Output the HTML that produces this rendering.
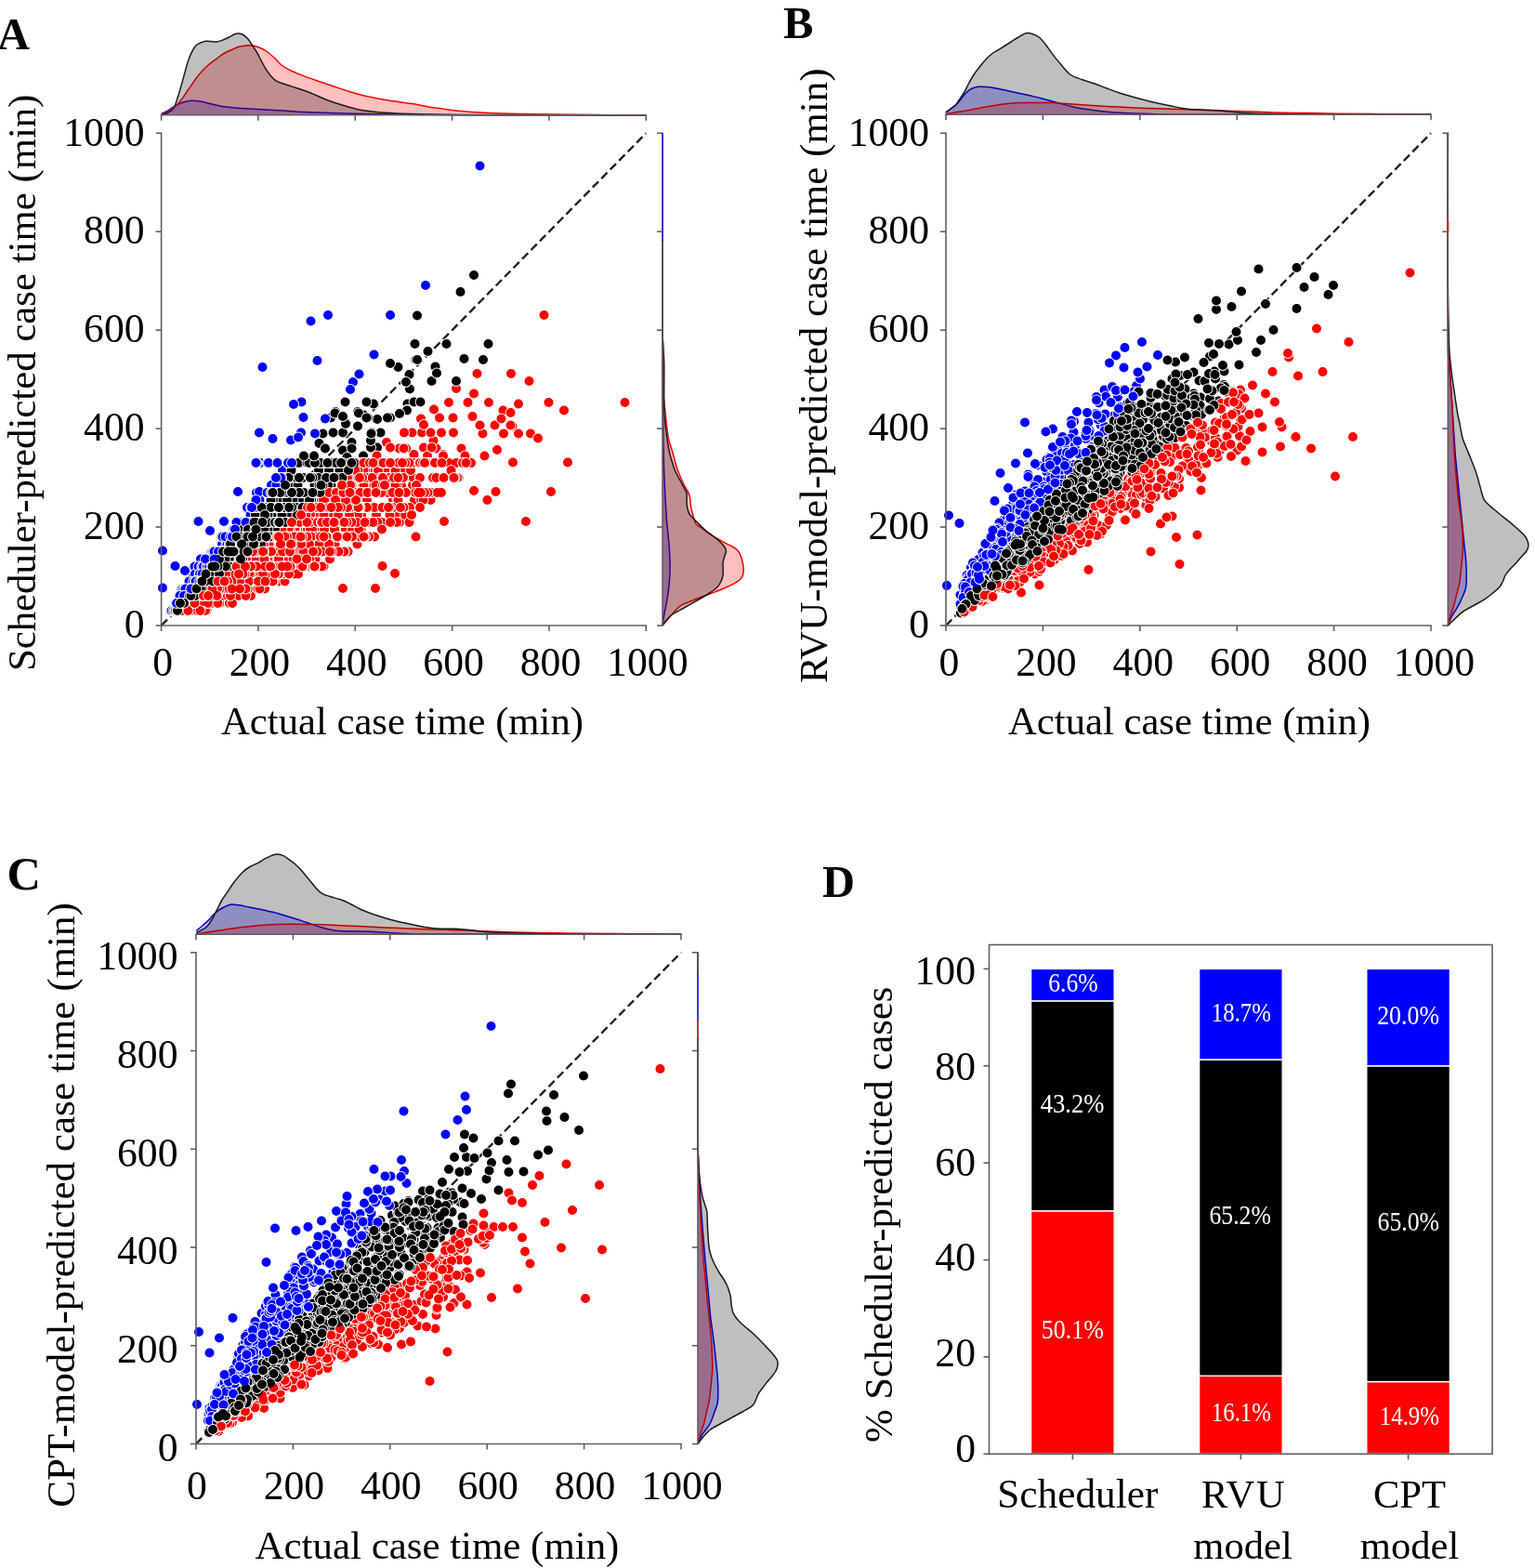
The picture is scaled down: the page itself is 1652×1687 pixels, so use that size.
<!DOCTYPE html>
<html><head><meta charset="utf-8"><title>Figure</title><style>
html,body{margin:0;padding:0;background:#fff;}
body{width:1652px;height:1687px;overflow:hidden;}
svg{display:block;}
text{font-family:'Liberation Serif','Times New Roman',serif;fill:#000;}
.tk{font-size:43.7px;}
.lb{font-size:42.6px;}
.pl{font-size:48.5px;font-weight:bold;}
.bl{font-size:28.8px;fill:#fff;}
.r{stroke:#f00;}.k{stroke:#000;}.b{stroke:#00f;}
</style></head><body>
<svg width="1652" height="1687" viewBox="0 0 1652 1687">
<rect width="100%" height="100%" fill="#fff"/>
<text x="-3" y="52.8" class="pl">A</text>
<text x="843" y="40.9" class="pl">B</text>
<text x="7.5" y="956.5" class="pl" style="font-size:50.5px">C</text>
<text x="885" y="965" class="pl">D</text>
<path d="M173.60,122.50 C174.67,122.00 177.93,120.67 180.00,119.50 C182.07,118.33 183.83,116.82 186.00,115.50 C188.17,114.18 190.67,112.65 193.00,111.60 C195.33,110.55 197.73,109.75 200.00,109.20 C202.27,108.65 203.83,108.28 206.60,108.30 C209.37,108.32 213.03,108.68 216.60,109.30 C220.17,109.92 223.60,111.05 228.00,112.00 C232.40,112.95 237.67,114.25 243.00,115.00 C248.33,115.75 254.40,116.07 260.00,116.50 C265.60,116.93 269.93,117.22 276.60,117.60 C283.27,117.98 291.67,118.30 300.00,118.80 C308.33,119.30 316.60,120.10 326.60,120.60 C336.60,121.10 348.93,121.47 360.00,121.80 C371.07,122.13 378.00,122.33 393.00,122.60 C408.00,122.87 428.83,123.20 450.00,123.40 C471.17,123.60 479.12,123.73 520.00,123.80 C560.88,123.87 666.08,123.80 695.30,123.80 L695.30,123.80 L173.60,123.80 Z" fill="#0000ff" fill-opacity="0.25" stroke="none"/>
<path d="M173.60,122.50 C174.67,122.00 177.93,120.67 180.00,119.50 C182.07,118.33 183.83,116.82 186.00,115.50 C188.17,114.18 190.67,112.65 193.00,111.60 C195.33,110.55 197.73,109.75 200.00,109.20 C202.27,108.65 203.83,108.28 206.60,108.30 C209.37,108.32 213.03,108.68 216.60,109.30 C220.17,109.92 223.60,111.05 228.00,112.00 C232.40,112.95 237.67,114.25 243.00,115.00 C248.33,115.75 254.40,116.07 260.00,116.50 C265.60,116.93 269.93,117.22 276.60,117.60 C283.27,117.98 291.67,118.30 300.00,118.80 C308.33,119.30 316.60,120.10 326.60,120.60 C336.60,121.10 348.93,121.47 360.00,121.80 C371.07,122.13 378.00,122.33 393.00,122.60 C408.00,122.87 428.83,123.20 450.00,123.40 C471.17,123.60 479.12,123.73 520.00,123.80 C560.88,123.87 666.08,123.80 695.30,123.80" fill="none" stroke="#0000ff" stroke-width="1.5" stroke-linejoin="round"/>
<path d="M173.60,123.80 C175.17,122.92 179.77,120.80 183.00,118.50 C186.23,116.20 189.67,113.75 193.00,110.00 C196.33,106.25 199.67,100.73 203.00,96.00 C206.33,91.27 209.67,85.77 213.00,81.60 C216.33,77.43 219.67,74.05 223.00,71.00 C226.33,67.95 230.00,65.55 233.00,63.30 C236.00,61.05 238.17,59.17 241.00,57.50 C243.83,55.83 247.33,54.50 250.00,53.30 C252.67,52.10 254.83,50.97 257.00,50.30 C259.17,49.63 261.17,49.55 263.00,49.30 C264.83,49.05 266.33,48.80 268.00,48.80 C269.67,48.80 271.00,48.85 273.00,49.30 C275.00,49.75 277.73,50.55 280.00,51.50 C282.27,52.45 284.10,53.25 286.60,55.00 C289.10,56.75 292.27,59.50 295.00,62.00 C297.73,64.50 299.83,67.58 303.00,70.00 C306.17,72.42 310.07,74.57 314.00,76.50 C317.93,78.43 321.77,79.77 326.60,81.60 C331.43,83.43 337.43,85.55 343.00,87.50 C348.57,89.45 354.50,91.47 360.00,93.30 C365.50,95.13 370.50,96.83 376.00,98.50 C381.50,100.17 386.00,101.72 393.00,103.30 C400.00,104.88 409.67,106.62 418.00,108.00 C426.33,109.38 434.67,110.27 443.00,111.60 C451.33,112.93 459.67,114.72 468.00,116.00 C476.33,117.28 483.33,118.37 493.00,119.30 C502.67,120.23 514.83,121.05 526.00,121.60 C537.17,122.15 548.83,122.37 560.00,122.60 C571.17,122.83 579.67,122.85 593.00,123.00 C606.33,123.15 622.95,123.37 640.00,123.50 C657.05,123.63 686.08,123.75 695.30,123.80 L695.30,123.80 L173.60,123.80 Z" fill="#ff0000" fill-opacity="0.25" stroke="none"/>
<path d="M173.60,123.80 C175.17,122.92 179.77,120.80 183.00,118.50 C186.23,116.20 189.67,113.75 193.00,110.00 C196.33,106.25 199.67,100.73 203.00,96.00 C206.33,91.27 209.67,85.77 213.00,81.60 C216.33,77.43 219.67,74.05 223.00,71.00 C226.33,67.95 230.00,65.55 233.00,63.30 C236.00,61.05 238.17,59.17 241.00,57.50 C243.83,55.83 247.33,54.50 250.00,53.30 C252.67,52.10 254.83,50.97 257.00,50.30 C259.17,49.63 261.17,49.55 263.00,49.30 C264.83,49.05 266.33,48.80 268.00,48.80 C269.67,48.80 271.00,48.85 273.00,49.30 C275.00,49.75 277.73,50.55 280.00,51.50 C282.27,52.45 284.10,53.25 286.60,55.00 C289.10,56.75 292.27,59.50 295.00,62.00 C297.73,64.50 299.83,67.58 303.00,70.00 C306.17,72.42 310.07,74.57 314.00,76.50 C317.93,78.43 321.77,79.77 326.60,81.60 C331.43,83.43 337.43,85.55 343.00,87.50 C348.57,89.45 354.50,91.47 360.00,93.30 C365.50,95.13 370.50,96.83 376.00,98.50 C381.50,100.17 386.00,101.72 393.00,103.30 C400.00,104.88 409.67,106.62 418.00,108.00 C426.33,109.38 434.67,110.27 443.00,111.60 C451.33,112.93 459.67,114.72 468.00,116.00 C476.33,117.28 483.33,118.37 493.00,119.30 C502.67,120.23 514.83,121.05 526.00,121.60 C537.17,122.15 548.83,122.37 560.00,122.60 C571.17,122.83 579.67,122.85 593.00,123.00 C606.33,123.15 622.95,123.37 640.00,123.50 C657.05,123.63 686.08,123.75 695.30,123.80" fill="none" stroke="#ff0000" stroke-width="1.5" stroke-linejoin="round"/>
<path d="M173.60,123.80 C174.67,123.42 177.82,122.68 180.00,121.50 C182.18,120.32 184.78,119.62 186.70,116.70 C188.62,113.78 189.85,109.02 191.50,104.00 C193.15,98.98 194.68,93.27 196.60,86.60 C198.52,79.93 200.77,70.10 203.00,64.00 C205.23,57.90 207.83,53.00 210.00,50.00 C212.17,47.00 214.07,46.95 216.00,46.00 C217.93,45.05 219.77,44.53 221.60,44.30 C223.43,44.07 225.05,44.48 227.00,44.60 C228.95,44.72 231.13,45.27 233.30,45.00 C235.47,44.73 237.78,43.83 240.00,43.00 C242.22,42.17 244.60,41.00 246.60,40.00 C248.60,39.00 250.33,37.67 252.00,37.00 C253.67,36.33 255.10,36.00 256.60,36.00 C258.10,36.00 259.33,36.07 261.00,37.00 C262.67,37.93 264.93,39.77 266.60,41.60 C268.27,43.43 269.33,45.50 271.00,48.00 C272.67,50.50 274.00,52.10 276.60,56.60 C279.20,61.10 283.27,70.00 286.60,75.00 C289.93,80.00 292.20,83.67 296.60,86.60 C301.00,89.53 307.43,90.65 313.00,92.60 C318.57,94.55 323.33,95.73 330.00,98.30 C336.67,100.87 346.33,105.47 353.00,108.00 C359.67,110.53 364.40,111.83 370.00,113.50 C375.60,115.17 380.77,116.82 386.60,118.00 C392.43,119.18 398.43,119.93 405.00,120.60 C411.57,121.27 416.83,121.60 426.00,122.00 C435.17,122.40 448.83,122.77 460.00,123.00 C471.17,123.23 469.67,123.27 493.00,123.40 C516.33,123.53 566.28,123.73 600.00,123.80 C633.72,123.87 679.42,123.80 695.30,123.80 L695.30,123.80 L173.60,123.80 Z" fill="#000000" fill-opacity="0.25" stroke="none"/>
<path d="M173.60,123.80 C174.67,123.42 177.82,122.68 180.00,121.50 C182.18,120.32 184.78,119.62 186.70,116.70 C188.62,113.78 189.85,109.02 191.50,104.00 C193.15,98.98 194.68,93.27 196.60,86.60 C198.52,79.93 200.77,70.10 203.00,64.00 C205.23,57.90 207.83,53.00 210.00,50.00 C212.17,47.00 214.07,46.95 216.00,46.00 C217.93,45.05 219.77,44.53 221.60,44.30 C223.43,44.07 225.05,44.48 227.00,44.60 C228.95,44.72 231.13,45.27 233.30,45.00 C235.47,44.73 237.78,43.83 240.00,43.00 C242.22,42.17 244.60,41.00 246.60,40.00 C248.60,39.00 250.33,37.67 252.00,37.00 C253.67,36.33 255.10,36.00 256.60,36.00 C258.10,36.00 259.33,36.07 261.00,37.00 C262.67,37.93 264.93,39.77 266.60,41.60 C268.27,43.43 269.33,45.50 271.00,48.00 C272.67,50.50 274.00,52.10 276.60,56.60 C279.20,61.10 283.27,70.00 286.60,75.00 C289.93,80.00 292.20,83.67 296.60,86.60 C301.00,89.53 307.43,90.65 313.00,92.60 C318.57,94.55 323.33,95.73 330.00,98.30 C336.67,100.87 346.33,105.47 353.00,108.00 C359.67,110.53 364.40,111.83 370.00,113.50 C375.60,115.17 380.77,116.82 386.60,118.00 C392.43,119.18 398.43,119.93 405.00,120.60 C411.57,121.27 416.83,121.60 426.00,122.00 C435.17,122.40 448.83,122.77 460.00,123.00 C471.17,123.23 469.67,123.27 493.00,123.40 C516.33,123.53 566.28,123.73 600.00,123.80 C633.72,123.87 679.42,123.80 695.30,123.80" fill="none" stroke="#1a1a1a" stroke-width="1.5" stroke-linejoin="round"/>
<line x1="172.80" y1="123.80" x2="696.10" y2="123.80" stroke="#5f5f5f" stroke-width="1.6"/>
<line x1="173.60" y1="123.80" x2="173.60" y2="129.80" stroke="#5f5f5f" stroke-width="1.6"/>
<line x1="277.94" y1="123.80" x2="277.94" y2="129.80" stroke="#5f5f5f" stroke-width="1.6"/>
<line x1="382.28" y1="123.80" x2="382.28" y2="129.80" stroke="#5f5f5f" stroke-width="1.6"/>
<line x1="486.62" y1="123.80" x2="486.62" y2="129.80" stroke="#5f5f5f" stroke-width="1.6"/>
<line x1="590.96" y1="123.80" x2="590.96" y2="129.80" stroke="#5f5f5f" stroke-width="1.6"/>
<line x1="695.30" y1="123.80" x2="695.30" y2="129.80" stroke="#5f5f5f" stroke-width="1.6"/>
<path d="M713.00,673.00 C713.33,670.83 714.17,664.67 715.00,660.00 C715.83,655.33 717.17,650.00 718.00,645.00 C718.83,640.00 719.50,635.00 720.00,630.00 C720.50,625.00 720.83,619.50 721.00,615.00 C721.17,610.50 721.12,607.17 721.00,603.00 C720.88,598.83 720.63,594.67 720.30,590.00 C719.97,585.33 719.47,580.00 719.00,575.00 C718.53,570.00 717.92,565.00 717.50,560.00 C717.08,555.00 716.83,550.83 716.50,545.00 C716.17,539.17 715.82,531.67 715.50,525.00 C715.18,518.33 714.85,512.50 714.60,505.00 C714.35,497.50 714.18,490.83 714.00,480.00 C713.82,469.17 713.67,453.33 713.50,440.00 C713.33,426.67 713.08,449.45 713.00,400.00 C712.92,350.55 713.00,186.08 713.00,143.30 L713.00,143.30 L713.00,673.00 Z" fill="#0000ff" fill-opacity="0.25" stroke="none"/>
<path d="M713.00,673.00 C713.33,670.83 714.17,664.67 715.00,660.00 C715.83,655.33 717.17,650.00 718.00,645.00 C718.83,640.00 719.50,635.00 720.00,630.00 C720.50,625.00 720.83,619.50 721.00,615.00 C721.17,610.50 721.12,607.17 721.00,603.00 C720.88,598.83 720.63,594.67 720.30,590.00 C719.97,585.33 719.47,580.00 719.00,575.00 C718.53,570.00 717.92,565.00 717.50,560.00 C717.08,555.00 716.83,550.83 716.50,545.00 C716.17,539.17 715.82,531.67 715.50,525.00 C715.18,518.33 714.85,512.50 714.60,505.00 C714.35,497.50 714.18,490.83 714.00,480.00 C713.82,469.17 713.67,453.33 713.50,440.00 C713.33,426.67 713.08,449.45 713.00,400.00 C712.92,350.55 713.00,186.08 713.00,143.30" fill="none" stroke="#0000ff" stroke-width="1.5" stroke-linejoin="round"/>
<path d="M713.00,673.00 C714.50,671.25 718.73,666.05 722.00,662.50 C725.27,658.95 728.27,654.62 732.60,651.70 C736.93,648.78 742.60,647.18 748.00,645.00 C753.40,642.82 760.00,640.52 765.00,638.60 C770.00,636.68 774.17,635.12 778.00,633.50 C781.83,631.88 785.00,630.48 788.00,628.90 C791.00,627.32 794.10,625.65 796.00,624.00 C797.90,622.35 798.70,620.92 799.40,619.00 C800.10,617.08 800.20,614.67 800.20,612.50 C800.20,610.33 799.85,608.25 799.40,606.00 C798.95,603.75 798.30,601.17 797.50,599.00 C796.70,596.83 796.02,594.75 794.60,593.00 C793.18,591.25 791.18,589.87 789.00,588.50 C786.82,587.13 784.50,586.38 781.50,584.80 C778.50,583.22 774.25,580.90 771.00,579.00 C767.75,577.10 764.67,575.23 762.00,573.40 C759.33,571.57 757.17,569.63 755.00,568.00 C752.83,566.37 750.50,565.77 749.00,563.60 C747.50,561.43 746.83,557.72 746.00,555.00 C745.17,552.28 744.50,549.72 744.00,547.30 C743.50,544.88 743.27,542.67 743.00,540.50 C742.73,538.33 742.98,536.47 742.40,534.30 C741.82,532.13 740.58,529.67 739.50,527.50 C738.42,525.33 737.10,523.72 735.90,521.30 C734.70,518.88 733.45,515.72 732.30,513.00 C731.15,510.28 729.97,507.75 729.00,505.00 C728.03,502.25 727.25,499.23 726.50,496.50 C725.75,493.77 725.25,491.27 724.50,488.60 C723.75,485.93 722.82,483.22 722.00,480.50 C721.18,477.78 720.38,476.38 719.60,472.30 C718.82,468.22 717.97,461.43 717.30,456.00 C716.63,450.57 716.08,444.37 715.60,439.70 C715.12,435.03 714.72,431.78 714.40,428.00 C714.08,424.22 713.93,421.67 713.70,417.00 C713.47,412.33 713.12,445.62 713.00,400.00 C712.88,354.38 713.00,186.08 713.00,143.30 L713.00,143.30 L713.00,673.00 Z" fill="#ff0000" fill-opacity="0.25" stroke="none"/>
<path d="M713.00,673.00 C714.50,671.25 718.73,666.05 722.00,662.50 C725.27,658.95 728.27,654.62 732.60,651.70 C736.93,648.78 742.60,647.18 748.00,645.00 C753.40,642.82 760.00,640.52 765.00,638.60 C770.00,636.68 774.17,635.12 778.00,633.50 C781.83,631.88 785.00,630.48 788.00,628.90 C791.00,627.32 794.10,625.65 796.00,624.00 C797.90,622.35 798.70,620.92 799.40,619.00 C800.10,617.08 800.20,614.67 800.20,612.50 C800.20,610.33 799.85,608.25 799.40,606.00 C798.95,603.75 798.30,601.17 797.50,599.00 C796.70,596.83 796.02,594.75 794.60,593.00 C793.18,591.25 791.18,589.87 789.00,588.50 C786.82,587.13 784.50,586.38 781.50,584.80 C778.50,583.22 774.25,580.90 771.00,579.00 C767.75,577.10 764.67,575.23 762.00,573.40 C759.33,571.57 757.17,569.63 755.00,568.00 C752.83,566.37 750.50,565.77 749.00,563.60 C747.50,561.43 746.83,557.72 746.00,555.00 C745.17,552.28 744.50,549.72 744.00,547.30 C743.50,544.88 743.27,542.67 743.00,540.50 C742.73,538.33 742.98,536.47 742.40,534.30 C741.82,532.13 740.58,529.67 739.50,527.50 C738.42,525.33 737.10,523.72 735.90,521.30 C734.70,518.88 733.45,515.72 732.30,513.00 C731.15,510.28 729.97,507.75 729.00,505.00 C728.03,502.25 727.25,499.23 726.50,496.50 C725.75,493.77 725.25,491.27 724.50,488.60 C723.75,485.93 722.82,483.22 722.00,480.50 C721.18,477.78 720.38,476.38 719.60,472.30 C718.82,468.22 717.97,461.43 717.30,456.00 C716.63,450.57 716.08,444.37 715.60,439.70 C715.12,435.03 714.72,431.78 714.40,428.00 C714.08,424.22 713.93,421.67 713.70,417.00 C713.47,412.33 713.12,445.62 713.00,400.00 C712.88,354.38 713.00,186.08 713.00,143.30" fill="none" stroke="#ff0000" stroke-width="1.5" stroke-linejoin="round"/>
<path d="M713.00,673.00 C713.58,672.17 714.87,669.92 716.50,668.00 C718.13,666.08 719.38,663.92 722.80,661.50 C726.22,659.08 732.13,656.25 737.00,653.50 C741.87,650.75 747.67,647.50 752.00,645.00 C756.33,642.50 759.72,640.67 763.00,638.50 C766.28,636.33 769.53,634.17 771.70,632.00 C773.87,629.83 774.95,627.67 776.00,625.50 C777.05,623.33 777.63,621.17 778.00,619.00 C778.37,616.83 778.20,614.67 778.20,612.50 C778.20,610.33 777.78,608.17 778.00,606.00 C778.22,603.83 778.92,601.67 779.50,599.50 C780.08,597.33 781.50,594.92 781.50,593.00 C781.50,591.08 780.58,589.67 779.50,588.00 C778.42,586.33 777.08,584.92 775.00,583.00 C772.92,581.08 769.72,578.67 767.00,576.50 C764.28,574.33 761.53,572.50 758.70,570.00 C755.87,567.50 752.72,564.18 750.00,561.50 C747.28,558.82 744.07,556.23 742.40,553.90 C740.73,551.57 740.57,549.68 740.00,547.50 C739.43,545.32 739.17,543.55 739.00,540.80 C738.83,538.05 739.50,533.72 739.00,531.00 C738.50,528.28 737.07,526.67 736.00,524.50 C734.93,522.33 733.77,520.17 732.60,518.00 C731.43,515.83 730.10,513.67 729.00,511.50 C727.90,509.33 726.95,507.45 726.00,505.00 C725.05,502.55 724.13,499.53 723.30,496.80 C722.47,494.07 721.67,491.32 721.00,488.60 C720.33,485.88 719.80,483.27 719.30,480.50 C718.80,477.73 718.55,476.08 718.00,472.00 C717.45,467.92 716.55,461.38 716.00,456.00 C715.45,450.62 714.92,446.53 714.70,439.70 C714.48,432.87 714.70,423.12 714.70,415.00 C714.70,406.88 714.85,398.50 714.70,391.00 C714.55,383.50 714.08,378.50 713.80,370.00 C713.52,361.50 713.13,377.78 713.00,340.00 C712.87,302.22 713.00,176.08 713.00,143.30 L713.00,143.30 L713.00,673.00 Z" fill="#000000" fill-opacity="0.25" stroke="none"/>
<path d="M713.00,673.00 C713.58,672.17 714.87,669.92 716.50,668.00 C718.13,666.08 719.38,663.92 722.80,661.50 C726.22,659.08 732.13,656.25 737.00,653.50 C741.87,650.75 747.67,647.50 752.00,645.00 C756.33,642.50 759.72,640.67 763.00,638.50 C766.28,636.33 769.53,634.17 771.70,632.00 C773.87,629.83 774.95,627.67 776.00,625.50 C777.05,623.33 777.63,621.17 778.00,619.00 C778.37,616.83 778.20,614.67 778.20,612.50 C778.20,610.33 777.78,608.17 778.00,606.00 C778.22,603.83 778.92,601.67 779.50,599.50 C780.08,597.33 781.50,594.92 781.50,593.00 C781.50,591.08 780.58,589.67 779.50,588.00 C778.42,586.33 777.08,584.92 775.00,583.00 C772.92,581.08 769.72,578.67 767.00,576.50 C764.28,574.33 761.53,572.50 758.70,570.00 C755.87,567.50 752.72,564.18 750.00,561.50 C747.28,558.82 744.07,556.23 742.40,553.90 C740.73,551.57 740.57,549.68 740.00,547.50 C739.43,545.32 739.17,543.55 739.00,540.80 C738.83,538.05 739.50,533.72 739.00,531.00 C738.50,528.28 737.07,526.67 736.00,524.50 C734.93,522.33 733.77,520.17 732.60,518.00 C731.43,515.83 730.10,513.67 729.00,511.50 C727.90,509.33 726.95,507.45 726.00,505.00 C725.05,502.55 724.13,499.53 723.30,496.80 C722.47,494.07 721.67,491.32 721.00,488.60 C720.33,485.88 719.80,483.27 719.30,480.50 C718.80,477.73 718.55,476.08 718.00,472.00 C717.45,467.92 716.55,461.38 716.00,456.00 C715.45,450.62 714.92,446.53 714.70,439.70 C714.48,432.87 714.70,423.12 714.70,415.00 C714.70,406.88 714.85,398.50 714.70,391.00 C714.55,383.50 714.08,378.50 713.80,370.00 C713.52,361.50 713.13,377.78 713.00,340.00 C712.87,302.22 713.00,176.08 713.00,143.30" fill="none" stroke="#1a1a1a" stroke-width="1.5" stroke-linejoin="round"/>
<line x1="713.00" y1="142.50" x2="713.00" y2="673.80" stroke="#5f5f5f" stroke-width="1.6"/>
<line x1="707.00" y1="673.00" x2="713.00" y2="673.00" stroke="#5f5f5f" stroke-width="1.6"/>
<line x1="707.00" y1="567.06" x2="713.00" y2="567.06" stroke="#5f5f5f" stroke-width="1.6"/>
<line x1="707.00" y1="461.12" x2="713.00" y2="461.12" stroke="#5f5f5f" stroke-width="1.6"/>
<line x1="707.00" y1="355.18" x2="713.00" y2="355.18" stroke="#5f5f5f" stroke-width="1.6"/>
<line x1="707.00" y1="249.24" x2="713.00" y2="249.24" stroke="#5f5f5f" stroke-width="1.6"/>
<line x1="707.00" y1="143.30" x2="713.00" y2="143.30" stroke="#5f5f5f" stroke-width="1.6"/>
<line x1="713.30" y1="143.50" x2="713.30" y2="260.00" stroke="#3030ff" stroke-width="1.5"/>
<line x1="173.60" y1="673.00" x2="695.30" y2="143.30" stroke="#222" stroke-width="2.4" stroke-dasharray="9,4.5"/>
<g transform="scale(.5)" fill="none" stroke-linecap="round" stroke-width="20.0"><path d="M645 996h0m56 0h0m-105 64h0m-50 32h0m253 0h0m-170 32h0m64 0h0m115 0h0m-132 15h0m-181 32h0m38-16h0m-44 32h0m20 0h0m63 0h0m-32 32h0m41 0h0m42 0h0m-149 16h0m-18 16h0m6 0h0m-56 31h0m14 0h0m47 0h0m-82 16h0m18 0h0" stroke="#fff" stroke-width="23.8"/>
<path d="M799 1092h0m-170 32h0m64 0h0m115 0h0m-132 15h0m-104 48h0m-32 32h0m41 0h0m42 0h0m-156 63h0" class="r"/>
<path d="M645 996h0m56 0h0m-105 64h0m-101 111h0m38-16h0m-44 32h0m20 0h0m-35 48h0m-18 16h0m6 0h0m-56 31h0m14 0h0m-17 16h0" class="k"/>
<path d="M546 1092h0m-161 206h0" class="b"/>
<path d="M916 614h0m-278 414h0m-69 32h0m87 16h0m61 16h0m-177 16h0m64 16h0m8 0h0m145 0h0m-254 31h0m6 0h0m32 0h0m-85 32h0m27 0h0m13 0h0m4 0h0m1 0h0m-38 32h0m128 0h0m-194 48h0m59-16h0m39 0h0m11 16h0m-125 31h0m35 0h0" stroke="#fff" stroke-width="23.8"/>
<path d="M717 1092h0m40 32h0m-166 95h0m-96 32h0m11 16h0m-90 31h0" class="r"/>
<path d="M638 1028h0m18 48h0m-52 48h0m8 0h0m-103 31h0m32 0h0m-58 32h0m13 0h0m4 0h0m1 0h0m-38 32h0m-7 32h0" class="k"/>
<path d="M916 614h0m-347 446h0m-29 48h0m-37 47h0m-47 32h0m-59 80h0m-16 31h0" class="b"/>
<path d="M695 933h0m103 32h0m-94 31h0m149 16h0m-261 48h0m21 0h0m34 32h0m-128 32h0m15 31h0m3 0h0m172 0h0m-197 32h0m14 0h0m-79 32h0m49 0h0m80 0h0m-89 16h0m-48 16h0m26 0h0m35 16h0m46-16h0m-142 31h0m101 0h0m-116 16h0m10 16h0" stroke="#fff" stroke-width="23.8"/>
<path d="M853 1012h0m-144 143h0m-133 64h0m-89 16h0m-22 16h0m35 16h0m46-16h0m-41 31h0m-106 32h0" class="r"/>
<path d="M695 933h0m103 32h0m-94 31h0m-112 64h0m21 0h0m34 32h0m-113 63h0m3 0h0m-25 32h0m14 0h0m-30 32h0m-57 32h0m-35 31h0m-15 16h0" class="k"/>
<path d="M519 1124h0m-72 95h0" class="b"/>
<path d="M891 978h0m-41 18h0m-142 16h0m-82 64h0m-4 79h0m93 16h0m-208 16h0m53 0h0m15 0h0m-103 32h0m6 0h0m30-16h0m18 16h0m13 0h0m-123 16h0m7 32h0m11-16h0m8 16h0m27-16h0m56 0h0m-125 31h0m1 0h0m68 0h0m-96 32h0m35-16h0" stroke="#fff" stroke-width="23.8"/>
<path d="M891 978h0m-41 18h0m-228 159h0m93 16h0m-155 16h0m15 0h0m-49 32h0m13 0h0m-70 32h0m56 0h0m-56 31h0m-61 16h0" class="r"/>
<path d="M708 1012h0m-82 64h0m-119 111h0m-35 32h0m6 0h0m30-16h0m-85 64h0m11-16h0m8 16h0m-42 15h0m1 0h0m-28 32h0" class="k"/>
<path d="M416 1235h0" class="b"/>
<path d="M946 899h0m-179 97h0m13 32h0m-212 64h0m10 0h0m-68 79h0m21 0h0m6 0h0m53-16h0m-70 32h0m37 0h0m-93 32h0m28 0h0m12 0h0m2 0h0m40 0h0m25-16h0m78 16h0m174-1h0m-413 49h0m22-16h0m20 16h0m0 0h0m73-16h0m22 0h0" stroke="#fff" stroke-width="23.8"/>
<path d="M946 899h0m-166 129h0m-190 127h0m-33 32h0m-53 32h0m2 0h0m40 0h0m25-16h0m78 16h0m174-1h0m-371 49h0m0 0h0m73-16h0m22 0h0" class="r"/>
<path d="M767 996h0m-199 96h0m10 0h0m-68 79h0m21 0h0m6 0h0m-17 16h0m-56 32h0m28 0h0m-60 32h0" class="k"/>
<path d="M410 1267h0" class="b"/>
<path d="M881 806h0m-62 125h0m-66 65h0m-155 32h0m135 0h0m-140 64h0m-18 16h0m14 31h0m55 0h0m-143 48h0m54 0h0m7 0h0m27 32h0m55-16h0m38 0h0m-239 32h0m-27 32h0m39-16h0m9 0h0m5 0h0m6 16h0m16-16h0m57 0h0m36 0h0m-176 31h0" stroke="#fff" stroke-width="23.8"/>
<path d="M644 1139h0m-89 48h0m7 0h0m27 32h0m55-16h0m38 0h0m-213 48h0m6 16h0m16-16h0m57 0h0m36 0h0" class="r"/>
<path d="M881 806h0m-62 125h0m-66 65h0m-20 32h0m-140 64h0m-18 16h0m14 31h0m-88 48h0m-58 48h0m-27 32h0m39-16h0m9 0h0m-56 31h0" class="k"/>
<path d="M598 1028h0" class="b"/>
<path d="M760 822h0m62 206h0m227 48h0m-415 48h0m77 0h0m-202 31h0m216 0h0m-167 32h0m-94 32h0m1-16h0m54 16h0m6 0h0m3 0h0m44 0h0m18 0h0m24 0h0m73 0h0m-210 16h0m108 0h0m-151 16h0m28 0h0m19 16h0m73-16h0m-100 31h0m-55 16h0" stroke="#fff" stroke-width="23.8"/>
<path d="M822 1028h0m227 48h0m-415 48h0m77 0h0m14 31h0m-167 32h0m-39 32h0m6 0h0m3 0h0m44 0h0m18 0h0m24 0h0m73 0h0m-102 16h0m-104 32h0m73-16h0m-100 31h0" class="r"/>
<path d="M509 1155h0m-45 64h0m1-16h0m12 32h0m-43 16h0m28 0h0m-63 47h0" class="k"/>
<path d="M760 822h0" class="b"/>
<path d="M882 837h0m-233 28h0m60 131h0m179 32h0m-234 32h0m58 0h0m-155 64h0m10-16h0m59 16h0m230-16h0m-313 63h0m-4 16h0m11 0h0m17 0h0m-97 32h0m59-16h0m65 0h0m26 16h0m-165 16h0m-33 32h0m62 0h0m-57 15h0m4 0h0m38 0h0m-86 16h0" stroke="#fff" stroke-width="23.8"/>
<path d="M888 1028h0m-176 32h0m-86 64h0m230-16h0m-306 79h0m17 0h0m-38 16h0m65 0h0m26 16h0m-136 48h0m-57 15h0m4 0h0m38 0h0" class="r"/>
<path d="M882 837h0m-173 159h0m-55 64h0m-97 64h0m10-16h0m-24 63h0m-4 16h0m-69 32h0m-15 16h0m-33 32h0" class="k"/>
<path d="M649 865h0m-266 433h0" class="b"/>
<path d="M812 1028h0m-128 32h0m-131 64h0m53 0h0m1 0h0m31 15h0m-136 16h0m37 0h0m39 16h0m38-16h0m-161 32h0m10 0h0m41 0h0m52 0h0m90 0h0m55 0h0m-235 16h0m2 16h0m3 0h0m1 0h0m23 0h0m44-16h0m-109 48h0m6 0h0m-37 31h0" stroke="#fff" stroke-width="23.8"/>
<path d="M812 1028h0m-174 111h0m-60 32h0m38-16h0m-58 32h0m90 0h0m55 0h0m-162 16h0" class="r"/>
<path d="M684 1060h0m-131 64h0m53 0h0m1 0h0m-68 31h0m-33 32h0m-38 16h0m2 16h0m3 0h0m1 0h0m23 0h0m-65 32h0m6 0h0m-37 31h0" class="k"/>
<path d="M502 1155h0m-47 32h0m10 0h0" class="b"/>
<path d="M790 996h0m-51 80h0m7 0h0m-6 16h0m-148 32h0m119 0h0m-137 47h0m-105 16h0m107 0h0m37 0h0m28 0h0m-180 32h0m13 0h0m3 0h0m60 0h0m-86 16h0m-39 32h0m7 0h0m49 0h0m10 0h0m27-16h0m21 0h0m-106 31h0m58 0h0m-99 32h0" stroke="#fff" stroke-width="23.8"/>
<path d="M790 996h0m-51 80h0m7 0h0m-6 16h0m-29 32h0m-137 47h0m2 16h0m37 0h0m28 0h0m-104 32h0m-69 48h0m10 0h0m27-16h0m21 0h0m-48 31h0" class="r"/>
<path d="M592 1124h0m-131 95h0m13 0h0m3 0h0m-26 16h0m-32 32h0m1 15h0m-41 32h0" class="k"/>
<path d="M469 1187h0m-57 80h0" class="b"/>
<path d="M898 996h0m-72 32h0m-241 32h0m-40 32h0m252 0h0m12 0h0m-199 32h0m-100 31h0m0 0h0m131 0h0m41 0h0m-82 32h0m68 0h0m-180 16h0m42 16h0m36 0h0m12 0h0m-122 16h0m58 0h0m31 0h0m21 0h0m-148 32h0m32-16h0m1 0h0m14 0h0" stroke="#fff" stroke-width="23.8"/>
<path d="M898 996h0m-72 32h0m-29 64h0m12 0h0m-168 63h0m41 0h0m-82 32h0m68 0h0m-138 32h0m36 0h0m12 0h0m-64 16h0m31 0h0m21 0h0m-101 16h0" class="r"/>
<path d="M585 1060h0m25 64h0m-100 31h0m0 0h0m-22 48h0m-32 32h0m-38 32h0m32-16h0m1 0h0" class="k"/>
<path d="M545 1092h0" class="b"/>
<path d="M794 996h0m39 16h0m-226 64h0m54 0h0m83-16h0m-81 32h0m20 0h0m25 0h0m-172 32h0m16-16h0m278 16h0m-295 31h0m61 0h0m5 0h0m102 0h0m-150 32h0m48 0h0m-158 32h0m26 0h0m55 0h0m37 16h0m-106 32h0m126-16h0m-154 31h0m-32 32h0" stroke="#fff" stroke-width="23.8"/>
<path d="M794 996h0m39 16h0m-89 48h0m-81 32h0m20 0h0m25 0h0m122 32h0m-234 31h0m5 0h0m102 0h0m-150 32h0m48 0h0m-77 32h0m37 16h0m-106 32h0m126-16h0m-154 31h0m-32 32h0" class="r"/>
<path d="M607 1076h0m54 0h0m-125 48h0m16-16h0m-17 47h0m-66 64h0" class="k"/>
<path d="M443 1219h0" class="b"/>
<path d="M993 965h0m-15 31h0m-322 32h0m32 16h0m-175 80h0m30 0h0m13 0h0m20 0h0m-58 31h0m65 16h0m19 0h0m109 0h0m11-16h0m-222 32h0m42 0h0m8 0h0m142 0h0m-186 32h0m12 0h0m62 0h0m50 0h0m-209 32h0m19 0h0m-47 63h0m20-16h0" stroke="#fff" stroke-width="23.8"/>
<path d="M993 965h0m-15 31h0m-395 175h0m19 0h0m109 0h0m11-16h0m-172 32h0m142 0h0m-186 32h0m12 0h0m62 0h0m50 0h0m-237 95h0m20-16h0" class="r"/>
<path d="M656 1028h0m32 16h0m-145 80h0m13 0h0m20 0h0m-58 31h0m-18 32h0m42 0h0m-102 64h0" class="k"/>
<path d="M513 1124h0m-92 127h0" class="b"/>
<path d="M754 838h0m123 31h0m-82 127h0m-161 32h0m22 0h0m-32 48h0m136-16h0m9 0h0m-183 48h0m241 16h0m-265 15h0m-62 48h0m56 0h0m93 0h0m6 0h0m-211 32h0m34 0h0m77-16h0m110 16h0m-198 16h0m70 0h0m-116 32h0m59-16h0m25 31h0m-74 32h0" stroke="#fff" stroke-width="23.8"/>
<path d="M795 996h0m-35 64h0m9 0h0m58 64h0m-271 63h0m93 0h0m6 0h0m-100 16h0m110 16h0m-128 16h0m-57 16h0m25 31h0m-74 32h0" class="r"/>
<path d="M877 869h0m-243 159h0m22 0h0m-32 48h0m-38 32h0m-24 31h0m-62 48h0m-22 32h0m-11 16h0m-46 32h0" class="k"/>
<path d="M754 838h0m-310 381h0" class="b"/>
<path d="M1008 996h0m-121 32h0m-386 127h0m12 16h0m23 0h0m28-16h0m75 0h0m-167 32h0m9 0h0m60 0h0m44 0h0m20 0h0m76 0h0m-223 32h0m44 0h0m28 0h0m-46 16h0m61 0h0m-126 32h0m7 0h0m20-16h0m15 16h0m23-16h0m42 0h0m-125 47h0" stroke="#fff" stroke-width="23.8"/>
<path d="M1008 996h0m-121 32h0m-248 127h0m-54 32h0m20 0h0m76 0h0m-151 32h0m15 16h0m-84 32h0m23-16h0m42 0h0" class="r"/>
<path d="M513 1171h0m23 0h0m28-16h0m-83 32h0m60 0h0m-83 32h0m44 0h0m-18 16h0m-65 32h0m7 0h0m20-16h0m-45 47h0" class="k"/>
<path d="M501 1155h0m-29 32h0" class="b"/>
<path d="M757 952h0m-197 44h0m100 0h0m207 0h0m97 0h0m-165 16h0m-55 64h0m-125 16h0m8 0h0m-147 79h0m126-16h0m1 0h0m94 0h0m-215 32h0m111 0h0m38 0h0m-169 32h0m218 0h0m-261 48h0m22 0h0m5 0h0m18-16h0m97 0h0m-122 31h0m-40 32h0" stroke="#fff" stroke-width="23.8"/>
<path d="M867 996h0m97 0h0m-165 16h0m-55 64h0m-138 79h0m1 0h0m94 0h0m-104 32h0m38 0h0m49 32h0m-234 48h0m18-16h0m97 0h0m-122 31h0m-40 32h0" class="r"/>
<path d="M757 952h0m-97 44h0m-41 96h0m8 0h0m-141 95h0m-20 32h0m-43 48h0m22 0h0" class="k"/>
<path d="M560 996h0m-80 175h0" class="b"/>
<path d="M912 963h0m-200 33h0m176 48h0m-277 16h0m195 0h0m-267 32h0m14 32h0m113 0h0m112-16h0m-253 47h0m79 0h0m-128 32h0m35 0h0m5 0h0m57 0h0m54 0h0m-42 16h0m-153 64h0m21 0h0m3-16h0m22 0h0m2 0h0m-39 31h0m42 0h0m-90 32h0" stroke="#fff" stroke-width="23.8"/>
<path d="M912 963h0m-24 81h0m-82 16h0m-140 64h0m112-16h0m-174 47h0m-31 32h0m54 0h0m-42 16h0m-132 64h0m25-16h0m2 0h0m-39 31h0m42 0h0m-90 32h0" class="r"/>
<path d="M712 996h0m-101 64h0m-58 64h0m-28 31h0m-14 32h0m5 0h0m-84 80h0m24-16h0" class="k"/>
<path d="M539 1092h0m-63 95h0" class="b"/>
<path d="M939 996h0m-293 32h0m244 0h0m-299 32h0m9 0h0m13 0h0m7 0h0m31 0h0m191 0h0m-191 64h0m113 0h0m-252 15h0m-22 32h0m46-16h0m130 16h0m-173 16h0m14 0h0m-75 16h0m28 16h0m-33 32h0m2 16h0m20 0h0m14-16h0m125 0h0m-145 47h0" stroke="#fff" stroke-width="23.8"/>
<path d="M939 996h0m-49 32h0m-48 32h0m-191 64h0m113 0h0m-98 47h0m-217 96h0m139-16h0m-145 47h0" class="r"/>
<path d="M646 1028h0m-55 32h0m9 0h0m13 0h0m7 0h0m31 0h0m-115 95h0m-43 32h0m14 0h0m-47 32h0m-33 32h0m2 16h0m34-16h0" class="k"/>
<path d="M512 1139h0m-22 32h0m-58 32h0" class="b"/>
<path d="M565 790h0m268 238h0m37-16h0m-185 48h0m-94 32h0m117 0h0m129 0h0m-304 32h0m1 0h0m34 0h0m1 0h0m28 0h0m43 0h0m-37 31h0m6 0h0m45 16h0m-139 16h0m13 0h0m-47 32h0m7 0h0m61 0h0m28 0h0m18-16h0m-126 32h0m-24 16h0" stroke="#fff" stroke-width="23.8"/>
<path d="M833 1028h0m37-16h0m-162 80h0m129 0h0m-197 32h0m-37 31h0m6 0h0m45 16h0m-105 48h0m28 0h0m18-16h0" class="r"/>
<path d="M685 1060h0m-94 32h0m-58 32h0m1 0h0m34 0h0m1 0h0m28 0h0m-82 63h0m13 0h0m-47 32h0m7 0h0m-19 16h0m-24 16h0" class="k"/>
<path d="M565 790h0" class="b"/>
<path d="M939 965h0m-241 31h0m211 0h0m-78 64h0m-250 64h0m202 0h0m-196 15h0m158 0h0m-148 16h0m38 0h0m1 0h0m-162 32h0m88 0h0m18 0h0m-116 16h0m3 16h0m19 0h0m94 0h0m-90 16h0m77 0h0m-53 32h0m44-16h0m-175 63h0m16-16h0m14 0h0" stroke="#fff" stroke-width="23.8"/>
<path d="M939 965h0m-30 31h0m-78 64h0m-48 64h0m-38 15h0m-148 16h0m38 0h0m1 0h0m-74 32h0m18 0h0m0 32h0m-90 16h0m77 0h0m-53 32h0m44-16h0m-145 47h0" class="r"/>
<path d="M698 996h0m-117 128h0m6 15h0m-120 80h0m19 0h0m-103 95h0m16-16h0" class="k"/>
<path d="M474 1187h0m-10 16h0" class="b"/>
<path d="M861 889h0m156 7h0m-63 82h0m-159 50h0m54 0h0m-108 16h0m-165 16h0m274 0h0m-423 62h0m182 2h0m31 0h0m-142 47h0m205-16h0m-256 64h0m61 0h0m27-16h0m93 0h0m-123 32h0m-85 32h0m23-16h0m11 0h0m6 16h0m84 0h0m-112 15h0m-4 16h0" stroke="#fff" stroke-width="23.8"/>
<path d="M1017 896h0m-63 82h0m-159 50h0m54 0h0m-108 16h0m109 16h0m-210 64h0m63 31h0m-195 64h0m27-16h0m93 0h0m-123 32h0m-45 32h0m84 0h0m-112 15h0m-4 16h0" class="r"/>
<path d="M861 889h0m-252 235h0m-111 47h0m-78 96h0m23-16h0m11 0h0" class="k"/>
<path d="M576 1060h0m-149 62h0m20 97h0" class="b"/>
<path d="M745 910h0m56 118h0m35 32h0m-221 32h0m14 0h0m20 32h0m-146 15h0m-3 32h0m45-16h0m87 0h0m18 0h0m53 0h0m-145 64h0m43-16h0m-59 32h0m-120 16h0m1 16h0m24-16h0m20 16h0m39 0h0m43-16h0m-149 31h0m-23 32h0m16-16h0m100 0h0" stroke="#fff" stroke-width="23.8"/>
<path d="M801 1028h0m35 32h0m-187 64h0m-17 31h0m18 0h0m53 0h0m-145 64h0m43-16h0m-59 32h0m-75 32h0m39 0h0m43-16h0m-56 47h0" class="r"/>
<path d="M745 910h0m-130 182h0m14 0h0m-129 79h0m45-16h0m-122 112h0m24-16h0m-47 31h0m-23 32h0m16-16h0" class="k"/>
<path d="M503 1139h0m-81 112h0" class="b"/>
<path d="M700 996h0m113 16h0m-248 48h0m16 32h0m-47 32h0m53 0h0m25 0h0m-109 63h0m79 0h0m14 0h0m35 0h0m-135 32h0m0 0h0m37-16h0m3 16h0m8 0h0m21 0h0m-155 48h0m22-16h0m49 16h0m16 0h0m12 0h0m-108 15h0m62 0h0m-33 16h0" stroke="#fff" stroke-width="23.8"/>
<path d="M813 1012h0m-231 175h0m14 0h0m35 0h0m-98 16h0m3 16h0m8 0h0m21 0h0m-84 48h0m16 0h0m12 0h0m-46 15h0m-33 16h0" class="r"/>
<path d="M700 996h0m-119 96h0m-47 32h0m53 0h0m25 0h0m-109 63h0m-7 32h0m0 0h0m-64 32h0m-31 31h0" class="k"/>
<path d="M565 1060h0m-155 207h0" class="b"/>
<path d="M561 1060h0m40 0h0m136 32h0m5 0h0m66 0h0m-211 32h0m52 0h0m192 0h0m-337 31h0m108 0h0m13 16h0m63-16h0m-213 32h0m11 0h0m18 0h0m11 0h0m65 0h0m-34 32h0m107-16h0m-239 64h0m34-16h0m24 0h0m126 0h0m-115 31h0m25 0h0" stroke="#fff" stroke-width="23.8"/>
<path d="M737 1092h0m5 0h0m66 0h0m-159 32h0m192 0h0m-229 31h0m13 16h0m63-16h0m-108 32h0m-34 32h0m107-16h0m-181 48h0m126 0h0m-115 31h0m25 0h0" class="r"/>
<path d="M601 1060h0m-4 64h0m-93 31h0m-18 32h0m18 0h0m11 0h0m-101 80h0m34-16h0" class="k"/>
<path d="M561 1060h0m-86 127h0" class="b"/>
<path d="M1033 357h0m-236 639h0m13 48h0m-181 16h0m48 0h0m53 0h0m92 0h0m-244 32h0m109 0h0m44 0h0m-238 63h0m143 16h0m71-16h0m-188 32h0m48 0h0m-69 32h0m12 0h0m1-16h0m-45 32h0m-44 16h0m18 16h0m1 0h0m56 0h0m57-16h0m-150 47h0" stroke="#fff" stroke-width="23.8"/>
<path d="M797 996h0m13 48h0m-80 16h0m92 0h0m-135 32h0m44 0h0m-95 79h0m71-16h0m-140 32h0m-57 32h0m-13 48h0m57-16h0" class="r"/>
<path d="M629 1060h0m48 0h0m-99 32h0m-59 95h0m-21 32h0m13-16h0m-45 32h0m-26 32h0m1 0h0m-37 31h0" class="k"/>
<path d="M1033 357h0m-540 798h0m-71 96h0" class="b"/>
<path d="M934 881h0m-187 100h0m94 47h0m-38 16h0m-199 16h0m11 16h0m-57 16h0m-2 32h0m167 0h0m-133 31h0m-112 32h0m96 0h0m-131 32h0m11 0h0m9-16h0m12 16h0m30 0h0m52 0h0m6 0h0m96-16h0m-120 32h0m-113 16h0m100 0h0m38 0h0m-125 47h0" stroke="#fff" stroke-width="23.8"/>
<path d="M934 881h0m-93 147h0m-38 16h0m-80 80h0m-133 31h0m-16 32h0m-69 32h0m52 0h0m6 0h0m96-16h0m-120 32h0m-13 16h0m38 0h0m-125 47h0" class="r"/>
<path d="M747 981h0m-143 79h0m11 16h0m-57 16h0m-2 32h0m-78 63h0m-24 32h0m21 0h0m-49 32h0" class="k"/>
<path d="M443 1219h0m20-16h0" class="b"/>
<path d="M681 1060h0m13 0h0m42 0h0m33 0h0m106 0h0m17 16h0m-297 16h0m200 32h0m-236 31h0m-91 32h0m17 0h0m9 0h0m7 0h0m16 0h0m153 0h0m-218 32h0m19 0h0m11 0h0m26-16h0m22 16h0m13 16h0m-121 32h0m0 0h0m28 0h0m-57 31h0" stroke="#fff" stroke-width="23.8"/>
<path d="M736 1060h0m33 0h0m106 0h0m17 16h0m-97 48h0m-125 63h0m-140 32h0m13 16h0m-93 32h0" class="r"/>
<path d="M681 1060h0m13 0h0m-99 32h0m-36 63h0m-74 32h0m9 0h0m7 0h0m16 0h0m-65 32h0m19 0h0m11 0h0m26-16h0m-86 64h0m0 0h0m-29 31h0" class="k"/>
<path d="M468 1187h0" class="b"/>
<path d="M937 789h0m-154 104h0m7 183h0m34-16h0m-299 64h0m84 0h0m30-16h0m-143 47h0m96 0h0m99 0h0m-161 32h0m-52 32h0m20-16h0m8 16h0m79-16h0m-38 32h0m16 0h0m-141 32h0m49 0h0m46-16h0m23 0h0m8 0h0m17 0h0m-137 31h0m-53 32h0" stroke="#fff" stroke-width="23.8"/>
<path d="M790 1076h0m34-16h0m-232 95h0m99 0h0m-185 64h0m79-16h0m-38 32h0m16 0h0m-92 32h0m46-16h0m23 0h0m8 0h0m17 0h0m-137 31h0" class="r"/>
<path d="M937 789h0m-154 104h0m-174 231h0m30-16h0m-109 79h0m-52 32h0m20-16h0m-76 64h0m-47 47h0" class="k"/>
<path d="M525 1124h0m-29 31h0" class="b"/>
<path d="M1040 774h0m-73 222h0m-215 32h0m-187 32h0m54 0h0m17 16h0m-58 16h0m30 32h0m39 0h0m-154 31h0m8 0h0m95 16h0m-106 16h0m-63 32h0m94 0h0m23 0h0m129 0h0m-187 32h0m30 0h0m45 0h0m-112 31h0m31 0h0m26 0h0m-111 16h0m21 16h0" stroke="#fff" stroke-width="23.8"/>
<path d="M967 996h0m-215 32h0m-105 96h0m-51 47h0m-75 48h0m23 0h0m129 0h0m-187 32h0m30 0h0m45 0h0m-112 31h0m31 0h0m26 0h0m-90 32h0" class="r"/>
<path d="M1040 774h0m-421 286h0m17 16h0m-58 16h0m30 32h0m-118 63h0m-95 111h0" class="k"/>
<path d="M565 1060h0m-72 95h0m8 0h0m-74 64h0" class="b"/>
<path d="M762 996h0m-132 48h0m-31 16h0m30 0h0m171 0h0m-215 32h0m210 0h0m-254 32h0m184 0h0m-151 31h0m157 0h0m-247 32h0m11 0h0m75 0h0m151 0h0m-236 32h0m113 0h0m-186 48h0m20 0h0m57-16h0m45 16h0m-131 15h0m-10 16h0m7 16h0m1-16h0" stroke="#fff" stroke-width="23.8"/>
<path d="M800 1060h0m-5 32h0m-70 32h0m6 31h0m-161 32h0m151 0h0m-123 32h0m-109 32h0m45 16h0m-134 47h0" class="r"/>
<path d="M762 996h0m-132 48h0m-31 16h0m30 0h0m-44 32h0m-44 32h0m33 31h0m-90 32h0m11 0h0m-10 32h0m-53 48h0m-29 15h0m-10 16h0m8 0h0" class="k"/>
<path d="M412 1267h0" class="b"/>
<path d="M653 898h0m450 19h0m-253 95h0m-226 32h0m41 32h0m-6 48h0m-159 31h0m21 16h0m0-16h0m79 0h0m6 0h0m-135 32h0m5 0h0m76 0h0m12 0h0m-96 32h0m55 0h0m28 0h0m69 0h0m-182 32h0m1 16h0m48 0h0m-70 15h0m-32 16h0m13 0h0" stroke="#fff" stroke-width="23.8"/>
<path d="M1103 917h0m-253 95h0m-191 112h0m-59 31h0m6 0h0m-54 32h0m12 0h0m-41 32h0m28 0h0m69 0h0m-133 48h0" class="r"/>
<path d="M624 1044h0m41 32h0m-144 95h0m0-16h0m-53 64h0m-30 32h0m1 16h0m-22 15h0m-19 16h0" class="k"/>
<path d="M653 898h0m-153 257h0m-29 32h0m5 0h0m-91 111h0" class="b"/>
<path d="M898 679h0m-200 365h0m74 16h0m49 0h0m-250 32h0m106 0h0m-34 32h0m-131 15h0m18 32h0m14 0h0m65-16h0m14 16h0m46 0h0m-96 16h0m85 0h0m-206 32h0m78 0h0m-112 48h0m23-16h0m1 0h0m4 16h0m30-16h0m-55 31h0m24 0h0m-4 32h0" stroke="#fff" stroke-width="23.8"/>
<path d="M772 1060h0m49 0h0m-144 32h0m-34 32h0m-34 31h0m14 16h0m46 0h0m-96 16h0m85 0h0m-128 32h0m-84 48h0m30-16h0m-31 31h0m-4 32h0" class="r"/>
<path d="M898 679h0m-200 365h0m-127 48h0m-41 79h0m14 0h0m-92 48h0m-34 48h0m23-16h0m1 0h0m-21 31h0" class="k"/>
<path d="M512 1139h0" class="b"/>
<path d="M810 996h0m-67 16h0m-56 48h0m41 0h0m9 64h0m-198 15h0m-16 16h0m-56 32h0m8 0h0m48 0h0m91 0h0m0 0h0m44 0h0m46 0h0m-232 32h0m12 0h0m5 0h0m76-16h0m-113 32h0m141 0h0m-148 16h0m39 16h0m-69 15h0m5 0h0m31 0h0" stroke="#fff" stroke-width="23.8"/>
<path d="M810 996h0m-82 64h0m9 64h0m-123 63h0m0 0h0m44 0h0m46 0h0m-139 16h0m28 32h0m-109 32h0m-33 15h0" class="r"/>
<path d="M743 1012h0m-56 48h0m-148 79h0m-16 16h0m0 32h0m-51 32h0m12 0h0m5 0h0m-37 16h0m-7 16h0m-30 31h0m5 0h0" class="k"/>
<path d="M467 1187h0m8 0h0" class="b"/>
<path d="M1051 740h0m-384 256h0m140 0h0m26 0h0m-121 96h0m-176 32h0m52 0h0m76 0h0m72 0h0m-203 15h0m-30 16h0m83 0h0m36 0h0m-139 32h0m71 0h0m-93 32h0m104-16h0m52 16h0m-117 16h0m-70 32h0m37 0h0m-46 15h0m-16 16h0m0 0h0m21 16h0" stroke="#fff" stroke-width="23.8"/>
<path d="M807 996h0m26 0h0m-121 96h0m-48 32h0m72 0h0m-150 31h0m36 0h0m-68 32h0m11 16h0m52 16h0m-117 16h0m-33 32h0m-41 47h0" class="r"/>
<path d="M1051 740h0m-384 256h0m-131 128h0m52 0h0m-55 15h0m-50 48h0m-22 32h0m-31 48h0m-9 15h0m-16 16h0m0 0h0" class="k"/>
<path d="M503 1155h0" class="b"/>
<path d="M805 763h0m90 11h0m-63 178h0m6 44h0m-193 32h0m174 32h0m-294 64h0m12 0h0m23 0h0m45 0h0m28 0h0m-30 31h0m8 0h0m35 0h0m70 0h0m-272 48h0m30 16h0m91-16h0m-107 32h0m-38 32h0m25 0h0m2-16h0m-46 47h0m8 0h0m66 0h0" stroke="#fff" stroke-width="23.8"/>
<path d="M832 952h0m6 44h0m-19 64h0m-186 64h0m-30 31h0m8 0h0m35 0h0m70 0h0m-151 48h0m-120 64h0m-36 31h0m66 0h0" class="r"/>
<path d="M895 774h0m-250 254h0m-108 96h0m23 0h0m45 0h0m-131 95h0m-16 16h0m-38 32h0m27-16h0m-46 47h0" class="k"/>
<path d="M805 763h0m-280 361h0m-81 79h0" class="b"/>
<path d="M921 756h0m149 212h0m-486 76h0m14 16h0m163 0h0m-97 32h0m8 32h0m54 15h0m-227 16h0m15 32h0m68 0h0m78 0h0m-165 32h0m14 0h0m47 0h0m-74 16h0m368-1h0m-456 33h0m28 0h0m36-16h0m28 0h0m16 0h0m0 16h0m-63 15h0m-15 16h0" stroke="#fff" stroke-width="23.8"/>
<path d="M1070 968h0m-309 92h0m-97 32h0m8 32h0m54 15h0m-144 48h0m78 0h0m-151 32h0m47 0h0m294 15h0m-364 17h0m16 0h0m0 16h0m-63 15h0m-15 16h0" class="r"/>
<path d="M921 756h0m-323 304h0m-84 127h0m-19 32h0m-13 16h0m-60 32h0m36-16h0" class="k"/>
<path d="M584 1044h0m-85 111h0m-105 112h0" class="b"/>
<path d="M712 899h0m404 34h0m-325 63h0m-137 64h0m252 16h0m-231 16h0m77 32h0m-222 31h0m19 0h0m106 0h0m-156 32h0m74 0h0m41 0h0m-135 32h0m10-16h0m21 16h0m70 0h0m-165 48h0m22-16h0m4 0h0m11 0h0m9 0h0m9 16h0m35 0h0m-50 15h0" stroke="#fff" stroke-width="23.8"/>
<path d="M1116 933h0m-325 63h0m115 80h0m-231 16h0m77 32h0m-97 31h0m-82 32h0m41 0h0m-104 32h0m70 0h0m-110 48h0m35 0h0m-50 15h0" class="r"/>
<path d="M712 899h0m-58 161h0m-124 95h0m19 0h0m-50 32h0m-20 32h0m10-16h0m-74 64h0m22-16h0m4 0h0m11 0h0m9 0h0" class="k"/>
<path d="M1005 996h0m-389 32h0m173 0h0m-149 16h0m-88 16h0m15 64h0m69 0h0m124-16h0m-185 31h0m105 0h0m-146 16h0m64 0h0m2 16h0m148-16h0m-279 32h0m79 0h0m-22 32h0m26 0h0m96 0h0m-247 48h0m16 0h0m19-16h0m29 0h0m51 16h0m97-16h0" stroke="#fff" stroke-width="23.8"/>
<path d="M1005 996h0m-216 32h0m-153 96h0m124-16h0m-80 31h0m-82 16h0m2 16h0m148-16h0m-200 32h0m-22 32h0m26 0h0m96 0h0m-183 32h0m51 16h0m97-16h0" class="r"/>
<path d="M616 1028h0m24 16h0m-73 80h0m8 15h0m-41 16h0m-117 112h0m19-16h0" class="k"/>
<path d="M552 1060h0m-83 127h0m-68 80h0" class="b"/>
<path d="M812 963h0m-204 49h0m16 16h0m-26 32h0m24 0h0m89 0h0m-134 32h0m165 0h0m-107 47h0m-90 16h0m-61 32h0m21 0h0m107 0h0m-111 32h0m27 0h0m-110 32h0m11 0h0m5 0h0m7 0h0m63 0h0m9 0h0m19 0h0m-45 31h0m7 0h0m-109 16h0" stroke="#fff" stroke-width="23.8"/>
<path d="M711 1060h0m31 32h0m-107 47h0m-23 48h0m-84 32h0m-24 32h0m9 0h0m19 0h0m-45 31h0m7 0h0" class="r"/>
<path d="M812 963h0m-188 65h0m-26 32h0m24 0h0m-45 32h0m-32 63h0m-61 32h0m21 0h0m-4 32h0m-72 32h0m5 0h0m7 0h0" class="k"/>
<path d="M608 1012h0m-190 239h0m-33 47h0" class="b"/>
<path d="M904 1028h0m-200 32h0m-128 64h0m92 0h0m11 0h0m-168 63h0m119 0h0m-184 32h0m3 0h0m22 0h0m7-16h0m10 16h0m85 0h0m28 0h0m-77 16h0m-100 16h0m9 16h0m9-16h0m55 16h0m40-16h0m4 0h0m14 16h0m27-16h0m-111 31h0m-42 16h0" stroke="#fff" stroke-width="23.8"/>
<path d="M904 1028h0m-200 32h0m-36 64h0m11 0h0m-49 63h0m-57 32h0m28 0h0m-77 16h0m-27 32h0m40-16h0m4 0h0m14 16h0m27-16h0m-111 31h0m-42 16h0" class="r"/>
<path d="M576 1124h0m-65 63h0m-40 32h0m7-16h0m10 16h0m-55 48h0m9-16h0" class="k"/>
<path d="M446 1219h0m3 0h0m-25 32h0" class="b"/>
<path d="M874 965h0m-222 31h0m67 0h0m69 32h0m96-16h0m-271 48h0m41 32h0m-118 32h0m-11 15h0m-15 16h0m39 0h0m-72 32h0m93 0h0m54 0h0m44 0h0m-146 16h0m45 16h0m-66 16h0m104 0h0m-185 32h0m13 0h0m8-16h0m3 0h0m19 0h0m54 0h0" stroke="#fff" stroke-width="23.8"/>
<path d="M874 965h0m-86 63h0m96-16h0m-314 175h0m54 0h0m44 0h0m-101 32h0m-66 16h0m104 0h0m-88 16h0" class="r"/>
<path d="M652 996h0m67 0h0m-106 64h0m41 32h0m-118 32h0m-11 15h0m-15 16h0m39 0h0m-27 48h0m-102 64h0m13 0h0m8-16h0m3 0h0m19 0h0" class="k"/>
<path d="M477 1187h0" class="b"/>
<path d="M1100 804h0m-253 224h0m-181 32h0m-71 32h0m35 0h0m107 0h0m40 0h0m-178 79h0m-45 16h0m-109 32h0m6 0h0m37 0h0m66 0h0m100-16h0m-210 32h0m28 0h0m85 0h0m-130 32h0m15-16h0m42 0h0m21 0h0m61 0h0m-153 31h0m5 0h0m-7 32h0" stroke="#fff" stroke-width="23.8"/>
<path d="M1100 804h0m-253 224h0m-110 64h0m40 0h0m-178 79h0m-45 16h0m0 32h0m100-16h0m-97 32h0m-73 16h0m21 0h0m61 0h0m-155 63h0" class="r"/>
<path d="M666 1060h0m-71 32h0m35 0h0m-142 127h0m-44 16h0m28 0h0m-45 32h0m15-16h0m-29 31h0m5 0h0" class="k"/>
<path d="M445 1219h0m6 0h0" class="b"/>
<path d="M888 996h0m216-1h0m-246 49h0m-118 16h0m-156 32h0m68 0h0m4 32h0m-129 15h0m7 32h0m11-16h0m92 0h0m8 0h0m-187 32h0m157 0h0m-125 32h0m11 0h0m10 0h0m21 0h0m2-16h0m78 32h0m-190 32h0m4-16h0m15 16h0m40 0h0m-65 31h0" stroke="#fff" stroke-width="23.8"/>
<path d="M888 996h0m216-1h0m-246 49h0m-118 16h0m-84 64h0m-19 31h0m8 0h0m-30 32h0m-104 32h0m21 0h0m2-16h0m78 32h0m-131 32h0m-65 31h0" class="r"/>
<path d="M584 1092h0m68 0h0m-125 47h0m7 32h0m11-16h0m-55 64h0m11 0h0m-79 48h0m4-16h0m15 16h0" class="k"/>
<path d="M458 1187h0" class="b"/>
<path d="M840 678h0m0 287h0m-178 95h0m33 16h0m-76 16h0m-8 32h0m-87 15h0m37 32h0m12 0h0m-74 16h0m1 0h0m94 0h0m-140 32h0m22 0h0m5 0h0m49-16h0m22 16h0m-52 16h0m-79 32h0m8 0h0m29-16h0m16 0h0m25 16h0m-104 15h0m53 0h0" stroke="#fff" stroke-width="23.8"/>
<path d="M840 965h0m-145 111h0m-122 95h0m21 16h0m-64 16h0m22 16h0m-52 16h0m-26 16h0m25 16h0m-51 15h0" class="r"/>
<path d="M662 1060h0m-43 32h0m-8 32h0m-87 15h0m37 32h0m-62 16h0m1 0h0m-46 32h0m22 0h0m5 0h0m-60 48h0m8 0h0m29-16h0" class="k"/>
<path d="M840 678h0m-445 604h0" class="b"/>
<path d="M809 1028h0m-177 16h0m295 32h0m-368 16h0m-7 32h0m20 0h0m30 0h0m46 0h0m68 0h0m9 0h0m80 0h0m-277 31h0m96 0h0m111 0h0m-231 32h0m43 0h0m-93 32h0m43 0h0m26 0h0m33 0h0m-115 32h0m46 16h0m-87 15h0m25 0h0m-7 16h0" stroke="#fff" stroke-width="23.8"/>
<path d="M809 1028h0m118 48h0m-279 48h0m68 0h0m9 0h0m80 0h0m-181 31h0m111 0h0m-188 32h0m-24 32h0m33 0h0m-69 48h0m-69 31h0" class="r"/>
<path d="M632 1044h0m-73 48h0m-7 32h0m20 0h0m30 0h0m-74 31h0m-24 32h0m-50 32h0m43 0h0m-56 32h0m-41 31h0m25 0h0" class="k"/>
<path d="M594 1060h0m36 0h0m287 0h0m-277 32h0m-113 32h0m15 0h0m18 0h0m12 0h0m89-16h0m24 16h0m17 0h0m93 0h0m-267 47h0m-40 16h0m3 0h0m-54 32h0m41 0h0m148 0h0m-98 16h0m-93 32h0m39 0h0m42-16h0m14 0h0m-151 47h0m8 0h0" stroke="#fff" stroke-width="23.8"/>
<path d="M917 1060h0m-256 48h0m24 16h0m17 0h0m93 0h0m-169 95h0m-98 16h0m-54 32h0m42-16h0m14 0h0" class="r"/>
<path d="M594 1060h0m36 0h0m10 32h0m-98 32h0m18 0h0m12 0h0m-44 47h0m-40 16h0m3 0h0m-13 32h0m-43 48h0m-48 31h0" class="k"/>
<path d="M527 1124h0m-90 95h0m-58 79h0" class="b"/>
<path d="M738 969h0m158 75h0m-333 16h0m55 0h0m59 0h0m20 0h0m-148 32h0m36 0h0m-10 32h0m194 0h0m-263 47h0m23-16h0m72 0h0m168 16h0m-294 16h0m15 0h0m32 0h0m225 0h0m-223 32h0m66-16h0m-187 79h0m42 0h0m15 0h0m6 0h0m-74 16h0" stroke="#fff" stroke-width="23.8"/>
<path d="M896 1044h0m-127 80h0m-168 31h0m168 16h0m-22 16h0m-223 32h0m66-16h0m-145 79h0m15 0h0m6 0h0" class="r"/>
<path d="M738 969h0m-120 91h0m59 0h0m20 0h0m-112 32h0m-10 32h0m-69 47h0m23-16h0m-39 32h0m32 0h0m-119 95h0m-11 16h0" class="k"/>
<path d="M563 1060h0m-14 32h0m-74 95h0" class="b"/>
<path d="M1065 915h0m-308 50h0m-98 31h0m269 0h0m-254 32h0m228 32h0m1 0h0m-344 48h0m44 16h0m23 31h0m-165 32h0m130 0h0m-214 31h0m101 1h0m3 0h0m36-16h0m8 16h0m1 0h0m73 0h0m4 0h0m-94 16h0m-74 32h0m12 0h0m59-16h0m-91 47h0" stroke="#fff" stroke-width="23.8"/>
<path d="M1065 915h0m-137 81h0m-26 64h0m1 0h0m-277 95h0m-35 32h0m-66 32h0m1 0h0m73 0h0m4 0h0m-94 16h0m-62 32h0m59-16h0m-91 47h0" class="r"/>
<path d="M757 965h0m-98 31h0m15 32h0m-115 80h0m44 16h0m-125 95h0m3 0h0m36-16h0m-82 64h0" class="k"/>
<path d="M461 1187h0m-84 31h0" class="b"/>
<path d="M798 963h0m-222 33h0m140 32h0m-164 64h0m129 32h0m1-16h0m-75 31h0m3 0h0m-87 16h0m62 0h0m4 0h0m31 0h0m-37 32h0m59 0h0m-165 32h0m3-16h0m21 16h0m-36 16h0m-40 32h0m45 0h0m34-16h0m-39 31h0m-80 16h0m23 0h0m11 0h0" stroke="#fff" stroke-width="23.8"/>
<path d="M681 1124h0m1-16h0m-75 31h0m3 0h0m-25 16h0m4 0h0m31 0h0m-37 32h0m59 0h0m-172 80h0m34-16h0m-39 31h0m-57 16h0m11 0h0" class="r"/>
<path d="M798 963h0m-82 65h0m-193 127h0m-46 64h0m3-16h0m21 16h0m-36 16h0m-40 32h0" class="k"/>
<path d="M576 996h0m-24 96h0m-167 206h0" class="b"/>
<path d="M859 965h0m-43 31h0m95 0h0m76 32h0m-283 16h0m77 0h0m-200 16h0m-21 32h0m23 0h0m74 16h0m153 0h0m-249 31h0m-18 16h0m1 0h0m35 16h0m109-16h0m-114 32h0m16 0h0m-137 32h0m20 0h0m85 0h0m3 16h0m-125 16h0m34 0h0m23 31h0" stroke="#fff" stroke-width="23.8"/>
<path d="M859 965h0m-43 31h0m95 0h0m76 32h0m-206 16h0m-124 64h0m153 0h0m-231 63h0m109-16h0m-114 32h0m16 0h0m-32 32h0m3 16h0m-91 16h0m23 31h0" class="r"/>
<path d="M704 1044h0m-144 48h0m23 0h0m-22 47h0m-18 16h0m1 0h0m-91 64h0m20 0h0m-37 32h0" class="k"/>
<path d="M581 1060h0" class="b"/>
<path d="M929 820h0m-309 208h0m42 0h0m242 0h0m-121 16h0m-128 16h0m20 0h0m157 0h0m-21 32h0m-240 32h0m80 0h0m-106 47h0m18-16h0m31 0h0m83 0h0m-130 32h0m-67 16h0m42 16h0m0 16h0m9 0h0m-71 32h0m127-16h0m151 15h0m70 0h0m-362 16h0" stroke="#fff" stroke-width="23.8"/>
<path d="M904 1028h0m-121 16h0m49 16h0m-21 32h0m-160 32h0m-57 31h0m83 0h0m-130 32h0m-25 32h0m0 16h0m9 0h0m-71 32h0m127-16h0m151 15h0m70 0h0m-362 16h0" class="r"/>
<path d="M929 820h0m-309 208h0m42 0h0m-7 32h0m20 0h0m-104 64h0m-26 47h0m18-16h0m-83 48h0" class="k"/>
<path d="M776 996h0m-118 80h0m-126 19h0m154-3h0m102 0h0m-238 32h0m9 0h0m107 0h0m5 0h0m-158 63h0m1 0h0m39 0h0m7 0h0m48 0h0m56 0h0m-213 32h0m30-16h0m94 16h0m-65 16h0m-81 16h0m30 16h0m6 0h0m-75 47h0m6-16h0m77 0h0" stroke="#fff" stroke-width="23.8"/>
<path d="M686 1092h0m102 0h0m-122 32h0m5 0h0m-118 63h0m7 0h0m48 0h0m56 0h0m-89 32h0m-65 16h0m-51 32h0m6 0h0m-75 47h0m83-16h0" class="r"/>
<path d="M776 996h0m-118 80h0m-108 48h0m9 0h0m-46 63h0m1 0h0m-33 16h0m-52 48h0m-33 47h0" class="k"/>
<path d="M532 1095h0m-81 124h0" class="b"/>
<path d="M933 948h0m-134 80h0m96 32h0m33 0h0m-319 48h0m-46 31h0m-8 16h0m112 16h0m228-16h0m-391 32h0m20 0h0m156 0h0m-242 32h0m40 0h0m6 0h0m29 0h0m30 0h0m93-16h0m-62 32h0m-134 32h0m2 0h0m13 0h0m7-16h0m80 0h0m-83 47h0" stroke="#fff" stroke-width="23.8"/>
<path d="M933 948h0m-134 80h0m96 32h0m33 0h0m-261 111h0m228-16h0m-215 32h0m-167 32h0m30 0h0m93-16h0m-62 32h0m-119 32h0m87-16h0m-83 47h0" class="r"/>
<path d="M609 1108h0m-46 31h0m-8 16h0m-51 32h0m20 0h0m-46 32h0m6 0h0m-44 48h0m2 0h0m20-16h0" class="k"/>
<path d="M438 1219h0" class="b"/>
<path d="M752 996h0m-147 64h0m157 0h0m143 0h0m-355 32h0m20 16h0m36 16h0m44-16h0m210 16h0m-116 15h0m-227 16h0m116 0h0m87 0h0m-263 32h0m34 0h0m1 0h0m53 0h0m137 0h0m-201 16h0m28 16h0m8 0h0m23 0h0m54 0h0m-146 16h0m-45 47h0" stroke="#fff" stroke-width="23.8"/>
<path d="M762 1060h0m143 0h0m-255 48h0m210 16h0m-116 15h0m-111 16h0m87 0h0m-175 32h0m137 0h0m-173 32h0m8 0h0m23 0h0m54 0h0" class="r"/>
<path d="M752 996h0m-147 64h0m-35 48h0m36 16h0m-89 31h0m-26 32h0m1 0h0m-11 16h0m-33 32h0m-45 47h0" class="k"/>
<path d="M550 1092h0m-93 95h0" class="b"/>
<path d="M824 996h0m4 32h0m-177 32h0m-76 32h0m7 0h0m151 32h0m-252 31h0m90 0h0m-45 32h0m4 0h0m62 0h0m3 0h0m-135 16h0m40 16h0m51 0h0m68-16h0m11 16h0m-134 16h0m18 0h0m-123 32h0m39 0h0m7 0h0m78 0h0m-110 15h0m0 0h0" stroke="#fff" stroke-width="23.8"/>
<path d="M824 996h0m4 32h0m-95 96h0m-141 63h0m3 0h0m-44 32h0m68-16h0m11 16h0m-134 16h0m18 0h0m1 32h0" class="r"/>
<path d="M651 1060h0m-76 32h0m7 0h0m-11 63h0m-45 32h0m4 0h0m-30 32h0m-70 48h0m7 0h0m-32 15h0m0 0h0" class="k"/>
<path d="M481 1155h0m-21 48h0m-69 64h0" class="b"/>
<path d="M687 954h0m-17 42h0m195 32h0m-313 64h0m84 0h0m-101 63h0m25 16h0m9 0h0m59-16h0m87 16h0m62-16h0m-212 32h0m7 0h0m25 0h0m143 0h0m-208 32h0m14 0h0m-101 48h0m24 0h0m11-16h0m-55 31h0m1 0h0m-56 32h0m17-16h0m31 16h0" stroke="#fff" stroke-width="23.8"/>
<path d="M865 1028h0m-296 143h0m59-16h0m87 16h0m62-16h0m-212 32h0m7 0h0m25 0h0m143 0h0m-208 32h0m14 0h0m-77 48h0m11-16h0m-54 31h0m-8 32h0" class="r"/>
<path d="M687 954h0m-17 42h0m-34 96h0m-101 63h0m25 16h0m-115 96h0m-20 15h0m-38 16h0" class="k"/>
<path d="M552 1092h0m-182 222h0" class="b"/>
<path d="M627 996h0m58 0h0m15 32h0m-142 64h0m42 32h0m26 0h0m16 0h0m230-16h0m-332 47h0m188 0h0m-163 32h0m1 0h0m15 0h0m103 0h0m-200 32h0m21 0h0m52 0h0m2 0h0m13-16h0m39 16h0m-173 32h0m64 0h0m-63 31h0m-43 16h0m34 0h0" stroke="#fff" stroke-width="23.8"/>
<path d="M626 1124h0m16 0h0m230-16h0m-144 47h0m-163 32h0m1 0h0m15 0h0m103 0h0m-179 32h0m52 0h0m2 0h0m13-16h0m39 16h0m-109 32h0m-63 31h0m-9 16h0" class="r"/>
<path d="M685 996h0m15 32h0m-142 64h0m42 32h0m-60 31h0m-56 64h0m-46 32h0m-42 47h0" class="k"/>
<path d="M627 996h0" class="b"/>
<path d="M629 996h0m178 0h0m-255 96h0m13 0h0m113 0h0m-83 47h0m-66 16h0m8 16h0m37-16h0m155 0h0m-198 32h0m12 0h0m26 0h0m64 0h0m-152 32h0m4 0h0m8 0h0m25 0h0m10 0h0m0 0h0m2 0h0m9 0h0m-77 16h0m-47 32h0m-15 15h0" stroke="#fff" stroke-width="23.8"/>
<path d="M807 996h0m-129 96h0m51 63h0m-160 32h0m64 0h0m-115 32h0m10 0h0m0 0h0m2 0h0m9 0h0" class="r"/>
<path d="M565 1092h0m30 47h0m-66 16h0m8 16h0m37-16h0m-43 32h0m12 0h0m-62 32h0m4 0h0m8 0h0m-31 16h0m-47 32h0m-15 15h0" class="k"/>
<path d="M629 996h0m-77 96h0" class="b"/>
<path d="M723 996h0m110 32h0m-219 32h0m26 64h0m36 0h0m124 0h0m-296 31h0m205 32h0m-251 32h0m18-16h0m37 16h0m17 0h0m48 0h0m69 0h0m-189 16h0m34 0h0m9 0h0m39 0h0m-102 16h0m1 16h0m28-16h0m22 16h0m52-16h0m-141 31h0m-3 32h0" stroke="#fff" stroke-width="23.8"/>
<path d="M833 1028h0m-193 96h0m36 0h0m124 0h0m-91 63h0m-196 32h0m17 0h0m48 0h0m69 0h0m-155 16h0m9 0h0m39 0h0m-73 16h0m22 16h0m52-16h0m-144 63h0" class="r"/>
<path d="M723 996h0m-109 64h0m-156 159h0m18-16h0m-18 32h0m-20 16h0m1 16h0m-39 15h0" class="k"/>
<path d="M504 1155h0" class="b"/>
<path d="M761 1028h0m-140 32h0m92 64h0m-205 47h0m34-16h0m2 0h0m2 16h0m13 16h0m8 0h0m64 0h0m-165 16h0m0 16h0m31-16h0m14 0h0m13 16h0m16-16h0m6 16h0m12 0h0m-140 48h0m25-16h0m17 16h0m16-16h0m-61 31h0m16 32h0m18-16h0" stroke="#fff" stroke-width="23.8"/>
<path d="M761 1028h0m-48 96h0m-154 63h0m8 0h0m64 0h0m-107 32h0m16-16h0m6 16h0m12 0h0m-98 48h0m16-16h0m-45 63h0m18-16h0" class="r"/>
<path d="M621 1060h0m-113 111h0m34-16h0m2 0h0m2 16h0m-80 32h0m0 16h0m31-16h0m14 0h0m-93 64h0m25-16h0m-28 31h0" class="k"/>
<path d="M663 996h0m-36 64h0m29 64h0m-140 15h0m1 16h0m5 0h0m32 16h0m72-16h0m12 0h0m-136 32h0m79 0h0m17 0h0m-136 16h0m1 16h0m36-16h0m11 16h0m68 0h0m-19 16h0m-133 16h0m2 16h0m2 0h0m3 0h0m39-16h0m-40 31h0m-14 16h0" stroke="#fff" stroke-width="23.8"/>
<path d="M656 1124h0m-30 31h0m12 0h0m-57 32h0m17 0h0m-88 32h0m68 0h0m-19 16h0m-87 16h0m-40 31h0m-14 16h0" class="r"/>
<path d="M663 996h0m-36 64h0m-110 95h0m5 0h0m32 16h0m-52 16h0m-39 32h0m36-16h0m-73 48h0m2 16h0m2 0h0m3 0h0" class="k"/>
<path d="M516 1139h0m-54 64h0" class="b"/>
<path d="M852 996h0m-232 32h0m13 32h0m84 16h0m7 16h0m-30 32h0m-84 31h0m-12 32h0m40 0h0m-219 32h0m49 0h0m10 0h0m30 0h0m33 0h0m16 0h0m71 0h0m-196 32h0m38 16h0m9 0h0m3-16h0m-81 31h0m3 0h0m42 0h0m-76 32h0m14 0h0" stroke="#fff" stroke-width="23.8"/>
<path d="M852 996h0m-135 80h0m7 16h0m-30 32h0m-84 31h0m-12 32h0m40 0h0m-130 32h0m33 0h0m16 0h0m71 0h0m-158 48h0m9 0h0m3-16h0m-36 31h0" class="r"/>
<path d="M620 1028h0m13 32h0m-165 159h0m10 0h0m-46 32h0m-31 31h0m3 0h0m-20 32h0" class="k"/>
<path d="M419 1219h0m-49 95h0" class="b"/>
<path d="M713 1044h0m-102 48h0m26 0h0m143 0h0m66 0h0m-330 32h0m29 0h0m189 0h0m-207 31h0m199 0h0m-62 32h0m-206 32h0m5 0h0m34 0h0m93 0h0m5 0h0m-179 48h0m42-16h0m5 16h0m22-16h0m18 0h0m61 0h0m-164 31h0m-11 32h0m45-16h0" stroke="#fff" stroke-width="23.8"/>
<path d="M780 1092h0m66 0h0m-112 32h0m-8 31h0m-62 32h0m-74 32h0m5 0h0m-132 48h0m22-16h0m18 0h0m61 0h0m-175 63h0m45-16h0" class="r"/>
<path d="M713 1044h0m-102 48h0m26 0h0m-92 32h0m-18 31h0m-69 64h0m5 0h0m34 0h0m-81 48h0m42-16h0m-58 31h0" class="k"/>
<path d="M516 1124h0" class="b"/>
<path d="M773 805h0m-97 223h0m10-16h0m36 16h0m-127 32h0m14 0h0m13 64h0m64 0h0m77 0h0m-206 47h0m23-16h0m24 0h0m46 0h0m-144 32h0m3 16h0m17 16h0m-109 48h0m9 0h0m13 0h0m21-16h0m19 0h0m25 16h0m-114 31h0m3 0h0m10 0h0" stroke="#fff" stroke-width="23.8"/>
<path d="M622 1124h0m64 0h0m77 0h0m-159 31h0m46 0h0m-124 64h0m-47 32h0m25 16h0" class="r"/>
<path d="M676 1028h0m10-16h0m36 16h0m-127 32h0m14 0h0m-52 111h0m23-16h0m-74 32h0m3 16h0m-92 64h0m9 0h0m13 0h0m21-16h0m-70 47h0m3 0h0m10 0h0" class="k"/>
<path d="M773 805h0" class="b"/>
<path d="M1020 592h0m-180 307h0m259 16h0m-431 145h0m-85 32h0m38 0h0m1 32h0m13 0h0m-87 31h0m86 0h0m18 16h0m-67 16h0m7 0h0m-140 32h0m11-16h0m8 16h0m27 0h0m11 0h0m21 0h0m37 0h0m5 0h0m-128 16h0m146 0h0m-88 32h0m15 0h0" stroke="#fff" stroke-width="23.8"/>
<path d="M1099 915h0m-477 209h0m13 0h0m-1 31h0m18 16h0m-67 16h0m7 0h0m-83 32h0m21 0h0m37 0h0m5 0h0m18 16h0m-88 32h0m15 0h0" class="r"/>
<path d="M1020 592h0m-180 307h0m-172 161h0m-85 32h0m38 0h0m-73 63h0m-96 64h0m19 0h0m27 0h0m-54 16h0" class="k"/>
<path d="M463 1203h0" class="b"/>
<path d="M1052 866h0m293 0h0m-720 130h0m77 0h0m85 16h0m-95 80h0m-145 16h0m-1 47h0m30 0h0m39 16h0m-111 16h0m22 0h0m32 0h0m29 0h0m33 0h0m119 0h0m-275 32h0m45 0h0m3 0h0m18-16h0m25 16h0m-157 9h0m199 7h0m-176 32h0m-16 15h0" stroke="#fff" stroke-width="23.8"/>
<path d="M1052 866h0m293 0h0m-558 146h0m-95 80h0m-77 79h0m-57 16h0m29 0h0m33 0h0m119 0h0m-230 32h0m3 0h0m18-16h0m25 16h0m42 16h0" class="r"/>
<path d="M702 996h0m-155 112h0m-1 47h0m30 0h0m-72 32h0m22 0h0m-62 32h0m-43 48h0m-16 15h0" class="k"/>
<path d="M625 996h0m-227 232h0" class="b"/>
<path d="M879 996h0m-15 48h0m-315 95h0m-81 48h0m1 0h0m16 0h0m17 0h0m12 0h0m69 0h0m-140 32h0m5 0h0m66 0h0m3 0h0m4 0h0m14-16h0m59 0h0m22 16h0m-154 48h0m1-16h0m1 16h0m11 0h0m62-16h0m-116 31h0m17 0h0m-48 16h0" stroke="#fff" stroke-width="23.8"/>
<path d="M879 996h0m-15 48h0m-281 143h0m-69 32h0m3 0h0m4 0h0m14-16h0m59 0h0m22 16h0m-154 48h0m2 0h0m11 0h0m62-16h0m-99 31h0" class="r"/>
<path d="M549 1139h0m-64 48h0m17 0h0m12 0h0m-51 64h0m-42 31h0m-31 16h0" class="k"/>
<path d="M468 1187h0m1 0h0m-26 32h0m5 0h0" class="b"/>
<path d="M932 1028h0m-184 32h0m319-2h0m-512 34h0m226 0h0m-178 32h0m-82 47h0m20 0h0m63 0h0m32-16h0m2 16h0m3-16h0m87 0h0m-236 32h0m32 0h0m1 0h0m29 0h0m-71 32h0m21 0h0m16 0h0m-50 32h0m11 0h0m60 0h0m-60 31h0m-101 32h0" stroke="#fff" stroke-width="23.8"/>
<path d="M932 1028h0m-184 32h0m319-2h0m-286 34h0m-177 79h0m32-16h0m2 16h0m3-16h0m87 0h0m-174 32h0m-50 32h0m16 0h0m-50 32h0m11 0h0m60 0h0m-60 31h0" class="r"/>
<path d="M603 1124h0m-82 47h0m20 0h0m-49 16h0m32 0h0m1 0h0m-42 32h0m-103 95h0" class="k"/>
<path d="M555 1092h0" class="b"/>
<path d="M940 803h0m-158 178h0m-43 47h0m-74 32h0m66 0h0m64 0h0m34 0h0m-211 32h0m-43 32h0m-79 47h0m35-16h0m38 16h0m65-16h0m-149 32h0m24 0h0m24 0h0m45 0h0m18 0h0m-152 32h0m-22 48h0m37 0h0m19 0h0m32 0h0m55-16h0m-81 31h0" stroke="#fff" stroke-width="23.8"/>
<path d="M739 1028h0m-8 32h0m64 0h0m34 0h0m-260 111h0m65-16h0m-56 32h0m18 0h0m-137 80h0m19 0h0m32 0h0m55-16h0m-81 31h0" class="r"/>
<path d="M940 803h0m-158 178h0m-117 79h0m-47 32h0m-43 32h0m-79 47h0m35-16h0m-46 32h0m24 0h0m24 0h0m-111 80h0" class="k"/>
<path d="M444 1219h0" class="b"/>
<path d="M908 931h0m-139 65h0m107 0h0m-293 96h0m58 0h0m169 16h0m-276 31h0m86 0h0m-118 32h0m31-16h0m94 0h0m16 16h0m67-16h0m-109 32h0m-103 16h0m20 0h0m9 16h0m33-16h0m-69 32h0m-76 32h0m10-16h0m3 16h0m28 0h0m30 0h0m-97 31h0" stroke="#fff" stroke-width="23.8"/>
<path d="M908 931h0m-32 65h0m-66 112h0m-190 31h0m7 16h0m16 16h0m67-16h0m-109 32h0m-74 32h0m33-16h0m-69 32h0m-35 32h0m30 0h0" class="r"/>
<path d="M769 996h0m-186 96h0m58 0h0m-107 47h0m-32 32h0m31-16h0m-35 48h0m20 0h0m-103 64h0m13 0h0m-39 31h0" class="k"/>
<path d="M425 1251h0" class="b"/>
<path d="M804 869h0m-71 127h0m-147 64h0m-19 32h0m19 0h0m97 0h0m-4 32h0m7 0h0m-127 31h0m63 0h0m-108 32h0m25 0h0m-64 32h0m99 0h0m68 0h0m55 0h0m-242 16h0m81 0h0m-115 32h0m6-16h0m5 0h0m8 0h0m32 16h0m31 0h0m-115 31h0" stroke="#fff" stroke-width="23.8"/>
<path d="M683 1092h0m-4 32h0m7 0h0m-64 31h0m-48 64h0m68 0h0m55 0h0m-161 16h0m-64 32h0m31 0h0" class="r"/>
<path d="M804 869h0m-71 127h0m-147 64h0m-19 32h0m19 0h0m-27 63h0m-45 32h0m25 0h0m-64 32h0m-20 16h0m-34 32h0m6-16h0m5 0h0m8 0h0m-52 47h0" class="k"/>
<path d="M898 774h0m-35 222h0m-133 32h0m37 0h0m-58 64h0m151 0h0m-137 32h0m11 0h0m49 0h0m-250 31h0m80 0h0m-124 32h0m87 0h0m5 0h0m-106 16h0m39 16h0m2 0h0m46 0h0m73 0h0m-100 16h0m-34 32h0m3 0h0m83-16h0m-149 47h0m21 0h0" stroke="#fff" stroke-width="23.8"/>
<path d="M863 996h0m-96 32h0m-58 64h0m151 0h0m-137 32h0m11 0h0m49 0h0m-170 31h0m-37 32h0m5 0h0m-67 32h0m2 0h0m46 0h0m73 0h0m-100 16h0m-34 32h0m3 0h0m83-16h0m-149 47h0m21 0h0" class="r"/>
<path d="M898 774h0m-168 254h0m-197 127h0m-44 32h0m-14 16h0" class="k"/>
<path d="M876 882h0m-292 178h0m227 0h0m-279 32h0m36 0h0m-42 32h0m36 0h0m29 0h0m119 0h0m48 15h0m-245 16h0m239 0h0m-257 32h0m128 0h0m-154 32h0m16 0h0m8-16h0m-71 64h0m15-16h0m11 16h0m5 0h0m38-16h0m9 0h0m-89 47h0m28 0h0" stroke="#fff" stroke-width="23.8"/>
<path d="M811 1060h0m-101 64h0m48 15h0m-6 16h0m-129 32h0m-175 80h0m5 0h0m38-16h0m9 0h0m-89 47h0m28 0h0" class="r"/>
<path d="M876 882h0m-292 178h0m-16 32h0m-6 32h0m29 0h0m-78 31h0m-18 32h0m-26 32h0m16 0h0m8-16h0m-71 64h0m15-16h0" class="k"/>
<path d="M532 1092h0m-6 32h0" class="b"/>
<path d="M712 1028h0m-125 48h0m113-16h0m79 32h0m-178 47h0m-123 32h0m59-16h0m187 0h0m-235 32h0m42 0h0m23 0h0m-111 32h0m9 0h0m10 0h0m2 0h0m3-16h0m25 16h0m58 0h0m160-16h0m-316 64h0m56 0h0m30-16h0m124 0h0m-192 31h0m-31 32h0" stroke="#fff" stroke-width="23.8"/>
<path d="M700 1060h0m79 32h0m-55 63h0m-170 32h0m-4 32h0m160-16h0m-260 64h0m30-16h0m124 0h0" class="r"/>
<path d="M712 1028h0m-125 48h0m14 63h0m-64 16h0m-48 32h0m42 0h0m-79 32h0m10 0h0m2 0h0m3-16h0m25 16h0m-80 63h0m-31 32h0" class="k"/>
<path d="M478 1171h0m-35 48h0m-49 48h0" class="b"/>
<path d="M670 996h0m77-12h0m-25 76h0m-192 64h0m-17 31h0m143 0h0m-174 32h0m23 0h0m14 0h0m112 0h0m-166 16h0m28 0h0m36 16h0m29 0h0m-98 16h0m-49 32h0m38-16h0m45 0h0m5 16h0m10-16h0m-103 31h0m3 0h0m38 0h0m-55 16h0m44 0h0" stroke="#fff" stroke-width="23.8"/>
<path d="M722 1060h0m-66 95h0m-25 32h0m-102 32h0m29 0h0m-64 32h0m5 16h0m10-16h0m-62 31h0m-11 16h0" class="r"/>
<path d="M670 996h0m77-12h0m-217 140h0m-17 31h0m-31 32h0m23 0h0m14 0h0m-54 16h0m28 0h0m-33 32h0m-11 16h0m-43 31h0m3 0h0m-17 16h0" class="k"/>
<path d="M411 1267h0" class="b"/>
<path d="M642 1028h0m83 32h0m117 0h0m-97 32h0m70 0h0m-278 32h0m-50 47h0m28-16h0m27 0h0m60 0h0m-119 32h0m118 0h0m-116 32h0m75 0h0m27-16h0m47 16h0m-103 16h0m-123 32h0m11 0h0m2 0h0m71-16h0m41 0h0m-118 31h0m57 0h0m40 0h0" stroke="#fff" stroke-width="23.8"/>
<path d="M725 1060h0m117 0h0m-97 32h0m70 0h0m-213 63h0m-1 32h0m-41 32h0m27-16h0m47 16h0m-103 16h0m-39 16h0m41 0h0m-61 31h0m40 0h0" class="r"/>
<path d="M642 1028h0m-105 96h0m-22 31h0m27 0h0m-59 32h0m2 32h0m-66 48h0m2 0h0m-6 15h0" class="k"/>
<path d="M487 1171h0m-79 96h0" class="b"/>
<path d="M927 931h0m49 0h0m-352 97h0m315 0h0m-298 64h0m-86 32h0m9 0h0m134 0h0m-221 31h0m37 0h0m45 0h0m77 0h0m101 0h0m-176 32h0m-86 32h0m8 0h0m41 0h0m16-16h0m-106 32h0m-14 32h0m46 0h0m16-16h0m16 0h0m13 16h0m-86 15h0" stroke="#fff" stroke-width="23.8"/>
<path d="M927 931h0m49 0h0m-37 97h0m-241 96h0m-62 31h0m101 0h0m-176 32h0m-37 32h0m16-16h0m-74 64h0m16-16h0m16 0h0m13 16h0" class="r"/>
<path d="M624 1028h0m17 64h0m-86 32h0m9 0h0m-50 31h0m45 0h0m-84 64h0m8 0h0m-63 48h0m5 15h0" class="k"/>
<path d="M477 1155h0m-43 80h0" class="b"/>
<path d="M840 899h0m80 82h0m-231 15h0m15 0h0m140 0h0m-22 48h0m-152 32h0m123-16h0m-213 32h0m37 0h0m265 0h0m-283 32h0m-46 31h0m59 0h0m41 0h0m23 32h0m48 0h0m-200 32h0m148-16h0m-176 32h0m-73 32h0m12 0h0m128-16h0m-150 31h0m74 0h0" stroke="#fff" stroke-width="23.8"/>
<path d="M920 981h0m-76 15h0m-22 48h0m-29 16h0m89 32h0m-270 63h0m41 0h0m23 32h0m48 0h0m-200 32h0m148-16h0m-176 32h0m67 16h0m-76 31h0" class="r"/>
<path d="M840 899h0m-151 97h0m15 0h0m-34 80h0m-90 16h0m37 0h0m-18 32h0m-46 31h0m-130 112h0m12 0h0m-22 15h0" class="k"/>
<path d="M810 902h0m-232 94h0m271 48h0m-28 48h0m-166 32h0m41-16h0m-141 47h0m32 0h0m-120 32h0m62 0h0m14 0h0m20 0h0m137 0h0m-233 32h0m4 0h0m28 0h0m-25 16h0m45 0h0m63 0h0m-156 16h0m30 0h0m114 16h0m-168 15h0m76 0h0m55 0h0" stroke="#fff" stroke-width="23.8"/>
<path d="M849 1044h0m-28 48h0m-166 32h0m41-16h0m-109 47h0m-44 32h0m20 0h0m137 0h0m-181 48h0m63 0h0m-12 32h0m-92 15h0m55 0h0" class="r"/>
<path d="M810 902h0m-255 253h0m-26 32h0m-62 32h0m4 0h0m28 0h0m-25 16h0m-48 16h0m30 0h0m-54 31h0" class="k"/>
<path d="M578 996h0m-111 191h0" class="b"/>
<path d="M811 981h0m-188 79h0m101 0h0m182 0h0m-234 32h0m45 0h0m4 0h0m-190 63h0m19 0h0m2 0h0m16 0h0m105 0h0m-145 32h0m3 0h0m59 0h0m31 0h0m51 0h0m-219 32h0m54 0h0m45 0h0m107 0h0m-248 63h0m30 0h0m-68 32h0m14 0h0" stroke="#fff" stroke-width="23.8"/>
<path d="M811 981h0m-87 79h0m182 0h0m-234 32h0m45 0h0m4 0h0m-48 63h0m-83 32h0m31 0h0m51 0h0m-165 32h0m45 0h0m107 0h0m-218 63h0m-54 32h0" class="r"/>
<path d="M623 1060h0m-92 95h0m19 0h0m2 0h0m16 0h0m-40 32h0m3 0h0m-78 32h0m-42 63h0" class="k"/>
<path d="M373 1314h0" class="b"/>
<path d="M961 740h0m-141 288h0m-50 32h0m8 0h0m150 0h0m92-4h0m-404 36h0m0 0h0m42 32h0m119 15h0m-245 32h0m14-16h0m0 0h0m-36 32h0m-57 32h0m46 0h0m25 0h0m23 0h0m-93 16h0m45 0h0m4 0h0m17 16h0m-26 31h0m-113 16h0m40 0h0" stroke="#fff" stroke-width="23.8"/>
<path d="M820 1028h0m-50 32h0m8 0h0m150 0h0m92-4h0m-362 68h0m119 15h0m-253 80h0m23 0h0m-48 16h0m4 0h0m17 16h0m-26 31h0m-73 16h0" class="r"/>
<path d="M961 740h0m-345 352h0m0 0h0m-84 79h0m14-16h0m0 0h0m-36 32h0m-57 32h0m46 0h0m-45 16h0" class="k"/>
<path d="M381 1298h0" class="b"/>
<path d="M926 996h0m30 0h0m-1 32h0m-304 96h0m19-16h0m-79 47h0m-92 32h0m23 0h0m13 0h0m178 0h0m-258 32h0m2 0h0m41-16h0m18 16h0m41 0h0m-112 16h0m17 0h0m-43 32h0m12-16h0m168 0h0m-200 31h0m24 0h0m14 0h0m-45 32h0m2-16h0" stroke="#fff" stroke-width="23.8"/>
<path d="M926 996h0m30 0h0m-1 32h0m-304 96h0m19-16h0m-79 47h0m122 32h0m-197 32h0m41 0h0m42 32h0m-162 31h0m-45 32h0" class="r"/>
<path d="M499 1187h0m23 0h0m13 0h0m-80 32h0m2 0h0m41-16h0m-53 32h0m17 0h0m-43 32h0m12-16h0m-8 31h0m-29 16h0" class="k"/>
<path d="M399 1282h0" class="b"/>
<path d="M633 996h0m-13 64h0m60 0h0m91 0h0m-183 32h0m2 32h0m90-16h0m81 16h0m-227 31h0m83 0h0m26 0h0m70 0h0m-172 32h0m14 0h0m15 0h0m-122 32h0m100-16h0m17 0h0m18 16h0m-146 48h0m2 0h0m34-16h0m19 31h0m-117 32h0m80-16h0" stroke="#fff" stroke-width="23.8"/>
<path d="M771 1060h0m-91 48h0m81 16h0m-144 31h0m26 0h0m70 0h0m-158 32h0m15 0h0m-22 16h0m17 0h0m18 16h0m-110 32h0m19 31h0m-37 16h0" class="r"/>
<path d="M620 1060h0m60 0h0m-92 32h0m2 32h0m-56 31h0m7 32h0m-104 80h0m2 0h0m-64 47h0" class="k"/>
<path d="M633 996h0m-185 223h0" class="b"/>
<path d="M738 931h0m101 65h0m90 0h0m-92 32h0m-77 32h0m-184 32h0m-35 32h0m103 0h0m-85 31h0m-82 32h0m43 0h0m0 0h0m2 0h0m197 0h0m-263 32h0m52 0h0m12 0h0m12 0h0m-116 48h0m30 0h0m17-16h0m20 0h0m-110 63h0m15-16h0m26 0h0" stroke="#fff" stroke-width="23.8"/>
<path d="M839 996h0m90 0h0m-92 32h0m-77 32h0m-116 64h0m75 63h0m-211 32h0m12 0h0m12 0h0m-86 48h0m37-16h0m-69 47h0" class="r"/>
<path d="M738 931h0m-162 161h0m-35 32h0m18 31h0m-39 32h0m0 0h0m2 0h0m-66 32h0m-40 48h0m47-16h0m-75 47h0" class="k"/>
<path d="M477 1187h0m-104 127h0" class="b"/>
<path d="M812 902h0m-142 126h0m50 0h0m17 0h0m34 0h0m-25 32h0m440-2h0m-571 34h0m25 32h0m-147 47h0m23-16h0m69 16h0m-1 16h0m-148 32h0m64 0h0m50 0h0m89 0h0m-216 48h0m21-16h0m30 16h0m35 0h0m30-16h0m-121 31h0m-33 32h0m24-16h0" stroke="#fff" stroke-width="23.8"/>
<path d="M771 1028h0m-25 32h0m440-2h0m-546 66h0m-55 47h0m-1 16h0m-34 32h0m89 0h0m-165 48h0m35 0h0m30-16h0m-130 47h0" class="r"/>
<path d="M812 902h0m-142 126h0m50 0h0m17 0h0m-122 64h0m-122 79h0m23-16h0m-16 64h0m-77 48h0m21-16h0m-26 31h0m-33 32h0" class="k"/>
<path d="M436 1219h0" class="b"/>
<path d="M912 996h0m-258 32h0m49 0h0m91 0h0m18 0h0m-188 64h0m14 0h0m34 0h0m-131 16h0m113 0h0m82 16h0m-155 31h0m-116 32h0m30 0h0m22 0h0m36 0h0m71 0h0m13 0h0m50 0h0m-213 32h0m33 16h0m-80 32h0m-13 15h0m22 0h0m61 0h0" stroke="#fff" stroke-width="23.8"/>
<path d="M912 996h0m-118 32h0m18 0h0m-140 64h0m-18 16h0m82 16h0m-183 63h0m71 0h0m13 0h0m50 0h0m-180 48h0m-71 47h0m61 0h0" class="r"/>
<path d="M654 1028h0m49 0h0m-79 64h0m14 0h0m-57 63h0m-86 32h0m22 0h0m-43 32h0m-47 48h0m-13 15h0" class="k"/>
<path d="M541 1108h0m-76 79h0" class="b"/>
<path d="M553 996h0m85 0h0m584-1h0m-629 65h0m7 16h0m-48 16h0m90 32h0m53 0h0m23-16h0m-211 47h0m139 16h0m57-16h0m-227 32h0m69 0h0m-62 32h0m31 0h0m43 0h0m-147 48h0m9 0h0m26 0h0m17 0h0m-36 15h0m3 0h0m4 0h0m-11 32h0" stroke="#fff" stroke-width="23.8"/>
<path d="M1222 995h0m-580 129h0m53 0h0m23-16h0m-72 63h0m57-16h0m-158 32h0m-31 32h0m43 0h0m-95 48h0m-36 15h0m3 0h0m4 0h0m-11 32h0" class="r"/>
<path d="M638 996h0m-45 64h0m7 16h0m-93 79h0m-24 64h0m-64 48h0m26 0h0" class="k"/>
<path d="M553 996h0m-1 96h0m-76 95h0m-66 80h0" class="b"/>
<path d="M906 901h0m-228 32h0m253 63h0m17 0h0m-360 96h0m141 0h0m20 0h0m-52 16h0m142 0h0m-304 47h0m-31 32h0m-62 32h0m18 0h0m70-16h0m5 16h0m14 0h0m2 0h0m0-16h0m14 16h0m19 0h0m53-16h0m-218 64h0m42-16h0m-3 31h0m-87 32h0" stroke="#fff" stroke-width="23.8"/>
<path d="M906 901h0m25 95h0m17 0h0m-219 96h0m20 0h0m-52 16h0m142 0h0m-309 95h0m5 16h0m14 0h0m2 0h0m0-16h0m14 16h0m19 0h0m53-16h0m-179 79h0" class="r"/>
<path d="M588 1092h0m-53 63h0m-31 32h0m-44 32h0m-41 48h0m42-16h0" class="k"/>
<path d="M678 933h0m-236 286h0m-71 95h0" class="b"/>
<path d="M869 965h0m-142 63h0m-35 48h0m-153 32h0m-21 31h0m32 16h0m48 0h0m6 0h0m2 0h0m4 16h0m45-16h0m44 0h0m-228 32h0m1 0h0m91 0h0m-51 32h0m124 0h0m-184 16h0m101 0h0m-146 16h0m8 16h0m3 0h0m14 0h0m104-16h0m-160 63h0" stroke="#fff" stroke-width="23.8"/>
<path d="M869 965h0m-177 111h0m-94 79h0m6 0h0m2 0h0m4 16h0m45-16h0m44 0h0m-136 32h0m-51 32h0m124 0h0m-83 16h0m-17 16h0" class="r"/>
<path d="M727 1028h0m-209 111h0m32 16h0m-98 80h0m-37 32h0m3 0h0m14 0h0m-56 47h0" class="k"/>
<path d="M539 1108h0m-68 79h0m1 0h0m-65 64h0" class="b"/>
<path d="M777 1028h0m-84 32h0m-148 64h0m90 0h0m32 0h0m-77 31h0m3 0h0m103 0h0m24 0h0m-185 32h0m97 0h0m-170 16h0m41 16h0m41 0h0m29 0h0m83 0h0m-216 16h0m30 0h0m-17 16h0m6 0h0m42 0h0m46 0h0m-129 31h0m30 0h0m-57 32h0" stroke="#fff" stroke-width="23.8"/>
<path d="M777 1028h0m-142 96h0m32 0h0m-77 31h0m3 0h0m103 0h0m24 0h0m-88 32h0m-88 32h0m29 0h0m83 0h0m-155 32h0m46 0h0m-99 31h0m-57 32h0" class="r"/>
<path d="M693 1060h0m-148 64h0m-10 63h0m-32 32h0m-63 16h0m30 0h0m-17 16h0m6 0h0m-41 31h0" class="k"/>
<path d="M462 1203h0" class="b"/>
<path d="M648 931h0m129 65h0m-295 126h0m113 2h0m50 0h0m29 0h0m71 0h0m-192 15h0m-68 16h0m39 0h0m67 0h0m-102 32h0m37 0h0m24 0h0m7 0h0m-89 32h0m29-16h0m74 16h0m109-16h0m-261 64h0m46-16h0m7 16h0m20-16h0m-79 31h0m84 0h0" stroke="#fff" stroke-width="23.8"/>
<path d="M645 1124h0m29 0h0m71 0h0m-154 31h0m-41 32h0m7 0h0m14 32h0m109-16h0m-215 48h0m7 16h0m20-16h0m5 31h0" class="r"/>
<path d="M777 996h0m-182 128h0m-42 15h0m-29 16h0m-35 32h0m37 0h0m-58 32h0m29-16h0m-78 64h0m-6 15h0" class="k"/>
<path d="M648 931h0m-166 191h0m3 33h0" class="b"/>
<path d="M738 895h0m-226 163h0m334 18h0m-167 16h0m11 0h0m-108 32h0m39 0h0m-121 31h0m101 0h0m14 0h0m23 0h0m-32 32h0m-102 16h0m107 16h0m48 0h0m-189 16h0m71 0h0m91 0h0m-201 32h0m1-16h0m17 0h0m27 0h0m15 16h0m46-16h0m-94 47h0" stroke="#fff" stroke-width="23.8"/>
<path d="M846 1076h0m-167 16h0m11 0h0m-89 63h0m14 0h0m23 0h0m-32 32h0m5 32h0m48 0h0m-118 16h0m91 0h0m-156 16h0m15 16h0m46-16h0m-94 47h0" class="r"/>
<path d="M738 895h0m-156 229h0m39 0h0m-117 79h0m-34 32h0m-39 32h0m1-16h0m17 0h0" class="k"/>
<path d="M512 1058h0m-12 97h0" class="b"/>
<path d="M1043 981h0m-105 15h0m-42 48h0m-293 16h0m71 32h0m37 0h0m-60 32h0m-33 47h0m-73 48h0m7 0h0m22 0h0m3 0h0m-30 16h0m43 0h0m-170 32h0m10 0h0m6-16h0m4 0h0m1 0h0m47 0h0m21 0h0m50 0h0m-125 31h0m2 0h0m52 0h0" stroke="#fff" stroke-width="23.8"/>
<path d="M1043 981h0m-105 15h0m-42 48h0m-222 48h0m37 0h0m-60 32h0m-33 47h0m-73 48h0m7 0h0m22 0h0m3 0h0m-30 16h0m43 0h0m-102 16h0m21 0h0m50 0h0m-125 31h0m2 0h0m52 0h0" class="r"/>
<path d="M603 1060h0m-183 207h0m10 0h0m6-16h0m4 0h0m1 0h0" class="k"/>
<path d="M763 1060h0m148 16h0m30-16h0m9 0h0m-466 95h0m10 16h0m21-16h0m25 0h0m21 0h0m44 0h0m-56 32h0m-85 32h0m8-16h0m41 16h0m30 0h0m2-16h0m58 16h0m-195 48h0m19 0h0m56-16h0m20 0h0m12 0h0m21 0h0m64 0h0m-118 31h0" stroke="#fff" stroke-width="23.8"/>
<path d="M763 1060h0m148 16h0m30-16h0m9 0h0m-345 95h0m-56 32h0m-36 32h0m30 0h0m2-16h0m58 16h0m-120 32h0m20 0h0m12 0h0m21 0h0m64 0h0m-118 31h0" class="r"/>
<path d="M494 1171h0m21-16h0m25 0h0m21 0h0m-97 64h0m8-16h0m-45 64h0" class="k"/>
<path d="M484 1155h0m-76 112h0" class="b"/>
<path d="M872 996h0m-124 32h0m6 32h0m-68 32h0m-158 32h0m22-16h0m171 16h0m49-16h0m-268 47h0m51 0h0m-8 32h0m87 0h0m-158 32h0m36-16h0m18 0h0m10 0h0m42 16h0m-45 16h0m-103 32h0m17-16h0m24 0h0m14 16h0m-110 47h0m6 0h0m49-16h0" stroke="#fff" stroke-width="23.8"/>
<path d="M872 996h0m-124 32h0m6 32h0m-68 32h0m35 32h0m49-16h0m-225 79h0m87 0h0m-104 16h0m10 0h0m42 16h0m-45 16h0m-62 16h0m14 16h0m-55 31h0" class="r"/>
<path d="M550 1108h0m3 47h0m-79 64h0m36-16h0m-78 64h0m17-16h0m-72 63h0m6 0h0" class="k"/>
<path d="M528 1124h0m-26 31h0" class="b"/>
<path d="M757 1044h0m-154 16h0m218 0h0m-213 79h0m12 0h0m-121 16h0m143 0h0m1 0h0m-178 32h0m119 0h0m-140 32h0m88 0h0m98 0h0m6 0h0m-153 16h0m0 0h0m-43 32h0m2 0h0m65-16h0m13 0h0m6 0h0m31 16h0m24-16h0m32 0h0m-204 47h0" stroke="#fff" stroke-width="23.8"/>
<path d="M757 1044h0m64 16h0m-213 79h0m12 0h0m22 16h0m1 0h0m-59 32h0m-52 32h0m98 0h0m6 0h0m-129 32h0m13 0h0m6 0h0m31 16h0m24-16h0m32 0h0m-204 47h0" class="r"/>
<path d="M603 1060h0m-120 175h0m0 0h0m-43 32h0m2 0h0" class="k"/>
<path d="M499 1155h0m-34 32h0m-21 32h0" class="b"/>
<path d="M583 1060h0m89 0h0m183 16h0m-280 16h0m124 0h0m17 0h0m-157 32h0m125 0h0m-166 31h0m14 16h0m-53 16h0m5 0h0m24 0h0m1 0h0m124 0h0m-159 32h0m111 0h0m19 0h0m66 0h0m-233 16h0m48 0h0m-61 16h0m-12 31h0m87 0h0m-103 16h0" stroke="#fff" stroke-width="23.8"/>
<path d="M855 1076h0m-156 16h0m17 0h0m-32 32h0m-51 63h0m-48 32h0m19 0h0m66 0h0m-185 16h0m14 47h0" class="r"/>
<path d="M583 1060h0m89 0h0m-97 32h0m-16 32h0m-41 31h0m14 16h0m-53 16h0m5 0h0m24 0h0m1 0h0m-35 32h0m-62 63h0m-16 16h0" class="k"/>
<path d="M437 1235h0m-13 16h0" class="b"/>
<path d="M706 678h0m-65 366h0m3 32h0m63 0h0m109-16h0m-152 32h0m9 0h0m53 0h0m-175 32h0m146 0h0m-201 31h0m43 32h0m24 0h0m30 0h0m-136 32h0m21 0h0m5 0h0m43 0h0m42 0h0m-83 16h0m-69 32h0m14 0h0m110-16h0m1 0h0m-126 31h0" stroke="#fff" stroke-width="23.8"/>
<path d="M707 1076h0m109-16h0m-152 32h0m9 0h0m53 0h0m-29 32h0m-134 63h0m30 0h0m-67 32h0m42 0h0m-83 16h0m55 16h0m1 0h0" class="r"/>
<path d="M641 1044h0m3 32h0m-93 48h0m-12 63h0m-82 32h0m21 0h0m5 0h0m-67 48h0m14 0h0m-15 15h0" class="k"/>
<path d="M706 678h0m-210 477h0" class="b"/>
<path d="M620 996h0m5 96h0m61 0h0m-101 16h0m42 16h0m7 0h0m-113 31h0m3 0h0m25 0h0m150 16h0m-220 16h0m55 0h0m18 0h0m51 0h0m23 0h0m-137 32h0m23-16h0m44 0h0m49 16h0m-89 48h0m5-16h0m-117 31h0m6 0h0m-19 32h0m31-16h0" stroke="#fff" stroke-width="23.8"/>
<path d="M686 1092h0m-59 32h0m7 0h0m65 47h0m-147 16h0m51 0h0m23 0h0m-70 16h0m49 16h0m-89 48h0m5-16h0m-130 63h0m31-16h0" class="r"/>
<path d="M625 1092h0m-40 16h0m-64 47h0m3 0h0m25 0h0m-70 32h0m55 0h0m-45 32h0m23-16h0m-108 79h0m6 0h0" class="k"/>
<path d="M620 996h0" class="b"/>
<path d="M711 996h0m152 0h0m-8 48h0m-208 16h0m9 0h0m79 0h0m3 0h0m14 48h0m-227 47h0m115 0h0m46 0h0m-133 32h0m4 0h0m93 0h0m-204 32h0m35 0h0m33-16h0m13 0h0m46 0h0m-30 32h0m-105 16h0m18 0h0m12 16h0m52 0h0m-96 15h0" stroke="#fff" stroke-width="23.8"/>
<path d="M863 996h0m-8 48h0m-120 16h0m3 0h0m14 48h0m-112 47h0m46 0h0m-133 32h0m4 0h0m93 0h0m-123 16h0m46 0h0m-30 32h0m-75 32h0m52 0h0" class="r"/>
<path d="M711 996h0m-64 64h0m9 0h0m-131 95h0m-44 64h0m33-16h0m-76 48h0m18 0h0m-32 31h0" class="k"/>
<path d="M446 1219h0" class="b"/>
<path d="M766 996h0m-140 80h0m33 16h0m95 0h0m-165 32h0m213 0h0m-291 31h0m15 0h0m34 0h0m41 16h0m56 0h0m4-16h0m-74 32h0m-131 32h0m114 0h0m38 0h0m-195 48h0m20 0h0m7 0h0m17-16h0m1 16h0m0 0h0m-36 15h0m-35 32h0m48-16h0" stroke="#fff" stroke-width="23.8"/>
<path d="M754 1092h0m48 32h0m-201 47h0m56 0h0m4-16h0m-74 32h0m-17 32h0m38 0h0m-150 48h0m0 0h0m-71 47h0m48-16h0" class="r"/>
<path d="M766 996h0m-140 80h0m33 16h0m-70 32h0m-78 31h0m15 0h0m34 0h0m-104 64h0m-43 48h0m20 0h0m7 0h0m17-16h0m-35 31h0" class="k"/>
<path d="M798 948h0m67 48h0m-263 48h0m255 32h0m-330 48h0m78 0h0m63-16h0m66 16h0m30 0h0m-212 31h0m32 16h0m31-16h0m5 16h0m45-16h0m-196 32h0m118 0h0m28 0h0m32 0h0m37 0h0m-233 32h0m1 0h0m30 0h0m-70 48h0m-5 15h0m100 0h0" stroke="#fff" stroke-width="23.8"/>
<path d="M865 996h0m-8 80h0m-189 32h0m66 16h0m30 0h0m-180 47h0m31-16h0m5 16h0m45-16h0m-78 32h0m28 0h0m32 0h0m37 0h0m-177 95h0" class="r"/>
<path d="M798 948h0m-196 96h0m3 80h0m-53 31h0m-100 64h0m30 0h0m-75 63h0" class="k"/>
<path d="M527 1124h0m-58 63h0m-18 32h0m-39 48h0" class="b"/>
<path d="M915 996h0m-292 32h0m191-16h0m-204 64h0m-78 48h0m92 15h0m-34 16h0m49 0h0m106 0h0m-240 32h0m53 0h0m-96 32h0m11 0h0m57-16h0m38 16h0m6 0h0m-70 16h0m-89 32h0m20 0h0m32-16h0m34 0h0m-69 31h0m25 0h0m12 0h0m-87 32h0" stroke="#fff" stroke-width="23.8"/>
<path d="M915 996h0m-101 16h0m-190 127h0m-34 16h0m49 0h0m106 0h0m-187 32h0m-28 16h0m38 16h0m6 0h0m-70 16h0m-37 16h0m34 0h0m-69 31h0m25 0h0m12 0h0" class="r"/>
<path d="M623 1028h0m-13 48h0m-78 48h0m-27 63h0m-43 32h0m11 0h0m-58 48h0m20 0h0m-53 47h0" class="k"/>
<path d="M941 996h0m-260 64h0m217 0h0m-335 32h0m125 0h0m66 0h0m71 0h0m-311 63h0m23 16h0m41-16h0m122 0h0m-197 32h0m0 0h0m4 0h0m101 0h0m-37 32h0m101 0h0m-126 16h0m-136 32h0m40-16h0m33 16h0m56-16h0m-118 31h0m-5 16h0m35 0h0" stroke="#fff" stroke-width="23.8"/>
<path d="M941 996h0m-43 64h0m-210 32h0m66 0h0m71 0h0m-125 63h0m-92 32h0m-37 32h0m101 0h0m-126 16h0m-63 32h0m56-16h0m-123 47h0m35 0h0" class="r"/>
<path d="M681 1060h0m-118 32h0m-49 63h0m23 16h0m41-16h0m-75 32h0m0 0h0m4 0h0m-57 64h0m-29 31h0" class="k"/>
<path d="M410 1267h0" class="b"/>
<path d="M629 996h0m84 0h0m-107 32h0m199 16h0m46 0h0m-98 16h0m146 0h0m-275 32h0m-111 47h0m83 0h0m-76 16h0m11 16h0m34-16h0m27 32h0m3 0h0m-100 32h0m16 0h0m11 0h0m64 0h0m5-16h0m6 16h0m-146 16h0m-21 16h0m28 0h0m25 0h0" stroke="#fff" stroke-width="23.8"/>
<path d="M805 1044h0m46 0h0m-98 16h0m146 0h0m-307 127h0m3 0h0m-84 32h0m11 0h0m64 0h0m5-16h0m6 16h0m-114 32h0" class="r"/>
<path d="M713 996h0m-89 96h0m-28 47h0m-76 16h0m11 16h0m34-16h0m-70 64h0m-44 16h0m-21 16h0m28 0h0" class="k"/>
<path d="M629 996h0m-23 32h0m-93 111h0" class="b"/>
<path d="M587 944h0m206 52h0m-115 32h0m173-16h0m-198 48h0m93 0h0m2 0h0m19 0h0m-135 32h0m67 0h0m-173 32h0m19 0h0m-17 31h0m24 0h0m80 0h0m-110 32h0m85 0h0m-134 32h0m41-16h0m131 16h0m-176 32h0m7 16h0m21-16h0m11 0h0m-70 47h0" stroke="#fff" stroke-width="23.8"/>
<path d="M793 996h0m58 16h0m-105 48h0m2 0h0m19 0h0m-68 32h0m-67 63h0m-25 32h0m38 32h0m-176 32h0m7 16h0m21-16h0m11 0h0m-70 47h0" class="r"/>
<path d="M678 1028h0m-25 32h0m-21 32h0m-87 32h0m-17 31h0m24 0h0m-30 32h0m-49 32h0m41-16h0" class="k"/>
<path d="M587 944h0m-61 180h0" class="b"/>
<path d="M893 740h0m-165 288h0m3-16h0m253 16h0m-257 32h0m-78 64h0m-138 31h0m49 0h0m-90 32h0m25 0h0m3 0h0m81 0h0m-51 32h0m-65 16h0m159 0h0m-204 32h0m31-16h0m13 16h0m49-16h0m37 0h0m8 0h0m0 0h0m9 0h0m-168 31h0m48 32h0" stroke="#fff" stroke-width="23.8"/>
<path d="M984 1028h0m-257 32h0m-78 64h0m-70 63h0m-51 32h0m94 16h0m-160 32h0m49-16h0m37 0h0m8 0h0m0 0h0m9 0h0m-120 63h0" class="r"/>
<path d="M893 740h0m-165 288h0m3-16h0m-220 143h0m49 0h0m-65 32h0m3 0h0m-35 48h0m-45 32h0m31-16h0" class="k"/>
<path d="M470 1187h0m-73 95h0" class="b"/>
<path d="M722 886h0m-73 110h0m135 0h0m16 0h0m33 0h0m29 64h0m33 0h0m-319 32h0m67 0h0m155 0h0m-143 32h0m59 0h0m-83 47h0m137-16h0m-291 32h0m16 0h0m37 0h0m57 0h0m-43 16h0m-128 64h0m21-16h0m111 16h0m-133 15h0m-34 32h0m10 0h0" stroke="#fff" stroke-width="23.8"/>
<path d="M784 996h0m16 0h0m33 0h0m29 64h0m33 0h0m-97 32h0m-143 32h0m59 0h0m-83 47h0m137-16h0m-181 32h0m-43 16h0m4 64h0m-157 47h0" class="r"/>
<path d="M722 886h0m-73 110h0m-73 96h0m67 0h0m-150 95h0m37 0h0m-114 80h0m21-16h0m-22 31h0m-34 32h0" class="k"/>
<path d="M477 1187h0" class="b"/>
<path d="M721 889h0m78 107h0m-202 48h0m-15 48h0m12 32h0m94 0h0m-167 15h0m12 0h0m125 0h0m-82 16h0m230 0h0m-334 32h0m49 0h0m29 0h0m55 0h0m-90 32h0m7-16h0m5 16h0m136 0h0m-243 16h0m7 0h0m60 0h0m-14 16h0m-60 31h0m19 0h0" stroke="#fff" stroke-width="23.8"/>
<path d="M799 996h0m-111 128h0m-30 15h0m148 16h0m-256 32h0m55 0h0m-90 32h0m12 0h0m136 0h0m-176 16h0m-14 16h0m-41 31h0" class="r"/>
<path d="M721 889h0m-124 155h0m-15 48h0m12 32h0m-73 15h0m12 0h0m43 16h0m-55 32h0m1 16h0m-109 79h0" class="k"/>
<path d="M472 1187h0m-52 48h0m7 0h0" class="b"/>
<path d="M666 1028h0m-71 32h0m-27 32h0m9 0h0m-44 32h0m75 0h0m28 0h0m-121 31h0m3 0h0m8 0h0m62 0h0m25 0h0m19 0h0m34 0h0m-164 32h0m34 0h0m2 0h0m24 0h0m24 0h0m-104 16h0m42 0h0m26 16h0m-49 16h0m-95 32h0m0 47h0" stroke="#fff" stroke-width="23.8"/>
<path d="M636 1124h0m-48 31h0m25 0h0m19 0h0m34 0h0m-104 32h0m24 0h0m-62 16h0m26 16h0m-49 16h0m-95 79h0" class="r"/>
<path d="M666 1028h0m-71 32h0m-27 32h0m9 0h0m-44 32h0m75 0h0m-93 31h0m3 0h0m8 0h0m-24 32h0m34 0h0m2 0h0m-56 16h0" class="k"/>
<path d="M406 1267h0" class="b"/>
<path d="M629 996h0m58 0h0m174 0h0m-261 48h0m-2 16h0m142 32h0m-218 32h0m-33 47h0m48-16h0m16 0h0m70 0h0m5 0h0m-137 32h0m70 0h0m2 0h0m3 0h0m-102 32h0m41 0h0m3 0h0m25 0h0m-105 48h0m26-16h0m2 0h0m37 16h0m-108 47h0" stroke="#fff" stroke-width="23.8"/>
<path d="M861 996h0m-121 96h0m-117 63h0m5 0h0m-67 32h0m2 0h0m3 0h0m-61 32h0m3 0h0m25 0h0m-40 48h0" class="r"/>
<path d="M687 996h0m-87 48h0m-2 16h0m-61 95h0m16 0h0m-62 32h0m-27 32h0m-36 48h0m26-16h0m2 0h0m-71 63h0" class="k"/>
<path d="M629 996h0m-107 128h0m-33 47h0" class="b"/>
<path d="M921 1060h0m-370 64h0m31 0h0m179 0h0m-222 31h0m58 0h0m46 0h0m-167 32h0m18 0h0m130 0h0m91 0h0m10 0h0m-262 32h0m8 0h0m16 0h0m83 0h0m7 0h0m12 0h0m70-16h0m4 0h0m16 0h0m-216 32h0m-10 16h0m23 16h0m-92 47h0" stroke="#fff" stroke-width="23.8"/>
<path d="M921 1060h0m-160 64h0m-164 31h0m46 0h0m-19 32h0m91 0h0m10 0h0m-155 32h0m7 0h0m12 0h0m70-16h0m4 0h0m16 0h0m-203 64h0" class="r"/>
<path d="M551 1124h0m31 0h0m-43 31h0m-45 32h0m-31 32h0m8 0h0m16 0h0m-24 16h0m-10 16h0m-69 63h0" class="k"/>
<path d="M476 1187h0" class="b"/>
<path d="M683 776h0m43 316h0m80 0h0m-204 32h0m79 0h0m-19 15h0m4 0h0m-104 16h0m168 0h0m-261 32h0m37 0h0m20 0h0m-41 32h0m15 0h0m35 0h0m20 0h0m71 0h0m4 0h0m-102 16h0m-86 32h0m37-16h0m27 0h0m-108 31h0m83 0h0m-37 16h0" stroke="#fff" stroke-width="23.8"/>
<path d="M726 1092h0m80 0h0m-125 32h0m-19 15h0m4 0h0m64 16h0m-195 64h0m20 0h0m71 0h0m4 0h0m-102 16h0m-49 16h0m27 0h0m-25 31h0m-37 16h0" class="r"/>
<path d="M602 1124h0m-40 31h0m-56 32h0m20 0h0m-41 32h0m15 0h0m-58 48h0" class="k"/>
<path d="M683 776h0m-214 411h0m-71 95h0" class="b"/>
<path d="M792 899h0m-48 13h0m13 84h0m165 0h0m-214 64h0m206 0h0m-319 32h0m-27 32h0m97 0h0m-129 31h0m100 0h0m-104 32h0m62 0h0m-146 32h0m6 0h0m27 0h0m49 0h0m25-16h0m43 16h0m46 0h0m-187 32h0m51 0h0m-70 31h0m-69 32h0m24-16h0" stroke="#fff" stroke-width="23.8"/>
<path d="M922 996h0m-214 64h0m206 0h0m-249 64h0m-29 31h0m-42 32h0m-64 32h0m25-16h0m43 16h0m46 0h0m-136 32h0m-70 31h0" class="r"/>
<path d="M792 899h0m-48 13h0m13 84h0m-162 96h0m-27 32h0m-32 31h0m-4 32h0m-78 32h0m27 0h0m-24 32h0m-64 47h0" class="k"/>
<path d="M448 1219h0m-79 95h0" class="b"/>
<path d="M982 836h0m-368 192h0m24 0h0m-44 32h0m37 16h0m-83 16h0m298 0h0m-330 79h0m0-16h0m-89 64h0m21 0h0m2 0h0m11 0h0m4 0h0m32 0h0m-36 16h0m65 0h0m-115 32h0m35-16h0m3 0h0m5 0h0m3 0h0m16 16h0m34 0h0m47-16h0" stroke="#fff" stroke-width="23.8"/>
<path d="M982 836h0m-136 256h0m-320 143h0m-53 32h0m34 0h0m47-16h0" class="r"/>
<path d="M614 1028h0m24 0h0m-44 32h0m37 16h0m-115 95h0m0-16h0m-55 64h0m4 0h0m32 0h0m-36 16h0m-15 16h0m3 0h0m5 0h0m3 0h0" class="k"/>
<path d="M548 1092h0m-121 127h0m21 0h0m2 0h0m-39 48h0" class="b"/>
<path d="M950 931h0m-271 97h0m-13 48h0m-126 16h0m98 0h0m-117 47h0m-27 32h0m258-16h0m35 0h0m-295 32h0m2 0h0m41 0h0m-84 32h0m14-16h0m48 16h0m33 0h0m-32 16h0m-78 16h0m8 16h0m12 0h0m58-16h0m44 0h0m-148 31h0m-11 32h0m61-16h0" stroke="#fff" stroke-width="23.8"/>
<path d="M950 931h0m-198 224h0m35 0h0m-274 64h0m33 0h0m-32 16h0m-58 32h0m58-16h0m44 0h0m-159 63h0m61-16h0" class="r"/>
<path d="M679 1028h0m-13 48h0m-28 16h0m-117 47h0m-27 32h0m-2 16h0m2 0h0m41 0h0m-70 16h0m-29 48h0m8 16h0m-34 15h0" class="k"/>
<path d="M540 1092h0m-89 127h0" class="b"/>
<path d="M920 996h0m-251 96h0m65 32h0m14 0h0m-215 31h0m7 0h0m74 0h0m3 16h0m5-16h0m156 0h0m-428 30h0m98 34h0m38 0h0m36-16h0m14 16h0m18 0h0m115 0h0m-240 16h0m39 0h0m2 16h0m19 16h0m15-16h0m-70 31h0m3 0h0m-29 16h0" stroke="#fff" stroke-width="23.8"/>
<path d="M920 996h0m-251 96h0m65 32h0m14 0h0m-134 31h0m3 16h0m5-16h0m156 0h0m-242 64h0m18 0h0m115 0h0m-199 32h0m19 16h0m15-16h0m-70 31h0m3 0h0m-29 16h0" class="r"/>
<path d="M533 1155h0m7 0h0m-54 64h0m36-16h0m-54 32h0" class="k"/>
<path d="M350 1185h0m98 34h0m-19 16h0" class="b"/>
<path d="M1007 866h0m-120 65h0m197 2h0m-330 63h0m78 0h0m-193 96h0m-121 32h0m116 0h0m-155 31h0m31 16h0m126 0h0m37 0h0m28-16h0m-143 32h0m10 0h0m5 0h0m176 0h0m-242 32h0m24 0h0m62 0h0m-177 32h0m11 16h0m58-16h0m50 0h0m-149 47h0" stroke="#fff" stroke-width="23.8"/>
<path d="M1007 866h0m-120 65h0m197 2h0m-252 63h0m-198 128h0m2 47h0m37 0h0m28-16h0m-143 32h0m10 0h0m5 0h0m176 0h0m-242 32h0m24 0h0m62 0h0m-108 32h0m50 0h0" class="r"/>
<path d="M754 996h0m-115 96h0m-129 79h0m-83 96h0" class="k"/>
<path d="M518 1124h0m-39 31h0m-63 96h0m-30 47h0" class="b"/>
<path d="M903 996h0m33 0h0m-349 64h0m98 0h0m155 0h0m-249 32h0m313 0h0m-374 32h0m27 0h0m399-2h0m176 0h0m-579 33h0m-48 32h0m-14 32h0m46 0h0m38 0h0m64 0h0m-218 48h0m2 0h0m32-16h0m30 0h0m27 16h0m-118 15h0m-3 32h0m8-16h0" stroke="#fff" stroke-width="23.8"/>
<path d="M903 996h0m33 0h0m-96 64h0m64 32h0m52 30h0m176 0h0m-595 97h0m38 0h0m64 0h0m-154 32h0m27 16h0m-121 47h0" class="r"/>
<path d="M587 1060h0m98 0h0m-94 32h0m-61 32h0m27 0h0m-4 31h0m-48 32h0m-14 32h0m-70 48h0m2 0h0m32-16h0m-56 47h0" class="k"/>
<path d="M394 1282h0" class="b"/>
<path d="M929 963h0m85 33h0m-405 80h0m25-16h0m32 32h0m-10 32h0m23 0h0m23 31h0m-238 32h0m1 0h0m83 0h0m14 0h0m18 0h0m36 0h0m-150 16h0m10 0h0m50 16h0m56 0h0m35 0h0m5 0h0m-202 48h0m9 0h0m146-16h0m-192 47h0m36 0h0" stroke="#fff" stroke-width="23.8"/>
<path d="M929 963h0m85 33h0m-348 96h0m-10 32h0m23 0h0m23 31h0m-154 32h0m14 0h0m18 0h0m36 0h0m-90 32h0m56 0h0m35 0h0m5 0h0m-47 32h0m-156 47h0" class="r"/>
<path d="M609 1076h0m25-16h0m-168 143h0m10 0h0m-56 64h0m9 0h0" class="k"/>
<path d="M464 1187h0m1 0h0m-82 111h0" class="b"/>
<path d="M677 1044h0m-78 16h0m190 0h0m-18 32h0m-244 32h0m-8 31h0m0 16h0m78-16h0m30 0h0m19 16h0m-169 16h0m6 0h0m26 0h0m19 0h0m18 0h0m73 0h0m40 0h0m-190 32h0m5 0h0m20 0h0m131 16h0m-141 32h0m-32 15h0m-76 32h0m8-16h0" stroke="#fff" stroke-width="23.8"/>
<path d="M789 1060h0m-18 32h0m-174 63h0m30 0h0m19 16h0m-100 16h0m73 0h0m40 0h0m-34 48h0m-141 32h0m-32 15h0" class="r"/>
<path d="M677 1044h0m-78 16h0m-80 95h0m0 16h0m-36 16h0m26 0h0m19 0h0m-59 32h0m5 0h0m20 0h0m-118 95h0" class="k"/>
<path d="M527 1124h0m-50 63h0m-93 111h0" class="b"/>
<path d="M1139 820h0m-492 176h0m313 0h0m-177 16h0m-67 48h0m-120 32h0m-30 32h0m150 0h0m-142 15h0m-65 16h0m66 0h0m219 0h0m-277 32h0m47 0h0m17 0h0m34 0h0m101 0h0m-281 32h0m163-16h0m-151 64h0m9 0h0m10-16h0m37 0h0m9 16h0m-126 31h0" stroke="#fff" stroke-width="23.8"/>
<path d="M1139 820h0m-179 176h0m-177 16h0m-67 48h0m0 64h0m78 31h0m-230 32h0m17 0h0m34 0h0m101 0h0m-118 16h0m-151 64h0m9 0h0m10-16h0m37 0h0m9 16h0" class="r"/>
<path d="M647 996h0m-51 96h0m-30 32h0m8 15h0m-65 16h0m66 0h0m-58 32h0" class="k"/>
<path d="M435 1219h0m-49 79h0" class="b"/>
<path d="M770 886h0m142 28h0m-181 82h0m-25 48h0m43 32h0m-180 16h0m-44 32h0m296 0h0m-102 15h0m-208 16h0m59 0h0m2 16h0m11-16h0m8 0h0m-4 32h0m-35 32h0m15 16h0m-135 16h0m41 0h0m3 0h0m2 0h0m6 0h0m-54 31h0m5 0h0m-20 16h0" stroke="#fff" stroke-width="23.8"/>
<path d="M912 914h0m-163 162h0m72 48h0m-102 15h0m-147 32h0m11-16h0m8 0h0m-4 32h0m-35 32h0m15 16h0m-94 16h0m3 0h0m2 0h0m6 0h0m-54 31h0m5 0h0m-20 16h0" class="r"/>
<path d="M770 886h0m-39 110h0m-25 48h0m-137 48h0m-58 63h0m59 0h0m-138 96h0" class="k"/>
<path d="M525 1124h0" class="b"/>
<path d="M854 996h0m103 0h0m-182 64h0m-211 32h0m184 0h0m-178 47h0m51 0h0m-104 16h0m71 0h0m62 0h0m-157 32h0m108 0h0m-166 32h0m46 0h0m12 16h0m84 0h0m-227 30h0m96 2h0m1 0h0m0 0h0m4-16h0m28 16h0m5-16h0m0 16h0m-60 15h0" stroke="#fff" stroke-width="23.8"/>
<path d="M854 996h0m103 0h0m-182 64h0m-27 32h0m-127 47h0m-33 16h0m62 0h0m-49 32h0m-108 48h0m84 0h0m-131 32h0m1 0h0m0 0h0m32 0h0m5-16h0m0 16h0" class="r"/>
<path d="M564 1092h0m6 47h0m-53 16h0m-24 32h0m-12 32h0m-30 32h0m-27 31h0" class="k"/>
<path d="M435 1219h0m-85 46h0" class="b"/>
<path d="M834 996h0m75 0h0m-314 48h0m14 16h0m39 0h0m-88 32h0m17 16h0m-51 47h0m40 0h0m6 16h0m214-16h0m-303 32h0m258 0h0m-291 32h0m20 0h0m5 0h0m26 0h0m11 0h0m14 0h0m33 0h0m-7 16h0m-112 32h0m46-16h0m15 0h0m-112 47h0" stroke="#fff" stroke-width="23.8"/>
<path d="M834 996h0m75 0h0m-337 175h0m214-16h0m-45 32h0m-229 32h0m14 0h0m33 0h0m-7 16h0m-66 16h0m15 0h0" class="r"/>
<path d="M609 1060h0m39 0h0m-88 32h0m17 16h0m-51 47h0m40 0h0m-83 32h0m-13 32h0m5 0h0m26 0h0m-61 48h0m-51 31h0" class="k"/>
<path d="M595 1044h0m-145 175h0" class="b"/>
<path d="M817 1028h0m-145 32h0m-102 32h0m234 32h0m-244 31h0m41 0h0m64 16h0m36 0h0m-212 16h0m53 0h0m40 0h0m28 0h0m32 0h0m-186 32h0m31 0h0m10-16h0m127 32h0m-222 32h0m30 0h0m51-16h0m1 16h0m13 0h0m15-16h0m22 0h0m-109 31h0" stroke="#fff" stroke-width="23.8"/>
<path d="M817 1028h0m-13 96h0m-203 31h0m64 16h0m36 0h0m-119 16h0m28 0h0m32 0h0m-18 48h0m-141 16h0m1 16h0m13 0h0m15-16h0m22 0h0" class="r"/>
<path d="M672 1060h0m-102 32h0m-10 63h0m-71 32h0m53 0h0m-86 32h0m31 0h0m10-16h0m-65 64h0m-7 15h0" class="k"/>
<path d="M402 1267h0" class="b"/>
<path d="M857 790h0m-134 206h0m185 0h0m-181 64h0m178 0h0m-213 32h0m-129 32h0m113 0h0m14 0h0m-165 31h0m9 0h0m78 0h0m78 0h0m-175 32h0m157 0h0m1 0h0m-125 16h0m-118 32h0m29 0h0m-62 32h0m66 0h0m35-16h0m46 0h0m-146 31h0m-3 32h0" stroke="#fff" stroke-width="23.8"/>
<path d="M908 996h0m-181 64h0m178 0h0m-213 32h0m-16 32h0m14 0h0m-78 31h0m78 0h0m-18 32h0m1 0h0m-125 16h0m-85 64h0m35-16h0m46 0h0m-149 63h0" class="r"/>
<path d="M857 790h0m-134 206h0m-160 128h0m-38 31h0m9 0h0m-19 32h0m-56 48h0" class="k"/>
<path d="M430 1235h0m-33 32h0m1 15h0" class="b"/>
<path d="M789 865h0m177 1h0m248 17h0m-239 16h0m-205 18h0m-127 79h0m-16 16h0m267 48h0m-326 64h0m46 0h0m123 0h0m-200 31h0m46 0h0m115 16h0m-220 16h0m38 0h0m62 0h0m43 16h0m-166 32h0m61 0h0m77 0h0m44 0h0m-195 32h0m3-16h0m-41 31h0" stroke="#fff" stroke-width="23.8"/>
<path d="M966 866h0m248 17h0m-239 16h0m-81 161h0m-157 64h0m-154 31h0m115 16h0m-120 16h0m43 16h0m-105 32h0m77 0h0m44 0h0" class="r"/>
<path d="M789 865h0m-19 52h0m-127 79h0m-16 16h0m-59 112h0m46 0h0m-77 31h0m-59 32h0m38 0h0m-61 48h0m-13 32h0m3-16h0m-41 31h0" class="k"/>
<path d="M1171 678h0m-280 187h0m148 68h0m-305 63h0m-137 96h0m63 0h0m26 0h0m42 16h0m-221 47h0m76 0h0m56 16h0m82 0h0m-221 16h0m64 0h0m41 0h0m-153 32h0m56 0h0m13 0h0m-88 48h0m97 0h0m59-16h0m-174 31h0m34 0h0m-54 32h0m13-16h0" stroke="#fff" stroke-width="23.8"/>
<path d="M1171 678h0m-132 255h0m-379 159h0m26 0h0m42 16h0m-145 47h0m56 16h0m82 0h0m-157 16h0m41 0h0m-97 32h0m13 0h0m9 48h0m59-16h0m-140 31h0m-54 32h0m13-16h0" class="r"/>
<path d="M891 865h0m-157 131h0m-137 96h0m-90 63h0m-7 32h0m-48 32h0m-19 48h0m-18 15h0" class="k"/>
<path d="M707 996h0m197 0h0m-191 96h0m21 0h0m105 0h0m-289 32h0m5 47h0m2-16h0m8 0h0m29 0h0m-93 32h0m36 0h0m39 0h0m2 0h0m24 0h0m20 0h0m8 0h0m54 0h0m-184 32h0m13 0h0m10 0h0m7 0h0m-80 48h0m8-16h0m35 0h0" stroke="#fff" stroke-width="23.8"/>
<path d="M904 996h0m-191 96h0m21 0h0m105 0h0m-245 63h0m-18 32h0m2 0h0m24 0h0m20 0h0m8 0h0m54 0h0m-171 32h0m10 0h0m7 0h0m-80 48h0m43-16h0" class="r"/>
<path d="M707 996h0m-157 128h0m5 47h0m2-16h0m8 0h0m-64 32h0m36 0h0m-37 32h0m-42 32h0" class="k"/>
<path d="M840 963h0m-272 129h0m49 0h0m9 0h0m-75 32h0m93 0h0m-159 31h0m18 16h0m14 0h0m163-16h0m95 0h0m-252 32h0m34 0h0m-28 32h0m54 0h0m25 0h0m-170 16h0m8 0h0m102 0h0m30 0h0m-133 16h0m39 16h0m55 0h0m10-16h0m-137 47h0" stroke="#fff" stroke-width="23.8"/>
<path d="M840 963h0m-196 161h0m36 31h0m95 0h0m-218 32h0m-28 32h0m54 0h0m25 0h0m-60 16h0m30 0h0m-94 32h0m55 0h0m10-16h0m-137 47h0" class="r"/>
<path d="M568 1092h0m49 0h0m9 0h0m-75 32h0m-48 47h0m14 0h0m6 16h0m-77 48h0m-1 16h0" class="k"/>
<path d="M485 1155h0m-47 80h0" class="b"/>
<path d="M870 931h0m-105 65h0m33 0h0m-199 32h0m19 48h0m117 0h0m-109 16h0m-75 32h0m67 0h0m-86 15h0m125 16h0m39 16h0m-237 16h0m84 0h0m130 0h0m-159 32h0m112 16h0m-203 32h0m21-16h0m34 16h0m76 0h0m-149 15h0m45 0h0m-59 16h0m17 0h0" stroke="#fff" stroke-width="23.8"/>
<path d="M870 931h0m-72 65h0m-63 80h0m-78 79h0m39 16h0m-23 16h0m-159 32h0m112 16h0m-148 32h0m76 0h0m-104 15h0m-42 16h0" class="r"/>
<path d="M765 996h0m-147 80h0m8 16h0m-75 32h0m67 0h0m-86 15h0m11 48h0m-120 80h0m21-16h0m-39 31h0m-14 16h0" class="k"/>
<path d="M599 1028h0m-140 159h0" class="b"/>
<path d="M738 996h0m-132 32h0m185 0h0m-6 32h0m-217 32h0m226 32h0m-284 31h0m3 0h0m112 0h0m78 0h0m-212 32h0m49 0h0m39 0h0m-122 32h0m18 0h0m30 0h0m32 0h0m42 0h0m-44 16h0m22 0h0m-146 32h0m36 0h0m3 0h0m7-16h0m31 0h0" stroke="#fff" stroke-width="23.8"/>
<path d="M791 1028h0m-6 32h0m9 64h0m-169 31h0m78 0h0m-124 32h0m-74 32h0m32 0h0m42 0h0m-44 16h0m22 0h0m-110 32h0m3 0h0m38-16h0" class="r"/>
<path d="M738 996h0m-170 96h0m-58 63h0m3 0h0m-22 32h0m49 0h0m-83 32h0m18 0h0m-18 32h0" class="k"/>
<path d="M606 1028h0m-195 239h0" class="b"/>
<path d="M905 865h0m-238 227h0m32 0h0m-166 32h0m92 0h0m22 0h0m-141 47h0m105-16h0m16 32h0m89 0h0m-261 32h0m4 0h0m45 0h0m42 0h0m30 0h0m10 0h0m-97 16h0m50 0h0m47 0h0m-81 16h0m54 0h0m-151 31h0m2 0h0m-25 32h0m5-16h0" stroke="#fff" stroke-width="23.8"/>
<path d="M667 1092h0m32 0h0m-74 32h0m22 0h0m-36 31h0m16 32h0m89 0h0m-212 32h0m42 0h0m30 0h0m10 0h0m-97 16h0m50 0h0m47 0h0m-81 16h0m54 0h0" class="r"/>
<path d="M905 865h0m-372 259h0m-27 47h0m-51 48h0m4 0h0m-51 63h0m2 0h0m-25 32h0m5-16h0" class="k"/>
<path d="M772 889h0m-78 107h0m-41 32h0m-62 111h0m182 0h0m-230 16h0m12 0h0m153 16h0m-142 16h0m20 0h0m-102 16h0m9 16h0m2 0h0m55 0h0m19 0h0m54 0h0m-177 16h0m134 0h0m-172 32h0m4 0h0m15-16h0m7 0h0m35 0h0m2 0h0m-52 31h0" stroke="#fff" stroke-width="23.8"/>
<path d="M773 1139h0m-65 32h0m-142 16h0m20 0h0m-36 32h0m19 0h0m54 0h0m-43 16h0m-111 16h0m2 0h0" class="r"/>
<path d="M772 889h0m-78 107h0m-41 32h0m-62 111h0m-48 16h0m12 0h0m-71 48h0m9 16h0m2 0h0m-49 16h0m-19 16h0m7 0h0m-15 31h0" class="k"/>
<path d="M408 1267h0m4 0h0" class="b"/>
<path d="M874 822h0m-60 238h0m21 0h0m-327 95h0m13 0h0m23 0h0m-54 32h0m14 0h0m13 0h0m50 0h0m20 0h0m4 0h0m-145 32h0m99 0h0m15 0h0m17 0h0m26 0h0m-87 16h0m-73 32h0m11 0h0m12 0h0m5-16h0m1 16h0m68 15h0m-84 16h0" stroke="#fff" stroke-width="23.8"/>
<path d="M814 1060h0m21 0h0m-268 127h0m20 0h0m4 0h0m-46 32h0m15 0h0m17 0h0m26 0h0m-87 16h0m-62 32h0m12 0h0m5-16h0m1 16h0m68 15h0m-84 16h0" class="r"/>
<path d="M874 822h0m-366 333h0m13 0h0m23 0h0m-54 32h0m14 0h0m13 0h0m-74 80h0" class="k"/>
<path d="M446 1219h0" class="b"/>
<path d="M551 996h0m232 0h0m127 0h0m-326 64h0m32 0h0m80 16h0m2 0h0m-126 16h0m-52 32h0m148 15h0m4 0h0m-9 16h0m12 0h0m-175 32h0m1 0h0m9 0h0m-41 32h0m74 0h0m24 0h0m-50 16h0m-91 32h0m76 0h0m-106 15h0m7 0h0m26 32h0" stroke="#fff" stroke-width="23.8"/>
<path d="M783 996h0m127 0h0m-214 80h0m2 0h0m-30 63h0m4 0h0m-9 16h0m12 0h0m-132 64h0m24 0h0m-50 16h0m-15 32h0m-73 47h0" class="r"/>
<path d="M584 1060h0m32 0h0m-44 32h0m-72 95h0m1 0h0m9 0h0m-41 32h0m-43 48h0m-23 15h0" class="k"/>
<path d="M551 996h0m-31 128h0m-124 158h0" class="b"/>
<path d="M822 1028h0m26 0h0m-329 127h0m12 0h0m65 0h0m65 0h0m95 0h0m-232 32h0m9 0h0m12 0h0m-43 32h0m3 0h0m18 0h0m10-16h0m13 0h0m11 0h0m6 0h0m-84 32h0m17 0h0m-62 32h0m60-16h0m1 16h0m10-16h0m4 31h0m-97 32h0" stroke="#fff" stroke-width="23.8"/>
<path d="M822 1028h0m26 0h0m-252 127h0m65 0h0m95 0h0m-211 32h0m-40 32h0m18 0h0m10-16h0m13 0h0m11 0h0m6 0h0m-67 32h0m-2 16h0m1 16h0m10-16h0m4 31h0m-97 32h0" class="r"/>
<path d="M519 1155h0m12 0h0m-7 32h0m9 0h0m-31 32h0m-23 16h0m-45 32h0" class="k"/>
<path d="M743 865h0m-53 131h0m81 16h0m83 112h0m-341 31h0m3 0h0m8 0h0m4 0h0m11 0h0m12 16h0m50 0h0m-23 16h0m66 0h0m-192 32h0m13 0h0m0 0h0m67 0h0m50 0h0m-162 32h0m37 0h0m1 0h0m10 16h0m-70 15h0m6 0h0m5 0h0" stroke="#fff" stroke-width="23.8"/>
<path d="M771 1012h0m83 112h0m-253 47h0m-23 16h0m66 0h0m-112 32h0m50 0h0m-114 48h0" class="r"/>
<path d="M743 865h0m-53 131h0m-177 159h0m3 0h0m8 0h0m4 0h0m11 0h0m12 16h0m-99 48h0m13 0h0m0 0h0m-8 32h0m1 0h0m-54 31h0m5 0h0" class="k"/>
<path d="M420 1251h0m-22 31h0" class="b"/>
<path d="M876 883h0m-18 113h0m-150 64h0m-107 64h0m67 0h0m145 0h0m-236 15h0m-37 16h0m71 0h0m47 0h0m18 0h0m-160 32h0m91 0h0m-72 32h0m2 0h0m1 0h0m24 0h0m4 0h0m27 0h0m41 0h0m-118 16h0m-87 16h0m18 0h0m29 0h0m-42 47h0" stroke="#fff" stroke-width="23.8"/>
<path d="M858 996h0m-150 64h0m-40 64h0m145 0h0m-202 31h0m47 0h0m18 0h0m-69 32h0m-72 32h0m2 0h0m1 0h0m24 0h0m4 0h0m27 0h0m41 0h0m-118 16h0m-40 16h0m-42 47h0" class="r"/>
<path d="M876 883h0m-275 241h0m-24 15h0m-37 16h0m-24 32h0m-87 64h0m18 0h0" class="k"/>
<path d="M800 931h0m201 50h0m-357 127h0m-122 47h0m1 0h0m11 0h0m16 0h0m3 0h0m28 0h0m0 0h0m-64 32h0m89 0h0m-141 32h0m37-16h0m5 16h0m1 0h0m9 0h0m13 0h0m11 0h0m70 16h0m-190 32h0m5 0h0m99-16h0m38 0h0m-164 63h0" stroke="#fff" stroke-width="23.8"/>
<path d="M1001 981h0m-357 127h0m-38 79h0m-99 32h0m1 0h0m9 0h0m13 0h0m11 0h0m70 16h0m-86 16h0m38 0h0m-164 63h0" class="r"/>
<path d="M800 931h0m-278 224h0m1 0h0m11 0h0m16 0h0m3 0h0m28 0h0m0 0h0m-64 32h0m-52 32h0m37-16h0m-81 64h0m5 0h0" class="k"/>
<path d="M763 996h0m2 16h0m-70 32h0m-112 32h0m173-16h0m62 0h0m-272 32h0m97 32h0m10 0h0m-161 63h0m78 0h0m-63 32h0m23-16h0m19 16h0m118-16h0m-268 64h0m23 0h0m1-16h0m8 0h0m12 16h0m59-16h0m54 0h0m-97 31h0m31 0h0m-42 16h0" stroke="#fff" stroke-width="23.8"/>
<path d="M765 1012h0m-9 48h0m62 0h0m-175 64h0m10 0h0m-83 63h0m-63 32h0m23-16h0m19 16h0m118-16h0m-165 48h0m54 0h0m-97 31h0m31 0h0m-42 16h0" class="r"/>
<path d="M763 996h0m-68 48h0m-112 32h0m-91 111h0m-70 80h0m9-16h0m12 16h0" class="k"/>
<path d="M546 1092h0m-147 175h0m24-16h0" class="b"/>
<path d="M991 628h0m42 287h0m-152 81h0m-192 64h0m51 32h0m50 0h0m-218 32h0m43 0h0m72 31h0m-134 32h0m7 0h0m15 0h0m-128 32h0m16 0h0m12 0h0m138 0h0m-164 16h0m-36 32h0m25 0h0m10-16h0m72 16h0m-102 15h0m44 0h0m-83 16h0m18 0h0" stroke="#fff" stroke-width="23.8"/>
<path d="M1033 915h0m-152 81h0m-141 96h0m50 0h0m-103 63h0m-134 32h0m7 0h0m15 0h0m38 32h0m-93 48h0m-58 15h0" class="r"/>
<path d="M991 628h0m-302 432h0m-117 64h0m43 0h0m-152 95h0m12 0h0m-26 16h0m-36 32h0m25 0h0m10-16h0m-30 31h0m-21 16h0" class="k"/>
<path d="M447 1219h0m-68 79h0" class="b"/>
<path d="M661 996h0m305 0h0m16 0h0m-361 32h0m224 32h0m-70 32h0m-168 47h0m-87 16h0m39 0h0m122 0h0m-204 32h0m-4 32h0m2 0h0m1 0h0m6 0h0m44 0h0m102 0h0m-209 48h0m9-16h0m1 0h0m8 0h0m51 0h0m9 0h0m13 0h0m-137 63h0" stroke="#fff" stroke-width="23.8"/>
<path d="M966 996h0m16 0h0m-137 64h0m-70 32h0m-168 47h0m74 16h0m-155 64h0m102 0h0m-140 32h0m9 0h0m13 0h0" class="r"/>
<path d="M661 996h0m-40 32h0m-101 127h0m39 0h0m-86 64h0m2 0h0m1 0h0m6 0h0m-63 48h0m9-16h0m1 0h0m8 0h0" class="k"/>
<path d="M477 1187h0m-104 127h0" class="b"/>
<path d="M1027 804h0m-48 224h0m-364 32h0m77 32h0m-4 32h0m4 0h0m13 0h0m-126 47h0m147-16h0m-217 32h0m126 0h0m-167 32h0m4 0h0m0 0h0m14 0h0m9 0h0m66 0h0m-45 16h0m-91 32h0m3-16h0m64 0h0m-53 31h0m-52 32h0m7-16h0m15 0h0" stroke="#fff" stroke-width="23.8"/>
<path d="M1027 804h0m-48 224h0m-287 64h0m-4 32h0m4 0h0m13 0h0m-126 47h0m147-16h0m-91 32h0m-74 32h0m-45 16h0m-24 16h0m-53 31h0m-52 32h0m22-16h0" class="r"/>
<path d="M615 1060h0m-106 127h0m-41 32h0m4 0h0m0 0h0m14 0h0m9 0h0m-70 48h0m3-16h0m-34 47h0" class="k"/>
<path d="M700 965h0m-141 111h0m37-16h0m211 0h0m-239 32h0m-6 32h0m58-16h0m64 16h0m-137 47h0m40-16h0m48 0h0m-85 32h0m67 0h0m8 0h0m18 0h0m17 0h0m9 0h0m-118 32h0m97 0h0m-199 16h0m66 0h0m-82 16h0m20 0h0m6 0h0m-57 31h0" stroke="#fff" stroke-width="23.8"/>
<path d="M807 1060h0m-123 64h0m-97 31h0m48 0h0m-85 32h0m67 0h0m8 0h0m18 0h0m17 0h0m9 0h0m-118 32h0m97 0h0m-133 16h0" class="r"/>
<path d="M700 965h0m-104 95h0m-28 32h0m-6 32h0m58-16h0m-73 63h0m-98 64h0m-16 16h0m20 0h0m6 0h0m-57 31h0" class="k"/>
<path d="M559 1076h0" class="b"/>
<path d="M558 931h0m147 65h0m-18 48h0m187 16h0m-311 79h0m29 0h0m-96 16h0m20 16h0m40 0h0m39-16h0m-116 32h0m15 0h0m33 0h0m30 0h0m75 0h0m-141 32h0m38 0h0m-35 16h0m-107 47h0m8 0h0m29 0h0m41 0h0m36 0h0m-96 32h0m0-16h0" stroke="#fff" stroke-width="23.8"/>
<path d="M874 1060h0m-279 95h0m-38 32h0m75 0h0m-103 32h0m-35 16h0m-29 47h0m36 0h0m-96 32h0" class="r"/>
<path d="M705 996h0m-18 48h0m-124 95h0m29 0h0m-76 32h0m40 0h0m-77 16h0m15 0h0m33 0h0m-36 32h0m-67 63h0m-19 16h0" class="k"/>
<path d="M558 931h0m-62 224h0m-109 127h0m8 0h0" class="b"/>
<path d="M996 996h0m-218 32h0m-220 30h0m190 34h0m25 0h0m-229 32h0m63 0h0m41 0h0m54 0h0m-218 63h0m6 0h0m15 0h0m-52 32h0m10 0h0m7 0h0m65 0h0m-41 16h0m-68 16h0m25 0h0m6 16h0m31-16h0m5 0h0m73 0h0m-164 47h0m2 0h0" stroke="#fff" stroke-width="23.8"/>
<path d="M996 996h0m-218 32h0m-30 64h0m25 0h0m-125 32h0m54 0h0m-167 95h0m-41 16h0m-37 32h0m31-16h0m5 0h0m73 0h0" class="r"/>
<path d="M544 1124h0m63 0h0m-123 63h0m6 0h0m15 0h0m-52 32h0m10 0h0m7 0h0m-44 32h0m25 0h0m-49 47h0m2 0h0" class="k"/>
<path d="M558 1058h0" class="b"/>
<path d="M797 996h0m64 32h0m-266 64h0m228 0h0m46 0h0m-262 16h0m37 16h0m124 0h0m-220 31h0m20 16h0m27-16h0m-79 32h0m22 0h0m203 0h0m-271 32h0m5 0h0m7-16h0m18 16h0m6 0h0m19 0h0m79 0h0m-161 48h0m91 0h0m-93 15h0m-45 32h0" stroke="#fff" stroke-width="23.8"/>
<path d="M797 996h0m64 32h0m-38 64h0m46 0h0m-225 32h0m124 0h0m-200 47h0m27-16h0m146 32h0m-235 32h0m19 0h0m79 0h0m-70 48h0m-93 15h0m-45 32h0" class="r"/>
<path d="M595 1092h0m12 16h0m-59 47h0m-32 32h0m22 0h0m-68 32h0m5 0h0m7-16h0m18 16h0m-57 48h0" class="k"/>
<path d="M860 890h0m-39 106h0m-214 64h0m117 0h0m-139 32h0m-46 32h0m120-16h0m33 16h0m6 15h0m-172 32h0m77 0h0m84 0h0m-212 48h0m35 0h0m54 0h0m-135 48h0m2-16h0m15 0h0m27 0h0m1 0h0m39 16h0m24-16h0m-155 63h0m1-16h0m30 0h0" stroke="#fff" stroke-width="23.8"/>
<path d="M821 996h0m-97 64h0m-65 48h0m33 16h0m6 15h0m-95 32h0m84 0h0m-177 48h0m54 0h0m-91 32h0m1 0h0m39 16h0m24-16h0m-124 47h0" class="r"/>
<path d="M860 890h0m-253 170h0m-22 32h0m-46 32h0m-13 47h0m-51 48h0m-46 48h0m2-16h0m15 0h0m-64 63h0" class="k"/>
<path d="M383 1298h0" class="b"/>
<path d="M799 933h0m-202 63h0m186 0h0m-8 64h0m-237 64h0m69 0h0m13 0h0m-52 15h0m-51 16h0m16 0h0m6 0h0m34 0h0m-60 32h0m25 0h0m13 0h0m62 0h0m-64 32h0m3 0h0m22 0h0m-149 32h0m2 0h0m52 0h0m59 0h0m-98 31h0m54 16h0" stroke="#fff" stroke-width="23.8"/>
<path d="M783 996h0m-8 64h0m-224 127h0m62 0h0m-64 32h0m3 0h0m22 0h0m-95 32h0m59 0h0m-98 31h0m54 16h0" class="r"/>
<path d="M799 933h0m-261 191h0m69 0h0m13 0h0m-52 15h0m-51 16h0m16 0h0m6 0h0m34 0h0m-60 32h0m25 0h0m-111 64h0" class="k"/>
<path d="M597 996h0m-172 255h0" class="b"/>
<path d="M738 896h0m265 100h0m-295 96h0m-172 32h0m104-16h0m-65 31h0m2 0h0m-60 16h0m179 0h0m-127 32h0m52 0h0m62 0h0m-245 32h0m56-16h0m42 16h0m67 0h0m-114 16h0m-51 16h0m12 0h0m1 16h0m5-16h0m-24 31h0m6 0h0m-26 16h0m17 0h0" stroke="#fff" stroke-width="23.8"/>
<path d="M1003 996h0m-295 96h0m-12 63h0m-127 32h0m52 0h0m62 0h0m-147 32h0m67 0h0m-114 16h0m-38 32h0m-19 15h0m6 0h0m-26 16h0m17 0h0" class="r"/>
<path d="M738 896h0m-202 228h0m104-16h0m-65 31h0m2 0h0m-60 16h0m-23 48h0m-56 48h0m12 0h0m6 0h0" class="k"/>
<path d="M438 1219h0" class="b"/>
<path d="M665 996h0m0 96h0m-96 47h0m-65 16h0m25 0h0m49 0h0m58 16h0m4-16h0m-157 32h0m79 0h0m71 0h0m61 0h0m-237 32h0m14 0h0m-22 16h0m127 0h0m57 0h0m9 0h0m-219 32h0m6 0h0m40-16h0m43 0h0m9 0h0m33 0h0m-174 63h0" stroke="#fff" stroke-width="23.8"/>
<path d="M665 1092h0m-29 79h0m4-16h0m-78 32h0m71 0h0m61 0h0m-118 48h0m57 0h0m9 0h0m-173 16h0m43 0h0m9 0h0m33 0h0" class="r"/>
<path d="M665 996h0m-96 143h0m-40 16h0m49 0h0m-95 32h0m-26 32h0m14 0h0m-22 16h0m-26 32h0m6 0h0m-49 47h0" class="k"/>
<path d="M504 1155h0" class="b"/>
<path d="M626 947h0m-6 49h0m58 0h0m33 0h0m0 0h0m88 0h0m7 64h0m-241 64h0m156 0h0m-199 47h0m68-16h0m-34 32h0m98 0h0m-183 32h0m8 0h0m19 0h0m195 0h0m-239 16h0m86 0h0m-58 16h0m37 16h0m51-16h0m-201 63h0m10 0h0m63 0h0" stroke="#fff" stroke-width="23.8"/>
<path d="M799 996h0m7 64h0m-85 64h0m-131 31h0m-34 32h0m98 0h0m39 32h0m-153 16h0m-58 16h0m37 16h0m51-16h0m-128 63h0" class="r"/>
<path d="M678 996h0m33 0h0m0 0h0m-146 128h0m-43 47h0m-51 48h0m8 0h0m19 0h0m-44 16h0m-75 79h0" class="k"/>
<path d="M626 947h0m-6 49h0m-251 318h0" class="b"/>
<path d="M654 1060h0m-128 64h0m55 0h0m300 0h0m-367 31h0m64 0h0m23 0h0m5 16h0m-116 16h0m6 0h0m82 0h0m25 0h0m47 0h0m-190 32h0m47 0h0m3 0h0m12-16h0m29 16h0m70-16h0m-173 32h0m19 32h0m28-16h0m92 0h0m-187 47h0m5 0h0" stroke="#fff" stroke-width="23.8"/>
<path d="M881 1124h0m-280 31h0m5 16h0m-28 16h0m25 0h0m47 0h0m-143 32h0m3 0h0m41 0h0m70-16h0m-154 64h0m28-16h0m92 0h0" class="r"/>
<path d="M654 1060h0m-73 64h0m-67 31h0m64 0h0m-88 32h0m6 0h0m-36 32h0m62-16h0m-74 32h0m-48 63h0m5 0h0" class="k"/>
<path d="M526 1124h0" class="b"/>
<path d="M632 870h0m484-1h0m-327 30h0m-67 129h0m-122 32h0m144 16h0m1-16h0m-139 32h0m256 0h0m-353 32h0m377-16h0m-345 47h0m21 16h0m7-16h0m20 0h0m-73 32h0m129 0h0m21 0h0m-128 32h0m38 0h0m-133 32h0m36 16h0m-56 15h0m-41 16h0m4 0h0" stroke="#fff" stroke-width="23.8"/>
<path d="M1116 869h0m-372 207h0m1-16h0m117 32h0m24 16h0m-297 47h0m56 32h0m21 0h0m-128 32h0m38 0h0m-97 48h0" class="r"/>
<path d="M789 899h0m-67 129h0m-122 32h0m6 32h0m-65 63h0m21 16h0m7-16h0m-53 32h0m-73 64h0m-20 31h0" class="k"/>
<path d="M632 870h0m-123 254h0m-127 174h0m4 0h0" class="b"/>
<path d="M999 772h0m-254 272h0m-192 48h0m204 32h0m-246 31h0m7 0h0m30 16h0m71-16h0m50 0h0m-122 32h0m10 0h0m32 0h0m19 0h0m-151 16h0m72 16h0m29 0h0m38 0h0m-92 16h0m33 0h0m-119 32h0m7 0h0m98-16h0m-108 31h0m-42 32h0m73-16h0" stroke="#fff" stroke-width="23.8"/>
<path d="M745 1044h0m12 80h0m-138 31h0m50 0h0m-122 32h0m10 0h0m32 0h0m19 0h0m-79 32h0m29 0h0m38 0h0m-92 16h0m33 0h0m-14 16h0m-77 47h0" class="r"/>
<path d="M999 772h0m-488 383h0m7 0h0m30 16h0m-130 96h0m7 0h0m-10 15h0" class="k"/>
<path d="M553 1092h0m-96 111h0m-84 111h0" class="b"/>
<path d="M654 981h0m263 15h0m-187 32h0m-155 32h0m-3 32h0m66 0h0m-106 32h0m188 15h0m-172 16h0m-67 32h0m40 0h0m10 0h0m4 0h0m129 0h0m-132 32h0m8 0h0m40 0h0m-120 16h0m-40 16h0m0 16h0m6-16h0m18 0h0m92 0h0m-130 31h0m9 16h0" stroke="#fff" stroke-width="23.8"/>
<path d="M917 996h0m-197 143h0m-56 48h0m-132 32h0m8 0h0m40 0h0m-44 32h0m-121 47h0" class="r"/>
<path d="M654 981h0m76 47h0m-158 64h0m66 0h0m-106 32h0m16 31h0m-67 32h0m40 0h0m10 0h0m4 0h0m-75 48h0m-40 32h0m6-16h0m18 0h0m-38 31h0" class="k"/>
<path d="M575 1060h0m-155 191h0" class="b"/>
<path d="M606 1028h0m133 32h0m54 0h0m-244 32h0m102 0h0m120 0h0m-231 32h0m106 0h0m-69 31h0m64 16h0m-107 16h0m57 0h0m11 0h0m-157 32h0m119 0h0m-119 32h0m3 16h0m23 0h0m34 0h0m6 0h0m-114 15h0m9 0h0m57 0h0m-82 32h0m44 0h0" stroke="#fff" stroke-width="23.8"/>
<path d="M739 1060h0m54 0h0m-22 32h0m-125 32h0m-5 47h0m-50 16h0m11 0h0m-38 32h0m-116 48h0m23 0h0m34 0h0m6 0h0m-48 15h0m-38 32h0" class="r"/>
<path d="M651 1092h0m-111 32h0m37 31h0m-43 32h0m-89 64h0m-39 31h0m-25 32h0" class="k"/>
<path d="M606 1028h0m-57 64h0m-104 127h0m-48 63h0" class="b"/>
<path d="M628 996h0m286 0h0m-229 32h0m52 0h0m73 32h0m-228 32h0m44 0h0m57 0h0m-160 47h0m-10 16h0m70 0h0m48 0h0m30 32h0m-197 16h0m8 16h0m28 0h0m109 0h0m1 0h0m58 0h0m-102 16h0m-121 16h0m14 0h0m22 0h0m74 16h0m-100 31h0" stroke="#fff" stroke-width="23.8"/>
<path d="M914 996h0m-104 64h0m-127 32h0m-100 63h0m48 0h0m30 32h0m-52 32h0m1 0h0m58 0h0m-102 16h0m-85 16h0m74 16h0m-100 31h0" class="r"/>
<path d="M685 1028h0m52 0h0m-155 64h0m44 0h0m-103 47h0m-10 16h0m-41 64h0m28 0h0m-55 32h0m14 0h0" class="k"/>
<path d="M628 996h0m-164 207h0" class="b"/>
<path d="M669 691h0m47 305h0m220 0h0m-268 32h0m133 0h0m23 0h0m-162 64h0m160 32h0m-259 31h0m1 0h0m-69 32h0m105 0h0m-154 32h0m6-16h0m21 16h0m52 0h0m75-16h0m52 16h0m-194 16h0m-35 32h0m4 0h0m23-16h0m-44 31h0m34 0h0m56 0h0" stroke="#fff" stroke-width="23.8"/>
<path d="M936 996h0m-135 32h0m23 0h0m-162 64h0m160 32h0m-222 63h0m-75 32h0m75-16h0m52 16h0m-212 63h0m56 0h0" class="r"/>
<path d="M716 996h0m-48 32h0m-105 127h0m1 0h0m-69 32h0m-22 32h0m-15 16h0m-35 32h0m4 0h0m23-16h0m-44 31h0" class="k"/>
<path d="M669 691h0m-223 528h0m6-16h0" class="b"/>
<path d="M954 981h0m-252 47h0m166 0h0m-285 32h0m238 0h0m79 0h0m6 0h0m-290 32h0m-53 32h0m18 31h0m57 0h0m29 0h0m91 0h0m-214 32h0m64 0h0m4 0h0m-97 16h0m38 16h0m-91 16h0m37 0h0m102 0h0m-183 32h0m37-16h0m104 16h0m-183 47h0" stroke="#fff" stroke-width="23.8"/>
<path d="M954 981h0m-86 47h0m-47 32h0m79 0h0m6 0h0m-268 95h0m29 0h0m91 0h0m-214 32h0m64 0h0m4 0h0m-59 32h0m-54 16h0m102 0h0m-42 32h0" class="r"/>
<path d="M702 1028h0m-119 32h0m33 32h0m-53 32h0m18 31h0m-66 48h0m-53 32h0m-44 32h0m37-16h0m-79 63h0" class="k"/>
<path d="M1181 866h0m-347 33h0m-9 97h0m-45 32h0m-136 32h0m-19 32h0m109 0h0m-158 32h0m129 0h0m-182 31h0m140 16h0m7-16h0m113 0h0m-183 32h0m-143 32h0m8 0h0m72 0h0m9 0h0m-101 16h0m-24 32h0m34-16h0m23 0h0m16 0h0m10 0h0m-111 47h0" stroke="#fff" stroke-width="23.8"/>
<path d="M1181 866h0m-356 130h0m-45 32h0m-46 64h0m-29 32h0m-42 47h0m7-16h0m113 0h0m-183 32h0m-63 32h0m9 0h0m-68 32h0m16 0h0m10 0h0" class="r"/>
<path d="M834 899h0m-190 161h0m-19 32h0m-49 32h0m-53 31h0m-66 64h0m8 0h0m-20 16h0m-24 32h0m34-16h0m-62 47h0" class="k"/>
<path d="M586 1060h0m42 0h0m111 0h0m-94 64h0m47 0h0m-191 31h0m133 0h0m-141 32h0m5 0h0m43 0h0m72 0h0m5 0h0m65 0h0m-118 32h0m11 0h0m46 16h0m-200 32h0m15-16h0m26 16h0m29-16h0m-85 31h0m50 0h0m-79 32h0m10-16h0m27 0h0" stroke="#fff" stroke-width="23.8"/>
<path d="M739 1060h0m-94 64h0m47 0h0m-58 31h0m-21 32h0m5 0h0m65 0h0m-118 32h0m11 0h0m46 16h0m-159 32h0m29-16h0m-35 31h0m-42 16h0" class="r"/>
<path d="M586 1060h0m42 0h0m-135 127h0m5 0h0m43 0h0m-119 80h0m15-16h0m-30 31h0m-29 32h0m10-16h0" class="k"/>
<path d="M501 1155h0" class="b"/>
<path d="M644 1028h0m-41 32h0m-40 32h0m20 0h0m16 32h0m214 0h0m-298 31h0m7 16h0m144 0h0m-169 16h0m-47 32h0m1 0h0m15 0h0m42 0h0m69 0h0m101 0h0m-243 16h0m28 0h0m4 0h0m-53 32h0m13-16h0m11 16h0m35 0h0m6-16h0m-79 31h0" stroke="#fff" stroke-width="23.8"/>
<path d="M813 1124h0m-147 47h0m-158 48h0m69 0h0m101 0h0m-205 48h0m6-16h0" class="r"/>
<path d="M644 1028h0m-41 32h0m-40 32h0m20 0h0m16 32h0m-84 31h0m7 16h0m-25 16h0m-31 32h0m-3 16h0m4 0h0m-53 32h0m13-16h0m11 16h0m-38 15h0" class="k"/>
<path d="M450 1219h0m1 0h0m-16 16h0" class="b"/>
<path d="M605 1028h0m9 16h0m-70 80h0m95-16h0m79 16h0m40 31h0m-267 32h0m31 0h0m54 0h0m1 0h0m41 0h0m21 0h0m-168 32h0m92 0h0m15 0h0m6 0h0m29 0h0m-132 16h0m15 0h0m7 0h0m13 16h0m-109 31h0m17 0h0m16 0h0m-56 32h0" stroke="#fff" stroke-width="23.8"/>
<path d="M718 1124h0m40 31h0m-182 32h0m1 0h0m41 0h0m21 0h0m-76 32h0m15 0h0m6 0h0m29 0h0m-117 16h0m7 0h0m13 16h0m-76 31h0" class="r"/>
<path d="M614 1044h0m-70 80h0m95-16h0m-148 79h0m31 0h0m-51 32h0m10 16h0m-74 47h0m17 0h0m-40 32h0" class="k"/>
<path d="M605 1028h0" class="b"/>
<path d="M872 996h0m-153 32h0m31-16h0m59 32h0m-43 32h0m-203 16h0m0 32h0m184 0h0m-250 47h0m105-16h0m-135 32h0m-17 32h0m10 0h0m2 0h0m135 0h0m-146 16h0m-30 16h0m6 0h0m29 16h0m32-16h0m13 16h0m-42 15h0m-59 16h0m30 0h0m18 0h0" stroke="#fff" stroke-width="23.8"/>
<path d="M872 996h0m-63 48h0m-43 32h0m-19 48h0m-145 31h0m-5 64h0m-141 48h0m32-16h0m13 16h0m-42 15h0m-29 16h0m18 0h0" class="r"/>
<path d="M719 1028h0m31-16h0m-187 80h0m0 32h0m-66 47h0m-37 48h0m2 0h0m-11 16h0m-24 16h0m-27 47h0" class="k"/>
<path d="M467 1187h0m-17 32h0m-29 32h0" class="b"/>
<path d="M594 1028h0m-65 96h0m27 31h0m54 0h0m51 0h0m29 0h0m-164 32h0m103 0h0m24 0h0m76 0h0m-287 16h0m17 16h0m30 0h0m17 0h0m63-16h0m11 16h0m32 0h0m-125 16h0m-70 32h0m11 0h0m8 0h0m9 15h0m-50 32h0m3-16h0m71 0h0" stroke="#fff" stroke-width="23.8"/>
<path d="M610 1155h0m51 0h0m29 0h0m-61 32h0m24 0h0m76 0h0m-223 32h0m63-16h0m11 16h0m32 0h0m-125 16h0m-42 47h0m-50 32h0m74-16h0" class="r"/>
<path d="M556 1155h0m-30 32h0m-67 32h0m30 0h0m-72 48h0m11 0h0m8 0h0m-38 31h0" class="k"/>
<path d="M594 1028h0m-65 96h0m-87 79h0" class="b"/>
<path d="M1142 933h0m-419 63h0m117 0h0m-229 96h0m17 0h0m-36 32h0m22 0h0m189 0h0m19 15h0m-280 16h0m-87 64h0m38 0h0m13 0h0m46 0h0m19 0h0m60-16h0m15 0h0m-199 32h0m153 0h0m-184 32h0m10 0h0m22 0h0m49-16h0m-82 31h0m16 32h0" stroke="#fff" stroke-width="23.8"/>
<path d="M1142 933h0m-302 63h0m-37 128h0m19 15h0m-316 80h0m46 0h0m19 0h0m60-16h0m15 0h0m-46 32h0m-152 32h0m49-16h0m-66 63h0" class="r"/>
<path d="M723 996h0m-112 96h0m17 0h0m-36 32h0m22 0h0m-72 31h0m-87 64h0m38 0h0m-46 16h0m-31 32h0m10 0h0m-11 15h0" class="k"/>
<path d="M642 941h0m516 2h0m-384 85h0m-20 16h0m-203 32h0m167 16h0m-119 32h0m29 0h0m98 31h0m-244 32h0m29 0h0m72 0h0m-124 32h0m16 0h0m41-16h0m22 16h0m64 0h0m-75 16h0m-94 32h0m10-16h0m11 16h0m-56 15h0m5 0h0m110 0h0m-105 16h0" stroke="#fff" stroke-width="23.8"/>
<path d="M1158 943h0m-384 85h0m-20 16h0m-36 48h0m-90 32h0m98 31h0m-143 32h0m-45 32h0m64 0h0m-75 16h0m-73 32h0m59 15h0m-105 16h0" class="r"/>
<path d="M599 1124h0m-117 63h0m29 0h0m-52 32h0m16 0h0m41-16h0m-83 64h0m10-16h0m-40 31h0" class="k"/>
<path d="M642 941h0m-91 135h0m-153 206h0" class="b"/>
<path d="M717 931h0m-26 113h0m168 16h0m-169 32h0m-89 32h0m-105 47h0m7-16h0m19 0h0m16 16h0m0-16h0m-62 32h0m22 0h0m127 0h0m49 0h0m-49 32h0m-33 16h0m-181 32h0m18-16h0m14 0h0m53 16h0m33 0h0m-133 15h0m133 0h0m-138 32h0m109-16h0" stroke="#fff" stroke-width="23.8"/>
<path d="M859 1060h0m-169 32h0m-65 95h0m49 0h0m-49 32h0m-33 16h0m-96 32h0m33 0h0m0 15h0m-138 32h0m109-16h0" class="r"/>
<path d="M717 931h0m-26 113h0m-90 80h0m-105 47h0m26-16h0m16 16h0m0-16h0m-40 32h0m-69 64h0m14 0h0" class="k"/>
<path d="M503 1155h0m-27 32h0m-65 80h0m-15 15h0" class="b"/>
<path d="M824 1044h0m-151 16h0m49 16h0m69-16h0m-169 32h0m39 32h0m-161 31h0m2 0h0m12 0h0m82 0h0m101 0h0m28 0h0m-229 32h0m53 0h0m-79 32h0m41 0h0m96 0h0m-173 32h0m18 0h0m21 0h0m-61 31h0m36 0h0m11 0h0m-78 16h0m24 16h0" stroke="#fff" stroke-width="23.8"/>
<path d="M824 1044h0m-102 32h0m69-16h0m-130 64h0m-65 31h0m101 0h0m28 0h0m-176 32h0m-38 32h0m96 0h0m-134 32h0m-25 31h0m11 0h0m-54 32h0" class="r"/>
<path d="M673 1060h0m-51 32h0m-108 63h0m-18 32h0m-26 32h0m-36 32h0m18 0h0m-40 31h0" class="k"/>
<path d="M500 1155h0m2 0h0m-121 143h0" class="b"/>
<path d="M857 1028h0m-270 32h0m-81 79h0m28 0h0m-7 16h0m-53 32h0m12 0h0m13 0h0m12 0h0m-32 16h0m6 0h0m44 16h0m-22 16h0m-81 32h0m3 0h0m4-16h0m9 0h0m4 0h0m0 16h0m1-16h0m21 16h0m31-16h0m-66 31h0m10 0h0m-24 16h0" stroke="#fff" stroke-width="23.8"/>
<path d="M857 1028h0m-328 191h0m-22 16h0m-61 32h0m22 0h0m31-16h0m-66 31h0m10 0h0m-24 16h0" class="r"/>
<path d="M587 1060h0m-53 79h0m-7 16h0m-41 32h0m13 0h0m12 0h0m-32 16h0m6 0h0m-59 64h0m3 0h0m4-16h0m9 0h0m4 0h0m1 0h0" class="k"/>
<path d="M506 1139h0m-32 48h0" class="b"/>
<path d="M1020 847h0m63 36h0m-287 113h0m-123 32h0m298-16h0m-370 80h0m92 32h0m-144 15h0m-32 16h0m101 0h0m30 16h0m-187 16h0m123 0h0m-124 32h0m8 16h0m-38 32h0m3-16h0m31 0h0m65 16h0m-121 15h0m12 0h0m18 0h0m58 0h0m-115 32h0m15-16h0" stroke="#fff" stroke-width="23.8"/>
<path d="M1020 847h0m63 36h0m-287 113h0m175 16h0m-278 112h0m-75 31h0m30 16h0m-64 16h0m-55 80h0m-91 15h0m58 0h0" class="r"/>
<path d="M673 1028h0m-72 64h0m-52 47h0m-32 16h0m-57 64h0m8 16h0m-38 32h0m3-16h0m31 0h0m-56 31h0m12 0h0m-39 32h0m15-16h0" class="k"/>
<path d="M461 1187h0" class="b"/>
<path d="M1079 901h0m-374 95h0m29 0h0m23 0h0m-21 48h0m73 16h0m-267 32h0m186 0h0m-158 16h0m215 16h0m-276 31h0m217 0h0m-182 32h0m-82 32h0m51 0h0m-60 16h0m19 0h0m50 0h0m-89 32h0m19-16h0m5 16h0m99-16h0m-145 31h0m56 0h0m-85 32h0" stroke="#fff" stroke-width="23.8"/>
<path d="M1079 901h0m-343 143h0m73 16h0m-81 32h0m57 32h0m-59 31h0m-182 32h0m-31 32h0m9 16h0m-65 32h0m99-16h0m-89 31h0" class="r"/>
<path d="M705 996h0m29 0h0m23 0h0m-187 112h0m-61 47h0m-47 64h0m-9 16h0m19 0h0m-39 32h0m19-16h0m-41 31h0m-29 32h0" class="k"/>
<path d="M542 1092h0" class="b"/>
<path d="M982 820h0m-282 81h0m399-13h0m-431 140h0m1 64h0m-122 32h0m3 0h0m98-16h0m93 16h0m-221 47h0m15-16h0m78 0h0m-143 32h0m47 0h0m51 0h0m40 0h0m1 0h0m-123 32h0m29 0h0m25 0h0m111 0h0m-200 16h0m6 16h0m-19 31h0m-58 16h0" stroke="#fff" stroke-width="23.8"/>
<path d="M1099 888h0m-430 204h0m-21 16h0m93 16h0m-128 31h0m-45 32h0m40 0h0m1 0h0m-94 32h0m25 0h0m111 0h0m-213 63h0" class="r"/>
<path d="M982 820h0m-314 208h0m-121 96h0m3 0h0m-30 47h0m15-16h0m-18 32h0m-31 32h0m-35 16h0m6 16h0" class="k"/>
<path d="M700 901h0m-230 286h0m-90 111h0" class="b"/>
<path d="M840 782h0m-87 278h0m-153 32h0m113 0h0m123 0h0m-306 63h0m16 16h0m27-16h0m24 0h0m32 16h0m-132 16h0m15 0h0m202 0h0m-253 16h0m8 16h0m3-16h0m37 16h0m105 0h0m-203 48h0m29-16h0m2 0h0m16 0h0m32 0h0m3 16h0m-45 15h0" stroke="#fff" stroke-width="23.8"/>
<path d="M753 1060h0m-40 32h0m123 0h0m-239 63h0m32 16h0m85 16h0m-205 32h0m105 0h0m-124 32h0m3 16h0m-45 15h0" class="r"/>
<path d="M840 782h0m-240 310h0m-70 63h0m16 16h0m27-16h0m-76 32h0m15 0h0m-43 32h0m3-16h0m-32 48h0m2 0h0m16 0h0" class="k"/>
<path d="M461 1203h0m-50 64h0" class="b"/>
<path d="M803 996h0m148 0h0m-386 128h0m139 0h0m136 0h0m-320 47h0m1 0h0m12-16h0m67 0h0m4 16h0m47-16h0m-171 32h0m45 0h0m99 0h0m-165 32h0m59-16h0m10 16h0m54 0h0m57-16h0m35 16h0m-151 16h0m-100 32h0m46-16h0m30 16h0m17 0h0" stroke="#fff" stroke-width="23.8"/>
<path d="M803 996h0m148 0h0m-247 128h0m136 0h0m-240 31h0m4 16h0m47-16h0m-27 32h0m-96 32h0m54 0h0m57-16h0m35 16h0m-151 16h0m-54 16h0m30 16h0m17 0h0" class="r"/>
<path d="M565 1124h0m-45 47h0m1 0h0m12-16h0m-53 32h0m45 0h0m-66 32h0m59-16h0m-95 64h0" class="k"/>
<path d="M676 981h0m190 15h0m111 32h0m-149 16h0m-109 80h0m-267 18h0m99-3h0m-7 16h0m82 16h0m21-16h0m-156 32h0m5 0h0m7 0h0m30 0h0m-76 32h0m6 0h0m144 0h0m12 0h0m41-16h0m17 16h0m-234 16h0m71 0h0m-79 16h0m48 0h0m-95 47h0" stroke="#fff" stroke-width="23.8"/>
<path d="M866 996h0m111 32h0m-149 16h0m-109 80h0m-93 47h0m21-16h0m-40 64h0m12 0h0m41-16h0m17 16h0m-163 16h0m-31 16h0" class="r"/>
<path d="M676 981h0m-125 158h0m-7 16h0m-53 32h0m5 0h0m7 0h0m30 0h0m-76 32h0m6 0h0m-20 16h0m-8 16h0m-47 47h0" class="k"/>
<path d="M452 1142h0" class="b"/>
<path d="M747 1155h0m-181 32h0m144 0h0m-139 64h0" stroke="#fff" stroke-width="23.8"/>
<path d="M747 1155h0m-181 32h0m144 0h0m-139 64h0" class="r"/></g>
<line x1="173.60" y1="142.50" x2="173.60" y2="673.80" stroke="#5f5f5f" stroke-width="1.6"/>
<line x1="172.80" y1="673.00" x2="696.10" y2="673.00" stroke="#5f5f5f" stroke-width="1.6"/>
<line x1="173.60" y1="673.00" x2="173.60" y2="679.00" stroke="#5f5f5f" stroke-width="1.6"/>
<line x1="167.60" y1="673.00" x2="173.60" y2="673.00" stroke="#5f5f5f" stroke-width="1.6"/>
<text x="175.10" y="727.00" text-anchor="middle" class="tk">0</text>
<text x="155.60" y="686.20" text-anchor="end" class="tk">0</text>
<line x1="277.94" y1="673.00" x2="277.94" y2="679.00" stroke="#5f5f5f" stroke-width="1.6"/>
<line x1="167.60" y1="567.06" x2="173.60" y2="567.06" stroke="#5f5f5f" stroke-width="1.6"/>
<text x="279.44" y="727.00" text-anchor="middle" class="tk">200</text>
<text x="155.60" y="580.26" text-anchor="end" class="tk">200</text>
<line x1="382.28" y1="673.00" x2="382.28" y2="679.00" stroke="#5f5f5f" stroke-width="1.6"/>
<line x1="167.60" y1="461.12" x2="173.60" y2="461.12" stroke="#5f5f5f" stroke-width="1.6"/>
<text x="383.78" y="727.00" text-anchor="middle" class="tk">400</text>
<text x="155.60" y="474.32" text-anchor="end" class="tk">400</text>
<line x1="486.62" y1="673.00" x2="486.62" y2="679.00" stroke="#5f5f5f" stroke-width="1.6"/>
<line x1="167.60" y1="355.18" x2="173.60" y2="355.18" stroke="#5f5f5f" stroke-width="1.6"/>
<text x="488.12" y="727.00" text-anchor="middle" class="tk">600</text>
<text x="155.60" y="368.38" text-anchor="end" class="tk">600</text>
<line x1="590.96" y1="673.00" x2="590.96" y2="679.00" stroke="#5f5f5f" stroke-width="1.6"/>
<line x1="167.60" y1="249.24" x2="173.60" y2="249.24" stroke="#5f5f5f" stroke-width="1.6"/>
<text x="592.46" y="727.00" text-anchor="middle" class="tk">800</text>
<text x="155.60" y="262.44" text-anchor="end" class="tk">800</text>
<line x1="695.30" y1="673.00" x2="695.30" y2="679.00" stroke="#5f5f5f" stroke-width="1.6"/>
<line x1="167.60" y1="143.30" x2="173.60" y2="143.30" stroke="#5f5f5f" stroke-width="1.6"/>
<text x="696.80" y="727.00" text-anchor="middle" class="tk">1000</text>
<text x="155.60" y="156.50" text-anchor="end" class="tk">1000</text>
<text x="433.00" y="789.90" text-anchor="middle" class="lb" style="font-size:42.70px">Actual case time (min)</text>
<text transform="translate(38.20,411.80) rotate(-90)" x="0" y="0" text-anchor="middle" class="lb" style="font-size:42.80px">Scheduler-predicted case time (min)</text>
<path d="M1018.00,121.00 C1019.00,120.25 1021.73,118.35 1024.00,116.50 C1026.27,114.65 1029.52,112.07 1031.60,109.90 C1033.68,107.73 1034.83,105.45 1036.50,103.50 C1038.17,101.55 1039.85,99.65 1041.60,98.20 C1043.35,96.75 1045.05,95.63 1047.00,94.80 C1048.95,93.97 1050.80,93.40 1053.30,93.20 C1055.80,93.00 1058.95,93.32 1062.00,93.60 C1065.05,93.88 1068.10,94.30 1071.60,94.90 C1075.10,95.50 1079.12,96.37 1083.00,97.20 C1086.88,98.03 1090.73,98.97 1094.90,99.90 C1099.07,100.83 1103.57,101.80 1108.00,102.80 C1112.43,103.80 1116.50,104.62 1121.50,105.90 C1126.50,107.18 1132.45,109.00 1138.00,110.50 C1143.55,112.00 1149.30,113.68 1154.80,114.90 C1160.30,116.12 1165.47,116.97 1171.00,117.80 C1176.53,118.63 1181.50,119.27 1188.00,119.90 C1194.50,120.53 1201.67,121.17 1210.00,121.60 C1218.33,122.03 1226.33,122.23 1238.00,122.50 C1249.67,122.77 1229.67,123.07 1280.00,123.20 C1330.33,123.33 1496.67,123.28 1540.00,123.30 L1540.00,123.30 L1018.00,123.30 Z" fill="#0000ff" fill-opacity="0.25" stroke="none"/>
<path d="M1018.00,121.00 C1019.00,120.25 1021.73,118.35 1024.00,116.50 C1026.27,114.65 1029.52,112.07 1031.60,109.90 C1033.68,107.73 1034.83,105.45 1036.50,103.50 C1038.17,101.55 1039.85,99.65 1041.60,98.20 C1043.35,96.75 1045.05,95.63 1047.00,94.80 C1048.95,93.97 1050.80,93.40 1053.30,93.20 C1055.80,93.00 1058.95,93.32 1062.00,93.60 C1065.05,93.88 1068.10,94.30 1071.60,94.90 C1075.10,95.50 1079.12,96.37 1083.00,97.20 C1086.88,98.03 1090.73,98.97 1094.90,99.90 C1099.07,100.83 1103.57,101.80 1108.00,102.80 C1112.43,103.80 1116.50,104.62 1121.50,105.90 C1126.50,107.18 1132.45,109.00 1138.00,110.50 C1143.55,112.00 1149.30,113.68 1154.80,114.90 C1160.30,116.12 1165.47,116.97 1171.00,117.80 C1176.53,118.63 1181.50,119.27 1188.00,119.90 C1194.50,120.53 1201.67,121.17 1210.00,121.60 C1218.33,122.03 1226.33,122.23 1238.00,122.50 C1249.67,122.77 1229.67,123.07 1280.00,123.20 C1330.33,123.33 1496.67,123.28 1540.00,123.30" fill="none" stroke="#0000ff" stroke-width="1.5" stroke-linejoin="round"/>
<path d="M1018.00,122.70 C1020.00,122.35 1025.52,121.35 1030.00,120.60 C1034.48,119.85 1040.23,119.05 1044.90,118.20 C1049.57,117.35 1053.55,116.33 1058.00,115.50 C1062.45,114.67 1067.10,113.85 1071.60,113.20 C1076.10,112.55 1080.57,112.03 1085.00,111.60 C1089.43,111.17 1093.20,110.80 1098.20,110.60 C1103.20,110.40 1109.45,110.40 1115.00,110.40 C1120.55,110.40 1125.67,110.37 1131.50,110.60 C1137.33,110.83 1143.33,111.37 1150.00,111.80 C1156.67,112.23 1163.83,112.72 1171.50,113.20 C1179.17,113.68 1187.68,114.25 1196.00,114.70 C1204.32,115.15 1213.07,115.55 1221.40,115.90 C1229.73,116.25 1237.68,116.53 1246.00,116.80 C1254.32,117.07 1262.97,117.23 1271.30,117.50 C1279.63,117.77 1287.67,118.12 1296.00,118.40 C1304.33,118.68 1312.97,118.92 1321.30,119.20 C1329.63,119.48 1337.72,119.82 1346.00,120.10 C1354.28,120.38 1361.33,120.65 1371.00,120.90 C1380.67,121.15 1392.87,121.38 1404.00,121.60 C1415.13,121.82 1423.97,122.02 1437.80,122.20 C1451.63,122.38 1469.97,122.55 1487.00,122.70 C1504.03,122.85 1531.17,123.03 1540.00,123.10 L1540.00,123.30 L1018.00,123.30 Z" fill="#ff0000" fill-opacity="0.25" stroke="none"/>
<path d="M1018.00,122.70 C1020.00,122.35 1025.52,121.35 1030.00,120.60 C1034.48,119.85 1040.23,119.05 1044.90,118.20 C1049.57,117.35 1053.55,116.33 1058.00,115.50 C1062.45,114.67 1067.10,113.85 1071.60,113.20 C1076.10,112.55 1080.57,112.03 1085.00,111.60 C1089.43,111.17 1093.20,110.80 1098.20,110.60 C1103.20,110.40 1109.45,110.40 1115.00,110.40 C1120.55,110.40 1125.67,110.37 1131.50,110.60 C1137.33,110.83 1143.33,111.37 1150.00,111.80 C1156.67,112.23 1163.83,112.72 1171.50,113.20 C1179.17,113.68 1187.68,114.25 1196.00,114.70 C1204.32,115.15 1213.07,115.55 1221.40,115.90 C1229.73,116.25 1237.68,116.53 1246.00,116.80 C1254.32,117.07 1262.97,117.23 1271.30,117.50 C1279.63,117.77 1287.67,118.12 1296.00,118.40 C1304.33,118.68 1312.97,118.92 1321.30,119.20 C1329.63,119.48 1337.72,119.82 1346.00,120.10 C1354.28,120.38 1361.33,120.65 1371.00,120.90 C1380.67,121.15 1392.87,121.38 1404.00,121.60 C1415.13,121.82 1423.97,122.02 1437.80,122.20 C1451.63,122.38 1469.97,122.55 1487.00,122.70 C1504.03,122.85 1531.17,123.03 1540.00,123.10" fill="none" stroke="#ff0000" stroke-width="1.5" stroke-linejoin="round"/>
<path d="M1018.00,121.00 C1018.83,120.37 1021.28,118.50 1023.00,117.20 C1024.72,115.90 1026.63,114.98 1028.30,113.20 C1029.97,111.42 1031.33,109.00 1033.00,106.50 C1034.67,104.00 1036.63,101.12 1038.30,98.20 C1039.97,95.28 1041.33,92.03 1043.00,89.00 C1044.67,85.97 1046.30,83.00 1048.30,80.00 C1050.30,77.00 1052.78,73.78 1055.00,71.00 C1057.22,68.22 1059.43,65.55 1061.60,63.30 C1063.77,61.05 1065.78,59.17 1068.00,57.50 C1070.22,55.83 1072.73,54.63 1074.90,53.30 C1077.07,51.97 1078.78,50.88 1081.00,49.50 C1083.22,48.12 1085.70,46.58 1088.20,45.00 C1090.70,43.42 1093.22,41.57 1096.00,40.00 C1098.78,38.43 1102.40,36.18 1104.90,35.60 C1107.40,35.02 1108.78,35.77 1111.00,36.50 C1113.22,37.23 1115.87,38.17 1118.20,40.00 C1120.53,41.83 1122.78,44.73 1125.00,47.50 C1127.22,50.27 1128.83,53.10 1131.50,56.60 C1134.17,60.10 1137.67,64.60 1141.00,68.50 C1144.33,72.40 1147.67,77.17 1151.50,80.00 C1155.33,82.83 1159.57,83.83 1164.00,85.50 C1168.43,87.17 1173.60,88.42 1178.10,90.00 C1182.60,91.58 1186.55,93.33 1191.00,95.00 C1195.45,96.67 1199.80,98.37 1204.80,100.00 C1209.80,101.63 1215.47,103.27 1221.00,104.80 C1226.53,106.33 1231.83,107.75 1238.00,109.20 C1244.17,110.65 1251.33,112.17 1258.00,113.50 C1264.67,114.83 1270.23,116.37 1278.00,117.20 C1285.77,118.03 1294.60,117.78 1304.60,118.50 C1314.60,119.22 1326.93,120.83 1338.00,121.50 C1349.07,122.17 1357.33,122.22 1371.00,122.50 C1384.67,122.78 1391.83,123.07 1420.00,123.20 C1448.17,123.33 1520.00,123.28 1540.00,123.30 L1540.00,123.30 L1018.00,123.30 Z" fill="#000000" fill-opacity="0.25" stroke="none"/>
<path d="M1018.00,121.00 C1018.83,120.37 1021.28,118.50 1023.00,117.20 C1024.72,115.90 1026.63,114.98 1028.30,113.20 C1029.97,111.42 1031.33,109.00 1033.00,106.50 C1034.67,104.00 1036.63,101.12 1038.30,98.20 C1039.97,95.28 1041.33,92.03 1043.00,89.00 C1044.67,85.97 1046.30,83.00 1048.30,80.00 C1050.30,77.00 1052.78,73.78 1055.00,71.00 C1057.22,68.22 1059.43,65.55 1061.60,63.30 C1063.77,61.05 1065.78,59.17 1068.00,57.50 C1070.22,55.83 1072.73,54.63 1074.90,53.30 C1077.07,51.97 1078.78,50.88 1081.00,49.50 C1083.22,48.12 1085.70,46.58 1088.20,45.00 C1090.70,43.42 1093.22,41.57 1096.00,40.00 C1098.78,38.43 1102.40,36.18 1104.90,35.60 C1107.40,35.02 1108.78,35.77 1111.00,36.50 C1113.22,37.23 1115.87,38.17 1118.20,40.00 C1120.53,41.83 1122.78,44.73 1125.00,47.50 C1127.22,50.27 1128.83,53.10 1131.50,56.60 C1134.17,60.10 1137.67,64.60 1141.00,68.50 C1144.33,72.40 1147.67,77.17 1151.50,80.00 C1155.33,82.83 1159.57,83.83 1164.00,85.50 C1168.43,87.17 1173.60,88.42 1178.10,90.00 C1182.60,91.58 1186.55,93.33 1191.00,95.00 C1195.45,96.67 1199.80,98.37 1204.80,100.00 C1209.80,101.63 1215.47,103.27 1221.00,104.80 C1226.53,106.33 1231.83,107.75 1238.00,109.20 C1244.17,110.65 1251.33,112.17 1258.00,113.50 C1264.67,114.83 1270.23,116.37 1278.00,117.20 C1285.77,118.03 1294.60,117.78 1304.60,118.50 C1314.60,119.22 1326.93,120.83 1338.00,121.50 C1349.07,122.17 1357.33,122.22 1371.00,122.50 C1384.67,122.78 1391.83,123.07 1420.00,123.20 C1448.17,123.33 1520.00,123.28 1540.00,123.30" fill="none" stroke="#1a1a1a" stroke-width="1.5" stroke-linejoin="round"/>
<line x1="1017.20" y1="123.30" x2="1540.80" y2="123.30" stroke="#5f5f5f" stroke-width="1.6"/>
<line x1="1018.00" y1="123.30" x2="1018.00" y2="129.30" stroke="#5f5f5f" stroke-width="1.6"/>
<line x1="1122.40" y1="123.30" x2="1122.40" y2="129.30" stroke="#5f5f5f" stroke-width="1.6"/>
<line x1="1226.80" y1="123.30" x2="1226.80" y2="129.30" stroke="#5f5f5f" stroke-width="1.6"/>
<line x1="1331.20" y1="123.30" x2="1331.20" y2="129.30" stroke="#5f5f5f" stroke-width="1.6"/>
<line x1="1435.60" y1="123.30" x2="1435.60" y2="129.30" stroke="#5f5f5f" stroke-width="1.6"/>
<line x1="1540.00" y1="123.30" x2="1540.00" y2="129.30" stroke="#5f5f5f" stroke-width="1.6"/>
<path d="M1558.30,673.00 C1559.00,671.33 1560.63,666.55 1562.50,663.00 C1564.37,659.45 1567.58,655.20 1569.50,651.70 C1571.42,648.20 1572.65,645.28 1574.00,642.00 C1575.35,638.72 1576.90,636.17 1577.60,632.00 C1578.30,627.83 1578.20,621.87 1578.20,617.00 C1578.20,612.13 1577.97,607.80 1577.60,602.80 C1577.23,597.80 1576.55,592.43 1576.00,587.00 C1575.45,581.57 1574.85,575.70 1574.30,570.20 C1573.75,564.70 1573.25,559.43 1572.70,554.00 C1572.15,548.57 1571.68,544.43 1571.00,537.60 C1570.32,530.77 1569.40,521.17 1568.60,513.00 C1567.80,504.83 1566.87,496.77 1566.20,488.60 C1565.53,480.43 1565.13,472.15 1564.60,464.00 C1564.07,455.85 1563.53,447.87 1563.00,439.70 C1562.47,431.53 1561.95,423.15 1561.40,415.00 C1560.85,406.85 1560.22,399.97 1559.70,390.80 C1559.18,381.63 1558.53,401.25 1558.30,360.00 C1558.07,318.75 1558.30,179.42 1558.30,143.30 L1558.30,143.30 L1558.30,673.00 Z" fill="#0000ff" fill-opacity="0.25" stroke="none"/>
<path d="M1558.30,673.00 C1559.00,671.33 1560.63,666.55 1562.50,663.00 C1564.37,659.45 1567.58,655.20 1569.50,651.70 C1571.42,648.20 1572.65,645.28 1574.00,642.00 C1575.35,638.72 1576.90,636.17 1577.60,632.00 C1578.30,627.83 1578.20,621.87 1578.20,617.00 C1578.20,612.13 1577.97,607.80 1577.60,602.80 C1577.23,597.80 1576.55,592.43 1576.00,587.00 C1575.45,581.57 1574.85,575.70 1574.30,570.20 C1573.75,564.70 1573.25,559.43 1572.70,554.00 C1572.15,548.57 1571.68,544.43 1571.00,537.60 C1570.32,530.77 1569.40,521.17 1568.60,513.00 C1567.80,504.83 1566.87,496.77 1566.20,488.60 C1565.53,480.43 1565.13,472.15 1564.60,464.00 C1564.07,455.85 1563.53,447.87 1563.00,439.70 C1562.47,431.53 1561.95,423.15 1561.40,415.00 C1560.85,406.85 1560.22,399.97 1559.70,390.80 C1559.18,381.63 1558.53,401.25 1558.30,360.00 C1558.07,318.75 1558.30,179.42 1558.30,143.30" fill="none" stroke="#0000ff" stroke-width="1.5" stroke-linejoin="round"/>
<path d="M1558.30,673.00 C1558.67,671.50 1559.45,667.55 1560.50,664.00 C1561.55,660.45 1563.35,656.03 1564.60,651.70 C1565.85,647.37 1566.93,642.35 1568.00,638.00 C1569.07,633.65 1570.20,630.43 1571.00,625.60 C1571.80,620.77 1572.25,614.43 1572.80,609.00 C1573.35,603.57 1574.07,597.67 1574.30,593.00 C1574.53,588.33 1574.30,584.80 1574.20,581.00 C1574.10,577.20 1574.10,574.70 1573.70,570.20 C1573.30,565.70 1572.50,559.43 1571.80,554.00 C1571.10,548.57 1570.27,544.43 1569.50,537.60 C1568.73,530.77 1567.92,521.17 1567.20,513.00 C1566.48,504.83 1565.73,496.77 1565.20,488.60 C1564.67,480.43 1564.37,472.15 1564.00,464.00 C1563.63,455.85 1563.43,447.87 1563.00,439.70 C1562.57,431.53 1561.95,423.15 1561.40,415.00 C1560.85,406.85 1560.22,401.63 1559.70,390.80 C1559.18,379.97 1558.53,391.25 1558.30,350.00 C1558.07,308.75 1558.30,177.75 1558.30,143.30 L1558.30,143.30 L1558.30,673.00 Z" fill="#ff0000" fill-opacity="0.25" stroke="none"/>
<path d="M1558.30,673.00 C1558.67,671.50 1559.45,667.55 1560.50,664.00 C1561.55,660.45 1563.35,656.03 1564.60,651.70 C1565.85,647.37 1566.93,642.35 1568.00,638.00 C1569.07,633.65 1570.20,630.43 1571.00,625.60 C1571.80,620.77 1572.25,614.43 1572.80,609.00 C1573.35,603.57 1574.07,597.67 1574.30,593.00 C1574.53,588.33 1574.30,584.80 1574.20,581.00 C1574.10,577.20 1574.10,574.70 1573.70,570.20 C1573.30,565.70 1572.50,559.43 1571.80,554.00 C1571.10,548.57 1570.27,544.43 1569.50,537.60 C1568.73,530.77 1567.92,521.17 1567.20,513.00 C1566.48,504.83 1565.73,496.77 1565.20,488.60 C1564.67,480.43 1564.37,472.15 1564.00,464.00 C1563.63,455.85 1563.43,447.87 1563.00,439.70 C1562.57,431.53 1561.95,423.15 1561.40,415.00 C1560.85,406.85 1560.22,401.63 1559.70,390.80 C1559.18,379.97 1558.53,391.25 1558.30,350.00 C1558.07,308.75 1558.30,177.75 1558.30,143.30" fill="none" stroke="#ff0000" stroke-width="1.5" stroke-linejoin="round"/>
<path d="M1558.30,673.00 C1559.25,672.08 1561.33,669.97 1564.00,667.50 C1566.67,665.03 1570.63,660.87 1574.30,658.20 C1577.97,655.53 1582.18,653.67 1586.00,651.50 C1589.82,649.33 1593.87,647.37 1597.20,645.20 C1600.53,643.03 1603.28,640.68 1606.00,638.50 C1608.72,636.32 1611.58,634.27 1613.50,632.10 C1615.42,629.93 1616.42,627.68 1617.50,625.50 C1618.58,623.32 1618.75,621.17 1620.00,619.00 C1621.25,616.83 1623.10,614.67 1625.00,612.50 C1626.90,610.33 1629.40,608.17 1631.40,606.00 C1633.40,603.83 1635.10,601.67 1637.00,599.50 C1638.90,597.33 1641.50,594.92 1642.80,593.00 C1644.10,591.08 1644.53,589.63 1644.80,588.00 C1645.07,586.37 1644.87,584.87 1644.40,583.20 C1643.93,581.53 1643.08,579.63 1642.00,578.00 C1640.92,576.37 1639.73,575.23 1637.90,573.40 C1636.07,571.57 1633.45,569.17 1631.00,567.00 C1628.55,564.83 1625.87,562.57 1623.20,560.40 C1620.53,558.23 1617.70,556.18 1615.00,554.00 C1612.30,551.82 1609.33,549.30 1607.00,547.30 C1604.67,545.30 1602.63,543.62 1601.00,542.00 C1599.37,540.38 1598.28,539.68 1597.20,537.60 C1596.12,535.52 1595.32,532.22 1594.50,529.50 C1593.68,526.78 1593.05,524.05 1592.30,521.30 C1591.55,518.55 1590.82,515.72 1590.00,513.00 C1589.18,510.28 1588.37,507.70 1587.40,505.00 C1586.43,502.30 1585.28,499.53 1584.20,496.80 C1583.12,494.07 1582.00,491.32 1580.90,488.60 C1579.80,485.88 1578.70,483.22 1577.60,480.50 C1576.50,477.78 1575.15,475.05 1574.30,472.30 C1573.45,469.55 1573.05,466.72 1572.50,464.00 C1571.95,461.28 1571.53,458.67 1571.00,456.00 C1570.47,453.33 1569.83,450.72 1569.30,448.00 C1568.77,445.28 1568.45,443.87 1567.80,439.70 C1567.15,435.53 1566.20,428.45 1565.40,423.00 C1564.60,417.55 1563.73,412.50 1563.00,407.00 C1562.27,401.50 1561.55,395.42 1561.00,390.00 C1560.45,384.58 1560.05,382.50 1559.70,374.50 C1559.35,366.50 1559.13,354.42 1558.90,342.00 C1558.67,329.58 1558.40,333.12 1558.30,300.00 C1558.20,266.88 1558.30,169.42 1558.30,143.30 L1558.30,143.30 L1558.30,673.00 Z" fill="#000000" fill-opacity="0.25" stroke="none"/>
<path d="M1558.30,673.00 C1559.25,672.08 1561.33,669.97 1564.00,667.50 C1566.67,665.03 1570.63,660.87 1574.30,658.20 C1577.97,655.53 1582.18,653.67 1586.00,651.50 C1589.82,649.33 1593.87,647.37 1597.20,645.20 C1600.53,643.03 1603.28,640.68 1606.00,638.50 C1608.72,636.32 1611.58,634.27 1613.50,632.10 C1615.42,629.93 1616.42,627.68 1617.50,625.50 C1618.58,623.32 1618.75,621.17 1620.00,619.00 C1621.25,616.83 1623.10,614.67 1625.00,612.50 C1626.90,610.33 1629.40,608.17 1631.40,606.00 C1633.40,603.83 1635.10,601.67 1637.00,599.50 C1638.90,597.33 1641.50,594.92 1642.80,593.00 C1644.10,591.08 1644.53,589.63 1644.80,588.00 C1645.07,586.37 1644.87,584.87 1644.40,583.20 C1643.93,581.53 1643.08,579.63 1642.00,578.00 C1640.92,576.37 1639.73,575.23 1637.90,573.40 C1636.07,571.57 1633.45,569.17 1631.00,567.00 C1628.55,564.83 1625.87,562.57 1623.20,560.40 C1620.53,558.23 1617.70,556.18 1615.00,554.00 C1612.30,551.82 1609.33,549.30 1607.00,547.30 C1604.67,545.30 1602.63,543.62 1601.00,542.00 C1599.37,540.38 1598.28,539.68 1597.20,537.60 C1596.12,535.52 1595.32,532.22 1594.50,529.50 C1593.68,526.78 1593.05,524.05 1592.30,521.30 C1591.55,518.55 1590.82,515.72 1590.00,513.00 C1589.18,510.28 1588.37,507.70 1587.40,505.00 C1586.43,502.30 1585.28,499.53 1584.20,496.80 C1583.12,494.07 1582.00,491.32 1580.90,488.60 C1579.80,485.88 1578.70,483.22 1577.60,480.50 C1576.50,477.78 1575.15,475.05 1574.30,472.30 C1573.45,469.55 1573.05,466.72 1572.50,464.00 C1571.95,461.28 1571.53,458.67 1571.00,456.00 C1570.47,453.33 1569.83,450.72 1569.30,448.00 C1568.77,445.28 1568.45,443.87 1567.80,439.70 C1567.15,435.53 1566.20,428.45 1565.40,423.00 C1564.60,417.55 1563.73,412.50 1563.00,407.00 C1562.27,401.50 1561.55,395.42 1561.00,390.00 C1560.45,384.58 1560.05,382.50 1559.70,374.50 C1559.35,366.50 1559.13,354.42 1558.90,342.00 C1558.67,329.58 1558.40,333.12 1558.30,300.00 C1558.20,266.88 1558.30,169.42 1558.30,143.30" fill="none" stroke="#1a1a1a" stroke-width="1.5" stroke-linejoin="round"/>
<line x1="1558.30" y1="142.50" x2="1558.30" y2="673.80" stroke="#5f5f5f" stroke-width="1.6"/>
<line x1="1552.30" y1="673.00" x2="1558.30" y2="673.00" stroke="#5f5f5f" stroke-width="1.6"/>
<line x1="1552.30" y1="567.06" x2="1558.30" y2="567.06" stroke="#5f5f5f" stroke-width="1.6"/>
<line x1="1552.30" y1="461.12" x2="1558.30" y2="461.12" stroke="#5f5f5f" stroke-width="1.6"/>
<line x1="1552.30" y1="355.18" x2="1558.30" y2="355.18" stroke="#5f5f5f" stroke-width="1.6"/>
<line x1="1552.30" y1="249.24" x2="1558.30" y2="249.24" stroke="#5f5f5f" stroke-width="1.6"/>
<line x1="1552.30" y1="143.30" x2="1558.30" y2="143.30" stroke="#5f5f5f" stroke-width="1.6"/>
<line x1="1558.60" y1="237.60" x2="1558.60" y2="249.00" stroke="#e03030" stroke-width="1.5"/>
<line x1="1018.00" y1="673.00" x2="1540.00" y2="143.30" stroke="#222" stroke-width="2.4" stroke-dasharray="9,4.5"/>
<g transform="scale(.5)" fill="none" stroke-linecap="round" stroke-width="20.0"><path d="M2550 769h0m-132 231h0m-165 15h0m81-1h0m118 25h0m-246 18h0m81 9h0m85 2h0m69 3h0m-245 26h0m83 0h0m19-10h0m-61 61h0m26-14h0m9 7h0m-36 28h0m66-11h0m-106 37h0m69-5h0m43-5h0m-149 33h0m42-16h0m-74 32h0m16-9h0m-6 33h0" stroke="#fff" stroke-width="23.8"/>
<path d="M2452 1039h0m-11 32h0m-139 87h0m-37 32h0m43-5h0" class="r"/>
<path d="M2550 769h0m-132 231h0m-84 14h0m-47 52h0m85 2h0m-93 29h0m19-10h0m-61 61h0m26-14h0m9 7h0m-36 28h0m-40 26h0m-37 23h0m42-16h0m-58 23h0m-6 33h0" class="k"/>
<path d="M2253 1015h0m-47 42h0m-10 40h0m-69 137h0" class="b"/>
<path d="M2581 860h0m-213 97h0m150 9h0m304-1h0m-500 38h0m-20 13h0m108 17h0m117 8h0m-267 85h0m76-4h0m-83 29h0m1-2h0m34-12h0m-106 37h0m-14 9h0m30-7h0m-46 37h0m26-3h0m-63 35h0m8-20h0m23-1h0m46 7h0m-103 21h0m6-4h0m61 12h0" stroke="#fff" stroke-width="23.8"/>
<path d="M2518 966h0m304-1h0m-295 76h0m-191 81h0m-144 109h0m-36 29h0" class="r"/>
<path d="M2581 860h0m-213 97h0m-46 46h0m88 30h0m-150 93h0m-7 25h0m1-2h0m34-12h0m-106 37h0m16 2h0m-46 37h0m26-3h0m-32 14h0" class="k"/>
<path d="M2302 1016h0m-134 167h0m-53 62h0m8-20h0m-34 27h0m6-4h0" class="b"/>
<path d="M2402 765h0m232 63h0m36 11h0m-159 59h0m66 8h0m-229 56h0m49 17h0m-25 21h0m-97 40h0m111 21h0m44-4h0m-202 70h0m-23 32h0m8 0h0m-43 25h0m-29 37h0m115-11h0m-164 27h0m10 9h0m45-6h0m4-14h0m31 9h0m22-1h0m-74 22h0m-37 20h0" stroke="#fff" stroke-width="23.8"/>
<path d="M2670 839h0m-240 218h0m-174 153h0m-74 25h0m22-1h0" class="r"/>
<path d="M2634 828h0m-123 70h0m66 8h0m-180 73h0m-25 21h0m14 61h0m-158 66h0m-23 32h0m8 0h0m-43 25h0m-29 37h0m6 19h0m4-14h0m-21 30h0" class="k"/>
<path d="M2402 765h0m-54 197h0m-73 78h0m-183 197h0m10 9h0m-9 30h0" class="b"/>
<path d="M2834 707h0m-428 147h0m0 22h0m167 47h0m-237 60h0m61-21h0m14 31h0m-119 58h0m125 3h0m114-15h0m-194 22h0m-54 61h0m10 4h0m-88 26h0m144-22h0m-135 34h0m129-10h0m-189 59h0m4 1h0m-30 26h0m49-1h0m0-12h0m-76 40h0m27-6h0m14-3h0" stroke="#fff" stroke-width="23.8"/>
<path d="M2834 707h0m-261 216h0m-156 131h0m114-15h0m-182 91h0m-6 24h0m-166 85h0" class="r"/>
<path d="M2336 983h0m61-21h0m14 31h0m-119 58h0m45 10h0m-54 61h0m10 4h0m-88 26h0m9 12h0m-60 49h0m4 1h0m-30 26h0m49-13h0m-76 40h0m27-6h0m14-3h0" class="k"/>
<path d="M2406 854h0m0 22h0" class="b"/>
<path d="M2616 815h0m-260 177h0m51 9h0m-84 26h0m36 6h0m-98 30h0m56-6h0m89 3h0m-180 27h0m63 39h0m-77 12h0m0 0h0m2 18h0m14 16h0m-2 24h0m-73 16h0m5 3h0m46-8h0m-84 40h0m32-18h0m15 1h0m-30 25h0m-67 54h0m11-4h0m12-9h0" stroke="#fff" stroke-width="23.8"/>
<path d="M2406 1060h0m-180 136h0" class="r"/>
<path d="M2616 815h0m-260 177h0m51 9h0m-84 26h0m36 6h0m-42 24h0m-28 69h0m-77 12h0m0 0h0m2 18h0m14 16h0m-75 40h0m5 3h0m46-8h0m-84 40h0m32-18h0m15 1h0m-30 25h0m-67 54h0m11-4h0m12-9h0" class="k"/>
<path d="M2261 1063h0m-35 24h0" class="b"/>
<path d="M2602 738h0m-225 101h0m37 90h0m139-13h0m-164 30h0m88 4h0m154 3h0m-143 15h0m-141 19h0m336 6h0m-217 17h0m10 20h0m-238 36h0m7 34h0m57 15h0m-91 36h0m18-22h0m0 35h0m22 0h0m-97 49h0m-6 13h0m36-1h0m-86 46h0m18-6h0m-33 25h0" stroke="#fff" stroke-width="23.8"/>
<path d="M2631 953h0m52 40h0m-217 17h0m10 20h0" class="r"/>
<path d="M2602 738h0m-188 191h0m139-13h0m-164 30h0m88 4h0m11 18h0m-141 19h0m-102 113h0m57 15h0m-91 36h0m18-22h0m0 35h0m22 0h0m-97 49h0m-6 13h0m36-1h0m-86 46h0m18-6h0m-33 25h0" class="k"/>
<path d="M2377 839h0m-139 227h0" class="b"/>
<path d="M2430 922h0m205 31h0m-257 34h0m57 2h0m-121 37h0m11-15h0m9 21h0m-153 49h0m17 8h0m197 0h0m-133 15h0m-38 38h0m-35 34h0m6-18h0m-61 58h0m12 6h0m13-15h0m2 0h0m4 2h0m-34 27h0m9-1h0m20-11h0m16 13h0m-59 21h0m-14 24h0" stroke="#fff" stroke-width="23.8"/>
<path d="M2635 953h0m-240 136h0m-219 148h0" class="r"/>
<path d="M2430 922h0m-52 65h0m57 2h0m-121 37h0m11-15h0m9 21h0m-72 72h0m-38 38h0m-35 34h0m6-18h0m-49 64h0m13-15h0m2 0h0m4 2h0m-34 27h0m9-1h0m20-11h0m-43 34h0m-14 24h0" class="k"/>
<path d="M2181 1081h0m17 8h0m-64 127h0" class="b"/>
<path d="M2421 748h0m-109 159h0m201 70h0m112-7h0m-308 76h0m25-12h0m71 0h0m-147 37h0m-14 23h0m25 19h0m2 9h0m27 20h0m-147 23h0m3 34h0m1 8h0m18-3h0m31 12h0m9-8h0m-73 30h0m4-4h0m34 7h0m-105 27h0m42-17h0m-45 33h0m19-5h0" stroke="#fff" stroke-width="23.8"/>
<path d="M2513 977h0m112-7h0m-319 172h0m-94 74h0m9-8h0m-35 33h0" class="r"/>
<path d="M2317 1046h0m25-12h0m71 0h0m-147 37h0m-14 23h0m25 19h0m2 9h0m-117 77h0m1 8h0m18-3h0m-33 34h0m4-4h0m-29 17h0m-26 28h0" class="k"/>
<path d="M2421 748h0m-109 159h0m-153 258h0m-78 103h0m-3 16h0" class="b"/>
<path d="M2604 767h0m-167 165h0m72-10h0m-60 28h0m159 0h0m-246 81h0m-124 19h0m232 5h0m-224 40h0m187-12h0m-165 38h0m-8 23h0m109 5h0m-155 5h0m0 10h0m35 10h0m-116 11h0m39 1h0m5 5h0m42-13h0m14 12h0m41 2h0m-115 9h0m-57 23h0m69 8h0" stroke="#fff" stroke-width="23.8"/>
<path d="M2608 950h0m-138 105h0m-37 28h0m-64 66h0m-120 25h0m-16 16h0m41 2h0" class="r"/>
<path d="M2604 767h0m-167 165h0m72-10h0m-60 28h0m-87 81h0m-116 64h0m22 26h0m-8 23h0m-46 10h0m0 10h0m-42 22h0m5 5h0m42-13h0m-60 23h0m12 31h0" class="k"/>
<path d="M2238 1050h0m-105 135h0m-31 39h0" class="b"/>
<path d="M2645 741h0m129 28h0m-246 113h0m-80 8h0m3 9h0m184 2h0m152 40h0m124-1h0m-563 37h0m232-9h0m-222 59h0m-99 9h0m76 47h0m-129 23h0m93 17h0m-107 46h0m15-2h0m41-4h0m-75 31h0m10-10h0m-71 52h0m7 32h0m-18 12h0m15 12h0m-45 12h0" stroke="#fff" stroke-width="23.8"/>
<path d="M2774 769h0m-139 132h0m152 40h0m124-1h0m-331 28h0m-464 324h0" class="r"/>
<path d="M2645 741h0m-117 141h0m-80 8h0m3 9h0m-103 78h0m10 50h0m-23 56h0m-36 40h0m-107 46h0m15-2h0m41-4h0m-75 31h0m10-10h0m-64 84h0m-18 12h0m-30 24h0" class="k"/>
<path d="M2259 1036h0m-53 70h0m-94 130h0" class="b"/>
<path d="M2419 791h0m27 39h0m190 2h0m-220 8h0m66 7h0m-87 57h0m100 30h0m264-15h0m-138 65h0m-327 22h0m161 32h0m12 11h0m-250 16h0m221 0h0m-81 20h0m-202 61h0m1 15h0m77-4h0m107 10h0m-98 11h0m-35 35h0m-94 12h0m-33 27h0m32 15h0m-24 21h0" stroke="#fff" stroke-width="23.8"/>
<path d="M2759 919h0m-138 65h0m-166 54h0m12 11h0m-29 16h0m-81 20h0m-17 82h0m-133 46h0" class="r"/>
<path d="M2636 832h0m-154 15h0m13 87h0m-262 223h0m9 21h0m-130 89h0m-24 21h0" class="k"/>
<path d="M2419 791h0m27 39h0m-30 10h0m-21 64h0m-101 102h0m-77 59h0m-62 81h0m1 15h0m-43 64h0m-33 27h0" class="b"/>
<path d="M2525 863h0m-101 98h0m125 14h0m-112 28h0m-61 12h0m-32 54h0m123 18h0m-260 24h0m17 10h0m121-1h0m-50 17h0m21-5h0m-110 31h0m-42 30h0m21 1h0m20-17h0m8 23h0m13-19h0m-145 57h0m69 5h0m-32 25h0m20-16h0m20 13h0m-77 28h0m30-12h0" stroke="#fff" stroke-width="23.8"/>
<path d="M2549 975h0m-82 112h0m-122 33h0m-50 17h0m21-5h0m-158 133h0" class="r"/>
<path d="M2525 863h0m-101 98h0m13 42h0m-61 12h0m-32 54h0m-120 52h0m-18 42h0m-42 30h0m21 1h0m20-17h0m8 23h0m13-19h0m-76 62h0m-32 25h0m20-16h0m-57 41h0m30-12h0" class="k"/>
<path d="M2207 1111h0m-126 127h0" class="b"/>
<path d="M2469 789h0m-26 88h0m50 26h0m-124 11h0m47 24h0m40 24h0m-166 30h0m126 14h0m85 15h0m-154 14h0m-56 58h0m148-11h0m-397 27h0m163 38h0m26-9h0m51 0h0m17 2h0m-83 14h0m3 23h0m-40 29h0m33-2h0m-136 59h0m71 2h0m-73 10h0m9 13h0" stroke="#fff" stroke-width="23.8"/>
<path d="M2501 1021h0m-62 61h0m-140 58h0m-87 64h0m-65 61h0" class="r"/>
<path d="M2443 877h0m50 26h0m-77 35h0m40 24h0m-40 44h0m-69 29h0m-56 58h0m-86 54h0m26-9h0m51 0h0m-66 16h0m3 23h0m-40 29h0" class="k"/>
<path d="M2469 789h0m-100 125h0m-79 78h0m-248 117h0m34 154h0m-2 12h0m9 13h0" class="b"/>
<path d="M2847 800h0m-469 125h0m7 46h0m-15 24h0m-29 27h0m-37 16h0m-163 40h0m103 0h0m136 2h0m-128 19h0m67 3h0m23-11h0m-52 56h0m-153 18h0m36-7h0m30 5h0m85 0h0m-149 46h0m11 1h0m1 0h0m42 4h0m-45 20h0m-72 31h0m8 25h0m40-5h0" stroke="#fff" stroke-width="23.8"/>
<path d="M2847 800h0m-467 280h0m-90 67h0m-2 16h0m-164 122h0" class="r"/>
<path d="M2385 971h0m-15 24h0m-29 27h0m-37 16h0m-52 61h0m67 3h0m23-11h0m-139 72h0m-53 47h0m1 0h0m42 4h0m-45 20h0m-64 56h0" class="k"/>
<path d="M2378 925h0m-237 153h0m103 0h0m-107 87h0m36-7h0m-34 51h0m-63 56h0" class="b"/>
<path d="M2664 732h0m-148 172h0m53-8h0m-335 105h0m339 0h0m-144 30h0m-115 16h0m78 9h0m-163 3h0m156 13h0m-109 27h0m54-2h0m-94 21h0m31 7h0m14-9h0m7-8h0m-50 43h0m127-20h0m-33 22h0m-128 51h0m-60 41h0m8 2h0m-84 62h0m1 3h0m0-4h0" stroke="#fff" stroke-width="23.8"/>
<path d="M2573 1001h0m-144 30h0m-44 41h0m-20 59h0m-33 22h0" class="r"/>
<path d="M2664 732h0m-148 172h0m53-8h0m-255 151h0m78 9h0m-116 43h0m54-2h0m-94 21h0m31 7h0m14-9h0m7-8h0m-50 43h0m-34 53h0m-60 41h0m8 2h0m-84 62h0m1 3h0m0-4h0" class="k"/>
<path d="M2234 1001h0m-5 58h0" class="b"/>
<path d="M2651 660h0m-208 190h0m197 48h0m-101 36h0m-214 48h0m90 25h0m-106 14h0m16 26h0m180-2h0m-211 18h0m-1 43h0m17 1h0m25 4h0m-125 35h0m31-1h0m18-13h0m43 10h0m-152 52h0m20 1h0m29-14h0m-19 41h0m32-21h0m-129 53h0m31 5h0m30-2h0" stroke="#fff" stroke-width="23.8"/>
<path d="M2640 898h0m-135 147h0m-170 66h0m-33 31h0" class="r"/>
<path d="M2651 660h0m-112 274h0m-124 73h0m-106 14h0m16 26h0m-31 16h0m-1 43h0m17 1h0m-100 39h0m31-1h0m18-13h0m-89 63h0m29-14h0m-19 41h0m32-21h0m-98 58h0m30-2h0" class="k"/>
<path d="M2443 850h0m-118 132h0m-175 212h0m-67 60h0" class="b"/>
<path d="M2523 815h0m58 4h0m3 36h0m-219 12h0m28 91h0m27 2h0m8-19h0m240-3h0m-388 27h0m-12 90h0m131-3h0m-171 22h0m81 9h0m-25 21h0m-58 31h0m71-5h0m-95 40h0m36-2h0m-90 31h0m15 20h0m-25 26h0m-21 24h0m5 0h0m-13 7h0m12 15h0" stroke="#fff" stroke-width="23.8"/>
<path d="M2668 938h0m-269 114h0m-278 239h0" class="r"/>
<path d="M2523 815h0m58 4h0m3 36h0m-191 103h0m27 2h0m8-19h0m-119 142h0m-25 21h0m-58 31h0m71-5h0m-95 40h0m36-2h0m-75 51h0m-25 26h0m-21 24h0m5 0h0m-13 7h0" class="k"/>
<path d="M2365 867h0m-85 98h0m-12 90h0m-40 19h0m-80 125h0" class="b"/>
<path d="M2635 799h0m37 80h0m-154 43h0m199-3h0m-188 43h0m52 26h0m-248 43h0m-51 32h0m89-1h0m-141 23h0m41 19h0m9-16h0m-55 32h0m51-3h0m-62 24h0m44-13h0m14 20h0m-85 10h0m4 33h0m-101 30h0m53 15h0m6-3h0m-59 16h0m7 7h0m29 14h0" stroke="#fff" stroke-width="23.8"/>
<path d="M2672 879h0m45 40h0m-188 43h0m52 26h0" class="r"/>
<path d="M2635 799h0m-117 123h0m-185 109h0m-51 32h0m89-1h0m-100 42h0m9-16h0m-55 32h0m51-3h0m-62 24h0m44-13h0m14 20h0m-81 43h0m-48 45h0m6-3h0m-23 37h0" class="k"/>
<path d="M2230 1085h0m-43 73h0m-97 63h0m0 28h0m7 7h0" class="b"/>
<path d="M2476 858h0m-30 63h0m-138 107h0m-82 22h0m288-9h0m-154 17h0m-100 30h0m-50 28h0m42-1h0m35-2h0m-26 27h0m-115 34h0m92-15h0m-92 32h0m7-8h0m28 0h0m72-4h0m-111 52h0m9 7h0m-12 22h0m2-2h0m-37 22h0m4 10h0m18-5h0m10-7h0" stroke="#fff" stroke-width="23.8"/>
<path d="M2514 1041h0m-261 138h0m-145 111h0m18-5h0m10-7h0" class="r"/>
<path d="M2476 858h0m-30 63h0m-138 107h0m52 30h0m-100 30h0m-8 27h0m35-2h0m-26 27h0m-23 19h0m-57 24h0m-39 48h0m9 7h0m-12 22h0m2-2h0m-37 22h0" class="k"/>
<path d="M2226 1050h0m-16 66h0m-64 58h0m0 17h0m7-8h0" class="b"/>
<path d="M2859 634h0m-351 218h0m-33 18h0m-107 23h0m28 16h0m5 12h0m10 96h0m25 14h0m-175 19h0m0 20h0m-17 26h0m49-11h0m69 9h0m-82 13h0m-62 27h0m14 32h0m-106 12h0m146 0h0m-174 44h0m56 13h0m49-6h0m28-2h0m-87 23h0m-44 34h0m-23 31h0" stroke="#fff" stroke-width="23.8"/>
<path d="M2436 1031h0m-74 63h0m-90 84h0m-69 51h0m28-2h0m-154 88h0" class="r"/>
<path d="M2859 634h0m-351 218h0m-33 18h0m-79 39h0m5 12h0m10 96h0m-167 79h0m49-11h0m-13 22h0m-62 27h0m14 32h0m-78 69h0m-10 15h0m-44 34h0" class="k"/>
<path d="M2368 893h0m-107 157h0m0 20h0m-135 108h0m-28 44h0" class="b"/>
<path d="M2553 964h0m-215 33h0m95 40h0m71 14h0m-292 33h0m131 11h0m21-4h0m-138 28h0m35-3h0m16-9h0m9 4h0m102 1h0m-146 31h0m1-7h0m-45 34h0m-1 6h0m-72 45h0m35 0h0m6-9h0m-32 20h0m93 3h0m-76 24h0m19-4h0m-81 25h0m14-1h0" stroke="#fff" stroke-width="23.8"/>
<path d="M2553 964h0m-120 73h0m71 14h0m-140 40h0m24 21h0m-161 123h0m-76 24h0m19-4h0" class="r"/>
<path d="M2338 997h0m5 98h0m-117 24h0m35-3h0m16-9h0m9 4h0m-44 32h0m1-7h0m-45 34h0m-1 6h0m-37 45h0m6-9h0m-32 20h0m-31 47h0" class="k"/>
<path d="M2212 1084h0m-87 137h0m-36 59h0" class="b"/>
<path d="M2513 903h0m-217 103h0m186-14h0m-145 58h0m27-8h0m58 5h0m-200 55h0m59 1h0m-78 41h0m-70 9h0m45 10h0m4 11h0m81-12h0m-61 34h0m-59 10h0m41 12h0m-66 29h0m17-16h0m8 8h0m1 7h0m-61 4h0m56 3h0m9 5h0m-58 31h0m14-10h0" stroke="#fff" stroke-width="23.8"/>
<path d="M2482 992h0m-60 55h0m-159 115h0m-115 96h0" class="r"/>
<path d="M2513 903h0m-176 147h0m27-8h0m-83 61h0m-78 41h0m-21 30h0m20 22h0m-18 22h0m-66 29h0m17-16h0m8 8h0m1 7h0m-5 7h0m-49 36h0m14-10h0" class="k"/>
<path d="M2296 1006h0m-74 96h0m-89 51h0m45 10h0m-35 43h0m-60 44h0" class="b"/>
<path d="M2541 808h0m-62 66h0m-109 68h0m-23 24h0m114 7h0m-204 13h0m201 13h0m-62 22h0m-39 56h0m130-8h0m-422 57h0m138 19h0m25-9h0m87 9h0m-103 9h0m38 16h0m-104 27h0m21-8h0m65-10h0m-115 39h0m54 0h0m10-10h0m19-5h0m-89 52h0m-12 20h0" stroke="#fff" stroke-width="23.8"/>
<path d="M2487 1069h0m-172 76h0" class="r"/>
<path d="M2541 808h0m-62 66h0m-109 68h0m91 31h0m-3 26h0m-62 22h0m-39 56h0m-154 68h0m25-9h0m-16 18h0m38 16h0m-83 19h0m65-10h0m-61 39h0m10-10h0m19-5h0m-89 52h0m-12 20h0" class="k"/>
<path d="M2347 966h0m-90 20h0m-192 140h0m81 71h0m-29 21h0" class="b"/>
<path d="M2463 886h0m-26 19h0m92 37h0m-178 26h0m-7 31h0m-131 22h0m72 26h0m-28 31h0m-95 24h0m145-22h0m30 4h0m-56 39h0m-68 10h0m-28 31h0m3 11h0m-14 13h0m7 0h0m11 4h0m26 2h0m21-4h0m24-6h0m-107 21h0m29 7h0m-45 20h0m-25 24h0" stroke="#fff" stroke-width="23.8"/>
<path d="M2239 1190h0m24-6h0" class="r"/>
<path d="M2463 886h0m-26 19h0m92 37h0m-178 26h0m-7 31h0m-59 48h0m-28 31h0m50 2h0m30 4h0m-56 39h0m-68 10h0m-28 31h0m3 11h0m-14 13h0m7 0h0m11 4h0m26 2h0m-62 11h0m29 7h0m-45 20h0m-25 24h0" class="k"/>
<path d="M2213 1021h0m-51 81h0" class="b"/>
<path d="M2569 801h0m-53 91h0m29 49h0m-181 64h0m66-4h0m-185 36h0m97 19h0m104 9h0m-143 37h0m19-18h0m-46 39h0m1-8h0m-28 34h0m-37 9h0m14 33h0m-78 28h0m6 4h0m18-22h0m-88 41h0m60-10h0m-25 17h0m5 5h0m8 14h0m-46 26h0m-16 20h0" stroke="#fff" stroke-width="23.8"/>
<path d="M2545 941h0m-99 124h0" class="r"/>
<path d="M2569 801h0m-53 91h0m-152 113h0m66-4h0m-88 55h0m-39 46h0m19-18h0m-46 39h0m1-8h0m-28 34h0m-37 9h0m14 33h0m-78 28h0m6 4h0m18-22h0m-28 31h0m-25 17h0m5 5h0m8 14h0m-46 26h0m-16 20h0" class="k"/>
<path d="M2245 1037h0m-161 205h0" class="b"/>
<path d="M2709 579h0m-228 312h0m-145 44h0m110 10h0m68 5h0m-190 62h0m214 37h0m-232 40h0m-54 39h0m-79 34h0m50 0h0m12-6h0m45 2h0m-116 35h0m-8 10h0m64 6h0m-120 19h0m65 3h0m-52 24h0m4 14h0m-47 18h0m19-2h0m15-10h0m2-2h0m9 1h0" stroke="#fff" stroke-width="23.8"/>
<path d="M2538 1049h0m-258 109h0m-60 51h0" class="r"/>
<path d="M2709 579h0m-228 312h0m-35 54h0m68 5h0m-190 62h0m-18 77h0m-54 39h0m-29 34h0m12-6h0m-71 37h0m-8 10h0m9 28h0m-52 24h0m4 14h0m-28 16h0m15-10h0m2-2h0m9 1h0" class="k"/>
<path d="M2336 935h0m-163 227h0m-73 66h0m-30 59h0" class="b"/>
<path d="M2632 786h0m-18 13h0m-267 139h0m21 24h0m153 22h0m-70 17h0m-50 18h0m-57 61h0m-85 10h0m-52 22h0m26 9h0m58-11h0m-136 22h0m51 8h0m45 11h0m51-13h0m-70 24h0m-59 27h0m53-6h0m-11 26h0m-112 47h0m3 15h0m8-9h0m20-5h0m11-8h0" stroke="#fff" stroke-width="23.8"/>
<path d="M2521 984h0m-219 154h0m-87 71h0" class="r"/>
<path d="M2632 786h0m-18 13h0m-246 163h0m83 39h0m-50 18h0m-57 61h0m-85 10h0m-26 31h0m58-11h0m-85 30h0m45 11h0m-19 11h0m-59 27h0m53-6h0m-120 88h0m8-9h0m20-5h0m11-8h0" class="k"/>
<path d="M2347 938h0m-140 174h0m-52 20h0m-52 124h0" class="b"/>
<path d="M2622 863h0m-102 46h0m-86 29h0m-157 44h0m148-11h0m36 13h0m-149 16h0m-24 49h0m179 22h0m-240 47h0m10-11h0m52 15h0m93 8h0m-170 31h0m-39 30h0m6-13h0m7 8h0m-78 24h0m4 3h0m71 6h0m-91 14h0m20 27h0m-15 13h0m21 14h0m-36 16h0" stroke="#fff" stroke-width="23.8"/>
<path d="M2467 1071h0m-85 59h0m-264 157h0" class="r"/>
<path d="M2622 863h0m-102 46h0m-86 29h0m-9 33h0m36 13h0m-173 65h0m-61 69h0m10-11h0m52 15h0m-77 39h0m-39 30h0m6-13h0m7 8h0m-3 33h0m-71 41h0m-15 13h0m-15 30h0" class="k"/>
<path d="M2277 982h0m35 18h0m-204 210h0m4 3h0m-20 20h0" class="b"/>
<path d="M2367 937h0m228 4h0m-233 26h0m-4 24h0m-168 95h0m128 15h0m94-7h0m-113 35h0m-155 30h0m19-6h0m9 16h0m35-6h0m8-10h0m6 2h0m3-2h0m61 13h0m-124 28h0m34-6h0m4 8h0m-57 22h0m22 3h0m-56 4h0m44 22h0m-79 24h0m20 6h0" stroke="#fff" stroke-width="23.8"/>
<path d="M2595 941h0m-183 153h0m-127 72h0" class="r"/>
<path d="M2362 967h0m-4 24h0m-40 110h0m-19 28h0m-92 34h0m8-10h0m6 2h0m3-2h0m-63 41h0m34-6h0m4 8h0m-57 22h0m22 3h0m-12 26h0m-59 30h0" class="k"/>
<path d="M2367 937h0m-177 149h0m-46 73h0m19-6h0m9 16h0m-64 56h0m-35 46h0" class="b"/>
<path d="M2516 841h0m-43 42h0m2-8h0m193-2h0m-174 82h0m-114 26h0m15-11h0m-1 34h0m-33 15h0m-59 15h0m-36 41h0m66 4h0m124-15h0m-199 53h0m30-11h0m-38 32h0m101-6h0m-154 46h0m49 18h0m-81 14h0m14 12h0m3 2h0m-92 48h0m16-17h0m-29 49h0" stroke="#fff" stroke-width="23.8"/>
<path d="M2668 873h0m-212 191h0m-106 68h0m-105 64h0" class="r"/>
<path d="M2516 841h0m-43 42h0m2-8h0m19 80h0m-114 26h0m15-11h0m-1 34h0m-33 15h0m-59 15h0m-36 41h0m66 4h0m-75 38h0m30-11h0m-38 32h0m-53 40h0m-32 32h0m14 12h0m3 2h0m-105 80h0" class="k"/>
<path d="M2089 1272h0m16-17h0" class="b"/>
<path d="M2380 853h0m280 35h0m-85 4h0m9 107h0m-180 22h0m73-6h0m-291 50h0m95 12h0m-28 22h0m-101 26h0m84 2h0m-27 22h0m-47 45h0m55-6h0m-70 34h0m23-1h0m-60 24h0m27-8h0m1 1h0m32 3h0m67-11h0m-129 50h0m9-1h0m-35 28h0m12-9h0" stroke="#fff" stroke-width="23.8"/>
<path d="M2660 888h0m-76 111h0m-107 16h0m-307 226h0m67-11h0" class="r"/>
<path d="M2575 892h0m-171 129h0m-123 56h0m-28 22h0m-17 28h0m-27 22h0m-47 45h0m55-6h0m-70 34h0m23-1h0m-33 16h0m1 1h0m-30 42h0m9-1h0m-35 28h0m12-9h0" class="k"/>
<path d="M2380 853h0m-194 212h0m-34 60h0m-42 120h0" class="b"/>
<path d="M2552 862h0m-133 26h0m27 10h0m308 10h0m-326 38h0m40 19h0m61-1h0m-258 39h0m162-13h0m-177 81h0m33 0h0m55 11h0m-171 29h0m17 12h0m114-10h0m-62 30h0m20-2h0m-32 23h0m-86 16h0m45 5h0m-11 36h0m-46 8h0m43 7h0m-91 29h0m62-13h0" stroke="#fff" stroke-width="23.8"/>
<path d="M2754 908h0m-225 56h0m-354 272h0" class="r"/>
<path d="M2552 862h0m-133 26h0m27 10h0m-18 48h0m40 19h0m-35 25h0m-144 81h0m55 11h0m-40 31h0m-62 30h0m20-2h0m-32 23h0m-41 21h0m-11 36h0m-46 8h0m14 23h0" class="k"/>
<path d="M2271 1003h0m-15 68h0m-83 40h0m17 12h0m-46 57h0m-60 85h0" class="b"/>
<path d="M2724 847h0m-343 172h0m493 7h0m-561 24h0m9 13h0m13 6h0m101 12h0m-268 42h0m98-6h0m-49 32h0m0 20h0m2-1h0m26-7h0m-108 44h0m27 3h0m-7 19h0m10 12h0m7-13h0m9 15h0m-94 49h0m6-9h0m9 1h0m7 2h0m1-4h0m-27 18h0" stroke="#fff" stroke-width="23.8"/>
<path d="M2724 847h0m150 179h0m-438 55h0m-253 160h0" class="r"/>
<path d="M2381 1019h0m-68 31h0m9 13h0m13 6h0m-69 48h0m-49 32h0m0 20h0m2-1h0m26-7h0m-81 47h0m-7 19h0m10 12h0m7-13h0m-85 64h0m6-9h0m9 1h0m7 2h0m1-4h0m-27 18h0" class="k"/>
<path d="M2168 1123h0m-31 82h0" class="b"/>
<path d="M2569 847h0m-161 64h0m25-14h0m133-2h0m-111 124h0m-165 20h0m54 4h0m184 3h0m-139 11h0m9 15h0m-118 26h0m13-7h0m-26 19h0m-54 33h0m28-3h0m21-10h0m-99 31h0m6 32h0m30 5h0m-64 50h0m9-15h0m-70 27h0m26 12h0m31-16h0m-56 63h0" stroke="#fff" stroke-width="23.8"/>
<path d="M2455 1019h0m73 27h0m-130 26h0m-323 247h0" class="r"/>
<path d="M2569 847h0m-161 64h0m25-14h0m133-2h0m-276 144h0m54 4h0m45 14h0m-109 41h0m13-7h0m-26 19h0m-54 33h0m28-3h0m21-10h0m-93 63h0m30 5h0m-64 50h0m9-15h0m-44 39h0m31-16h0" class="k"/>
<path d="M2163 1161h0m-89 99h0" class="b"/>
<path d="M2870 614h0m-482 167h0m124 69h0m-166 77h0m273 49h0m-142 32h0m-180 23h0m77-3h0m212 0h0m-301 4h0m67 41h0m54 11h0m-174 35h0m120-14h0m-25 33h0m-163 57h0m2-2h0m3-5h0m9 8h0m8-17h0m-25 30h0m-15 31h0m14-7h0m-33 25h0m-49 23h0" stroke="#fff" stroke-width="23.8"/>
<path d="M2619 976h0m-142 32h0m109 20h0m-180 56h0m-54 21h0m-25 33h0" class="r"/>
<path d="M2870 614h0m-358 236h0m-215 181h0m77-3h0m-22 45h0m-120 46h0m-68 76h0m2-2h0m3-5h0m9 8h0m8-17h0m-25 30h0m-15 31h0m14-7h0m-33 25h0" class="k"/>
<path d="M2388 781h0m-42 146h0m-61 105h0m-207 249h0" class="b"/>
<path d="M2724 654h0m-173 183h0m-97 122h0m-39 12h0m15 0h0m-25 64h0m-124 29h0m112 13h0m-200 44h0m-39 28h0m95-4h0m11-13h0m-40 36h0m-96 32h0m71-14h0m-85 30h0m2 7h0m64-16h0m50-2h0m-57 25h0m34 13h0m-118 21h0m22 0h0m28-11h0m-49 45h0" stroke="#fff" stroke-width="23.8"/>
<path d="M2393 1077h0m-167 128h0m-23 38h0" class="r"/>
<path d="M2724 654h0m-173 183h0m-97 122h0m-39 12h0m15 0h0m-25 64h0m-124 29h0m-32 81h0m11-13h0m-40 36h0m-25 18h0m-19 21h0m-7 23h0m-62 34h0m28-11h0m-49 45h0" class="k"/>
<path d="M2193 1121h0m-39 28h0m-30 51h0m-14 16h0m2 7h0m-27 41h0" class="b"/>
<path d="M2696 829h0m-26 77h0m-383 34h0m74 52h0m28-7h0m196 70h0m-323 37h0m50-1h0m-113 58h0m9-6h0m42-8h0m74 35h0m-128 18h0m16 3h0m-65 24h0m11-8h0m20 1h0m-55 33h0m4 4h0m-9 6h0m1-2h0m12 10h0m-41 26h0m13-6h0m6 1h0" stroke="#fff" stroke-width="23.8"/>
<path d="M2696 829h0m-26 77h0m-85 149h0m-261 115h0" class="r"/>
<path d="M2361 992h0m28-7h0m-127 107h0m50-1h0m-113 58h0m9-6h0m42-8h0m-54 53h0m16 3h0m-65 24h0m11-8h0m20 1h0m-55 33h0m4 4h0m-9 6h0m1-2h0m12 10h0m-41 26h0m13-6h0m6 1h0" class="k"/>
<path d="M2287 940h0" class="b"/>
<path d="M2638 843h0m-211 25h0m95 35h0m-211 27h0m352 39h0m-402 59h0m-19 21h0m77-12h0m72 20h0m-131 49h0m26 9h0m-14 32h0m55-1h0m-84 21h0m55 4h0m-170 11h0m39 15h0m13-21h0m26 7h0m-64 36h0m24 5h0m-41 31h0m9 5h0m-54 32h0m9 3h0" stroke="#fff" stroke-width="23.8"/>
<path d="M2663 969h0m-336 177h0m-29 25h0" class="r"/>
<path d="M2638 843h0m-116 60h0m-203 134h0m72 20h0m-131 49h0m26 9h0m-14 32h0m-29 20h0m-76 30h0m13-21h0m26 7h0m-64 36h0m24 5h0m-41 31h0m9 5h0m-45 35h0" class="k"/>
<path d="M2427 868h0m-116 62h0m-50 98h0m-19 21h0m-114 133h0m-48 110h0" class="b"/>
<path d="M2628 835h0m0 33h0m-143 71h0m-156 73h0m0 38h0m-149 20h0m141 8h0m-37 18h0m-5 30h0m-95 23h0m98 1h0m-85 26h0m23-3h0m-56 20h0m7-5h0m-12 34h0m13-19h0m53 12h0m-143 33h0m84-15h0m-77 34h0m46-7h0m3-3h0m-58 29h0m-4 28h0" stroke="#fff" stroke-width="23.8"/>
<path d="M2628 868h0m-346 282h0m-57 65h0m-149 99h0" class="r"/>
<path d="M2628 835h0m-143 104h0m-156 73h0m0 38h0m-8 28h0m-37 18h0m-5 30h0m-82 50h0m23-3h0m-56 20h0m7-5h0m-12 34h0m13-19h0m-6 30h0m-31 27h0m3-3h0" class="k"/>
<path d="M2180 1070h0m4 79h0m-102 99h0m7 19h0m-9 19h0" class="b"/>
<path d="M2433 882h0m-36 13h0m219 14h0m-224 21h0m111 27h0m-201 59h0m58 9h0m-10 17h0m-86 34h0m37 18h0m54 14h0m-110 42h0m1-5h0m-35 10h0m25-3h0m81 6h0m-176 45h0m72 20h0m-75 1h0m11 1h0m-50 44h0m27-7h0m-36 21h0m6-1h0m-9 15h0" stroke="#fff" stroke-width="23.8"/>
<path d="M2616 909h0m-261 199h0m-38 50h0m-104 65h0" class="r"/>
<path d="M2433 882h0m-41 48h0m111 27h0m-143 68h0m-10 17h0m-86 34h0m37 18h0m-56 56h0m1-5h0m-35 10h0m25-3h0m-98 72h0m11 1h0m-50 44h0m27-7h0m-36 21h0m6-1h0m-9 15h0" class="k"/>
<path d="M2397 895h0m-95 121h0m-161 187h0" class="b"/>
<path d="M2394 832h0m183 72h0m75-12h0m-74 70h0m-201 28h0m180-2h0m-177 27h0m-80 35h0m28 0h0m-113 12h0m-31 35h0m92 3h0m-3 44h0m17 3h0m-108 10h0m-16 36h0m20-14h0m16 1h0m-85 78h0m56-8h0m-96 43h0m19-7h0m3-13h0m-14 35h0m9-11h0" stroke="#fff" stroke-width="23.8"/>
<path d="M2652 892h0m-74 70h0m-21 26h0m-267 159h0m-117 103h0m-88 58h0" class="r"/>
<path d="M2577 904h0m-200 86h0m3 25h0m-80 35h0m28 0h0m-52 50h0m-3 44h0m-107 49h0m20-14h0m16 1h0m-85 78h0m-21 28h0m3-13h0m-5 24h0" class="k"/>
<path d="M2394 832h0m-179 230h0m-31 35h0m-2 60h0m-105 136h0" class="b"/>
<path d="M2530 779h0m50 140h0m-153 38h0m54-13h0m-216 63h0m41-1h0m268-6h0m-244 8h0m11 21h0m142 25h0m-193 13h0m11 37h0m-59 10h0m23 36h0m4-12h0m57-10h0m-166 40h0m46-8h0m65-5h0m-114 52h0m66-7h0m-89 30h0m-47 24h0m17 31h0m18-2h0" stroke="#fff" stroke-width="23.8"/>
<path d="M2580 919h0m-6 81h0m-91 54h0m-157 74h0m-103 72h0m-101 83h0" class="r"/>
<path d="M2530 779h0m-103 178h0m54-13h0m-151 64h0m11 21h0m-51 38h0m11 37h0m-59 10h0m23 36h0m4-12h0m-63 22h0m65-5h0m-114 52h0m-23 23h0m-30 55h0" class="k"/>
<path d="M2265 1007h0m41-1h0m-146 162h0m-73 86h0" class="b"/>
<path d="M2829 596h0m-315 242h0m-196 48h0m25 23h0m1 21h0m321-12h0m-290 20h0m103 17h0m-20 28h0m-93 43h0m-150 53h0m174-19h0m-133 35h0m77-10h0m-130 65h0m-9 19h0m12-6h0m55 8h0m10-15h0m-142 20h0m83 23h0m14-22h0m-93 63h0m17 9h0m-46 35h0" stroke="#fff" stroke-width="23.8"/>
<path d="M2665 918h0m-276 142h0m-128 111h0m10-15h0" class="r"/>
<path d="M2829 596h0m-315 242h0m-139 100h0m103 17h0m-20 28h0m-93 43h0m-109 69h0m77-10h0m-130 65h0m-9 19h0m12-6h0m6 36h0m14-22h0m-93 63h0m17 9h0m-46 35h0" class="k"/>
<path d="M2318 886h0m25 23h0m1 21h0m-129 149h0m-86 97h0" class="b"/>
<path d="M2644 865h0m-185 26h0m135 39h0m-172 46h0m-133 34h0m-4 32h0m28-9h0m203 5h0m-236 37h0m-19 19h0m40-3h0m39-5h0m-183 44h0m50 17h0m12 0h0m13-6h0m0-9h0m2 4h0m5 8h0m30 20h0m-37 24h0m-108 25h0m415 1h0m-461 60h0m9 17h0" stroke="#fff" stroke-width="23.8"/>
<path d="M2644 865h0m-50 65h0m-78 108h0m-247 126h0m-37 24h0m307 26h0" class="r"/>
<path d="M2459 891h0m-37 85h0m-109 57h0m-33 42h0m-19 19h0m40-3h0m39-5h0m-133 61h0m12 0h0m13-6h0m0-9h0m2 4h0m5 8h0m-152 147h0" class="k"/>
<path d="M2289 1010h0m-4 32h0m-128 88h0m-33 83h0m-46 61h0" class="b"/>
<path d="M2360 854h0m307-6h0m-248 58h0m95 15h0m-241 52h0m-36 67h0m17 38h0m20-6h0m6-2h0m199-5h0m-142 38h0m-23 16h0m-70 10h0m-54 37h0m7 7h0m36-18h0m27-3h0m-89 47h0m1-15h0m11 35h0m-35 7h0m9 0h0m-45 37h0m24-4h0m-19 28h0" stroke="#fff" stroke-width="23.8"/>
<path d="M2667 848h0m-188 217h0m-142 38h0m-220 184h0" class="r"/>
<path d="M2419 906h0m95 15h0m-240 151h0m6-2h0m34 49h0m-70 10h0m-54 37h0m7 7h0m36-18h0m27-3h0m-89 47h0m1-15h0m11 35h0m-35 7h0m9 0h0m-45 37h0m24-4h0" class="k"/>
<path d="M2360 854h0m-87 119h0m-36 67h0m17 38h0" class="b"/>
<path d="M2527 857h0m-110 44h0m155-7h0m-191 34h0m104-1h0m-199 48h0m106-14h0m-26 28h0m-32 31h0m204 10h0m-212 31h0m32-4h0m-179 69h0m64-21h0m-4 34h0m17-11h0m-87 27h0m32 6h0m8-2h0m2 11h0m-90 18h0m151 3h0m205-4h0m-356 58h0m48-3h0" stroke="#fff" stroke-width="23.8"/>
<path d="M2538 1030h0m-266 161h0m205-4h0m-308 55h0" class="r"/>
<path d="M2527 857h0m-110 44h0m155-7h0m-191 34h0m104-1h0m-93 34h0m-26 28h0m-32 31h0m-8 41h0m32-4h0m-115 48h0m-4 34h0m17-11h0m-55 33h0m8-2h0m2 11h0m-90 75h0" class="k"/>
<path d="M2286 975h0m-107 151h0m-10 29h0m-48 33h0" class="b"/>
<path d="M2714 732h0m-257 138h0m137 71h0m-81 22h0m27 15h0m-200 21h0m6 8h0m91 9h0m-97 19h0m-37 44h0m157-18h0m-204 48h0m33 12h0m41 1h0m-72 18h0m-57 33h0m49-1h0m-70 21h0m9-3h0m-17 17h0m-35 18h0m15 3h0m6 0h0m-49 28h0m-20 34h0" stroke="#fff" stroke-width="23.8"/>
<path d="M2594 941h0m-81 22h0m27 15h0m-80 83h0m-130 61h0" class="r"/>
<path d="M2714 732h0m-257 138h0m-117 129h0m6 8h0m91 9h0m-97 19h0m-37 44h0m-47 30h0m33 12h0m-31 19h0m-57 33h0m49-1h0m-70 21h0m9-3h0m-17 17h0m-35 18h0m15 3h0m6 0h0m-69 62h0" class="k"/>
<path d="M2109 1256h0" class="b"/>
<path d="M2398 905h0m0 7h0m98 14h0m44-7h0m-114 18h0m28 30h0m-140 84h0m93-9h0m-172 32h0m143 5h0m-130 20h0m34 2h0m-46 21h0m10 42h0m-106 55h0m40 3h0m-68 14h0m25-2h0m34 0h0m0-6h0m-86 33h0m18 5h0m8-12h0m9 1h0m-18 23h0" stroke="#fff" stroke-width="23.8"/>
<path d="M2378 1079h0" class="r"/>
<path d="M2398 905h0m0 7h0m98 14h0m44-7h0m-114 18h0m28 30h0m-140 84h0m93-9h0m-159 57h0m34 2h0m-46 21h0m10 42h0m-106 55h0m40 3h0m-43 12h0m34 0h0m0-6h0m-68 38h0m17-11h0m-18 23h0" class="k"/>
<path d="M2235 1074h0m-123 162h0m-27 25h0m26-7h0" class="b"/>
<path d="M2604 858h0m-124 23h0m-121 9h0m83 14h0m-37 20h0m4 30h0m149 17h0m-300 13h0m179 22h0m-136 22h0m10 5h0m46 16h0m-130 25h0m247-10h0m-248 70h0m-5 34h0m11 4h0m-70 19h0m23 0h0m13-4h0m17-3h0m-111 87h0m4-7h0m11 0h0m-27 30h0" stroke="#fff" stroke-width="23.8"/>
<path d="M2558 971h0m-84 93h0" class="r"/>
<path d="M2604 858h0m-124 23h0m-38 23h0m-37 20h0m4 30h0m28 52h0m-136 22h0m10 5h0m46 16h0m-131 85h0m-5 34h0m11 4h0m-47 19h0m13-4h0m17-3h0m-111 87h0m4-7h0m11 0h0m-27 30h0" class="k"/>
<path d="M2359 890h0m-101 94h0m-31 90h0m-65 117h0" class="b"/>
<path d="M2535 908h0m-92 9h0m-77 23h0m67 32h0m69 13h0m-95 39h0m126 2h0m-305 9h0m18 61h0m1 2h0m55-7h0m137 6h0m-279 22h0m17-1h0m139 8h0m34-19h0m-200 37h0m123 29h0m-90 49h0m2-18h0m-15 22h0m-56 31h0m16 10h0m-38 23h0m10-14h0" stroke="#fff" stroke-width="23.8"/>
<path d="M2502 985h0m31 41h0m-94 71h0m-123 29h0m34-19h0m-77 66h0" class="r"/>
<path d="M2535 908h0m-92 9h0m-10 55h0m-26 52h0m-161 72h0m1 2h0m55-7h0m-119 131h0m2-18h0m-15 22h0m-56 31h0m16 10h0m-38 23h0m10-14h0" class="k"/>
<path d="M2366 940h0m-138 95h0m-68 84h0m17-1h0m-27 26h0" class="b"/>
<path d="M2477 856h0m-17 47h0m39-5h0m117 43h0m-56 50h0m-179 58h0m-90 29h0m-59 8h0m44 14h0m2-1h0m107-14h0m-221 35h0m105 7h0m229 0h0m-283 14h0m2 10h0m4 0h0m92-17h0m-175 38h0m45 6h0m25 6h0m-111 54h0m17 17h0m-33 17h0m18 7h0" stroke="#fff" stroke-width="23.8"/>
<path d="M2616 941h0m-56 50h0m-175 94h0m113 42h0m-185 7h0" class="r"/>
<path d="M2477 856h0m-17 47h0m39-5h0m-118 151h0m-90 29h0m-15 22h0m2-1h0m-9 28h0m-54 14h0m2 10h0m4 0h0m-38 27h0m25 6h0m-94 71h0m-15 24h0" class="k"/>
<path d="M2232 1086h0m-68 34h0m-26 52h0m-41 66h0m-16 34h0" class="b"/>
<path d="M2791 664h0m-314 182h0m-45 19h0m110 142h0m-146 2h0m-52 30h0m0 9h0m26 1h0m-128 10h0m-91 66h0m137-19h0m23 39h0m-103 13h0m-46 41h0m20-1h0m6-15h0m60 4h0m-108 36h0m20-22h0m6 10h0m35 1h0m-64 13h0m8 30h0m-61 40h0m10-9h0" stroke="#fff" stroke-width="23.8"/>
<path d="M2542 1007h0m-231 138h0m-63 42h0" class="r"/>
<path d="M2791 664h0m-314 182h0m-45 19h0m-36 144h0m-52 30h0m0 9h0m26 1h0m-82 57h0m-80 52h0m-46 41h0m20-1h0m6-15h0m-48 40h0m20-22h0m6 10h0m35 1h0m-64 13h0m8 30h0m-61 40h0m10-9h0" class="k"/>
<path d="M2242 1059h0m-91 66h0" class="b"/>
<path d="M2612 762h0m92-4h0m-172 73h0m-83 96h0m-15 24h0m19 20h0m33 29h0m-177 102h0m16-14h0m-96 32h0m6-11h0m43 19h0m23-20h0m6-4h0m8 3h0m-106 34h0m103-3h0m-116 14h0m5 23h0m5-18h0m-11 20h0m74 28h0m-152 47h0m17 8h0m-34 30h0" stroke="#fff" stroke-width="23.8"/>
<path d="M2486 1000h0m-174 138h0m-43 67h0" class="r"/>
<path d="M2612 762h0m92-4h0m-172 73h0m-83 96h0m-15 24h0m19 20h0m-144 131h0m16-14h0m-96 32h0m6-11h0m43 19h0m23-20h0m6-4h0m8 3h0m-106 34h0m-13 11h0m5 23h0m5-18h0m-11 20h0m-78 75h0m17 8h0m-34 30h0" class="k"/>
<path d="M2741 710h0m-228 65h0m80 45h0m-153 23h0m88 77h0m-191 24h0m283 7h0m-75 52h0m-311 29h0m85 77h0m-97 23h0m22 19h0m-38 11h0m3 2h0m-49 31h0m29-19h0m5 17h0m17 7h0m1-10h0m1 3h0m-64 31h0m34-3h0m23-10h0m-89 37h0m-12 34h0" stroke="#fff" stroke-width="23.8"/>
<path d="M2620 951h0m-75 52h0m-339 208h0" class="r"/>
<path d="M2741 710h0m-228 65h0m80 45h0m-65 100h0m-209 189h0m-97 23h0m22 19h0m-38 11h0m3 2h0m-49 31h0m29-19h0m5 17h0m17 7h0m1-10h0m1 3h0m-64 31h0m34-3h0m-66 27h0m-12 34h0" class="k"/>
<path d="M2440 843h0m-103 101h0m-103 88h0" class="b"/>
<path d="M2402 840h0m135 58h0m-225 118h0m57 11h0m6-7h0m70 8h0m-239 45h0m-45 24h0m12 6h0m84-21h0m31 11h0m-77 50h0m-26 23h0m1 5h0m35-1h0m-83 15h0m24 10h0m5 1h0m33-15h0m-21 25h0m-66 64h0m9-22h0m1 13h0m8-9h0m8 16h0" stroke="#fff" stroke-width="23.8"/>
<path d="M2445 1028h0m-306 240h0" class="r"/>
<path d="M2537 898h0m-225 118h0m57 11h0m6-7h0m-118 62h0m31 11h0m-77 50h0m-26 23h0m1 5h0m35-1h0m-59 25h0m5 1h0m33-15h0m-21 25h0m-66 64h0m9-22h0m1 13h0m8-9h0" class="k"/>
<path d="M2402 840h0m-196 233h0m-45 24h0m12 6h0m-35 82h0" class="b"/>
<path d="M2565 855h0m22 26h0m-381 28h0m173-18h0m-113 32h0m233-1h0m78 81h0m-292 8h0m21 17h0m47-14h0m210 0h0m-248 39h0m-18 17h0m-96 56h0m114-7h0m-110 28h0m39 3h0m12-18h0m10 11h0m-13 15h0m-69 28h0m6 12h0m-19 32h0m-61 46h0m4 18h0" stroke="#fff" stroke-width="23.8"/>
<path d="M2577 1003h0m-14 11h0m-449 280h0" class="r"/>
<path d="M2565 855h0m22 26h0m-88 41h0m-193 106h0m47-14h0m-38 39h0m-18 17h0m18 49h0m-110 28h0m39 3h0m12-18h0m10 11h0m-13 15h0m-69 28h0m6 12h0m-19 32h0m-61 46h0" class="k"/>
<path d="M2206 909h0m173-18h0m-113 32h0m19 88h0m-84 115h0" class="b"/>
<path d="M2427 943h0m11 16h0m21-19h0m36 33h0m-160 24h0m7-12h0m105 55h0m-34 29h0m-139 28h0m-52 44h0m82-11h0m-133 43h0m47-8h0m-61 16h0m20 3h0m21-7h0m37 5h0m-108 21h0m104 6h0m-87 27h0m7-2h0m-57 24h0m40-3h0m21-5h0m12 7h0" stroke="#fff" stroke-width="23.8"/>
<path d="M2447 1040h0m-34 29h0m-109 61h0m-73 79h0m-76 41h0m12 7h0" class="r"/>
<path d="M2427 943h0m11 16h0m21-19h0m36 33h0m-160 24h0m7-12h0m-68 112h0m-52 44h0m-4 24h0m-41 19h0m21-7h0m37 5h0m-91 54h0m7-2h0m-17 21h0" class="k"/>
<path d="M2171 1173h0m-14 8h0m-30 22h0m-33 55h0" class="b"/>
<path d="M2543 858h0m-292 71h0m180 28h0m-133 8h0m-7 87h0m184 5h0m-297 38h0m21-2h0m49 21h0m93 11h0m-150 22h0m-2 25h0m28-19h0m6 19h0m-75 19h0m37-5h0m-36 25h0m5-7h0m23 19h0m-34 11h0m4 2h0m37-10h0m-79 37h0m11 9h0m31-15h0" stroke="#fff" stroke-width="23.8"/>
<path d="M2475 1057h0m-134 68h0m-194 132h0" class="r"/>
<path d="M2543 858h0m-112 99h0m-140 95h0m-43 62h0m-59 58h0m28-19h0m6 19h0m-38 14h0m-36 25h0m5-7h0m23 19h0m-34 11h0m4 2h0m37-10h0m-79 37h0m11 9h0" class="k"/>
<path d="M2251 929h0m47 36h0m-120 130h0m21-2h0m-8 54h0m-43 44h0" class="b"/>
<path d="M2602 804h0m-192 72h0m-4 14h0m47 21h0m-3 48h0m55-17h0m-64 58h0m13-12h0m-84 29h0m-101 47h0m-18 53h0m57-7h0m-162 27h0m37 19h0m46 20h0m-53 18h0m38-9h0m-108 19h0m86 13h0m12 0h0m-80 28h0m14-19h0m5 1h0m6 12h0m-52 37h0" stroke="#fff" stroke-width="23.8"/>
<path d="M2204 1217h0" class="r"/>
<path d="M2602 804h0m-149 107h0m-3 48h0m55-17h0m-64 58h0m13-12h0m-84 29h0m-101 47h0m-18 53h0m57-7h0m-79 66h0m-53 18h0m38-9h0m-22 32h0m-68 28h0m14-19h0m5 1h0m6 12h0m-52 37h0" class="k"/>
<path d="M2410 876h0m-4 14h0m-260 247h0m37 19h0m-77 48h0" class="b"/>
<path d="M2679 857h0m-271 51h0m216 3h0m-188 43h0m-209 93h0m34-14h0m19 16h0m46 5h0m147-3h0m-126 23h0m-101 24h0m148-14h0m-166 56h0m48-11h0m20 15h0m39-1h0m-202 25h0m60-10h0m12 6h0m34 3h0m-98 25h0m-24 56h0m16-18h0m-34 20h0m42 9h0" stroke="#fff" stroke-width="23.8"/>
<path d="M2679 857h0m-55 54h0m-151 140h0m-79 33h0m-98 60h0m39-1h0" class="r"/>
<path d="M2408 908h0m28 46h0m-156 95h0m46 5h0m21 20h0m-101 24h0m-18 42h0m48-11h0m-83 29h0m12 6h0m34 3h0m-122 81h0m16-18h0m8 29h0" class="k"/>
<path d="M2227 1047h0m34-14h0m-128 135h0m8 24h0m-42 58h0" class="b"/>
<path d="M2491 848h0m13 91h0m-292 36h0m43 22h0m146-10h0m56 19h0m-55 6h0m97 6h0m38-7h0m-62 66h0m-260 8h0m60 32h0m6 10h0m44-9h0m-78 24h0m-60 22h0m23-7h0m16 12h0m2-1h0m10-10h0m37 18h0m-71 22h0m5-10h0m-88 95h0m-50 33h0" stroke="#fff" stroke-width="23.8"/>
<path d="M2457 1006h0m42 12h0m38-7h0m-62 66h0m-150 41h0m-50 58h0m-154 107h0" class="r"/>
<path d="M2491 848h0m13 91h0m-103 48h0m1 25h0m-127 105h0m6 10h0m-34 15h0m-60 22h0m23-7h0m16 12h0m2-1h0m10-10h0m-34 40h0m5-10h0m-138 128h0" class="k"/>
<path d="M2212 975h0m43 22h0m-40 88h0" class="b"/>
<path d="M2586 892h0m-179 44h0m174-22h0m-121 39h0m52-8h0m-151 22h0m-3 39h0m114-15h0m102 8h0m-220 78h0m-156 17h0m47 5h0m67-9h0m-35 26h0m38 8h0m-106 16h0m-15 21h0m45 19h0m-145 31h0m84-9h0m-40 40h0m0-14h0m-42 57h0m35-9h0m-52 38h0" stroke="#fff" stroke-width="23.8"/>
<path d="M2581 914h0m-7 85h0m-259 125h0m-184 152h0m-52 38h0" class="r"/>
<path d="M2586 892h0m-179 44h0m53 17h0m52-8h0m-151 22h0m-3 39h0m114-15h0m-118 86h0m-109 22h0m67-9h0m-35 26h0m-68 24h0m-15 21h0m45 19h0m-61 22h0m-40 40h0m0-14h0m-42 57h0" class="k"/>
<path d="M2198 1094h0m-104 117h0" class="b"/>
<path d="M2454 815h0m-63 51h0m-15 104h0m203 11h0m-351 17h0m114 15h0m-111 43h0m103-15h0m-131 58h0m101-4h0m13 1h0m-75 78h0m9-20h0m-78 28h0m7 17h0m5-8h0m92 3h0m-125 24h0m117-13h0m-131 26h0m6 12h0m-16 7h0m32-1h0m0 10h0m35-6h0" stroke="#fff" stroke-width="23.8"/>
<path d="M2579 981h0m-302 213h0m-8 11h0m-109 44h0m0 10h0m35-6h0" class="r"/>
<path d="M2376 970h0m-34 43h0m-8 28h0m-30 54h0m13 1h0m-75 78h0m9-20h0m-78 28h0m7 17h0m5-8h0m-33 27h0m-14 13h0m6 12h0m-16 7h0" class="k"/>
<path d="M2454 815h0m-63 51h0m-163 132h0m3 58h0m-28 43h0" class="b"/>
<path d="M2492 764h0m-71 75h0m27 6h0m-143 63h0m114-19h0m164 51h0m-229 34h0m253 0h0m-286 49h0m-46 37h0m-81 87h0m7 4h0m9-1h0m23-3h0m-96 27h0m35-12h0m-48 26h0m53-1h0m19-2h0m-49 32h0m41-7h0m3 13h0m20-18h0m22-3h0m-145 52h0" stroke="#fff" stroke-width="23.8"/>
<path d="M2583 940h0m24 34h0m-416 249h0m20-18h0m22-3h0" class="r"/>
<path d="M2448 845h0m-29 44h0m-65 85h0m-33 49h0m-46 37h0m-74 91h0m9-1h0m23-3h0m-56 40h0m19-2h0m-49 32h0m41-7h0" class="k"/>
<path d="M2492 764h0m-71 75h0m-116 69h0m-111 239h0m-57 27h0m35-12h0m-48 26h0m-36 66h0" class="b"/>
<path d="M2579 686h0m324 50h0m-332 116h0m-120 37h0m-156 65h0m42 48h0m22 14h0m35 85h0m-151 40h0m51 23h0m-150 13h0m18 15h0m12 7h0m-31 17h0m17 4h0m4-15h0m9 10h0m-45 21h0m2 0h0m42 3h0m68-14h0m-153 41h0m36-8h0m10 2h0m-45 35h0" stroke="#fff" stroke-width="23.8"/>
<path d="M2903 736h0m-509 365h0m-100 63h0m-122 75h0m68-14h0" class="r"/>
<path d="M2579 686h0m-8 166h0m-120 37h0m-114 113h0m22 14h0m-116 125h0m-69 58h0m-14 21h0m4-15h0m9 10h0m-45 21h0m2 0h0m-7 22h0m10 2h0m-45 35h0" class="k"/>
<path d="M2295 954h0m-151 223h0m18 15h0m-19 24h0m-56 50h0" class="b"/>
<path d="M2673 903h0m-255 11h0m237 9h0m36 5h0m-386 15h0m121 34h0m140 26h0m-251 13h0m-64 42h0m21 0h0m49 19h0m16-20h0m142 10h0m-128 25h0m-120 12h0m3 17h0m3-9h0m18 36h0m23-17h0m-163 58h0m18 28h0m-5 29h0m38-14h0m-69 26h0m-5 26h0" stroke="#fff" stroke-width="23.8"/>
<path d="M2673 903h0m-18 20h0m36 5h0m-125 75h0m-87 64h0m-128 25h0" class="r"/>
<path d="M2418 914h0m8 63h0m-111 39h0m6 61h0m16-20h0m-103 64h0m3-9h0m18 36h0m23-17h0m-150 115h0m38-14h0m-74 52h0" class="k"/>
<path d="M2305 943h0m-54 115h0m21 0h0m-41 46h0m-116 85h0m18 28h0m-36 41h0" class="b"/>
<path d="M2583 872h0m126 17h0m-331 29h0m188 9h0m22-12h0m-216 40h0m71-6h0m-11 14h0m16 58h0m-43 25h0m6 28h0m-91 21h0m-108 13h0m-67 37h0m53 33h0m7 8h0m12-6h0m-6 42h0m-84 16h0m9-1h0m9 2h0m9 7h0m42-15h0m-75 22h0m-33 33h0" stroke="#fff" stroke-width="23.8"/>
<path d="M2709 889h0m-143 38h0m22-12h0m-140 106h0m-37 53h0m-200 148h0m-15 9h0" class="r"/>
<path d="M2583 872h0m-211 83h0m71-6h0m-11 14h0m-27 83h0m-85 49h0m-122 83h0m7 8h0m12-6h0m-90 58h0m9-1h0m9 2h0m9 7h0m-33 7h0m-33 33h0" class="k"/>
<path d="M2378 918h0m-166 190h0m-67 37h0" class="b"/>
<path d="M2364 903h0m43 65h0m3 7h0m-135 19h0m123 9h0m-185 23h0m58-1h0m100-17h0m-190 63h0m154-14h0m-46 33h0m-58 27h0m118-5h0m-196 64h0m67-19h0m1 6h0m35-4h0m-41 27h0m-58 22h0m26 1h0m7 6h0m-2 10h0m-73 43h0m-8 17h0m91-10h0" stroke="#fff" stroke-width="23.8"/>
<path d="M2349 1112h0m-161 113h0m10 50h0" class="r"/>
<path d="M2407 968h0m3 7h0m-12 28h0m-27 5h0m-36 49h0m-46 33h0m-58 27h0m-11 40h0m1 6h0m35-4h0m-41 27h0m-58 22h0m26 1h0m7 6h0m-75 53h0m-8 17h0" class="k"/>
<path d="M2364 903h0m-89 91h0m-62 32h0m58-1h0m-90 46h0m-28 105h0" class="b"/>
<path d="M2667 785h0m-175 91h0m29 7h0m107-3h0m-280 110h0m-65 52h0m-16 27h0m5-3h0m24 5h0m-28 15h0m-21 38h0m-63 4h0m28 42h0m39-7h0m-73 20h0m27-6h0m19 13h0m43-5h0m-98 26h0m38-7h0m29-3h0m-68 31h0m-63 32h0m9 6h0m-2 9h0" stroke="#fff" stroke-width="23.8"/>
<path d="M2628 880h0m-361 305h0m-31 16h0" class="r"/>
<path d="M2667 785h0m-175 91h0m29 7h0m-173 107h0m-81 79h0m5-3h0m24 5h0m-28 15h0m-21 38h0m-35 46h0m39-7h0m-73 20h0m27-6h0m19 13h0m-55 21h0m38-7h0m-39 28h0m-63 32h0m9 6h0m-2 9h0" class="k"/>
<path d="M2283 1042h0m-99 86h0" class="b"/>
<path d="M2499 827h0m114 45h0m-236 55h0m27 55h0m-77 19h0m9 2h0m56-12h0m45 44h0m-179 27h0m-2 38h0m8 3h0m48-11h0m-167 48h0m83 16h0m-85 26h0m55 15h0m51-8h0m-137 32h0m63-17h0m51 0h0m-99 40h0m69-18h0m0 2h0m-116 33h0m35 21h0" stroke="#fff" stroke-width="23.8"/>
<path d="M2437 1035h0m-188 154h0m-23 15h0m-30 22h0m0 2h0" class="r"/>
<path d="M2499 827h0m114 45h0m-209 110h0m-77 19h0m9 2h0m56-12h0m-136 109h0m8 3h0m48-11h0m-84 64h0m-30 41h0m-23 7h0m-48 40h0m-12 38h0" class="k"/>
<path d="M2377 927h0m-119 135h0m-113 78h0m-2 42h0m-31 39h0m-32 40h0" class="b"/>
<path d="M2531 805h0m-66 83h0m52 52h0m-6 39h0m-217 16h0m130-7h0m-117 59h0m14 4h0m-62 70h0m-102 42h0m44 7h0m10-9h0m-28 36h0m-45 17h0m4 6h0m32 2h0m21-1h0m-97 22h0m48-5h0m11-12h0m3-2h0m18 4h0m-43 27h0m-63 19h0m5 32h0" stroke="#fff" stroke-width="23.8"/>
<path d="M2511 979h0m-316 242h0" class="r"/>
<path d="M2531 805h0m-66 83h0m52 52h0m-93 48h0m-117 59h0m14 4h0m-62 70h0m-58 49h0m10-9h0m-28 36h0m-41 23h0m32 2h0m-28 16h0m11-12h0m3-2h0m18 4h0m-43 27h0m-58 51h0" class="k"/>
<path d="M2294 995h0m-137 168h0m-19 51h0m-40 29h0m-26 31h0" class="b"/>
<path d="M2408 879h0m-102 26h0m65-5h0m108 33h0m-46 44h0m45 0h0m-281 84h0m36 1h0m8 31h0m32 17h0m-63 26h0m6-3h0m-18 20h0m8-1h0m-76 39h0m3 0h0m24-3h0m18-3h0m31 2h0m25 7h0m-113 54h0m42 14h0m10 5h0m-69 15h0m-24 30h0" stroke="#fff" stroke-width="23.8"/>
<path d="M2231 1194h0m-71 68h0m10 5h0" class="r"/>
<path d="M2479 933h0m-46 44h0m45 0h0m-205 133h0m-63 26h0m6-3h0m-18 20h0m8-1h0m-31 33h0m31 2h0m-88 61h0m-17 34h0m-24 30h0" class="k"/>
<path d="M2408 879h0m-102 26h0m65-5h0m-174 161h0m36 1h0m8 31h0m-111 98h0m3 0h0m24-3h0" class="b"/>
<path d="M2563 923h0m51 32h0m-323 32h0m100 48h0m-77 28h0m-145 32h0m125 9h0m11-22h0m7 18h0m-51 22h0m18 18h0m93 3h0m-173 29h0m17-4h0m23 1h0m27-17h0m266 4h0m-321 24h0m-50 42h0m38-9h0m12 14h0m-102 44h0m18-18h0m10 7h0m-59 56h0" stroke="#fff" stroke-width="23.8"/>
<path d="M2563 923h0m51 32h0m-242 188h0m160 13h0m-321 71h0m-133 89h0" class="r"/>
<path d="M2391 1035h0m-77 28h0m-20 41h0m11-22h0m7 18h0m-51 22h0m18 18h0m-80 32h0m17-4h0m23 1h0m27-17h0m-55 28h0m-50 42h0m38-9h0m-90 58h0m18-18h0m10 7h0" class="k"/>
<path d="M2291 987h0m-122 108h0" class="b"/>
<path d="M2451 843h0m121 16h0m93 11h0m-355 97h0m114-1h0m-113 81h0m21-11h0m-61 23h0m87-2h0m-101 38h0m14 4h0m-5 50h0m-142 25h0m33-13h0m29 14h0m35-19h0m-65 31h0m10 9h0m102-5h0m-35 10h0m-71 39h0m31 2h0m-103 23h0m25-4h0m29-11h0" stroke="#fff" stroke-width="23.8"/>
<path d="M2665 870h0m-397 321h0m-35 10h0m-40 41h0" class="r"/>
<path d="M2451 843h0m121 16h0m-148 107h0m-113 81h0m21-11h0m26 21h0m-101 38h0m14 4h0m-5 50h0m-80 26h0m35-19h0m-55 40h0m-4 44h0m-47 21h0m29-11h0" class="k"/>
<path d="M2310 967h0m-39 92h0m-147 115h0m33-13h0m-1 26h0m-66 78h0" class="b"/>
<path d="M2349 978h0m107 6h0m216-23h0m-230 36h0m7 52h0m-159 52h0m52-3h0m-69 8h0m-42 45h0m24-2h0m-79 22h0m48-13h0m2 17h0m29-14h0m-37 33h0m1 5h0m-45 24h0m-51 23h0m20-6h0m200-14h0m-270 35h0m60-11h0m-47 39h0m32-10h0m0-3h0" stroke="#fff" stroke-width="23.8"/>
<path d="M2672 961h0m-223 88h0m-230 150h0m124 27h0" class="r"/>
<path d="M2349 978h0m107 6h0m-14 13h0m-152 104h0m52-3h0m-69 8h0m-42 45h0m24-2h0m-31 9h0m2 17h0m29-14h0m-37 33h0m-44 29h0m-51 23h0m20-6h0m-10 10h0m-47 39h0m32-10h0m0-3h0" class="k"/>
<path d="M2176 1171h0m-103 90h0" class="b"/>
<path d="M2609 841h0m-35 42h0m-281 66h0m118-12h0m501 3h0m-564 27h0m-74 95h0m44 10h0m197-6h0m-306 49h0m23-3h0m35-2h0m-46 38h0m41 3h0m25-3h0m-93 18h0m7 4h0m160-18h0m-243 45h0m59-16h0m33 6h0m-136 70h0m-7 23h0m62 2h0m-57 25h0" stroke="#fff" stroke-width="23.8"/>
<path d="M2912 940h0m-397 126h0m-228 82h0m74 4h0m-232 130h0" class="r"/>
<path d="M2609 841h0m-35 42h0m-163 54h0m-63 30h0m-74 95h0m44 10h0m-86 40h0m35-2h0m-46 38h0m41 3h0m-68 15h0m7 4h0m-24 11h0m33 6h0m-138 120h0" class="k"/>
<path d="M2293 949h0m-84 166h0m-91 82h0m-44 60h0m-7 23h0" class="b"/>
<path d="M2401 966h0m10 36h0m-112 10h0m-26 62h0m19-18h0m-103 46h0m0-9h0m53 23h0m40 6h0m-37 15h0m66 2h0m-98 34h0m41-5h0m-84 16h0m15 13h0m-69 20h0m57 1h0m7 4h0m-81 16h0m31 4h0m15-12h0m7 17h0m-55 36h0m36-4h0m-58 25h0" stroke="#fff" stroke-width="23.8"/>
<path d="M2311 1139h0m-178 140h0" class="r"/>
<path d="M2401 966h0m10 36h0m-138 72h0m19-18h0m-50 60h0m40 6h0m-37 15h0m-32 36h0m41-5h0m-84 16h0m15 13h0m-12 21h0m7 4h0m-50 20h0m15-12h0m7 17h0m-55 36h0m-22 21h0" class="k"/>
<path d="M2299 1012h0m-110 90h0m0-9h0m-73 124h0m-17 21h0" class="b"/>
<path d="M2661 714h0m-70 66h0m-156 98h0m166 4h0m-177 42h0m185 2h0m-243 28h0m-45 22h0m84 56h0m120 29h0m-258 31h0m65 9h0m68-10h0m-154 40h0m3 5h0m-52 16h0m6 21h0m36 0h0m2 19h0m-60 20h0m-89 23h0m80-11h0m45 7h0m-141 48h0m42-5h0" stroke="#fff" stroke-width="23.8"/>
<path d="M2609 926h0m-84 135h0m-125 30h0m-159 101h0m-24 39h0" class="r"/>
<path d="M2661 714h0m-70 66h0m-156 98h0m166 4h0m-177 42h0m-58 30h0m39 78h0m-138 60h0m65 9h0m-86 30h0m3 5h0m-52 16h0m6 21h0m36 0h0m-58 39h0m-9 12h0m-54 50h0" class="k"/>
<path d="M2321 976h0m-229 259h0m-16 44h0" class="b"/>
<path d="M2427 905h0m82-9h0m-144 42h0m-69 36h0m138-1h0m-81 23h0m-106 51h0m6 8h0m69-4h0m6-13h0m24 7h0m33 2h0m-103 11h0m11-1h0m4 10h0m126 22h0m-207 17h0m-78 40h0m107-4h0m-5 30h0m-42 22h0m-15 21h0m-44 15h0m-67 30h0m2 9h0" stroke="#fff" stroke-width="23.8"/>
<path d="M2423 1089h0" class="r"/>
<path d="M2427 905h0m82-9h0m-75 77h0m-81 23h0m-31 55h0m6-13h0m24 7h0m33 2h0m-103 11h0m11-1h0m4 10h0m-52 75h0m-5 30h0m-42 22h0m-15 21h0m-44 15h0" class="k"/>
<path d="M2365 938h0m-69 36h0m-49 73h0m6 8h0m-37 51h0m-78 40h0m-66 114h0m2 9h0" class="b"/>
<path d="M2791 576h0m3 233h0m-225 62h0m-115 82h0m-80 36h0m99 8h0m-72 12h0m-72 32h0m181-3h0m-295 23h0m-21 39h0m119 20h0m-97 18h0m-21 28h0m104 8h0m27-12h0m-145 32h0m12 0h0m36-17h0m53 0h0m2 19h0m-155 38h0m-53 22h0m3 18h0m6 7h0" stroke="#fff" stroke-width="23.8"/>
<path d="M2794 809h0m-321 188h0m37 41h0m-211 136h0m27-12h0m-44 15h0m2 19h0" class="r"/>
<path d="M2791 576h0m-222 295h0m-115 82h0m-80 36h0m27 20h0m-72 32h0m-16 79h0m-97 18h0m-21 28h0m-14 28h0m12 0h0m36-17h0m-100 57h0" class="k"/>
<path d="M2215 1061h0m-21 39h0m-118 156h0m3 18h0m6 7h0" class="b"/>
<path d="M2672 627h0m-48 113h0m120 125h0m-430 94h0m7 41h0m92 4h0m120 21h0m-199 10h0m-18 22h0m-154 42h0m85-19h0m79 21h0m147-7h0m-268 47h0m29 8h0m-78 6h0m14 2h0m119 20h0m-159 41h0m58 0h0m17-2h0m-61 15h0m-46 18h0m-16 43h0m29-10h0" stroke="#fff" stroke-width="23.8"/>
<path d="M2744 865h0m-211 160h0m-60 69h0m-184 83h0m-84 39h0" class="r"/>
<path d="M2672 627h0m-48 113h0m-303 260h0m92 4h0m-79 31h0m-18 22h0m10 44h0m-121 40h0m29 8h0m-46 69h0m-44 13h0m-62 61h0m29-10h0" class="k"/>
<path d="M2314 959h0m-152 140h0m85-19h0m-91 75h0m14 2h0m-40 61h0m-32 31h0" class="b"/>
<path d="M2411 919h0m130 10h0m-92 50h0m201 3h0m-287 16h0m-102 50h0m90 25h0m5-3h0m-122 15h0m-53 42h0m104-19h0m-137 49h0m104 0h0m14 2h0m-85 18h0m28 12h0m24-2h0m12-10h0m-100 39h0m5-7h0m-43 21h0m22 10h0m39-10h0m-42 26h0m-52 57h0" stroke="#fff" stroke-width="23.8"/>
<path d="M2650 982h0m-417 205h0m12-10h0" class="r"/>
<path d="M2411 919h0m130 10h0m-92 50h0m-86 19h0m-12 75h0m5-3h0m-71 38h0m-33 49h0m14 2h0m-85 18h0m28 12h0m-64 27h0m5-7h0m-21 31h0m39-10h0m-42 26h0m-52 57h0" class="k"/>
<path d="M2261 1048h0m-27 37h0m-53 42h0m-33 30h0m-41 73h0" class="b"/>
<path d="M2618 666h0m-3 140h0m-41 87h0m-237 45h0m39 39h0m40 10h0m9 1h0m172 9h0m-289 31h0m192 3h0m-186 26h0m-59 36h0m96-11h0m-130 44h0m21-21h0m38 7h0m-13 37h0m310 2h0m-370 9h0m7 30h0m-9 13h0m-62 52h0m1-1h0m-52 27h0m-2 19h0" stroke="#fff" stroke-width="23.8"/>
<path d="M2597 997h0m-97 34h0m77 120h0" class="r"/>
<path d="M2618 666h0m-3 140h0m-41 87h0m-198 84h0m40 10h0m9 1h0m-117 40h0m6 29h0m-59 36h0m96-11h0m-130 44h0m21-21h0m38 7h0m-13 37h0m-60 11h0m7 30h0m-9 13h0m-62 52h0m1-1h0m-52 27h0m-2 19h0" class="k"/>
<path d="M2337 938h0" class="b"/>
<path d="M2485 905h0m-126 100h0m96-3h0m135-18h0m-302 103h0m125-2h0m-237 33h0m106-13h0m-68 40h0m47 5h0m-94 7h0m40-1h0m13 4h0m-27 29h0m96 3h0m-112 16h0m-32 25h0m-43 34h0m1 0h0m26-10h0m2 4h0m7 7h0m10-18h0m-68 44h0m12-10h0" stroke="#fff" stroke-width="23.8"/>
<path d="M2590 984h0m-177 101h0m-124 107h0m-151 76h0" class="r"/>
<path d="M2485 905h0m-126 100h0m96-3h0m-167 85h0m-6 18h0m-68 40h0m47 5h0m-54 6h0m13 4h0m-27 29h0m-16 19h0m-32 25h0m-43 34h0m1 0h0m26-10h0m2 4h0m17-11h0m-68 44h0m12-10h0" class="k"/>
<path d="M2176 1118h0m-9 39h0" class="b"/>
<path d="M2471 885h0m-131 3h0m138 2h0m59 18h0m-97 18h0m60 0h0m-25 12h0m-40 25h0m283 11h0m-465 15h0m160-3h0m-165 87h0m51-14h0m38 30h0m-172 57h0m100-1h0m-68 22h0m40-4h0m43 7h0m-154 22h0m57-2h0m-72 35h0m43 13h0m83 21h0m-144 47h0" stroke="#fff" stroke-width="23.8"/>
<path d="M2718 974h0m-438 196h0m-43 89h0m-144 47h0" class="r"/>
<path d="M2471 885h0m7 5h0m59 18h0m-97 18h0m60 0h0m-25 12h0m-40 25h0m-22 23h0m-114 73h0m38 30h0m-72 56h0m-68 22h0m40-4h0m-54 27h0m-29 48h0" class="k"/>
<path d="M2340 888h0m-87 101h0m-5 84h0m-83 73h0m-39 46h0m-15 33h0" class="b"/>
<path d="M2529 841h0m-70 112h0m-157 24h0m9-6h0m96 9h0m-134 32h0m61 2h0m43 42h0m-118 20h0m17-13h0m60-3h0m-109 32h0m43-8h0m-17 46h0m-45 37h0m-53 27h0m25-6h0m33-9h0m-65 37h0m10-6h0m-31 29h0m13-3h0m3 1h0m-18 26h0m-44 33h0" stroke="#fff" stroke-width="23.8"/>
<path d="M2529 841h0m-70 112h0m-52 27h0m-73 34h0m43 42h0m-118 20h0m17-13h0m60-3h0m-66 24h0m-17 46h0m-45 37h0m-28 21h0m33-9h0m-65 37h0m10-6h0m-31 29h0m13-3h0m3 1h0m-18 26h0m-44 33h0" class="k"/>
<path d="M2302 977h0m9-6h0m-38 41h0m-46 80h0m-72 102h0" class="b"/>
<path d="M2739 800h0m-313 116h0m41 11h0m-31 52h0m-50 21h0m-216 50h0m25 49h0m180-14h0m-50 20h0m97 14h0m-227 9h0m19 5h0m5 6h0m-22 26h0m12-1h0m-34 14h0m38 0h0m60 6h0m-138 48h0m2-8h0m48 6h0m-79 52h0m2 10h0m2-9h0m-35 13h0" stroke="#fff" stroke-width="23.8"/>
<path d="M2739 800h0m-364 285h0m47 34h0m-149 65h0m-88 46h0m-77 62h0" class="r"/>
<path d="M2426 916h0m41 11h0m-31 52h0m-50 21h0m-61 105h0m-111 28h0m5 6h0m-22 26h0m12-1h0m-34 14h0m38 0h0m-78 54h0m2-8h0m-31 58h0m4 1h0" class="k"/>
<path d="M2170 1050h0m25 49h0m0 29h0m-120 168h0" class="b"/>
<path d="M3035 587h0m-381 256h0m-13 96h0m-304 35h0m34-2h0m36-3h0m35 0h0m-80 27h0m83 30h0m28-6h0m-171 80h0m29-12h0m-25 32h0m-93 21h0m47 7h0m4 24h0m-77 7h0m38-2h0m-81 34h0m76-8h0m26 6h0m-63 19h0m2 32h0m-101 28h0m30-4h0" stroke="#fff" stroke-width="23.8"/>
<path d="M3035 587h0m-381 256h0m-13 96h0m-196 87h0m28-6h0m-209 152h0m-44 31h0m26 6h0m-63 19h0m2 32h0m-71 24h0" class="r"/>
<path d="M2371 972h0m36-3h0m35 0h0m-80 27h0m-60 104h0m29-12h0m-25 32h0m-93 21h0m47 7h0m-73 31h0m38-2h0m-141 111h0" class="k"/>
<path d="M2337 974h0m-193 237h0" class="b"/>
<path d="M2772 760h0m-118 85h0m-232 131h0m3-13h0m397 2h0m-498 41h0m23-4h0m-133 95h0m125-11h0m-80 31h0m15-4h0m61-4h0m-179 37h0m55-1h0m52-3h0m64 21h0m-155 19h0m15 14h0m27 0h0m-83 41h0m-58 25h0m54-9h0m-34 35h0m3-15h0m-28 45h0" stroke="#fff" stroke-width="23.8"/>
<path d="M2772 760h0m-118 85h0m168 120h0m-487 144h0m-8 54h0" class="r"/>
<path d="M2422 976h0m3-13h0m-101 43h0m23-4h0m-8 84h0m-80 31h0m15-4h0m-63 32h0m52-3h0m-91 40h0m15 14h0m27 0h0m-83 41h0m-4 16h0m-34 35h0m3-15h0m-28 45h0" class="k"/>
<path d="M2214 1097h0m-58 49h0m-83 116h0" class="b"/>
<path d="M2429 880h0m360 60h0m-381 28h0m-61 32h0m7-14h0m327 6h0m-375 40h0m-58 20h0m46 3h0m17-20h0m-3 66h0m-45 3h0m260 7h0m-334 65h0m-18 23h0m43-15h0m10-7h0m-82 42h0m1-18h0m1 15h0m17 7h0m-52 11h0m8 14h0m13-21h0m-40 57h0" stroke="#fff" stroke-width="23.8"/>
<path d="M2789 940h0m-108 52h0m-158 119h0" class="r"/>
<path d="M2429 880h0m-21 88h0m-61 32h0m7-14h0m-48 46h0m-12 23h0m17-20h0m-3 66h0m-45 3h0m-74 72h0m-18 23h0m43-15h0m10-7h0m-82 42h0m2-3h0m17 7h0m-44 25h0m-27 36h0" class="k"/>
<path d="M2248 1052h0m-105 149h0m-34 33h0m21-7h0" class="b"/>
<path d="M2544 851h0m-278 111h0m188 12h0m182-14h0m-199 48h0m26 1h0m64 16h0m-251 78h0m99-8h0m-45 16h0m-62 24h0m33 7h0m8-6h0m-116 20h0m-17 43h0m6-4h0m37-7h0m5-1h0m-108 22h0m101 12h0m-18 8h0m-94 39h0m27-1h0m13-5h0m-56 20h0" stroke="#fff" stroke-width="23.8"/>
<path d="M2636 960h0m-173 49h0m64 16h0m-152 70h0m-45 16h0m-29 31h0m8-6h0m-92 85h0m-18 8h0m-54 33h0" class="r"/>
<path d="M2544 851h0m-90 123h0m-17 34h0m-161 95h0m-8 32h0m-75 21h0m-17 43h0m6-4h0m37-7h0m5-1h0m-119 81h0m27-1h0m-43 15h0" class="k"/>
<path d="M2266 962h0m-150 247h0" class="b"/>
<path d="M2550 889h0m28 20h0m-13 25h0m-115 20h0m134 3h0m99-10h0m-265 34h0m137-4h0m200-17h0m-232 65h0m351 0h0m-537 50h0m-78 25h0m62-3h0m-114 11h0m26 6h0m0 20h0m42-2h0m-51 31h0m-105 55h0m24 22h0m4 2h0m-109 18h0m51-7h0m-22 47h0" stroke="#fff" stroke-width="23.8"/>
<path d="M2578 909h0m-13 25h0m19 23h0m99-10h0m-128 30h0m200-17h0m-232 65h0m351 0h0" class="r"/>
<path d="M2550 889h0m-100 65h0m-32 27h0m-81 94h0m-78 25h0m62-3h0m-88 17h0m0 20h0m42-2h0m-51 31h0m-81 77h0m4 2h0" class="k"/>
<path d="M2207 1108h0m-88 110h0m-81 42h0m51-7h0m-22 47h0" class="b"/>
<path d="M2472 886h0m-111 7h0m128 73h0m-336 52h0m167 58h0m37 13h0m-140 56h0m26-3h0m-61 30h0m12-10h0m-24 37h0m8-5h0m4-14h0m7 18h0m18-4h0m-32 28h0m-26 3h0m55 20h0m-126 18h0m37-7h0m4-8h0m-41 27h0m22 13h0m3-15h0m-35 46h0" stroke="#fff" stroke-width="23.8"/>
<path d="M2357 1089h0m-153 156h0" class="r"/>
<path d="M2472 886h0m17 80h0m-169 110h0m-103 69h0m26-3h0m-61 30h0m12-10h0m-24 37h0m8-5h0m4-14h0m7 18h0m18-4h0m-32 28h0m-26 3h0m-34 31h0m4-8h0m-19 40h0m3-15h0m-35 46h0" class="k"/>
<path d="M2361 893h0m-208 125h0m-75 245h0m0 12h0" class="b"/>
<path d="M2553 869h0m-214 57h0m170 5h0m-145 18h0m-90 114h0m1 7h0m-36 11h0m96 4h0m-161 33h0m51 8h0m98-17h0m-73 19h0m98 9h0m-94 33h0m-56 19h0m65-6h0m-104 19h0m10 15h0m92-6h0m-125 45h0m10-1h0m28 4h0m-101 27h0m25 0h0m7-9h0" stroke="#fff" stroke-width="23.8"/>
<path d="M2348 1137h0m-94 33h0m9 13h0m-2 28h0m-87 48h0" class="r"/>
<path d="M2553 869h0m-44 62h0m-145 18h0m-90 114h0m1 7h0m60 15h0m-110 41h0m98-17h0m-73 19h0m-52 61h0m-39 13h0m10 15h0m-33 39h0m10-1h0m-48 31h0m7-9h0" class="k"/>
<path d="M2339 926h0m-100 155h0m-65 37h0m-101 168h0" class="b"/>
<path d="M2556 806h0m-17 27h0m-179 28h0m275-21h0m21 25h0m-254 137h0m-71 7h0m-29 30h0m31 20h0m-39 31h0m2-7h0m-140 66h0m-21 9h0m92 7h0m27-4h0m-85 27h0m6 9h0m-1 23h0m4-16h0m16 1h0m-33 33h0m6-7h0m-43 34h0m-38 9h0m19-1h0" stroke="#fff" stroke-width="23.8"/>
<path d="M2656 865h0" class="r"/>
<path d="M2556 806h0m-17 27h0m96 7h0m-233 162h0m-71 7h0m-29 30h0m31 20h0m-39 31h0m2-7h0m-69 82h0m27-4h0m-85 27h0m6 9h0m-1 23h0m4-16h0m16 1h0m-33 33h0m6-7h0m-43 34h0m-19 8h0" class="k"/>
<path d="M2360 861h0m-204 288h0m-21 9h0m-49 116h0" class="b"/>
<path d="M2618 647h0m-179 206h0m200 63h0m-357 35h0m114-11h0m-136 46h0m67 21h0m249 10h0m-200 23h0m115 9h0m-173 64h0m35 8h0m-117 29h0m17-7h0m9 9h0m-120 45h0m87 1h0m-38 25h0m-83 19h0m33-5h0m-25 18h0m-11 25h0m23-2h0m-53 39h0m4-18h0" stroke="#fff" stroke-width="23.8"/>
<path d="M2639 916h0m-63 101h0m-85 32h0m-138 72h0m-124 77h0m-38 25h0m-63 55h0m-53 39h0" class="r"/>
<path d="M2618 647h0m-222 293h0m-69 67h0m49 33h0m-58 73h0m-82 37h0m17-7h0m9 9h0m-121 85h0m-25 18h0m-11 25h0m-26 19h0" class="k"/>
<path d="M2439 853h0m-157 98h0m-22 35h0m-118 211h0m-34 45h0" class="b"/>
<path d="M2543 877h0m-156 46h0m56 10h0m170-7h0m-196 65h0m101 3h0m-187 41h0m-85 65h0m123-16h0m-194 30h0m51 4h0m31-11h0m16 7h0m-88 24h0m22 9h0m138 3h0m-224 20h0m37-4h0m78 52h0m-136 35h0m0 1h0m-10 28h0m8 10h0m18-13h0m-44 29h0" stroke="#fff" stroke-width="23.8"/>
<path d="M2613 926h0m-95 68h0m-149 90h0m-24 66h0m-109 68h0" class="r"/>
<path d="M2543 877h0m-156 46h0m56 10h0m-26 58h0m-86 44h0m-85 65h0m-20 18h0m31-11h0m16 7h0m-66 33h0m-117 135h0m8 10h0m18-13h0m-44 29h0" class="k"/>
<path d="M2175 1114h0m10 24h0m-64 32h0m37-4h0m-58 87h0m0 1h0" class="b"/>
<path d="M2319 949h0m398 24h0m-531 24h0m73-2h0m97 4h0m-13 73h0m10-2h0m-157 15h0m30 8h0m161 27h0m58-14h0m-270 29h0m53-4h0m28 30h0m21-8h0m-104 31h0m44 10h0m7-7h0m-126 30h0m78-9h0m34-6h0m-71 37h0m-33 38h0m1 5h0m-30 20h0" stroke="#fff" stroke-width="23.8"/>
<path d="M2717 973h0m-330 147h0m58-14h0m-168 47h0" class="r"/>
<path d="M2356 999h0m-13 73h0m10-2h0m-125 61h0m28 30h0m-83 23h0m44 10h0m7-7h0m-48 21h0m34-6h0m-71 37h0m-33 38h0m1 5h0m-30 20h0" class="k"/>
<path d="M2319 949h0m-133 48h0m73-2h0m-63 90h0m30 8h0m-51 42h0m-77 82h0" class="b"/>
<path d="M2493 910h0m62-16h0m-306 112h0m258-13h0m-251 60h0m41-12h0m105-4h0m-164 23h0m19 27h0m185-4h0m69 30h0m-374 28h0m56 1h0m51-2h0m-111 16h0m66 14h0m11-16h0m-87 40h0m44-3h0m27 6h0m-27 20h0m-66 16h0m-2 20h0m4 14h0m-24 33h0" stroke="#fff" stroke-width="23.8"/>
<path d="M2507 993h0m-65 90h0m69 30h0" class="r"/>
<path d="M2493 910h0m62-16h0m-258 147h0m105-4h0m-145 50h0m-13 53h0m-45 30h0m11-16h0m-43 37h0m27 6h0m-27 20h0m-64 50h0m-24 33h0" class="k"/>
<path d="M2249 1006h0m7 47h0m-18 7h0m-101 81h0m56 1h0m-60 14h0m-10 38h0m-22 39h0m-2 20h0" class="b"/>
<path d="M2458 736h0m71 87h0m75 59h0m-132 40h0m168-9h0m-302 100h0m24 12h0m85 7h0m-167 68h0m30-4h0m-62 24h0m-3 17h0m-59 28h0m-14 26h0m23-7h0m-17 32h0m22 0h0m1 2h0m4-9h0m-99 28h0m2 9h0m47-12h0m-36 47h0m15-8h0m-63 37h0" stroke="#fff" stroke-width="23.8"/>
<path d="M2640 913h0m-193 119h0m-247 184h0m1 2h0m-82 63h0m15-8h0" class="r"/>
<path d="M2529 823h0m75 59h0m-132 40h0m-134 91h0m24 12h0m-82 75h0m30-4h0m-62 24h0m-3 17h0m-59 28h0m-14 26h0m23-7h0m-17 32h0m27-7h0m-50 25h0m-84 76h0" class="k"/>
<path d="M2458 736h0m-352 501h0m2 9h0" class="b"/>
<path d="M2807 618h0m-298 255h0m-83 29h0m223 54h0m-374 35h0m185-7h0m42 0h0m-231 55h0m56 9h0m-34 23h0m-61 40h0m47 28h0m7 1h0m-65 23h0m27 2h0m-79 23h0m28-12h0m34 2h0m-89 39h0m3 6h0m43-18h0m13 6h0m-57 35h0m13-10h0m-11 21h0" stroke="#fff" stroke-width="23.8"/>
<path d="M2649 956h0m-147 28h0m-356 273h0" class="r"/>
<path d="M2807 618h0m-298 255h0m-83 29h0m34 82h0m-133 64h0m-34 23h0m-61 40h0m47 28h0m7 1h0m-65 23h0m27 2h0m-79 23h0m28-12h0m34 2h0m-89 39h0m3 6h0m43-18h0m13 6h0m-57 35h0m13-10h0" class="k"/>
<path d="M2275 991h0m-4 48h0" class="b"/>
<path d="M2449 801h0m240 91h0m-383 21h0m450 48h0m-496 40h0m32 1h0m48-9h0m-10 62h0m-58 23h0m35-11h0m3 5h0m-51 29h0m62 10h0m1 39h0m-137 23h0m3-4h0m8 2h0m26 1h0m-87 20h0m31-1h0m102 6h0m-164 23h0m97-13h0m-67 54h0m3 23h0" stroke="#fff" stroke-width="23.8"/>
<path d="M2689 892h0m67 69h0m-434 189h0m-54 47h0m-131 87h0" class="r"/>
<path d="M2340 993h0m-10 62h0m-58 23h0m35-11h0m3 5h0m-51 29h0m62 10h0m-136 62h0m3-4h0m8 2h0m26 1h0m-56 19h0m35 16h0m-67 54h0" class="k"/>
<path d="M2449 801h0m-143 112h0m-46 88h0m32 1h0m-157 190h0m-31 28h0" class="b"/>
<path d="M2599 837h0m-185 69h0m-84 198h0m-97 82h0m-87 53h0" stroke="#fff" stroke-width="23.8"/>
<path d="M2599 837h0m-185 69h0m-84 198h0m-97 82h0m-87 53h0" class="k"/></g>
<line x1="1018.00" y1="142.50" x2="1018.00" y2="673.80" stroke="#5f5f5f" stroke-width="1.6"/>
<line x1="1017.20" y1="673.00" x2="1540.80" y2="673.00" stroke="#5f5f5f" stroke-width="1.6"/>
<line x1="1018.00" y1="673.00" x2="1018.00" y2="679.00" stroke="#5f5f5f" stroke-width="1.6"/>
<line x1="1012.00" y1="673.00" x2="1018.00" y2="673.00" stroke="#5f5f5f" stroke-width="1.6"/>
<text x="1021.50" y="727.00" text-anchor="middle" class="tk">0</text>
<text x="1000.00" y="686.20" text-anchor="end" class="tk">0</text>
<line x1="1122.40" y1="673.00" x2="1122.40" y2="679.00" stroke="#5f5f5f" stroke-width="1.6"/>
<line x1="1012.00" y1="567.06" x2="1018.00" y2="567.06" stroke="#5f5f5f" stroke-width="1.6"/>
<text x="1125.90" y="727.00" text-anchor="middle" class="tk">200</text>
<text x="1000.00" y="580.26" text-anchor="end" class="tk">200</text>
<line x1="1226.80" y1="673.00" x2="1226.80" y2="679.00" stroke="#5f5f5f" stroke-width="1.6"/>
<line x1="1012.00" y1="461.12" x2="1018.00" y2="461.12" stroke="#5f5f5f" stroke-width="1.6"/>
<text x="1230.30" y="727.00" text-anchor="middle" class="tk">400</text>
<text x="1000.00" y="474.32" text-anchor="end" class="tk">400</text>
<line x1="1331.20" y1="673.00" x2="1331.20" y2="679.00" stroke="#5f5f5f" stroke-width="1.6"/>
<line x1="1012.00" y1="355.18" x2="1018.00" y2="355.18" stroke="#5f5f5f" stroke-width="1.6"/>
<text x="1334.70" y="727.00" text-anchor="middle" class="tk">600</text>
<text x="1000.00" y="368.38" text-anchor="end" class="tk">600</text>
<line x1="1435.60" y1="673.00" x2="1435.60" y2="679.00" stroke="#5f5f5f" stroke-width="1.6"/>
<line x1="1012.00" y1="249.24" x2="1018.00" y2="249.24" stroke="#5f5f5f" stroke-width="1.6"/>
<text x="1439.10" y="727.00" text-anchor="middle" class="tk">800</text>
<text x="1000.00" y="262.44" text-anchor="end" class="tk">800</text>
<line x1="1540.00" y1="673.00" x2="1540.00" y2="679.00" stroke="#5f5f5f" stroke-width="1.6"/>
<line x1="1012.00" y1="143.30" x2="1018.00" y2="143.30" stroke="#5f5f5f" stroke-width="1.6"/>
<text x="1543.50" y="727.00" text-anchor="middle" class="tk">1000</text>
<text x="1000.00" y="156.50" text-anchor="end" class="tk">1000</text>
<text x="1280.00" y="789.90" text-anchor="middle" class="lb" style="font-size:42.70px">Actual case time (min)</text>
<text transform="translate(890.00,404.30) rotate(-90)" x="0" y="0" text-anchor="middle" class="lb" style="font-size:43.00px">RVU-model-predicted case time (min)</text>
<path d="M211.30,1001.50 C212.42,1000.55 215.78,997.73 218.00,995.80 C220.22,993.87 222.68,991.82 224.60,989.90 C226.52,987.98 227.83,985.97 229.50,984.30 C231.17,982.63 232.68,981.28 234.60,979.90 C236.52,978.52 238.78,977.12 241.00,976.00 C243.22,974.88 245.23,973.57 247.90,973.20 C250.57,972.83 253.67,973.35 257.00,973.80 C260.33,974.25 263.90,975.12 267.90,975.90 C271.90,976.68 276.57,977.55 281.00,978.50 C285.43,979.45 289.83,980.38 294.50,981.60 C299.17,982.82 304.00,984.30 309.00,985.80 C314.00,987.30 320.00,989.13 324.50,990.60 C329.00,992.07 332.12,993.33 336.00,994.60 C339.88,995.87 344.47,997.27 347.80,998.20 C351.13,999.13 353.22,999.65 356.00,1000.20 C358.78,1000.75 360.33,1001.20 364.50,1001.50 C368.67,1001.80 375.45,1001.88 381.00,1002.00 C386.55,1002.12 391.63,1001.97 397.80,1002.20 C403.97,1002.43 411.35,1003.02 418.00,1003.40 C424.65,1003.78 427.37,1004.22 437.70,1004.50 C448.03,1004.78 430.78,1004.98 480.00,1005.10 C529.22,1005.22 690.83,1005.18 733.00,1005.20 L733.00,1005.20 L211.30,1005.20 Z" fill="#0000ff" fill-opacity="0.25" stroke="none"/>
<path d="M211.30,1001.50 C212.42,1000.55 215.78,997.73 218.00,995.80 C220.22,993.87 222.68,991.82 224.60,989.90 C226.52,987.98 227.83,985.97 229.50,984.30 C231.17,982.63 232.68,981.28 234.60,979.90 C236.52,978.52 238.78,977.12 241.00,976.00 C243.22,974.88 245.23,973.57 247.90,973.20 C250.57,972.83 253.67,973.35 257.00,973.80 C260.33,974.25 263.90,975.12 267.90,975.90 C271.90,976.68 276.57,977.55 281.00,978.50 C285.43,979.45 289.83,980.38 294.50,981.60 C299.17,982.82 304.00,984.30 309.00,985.80 C314.00,987.30 320.00,989.13 324.50,990.60 C329.00,992.07 332.12,993.33 336.00,994.60 C339.88,995.87 344.47,997.27 347.80,998.20 C351.13,999.13 353.22,999.65 356.00,1000.20 C358.78,1000.75 360.33,1001.20 364.50,1001.50 C368.67,1001.80 375.45,1001.88 381.00,1002.00 C386.55,1002.12 391.63,1001.97 397.80,1002.20 C403.97,1002.43 411.35,1003.02 418.00,1003.40 C424.65,1003.78 427.37,1004.22 437.70,1004.50 C448.03,1004.78 430.78,1004.98 480.00,1005.10 C529.22,1005.22 690.83,1005.18 733.00,1005.20" fill="none" stroke="#0000ff" stroke-width="1.5" stroke-linejoin="round"/>
<path d="M211.30,1004.90 C214.42,1004.42 223.90,1002.95 230.00,1002.00 C236.10,1001.05 242.23,1000.00 247.90,999.20 C253.57,998.40 258.45,997.82 264.00,997.20 C269.55,996.58 275.53,995.93 281.20,995.50 C286.87,995.07 292.45,994.82 298.00,994.60 C303.55,994.38 308.17,994.22 314.50,994.20 C320.83,994.18 328.78,994.33 336.00,994.50 C343.22,994.67 349.47,994.85 357.80,995.20 C366.13,995.55 376.57,996.15 386.00,996.60 C395.43,997.05 405.57,997.52 414.40,997.90 C423.23,998.28 430.68,998.57 439.00,998.90 C447.32,999.23 455.97,999.60 464.30,999.90 C472.63,1000.20 480.67,1000.43 489.00,1000.70 C497.33,1000.97 505.97,1001.22 514.30,1001.50 C522.63,1001.78 530.68,1002.12 539.00,1002.40 C547.32,1002.68 554.53,1002.97 564.20,1003.20 C573.87,1003.43 585.90,1003.63 597.00,1003.80 C608.10,1003.97 616.97,1004.05 630.80,1004.20 C644.63,1004.35 662.97,1004.57 680.00,1004.70 C697.03,1004.83 724.17,1004.95 733.00,1005.00 L733.00,1005.20 L211.30,1005.20 Z" fill="#ff0000" fill-opacity="0.25" stroke="none"/>
<path d="M211.30,1004.90 C214.42,1004.42 223.90,1002.95 230.00,1002.00 C236.10,1001.05 242.23,1000.00 247.90,999.20 C253.57,998.40 258.45,997.82 264.00,997.20 C269.55,996.58 275.53,995.93 281.20,995.50 C286.87,995.07 292.45,994.82 298.00,994.60 C303.55,994.38 308.17,994.22 314.50,994.20 C320.83,994.18 328.78,994.33 336.00,994.50 C343.22,994.67 349.47,994.85 357.80,995.20 C366.13,995.55 376.57,996.15 386.00,996.60 C395.43,997.05 405.57,997.52 414.40,997.90 C423.23,998.28 430.68,998.57 439.00,998.90 C447.32,999.23 455.97,999.60 464.30,999.90 C472.63,1000.20 480.67,1000.43 489.00,1000.70 C497.33,1000.97 505.97,1001.22 514.30,1001.50 C522.63,1001.78 530.68,1002.12 539.00,1002.40 C547.32,1002.68 554.53,1002.97 564.20,1003.20 C573.87,1003.43 585.90,1003.63 597.00,1003.80 C608.10,1003.97 616.97,1004.05 630.80,1004.20 C644.63,1004.35 662.97,1004.57 680.00,1004.70 C697.03,1004.83 724.17,1004.95 733.00,1005.00" fill="none" stroke="#ff0000" stroke-width="1.5" stroke-linejoin="round"/>
<path d="M211.30,1003.60 C212.25,1003.10 215.05,1001.78 217.00,1000.60 C218.95,999.42 221.17,998.35 223.00,996.50 C224.83,994.65 226.33,992.27 228.00,989.50 C229.67,986.73 231.25,983.32 233.00,979.90 C234.75,976.48 236.57,972.33 238.50,969.00 C240.43,965.67 242.35,963.23 244.60,959.90 C246.85,956.57 249.22,952.60 252.00,949.00 C254.78,945.40 258.47,941.05 261.30,938.30 C264.13,935.55 266.23,934.17 269.00,932.50 C271.77,930.83 275.07,929.82 277.90,928.30 C280.73,926.78 283.65,924.68 286.00,923.40 C288.35,922.12 289.92,921.35 292.00,920.60 C294.08,919.85 296.33,918.90 298.50,918.90 C300.67,918.90 302.88,919.62 305.00,920.60 C307.12,921.58 309.03,923.23 311.20,924.80 C313.37,926.37 315.78,928.03 318.00,930.00 C320.22,931.97 321.83,933.60 324.50,936.60 C327.17,939.60 330.67,944.12 334.00,948.00 C337.33,951.88 341.00,957.15 344.50,959.90 C348.00,962.65 351.12,963.10 355.00,964.50 C358.88,965.90 363.97,966.88 367.80,968.30 C371.63,969.72 374.67,971.35 378.00,973.00 C381.33,974.65 383.30,976.23 387.80,978.20 C392.30,980.17 398.90,982.73 405.00,984.80 C411.10,986.87 417.90,988.93 424.40,990.60 C430.90,992.27 437.35,993.48 444.00,994.80 C450.65,996.12 458.63,997.75 464.30,998.50 C469.97,999.25 473.55,999.18 478.00,999.30 C482.45,999.42 486.50,999.00 491.00,999.20 C495.50,999.40 500.00,999.95 505.00,1000.50 C510.00,1001.05 514.67,1001.98 521.00,1002.50 C527.33,1003.02 535.80,1003.32 543.00,1003.60 C550.20,1003.88 551.37,1003.97 564.20,1004.20 C577.03,1004.43 591.87,1004.83 620.00,1005.00 C648.13,1005.17 714.17,1005.17 733.00,1005.20 L733.00,1005.20 L211.30,1005.20 Z" fill="#000000" fill-opacity="0.25" stroke="none"/>
<path d="M211.30,1003.60 C212.25,1003.10 215.05,1001.78 217.00,1000.60 C218.95,999.42 221.17,998.35 223.00,996.50 C224.83,994.65 226.33,992.27 228.00,989.50 C229.67,986.73 231.25,983.32 233.00,979.90 C234.75,976.48 236.57,972.33 238.50,969.00 C240.43,965.67 242.35,963.23 244.60,959.90 C246.85,956.57 249.22,952.60 252.00,949.00 C254.78,945.40 258.47,941.05 261.30,938.30 C264.13,935.55 266.23,934.17 269.00,932.50 C271.77,930.83 275.07,929.82 277.90,928.30 C280.73,926.78 283.65,924.68 286.00,923.40 C288.35,922.12 289.92,921.35 292.00,920.60 C294.08,919.85 296.33,918.90 298.50,918.90 C300.67,918.90 302.88,919.62 305.00,920.60 C307.12,921.58 309.03,923.23 311.20,924.80 C313.37,926.37 315.78,928.03 318.00,930.00 C320.22,931.97 321.83,933.60 324.50,936.60 C327.17,939.60 330.67,944.12 334.00,948.00 C337.33,951.88 341.00,957.15 344.50,959.90 C348.00,962.65 351.12,963.10 355.00,964.50 C358.88,965.90 363.97,966.88 367.80,968.30 C371.63,969.72 374.67,971.35 378.00,973.00 C381.33,974.65 383.30,976.23 387.80,978.20 C392.30,980.17 398.90,982.73 405.00,984.80 C411.10,986.87 417.90,988.93 424.40,990.60 C430.90,992.27 437.35,993.48 444.00,994.80 C450.65,996.12 458.63,997.75 464.30,998.50 C469.97,999.25 473.55,999.18 478.00,999.30 C482.45,999.42 486.50,999.00 491.00,999.20 C495.50,999.40 500.00,999.95 505.00,1000.50 C510.00,1001.05 514.67,1001.98 521.00,1002.50 C527.33,1003.02 535.80,1003.32 543.00,1003.60 C550.20,1003.88 551.37,1003.97 564.20,1004.20 C577.03,1004.43 591.87,1004.83 620.00,1005.00 C648.13,1005.17 714.17,1005.17 733.00,1005.20" fill="none" stroke="#1a1a1a" stroke-width="1.5" stroke-linejoin="round"/>
<line x1="210.20" y1="1005.20" x2="733.80" y2="1005.20" stroke="#5f5f5f" stroke-width="1.6"/>
<line x1="211.00" y1="1005.20" x2="211.00" y2="1011.20" stroke="#5f5f5f" stroke-width="1.6"/>
<line x1="315.40" y1="1005.20" x2="315.40" y2="1011.20" stroke="#5f5f5f" stroke-width="1.6"/>
<line x1="419.80" y1="1005.20" x2="419.80" y2="1011.20" stroke="#5f5f5f" stroke-width="1.6"/>
<line x1="524.20" y1="1005.20" x2="524.20" y2="1011.20" stroke="#5f5f5f" stroke-width="1.6"/>
<line x1="628.60" y1="1005.20" x2="628.60" y2="1011.20" stroke="#5f5f5f" stroke-width="1.6"/>
<line x1="733.00" y1="1005.20" x2="733.00" y2="1011.20" stroke="#5f5f5f" stroke-width="1.6"/>
<path d="M751.00,1553.50 C751.83,1551.75 753.83,1546.58 756.00,1543.00 C758.17,1539.42 761.92,1535.75 764.00,1532.00 C766.08,1528.25 767.12,1524.33 768.50,1520.50 C769.88,1516.67 771.58,1513.08 772.30,1509.00 C773.02,1504.92 772.80,1500.33 772.80,1496.00 C772.80,1491.67 772.63,1487.83 772.30,1483.00 C771.97,1478.17 771.35,1472.42 770.80,1467.00 C770.25,1461.58 769.63,1456.00 769.00,1450.50 C768.37,1445.00 767.70,1439.45 767.00,1434.00 C766.30,1428.55 765.55,1424.63 764.80,1417.80 C764.05,1410.97 763.27,1401.13 762.50,1393.00 C761.73,1384.87 760.95,1377.08 760.20,1369.00 C759.45,1360.92 758.70,1352.67 758.00,1344.50 C757.30,1336.33 756.63,1328.17 756.00,1320.00 C755.37,1311.83 754.75,1303.67 754.20,1295.50 C753.65,1287.33 753.15,1279.42 752.70,1271.00 C752.25,1262.58 751.78,1253.50 751.50,1245.00 C751.22,1236.50 751.08,1256.70 751.00,1220.00 C750.92,1183.30 751.00,1057.33 751.00,1024.80 L751.00,1024.80 L751.00,1553.50 Z" fill="#0000ff" fill-opacity="0.25" stroke="none"/>
<path d="M751.00,1553.50 C751.83,1551.75 753.83,1546.58 756.00,1543.00 C758.17,1539.42 761.92,1535.75 764.00,1532.00 C766.08,1528.25 767.12,1524.33 768.50,1520.50 C769.88,1516.67 771.58,1513.08 772.30,1509.00 C773.02,1504.92 772.80,1500.33 772.80,1496.00 C772.80,1491.67 772.63,1487.83 772.30,1483.00 C771.97,1478.17 771.35,1472.42 770.80,1467.00 C770.25,1461.58 769.63,1456.00 769.00,1450.50 C768.37,1445.00 767.70,1439.45 767.00,1434.00 C766.30,1428.55 765.55,1424.63 764.80,1417.80 C764.05,1410.97 763.27,1401.13 762.50,1393.00 C761.73,1384.87 760.95,1377.08 760.20,1369.00 C759.45,1360.92 758.70,1352.67 758.00,1344.50 C757.30,1336.33 756.63,1328.17 756.00,1320.00 C755.37,1311.83 754.75,1303.67 754.20,1295.50 C753.65,1287.33 753.15,1279.42 752.70,1271.00 C752.25,1262.58 751.78,1253.50 751.50,1245.00 C751.22,1236.50 751.08,1256.70 751.00,1220.00 C750.92,1183.30 751.00,1057.33 751.00,1024.80" fill="none" stroke="#0000ff" stroke-width="1.5" stroke-linejoin="round"/>
<path d="M751.00,1553.50 C751.42,1551.75 752.42,1546.58 753.50,1543.00 C754.58,1539.42 756.33,1536.00 757.50,1532.00 C758.67,1528.00 759.52,1523.33 760.50,1519.00 C761.48,1514.67 762.62,1510.83 763.40,1506.00 C764.18,1501.17 764.65,1495.45 765.20,1490.00 C765.75,1484.55 766.50,1478.63 766.70,1473.30 C766.90,1467.97 766.57,1462.88 766.40,1458.00 C766.23,1453.12 766.13,1449.83 765.70,1444.00 C765.27,1438.17 764.50,1430.08 763.80,1423.00 C763.10,1415.92 762.27,1409.17 761.50,1401.50 C760.73,1393.83 759.97,1385.15 759.20,1377.00 C758.43,1368.85 757.57,1360.77 756.90,1352.60 C756.23,1344.43 755.73,1336.17 755.20,1328.00 C754.67,1319.83 754.20,1311.93 753.70,1303.60 C753.20,1295.27 752.60,1286.10 752.20,1278.00 C751.80,1269.90 751.50,1263.00 751.30,1255.00 C751.10,1247.00 751.05,1268.37 751.00,1230.00 C750.95,1191.63 751.00,1059.00 751.00,1024.80 L751.00,1024.80 L751.00,1553.50 Z" fill="#ff0000" fill-opacity="0.25" stroke="none"/>
<path d="M751.00,1553.50 C751.42,1551.75 752.42,1546.58 753.50,1543.00 C754.58,1539.42 756.33,1536.00 757.50,1532.00 C758.67,1528.00 759.52,1523.33 760.50,1519.00 C761.48,1514.67 762.62,1510.83 763.40,1506.00 C764.18,1501.17 764.65,1495.45 765.20,1490.00 C765.75,1484.55 766.50,1478.63 766.70,1473.30 C766.90,1467.97 766.57,1462.88 766.40,1458.00 C766.23,1453.12 766.13,1449.83 765.70,1444.00 C765.27,1438.17 764.50,1430.08 763.80,1423.00 C763.10,1415.92 762.27,1409.17 761.50,1401.50 C760.73,1393.83 759.97,1385.15 759.20,1377.00 C758.43,1368.85 757.57,1360.77 756.90,1352.60 C756.23,1344.43 755.73,1336.17 755.20,1328.00 C754.67,1319.83 754.20,1311.93 753.70,1303.60 C753.20,1295.27 752.60,1286.10 752.20,1278.00 C751.80,1269.90 751.50,1263.00 751.30,1255.00 C751.10,1247.00 751.05,1268.37 751.00,1230.00 C750.95,1191.63 751.00,1059.00 751.00,1024.80" fill="none" stroke="#ff0000" stroke-width="1.5" stroke-linejoin="round"/>
<path d="M751.00,1553.50 C751.83,1552.42 753.83,1549.50 756.00,1547.00 C758.17,1544.50 760.83,1541.00 764.00,1538.50 C767.17,1536.00 771.17,1534.17 775.00,1532.00 C778.83,1529.83 783.00,1527.67 787.00,1525.50 C791.00,1523.33 795.20,1521.18 799.00,1519.00 C802.80,1516.82 807.38,1514.57 809.80,1512.40 C812.22,1510.23 812.42,1508.17 813.50,1506.00 C814.58,1503.83 815.05,1501.57 816.30,1499.40 C817.55,1497.23 819.38,1495.18 821.00,1493.00 C822.62,1490.82 824.25,1488.47 826.00,1486.30 C827.75,1484.13 829.85,1482.17 831.50,1480.00 C833.15,1477.83 834.98,1475.30 835.90,1473.30 C836.82,1471.30 836.90,1469.63 837.00,1468.00 C837.10,1466.37 837.33,1465.33 836.50,1463.50 C835.67,1461.67 833.75,1459.17 832.00,1457.00 C830.25,1454.83 828.33,1453.00 826.00,1450.50 C823.67,1448.00 820.70,1444.75 818.00,1442.00 C815.30,1439.25 812.47,1436.42 809.80,1434.00 C807.13,1431.58 804.47,1429.67 802.00,1427.50 C799.53,1425.33 796.83,1422.92 795.00,1421.00 C793.17,1419.08 792.07,1417.62 791.00,1416.00 C789.93,1414.38 789.27,1413.47 788.60,1411.30 C787.93,1409.13 787.38,1405.72 787.00,1403.00 C786.62,1400.28 786.72,1397.42 786.30,1395.00 C785.88,1392.58 785.22,1390.67 784.50,1388.50 C783.78,1386.33 783.03,1384.17 782.00,1382.00 C780.97,1379.83 779.65,1377.67 778.30,1375.50 C776.95,1373.33 775.37,1371.42 773.90,1369.00 C772.43,1366.58 770.87,1363.73 769.50,1361.00 C768.13,1358.27 766.70,1355.35 765.70,1352.60 C764.70,1349.85 764.03,1347.22 763.50,1344.50 C762.97,1341.78 762.75,1339.05 762.50,1336.30 C762.25,1333.55 762.17,1330.72 762.00,1328.00 C761.83,1325.28 761.63,1322.67 761.50,1320.00 C761.37,1317.33 761.32,1314.73 761.20,1312.00 C761.08,1309.27 761.25,1306.35 760.80,1303.60 C760.35,1300.85 759.30,1298.22 758.50,1295.50 C757.70,1292.78 756.75,1290.55 756.00,1287.30 C755.25,1284.05 754.55,1279.80 754.00,1276.00 C753.45,1272.20 753.13,1270.50 752.70,1264.50 C752.27,1258.50 751.68,1250.75 751.40,1240.00 C751.12,1229.25 751.07,1235.87 751.00,1200.00 C750.93,1164.13 751.00,1054.00 751.00,1024.80 L751.00,1024.80 L751.00,1553.50 Z" fill="#000000" fill-opacity="0.25" stroke="none"/>
<path d="M751.00,1553.50 C751.83,1552.42 753.83,1549.50 756.00,1547.00 C758.17,1544.50 760.83,1541.00 764.00,1538.50 C767.17,1536.00 771.17,1534.17 775.00,1532.00 C778.83,1529.83 783.00,1527.67 787.00,1525.50 C791.00,1523.33 795.20,1521.18 799.00,1519.00 C802.80,1516.82 807.38,1514.57 809.80,1512.40 C812.22,1510.23 812.42,1508.17 813.50,1506.00 C814.58,1503.83 815.05,1501.57 816.30,1499.40 C817.55,1497.23 819.38,1495.18 821.00,1493.00 C822.62,1490.82 824.25,1488.47 826.00,1486.30 C827.75,1484.13 829.85,1482.17 831.50,1480.00 C833.15,1477.83 834.98,1475.30 835.90,1473.30 C836.82,1471.30 836.90,1469.63 837.00,1468.00 C837.10,1466.37 837.33,1465.33 836.50,1463.50 C835.67,1461.67 833.75,1459.17 832.00,1457.00 C830.25,1454.83 828.33,1453.00 826.00,1450.50 C823.67,1448.00 820.70,1444.75 818.00,1442.00 C815.30,1439.25 812.47,1436.42 809.80,1434.00 C807.13,1431.58 804.47,1429.67 802.00,1427.50 C799.53,1425.33 796.83,1422.92 795.00,1421.00 C793.17,1419.08 792.07,1417.62 791.00,1416.00 C789.93,1414.38 789.27,1413.47 788.60,1411.30 C787.93,1409.13 787.38,1405.72 787.00,1403.00 C786.62,1400.28 786.72,1397.42 786.30,1395.00 C785.88,1392.58 785.22,1390.67 784.50,1388.50 C783.78,1386.33 783.03,1384.17 782.00,1382.00 C780.97,1379.83 779.65,1377.67 778.30,1375.50 C776.95,1373.33 775.37,1371.42 773.90,1369.00 C772.43,1366.58 770.87,1363.73 769.50,1361.00 C768.13,1358.27 766.70,1355.35 765.70,1352.60 C764.70,1349.85 764.03,1347.22 763.50,1344.50 C762.97,1341.78 762.75,1339.05 762.50,1336.30 C762.25,1333.55 762.17,1330.72 762.00,1328.00 C761.83,1325.28 761.63,1322.67 761.50,1320.00 C761.37,1317.33 761.32,1314.73 761.20,1312.00 C761.08,1309.27 761.25,1306.35 760.80,1303.60 C760.35,1300.85 759.30,1298.22 758.50,1295.50 C757.70,1292.78 756.75,1290.55 756.00,1287.30 C755.25,1284.05 754.55,1279.80 754.00,1276.00 C753.45,1272.20 753.13,1270.50 752.70,1264.50 C752.27,1258.50 751.68,1250.75 751.40,1240.00 C751.12,1229.25 751.07,1235.87 751.00,1200.00 C750.93,1164.13 751.00,1054.00 751.00,1024.80" fill="none" stroke="#1a1a1a" stroke-width="1.5" stroke-linejoin="round"/>
<line x1="751.00" y1="1024.00" x2="751.00" y2="1554.30" stroke="#5f5f5f" stroke-width="1.6"/>
<line x1="745.00" y1="1553.50" x2="751.00" y2="1553.50" stroke="#5f5f5f" stroke-width="1.6"/>
<line x1="745.00" y1="1447.76" x2="751.00" y2="1447.76" stroke="#5f5f5f" stroke-width="1.6"/>
<line x1="745.00" y1="1342.02" x2="751.00" y2="1342.02" stroke="#5f5f5f" stroke-width="1.6"/>
<line x1="745.00" y1="1236.28" x2="751.00" y2="1236.28" stroke="#5f5f5f" stroke-width="1.6"/>
<line x1="745.00" y1="1130.54" x2="751.00" y2="1130.54" stroke="#5f5f5f" stroke-width="1.6"/>
<line x1="745.00" y1="1024.80" x2="751.00" y2="1024.80" stroke="#5f5f5f" stroke-width="1.6"/>
<line x1="751.30" y1="1047.50" x2="751.30" y2="1098.00" stroke="#3030ff" stroke-width="1.5"/>
<line x1="751.30" y1="1098.00" x2="751.30" y2="1116.00" stroke="#e03030" stroke-width="1.5"/>
<line x1="211.00" y1="1553.50" x2="733.00" y2="1024.80" stroke="#222" stroke-width="2.4" stroke-dasharray="9,4.5"/>
<g transform="scale(.5)" fill="none" stroke-linecap="round" stroke-width="20.0"><path d="M926 2607h0m115 4h0m-332 74h0m148-6h0m-207 78h0m39 1h0m91 16h0m174 17h0m-301 87h0m55-2h0m-103 9h0m104 15h0m-101 11h0m9 9h0m6-1h0m-64 28h0m11-8h0m25-3h0m46-7h0m-150 65h0m35 4h0m-102 24h0m84-12h0m-43 45h0m20-2h0" stroke="#fff" stroke-width="23.8"/>
<path d="M1041 2611h0m-87 180h0m-246 85h0m1 24h0" class="r"/>
<path d="M926 2607h0m-69 72h0m-77 95h0m-127 104h0m-48 7h0m3 26h0m9 9h0m6-1h0m-64 28h0m11-8h0m25-3h0m46-7h0m-115 69h0m-18 12h0m-43 45h0m20-2h0" class="k"/>
<path d="M709 2685h0m-59 72h0m39 1h0m-198 236h0m-67 28h0" class="b"/>
<path d="M1095 2567h0m-408 146h0m269 6h0m-324 38h0m73 7h0m-19 40h0m19-3h0m50-13h0m19 9h0m-68 50h0m93-10h0m-165 45h0m-39 30h0m2 12h0m8-8h0m71 28h0m-129 20h0m42-3h0m33 2h0m-138 20h0m26 9h0m-20 17h0m22 9h0m-23 22h0m-10 18h0" stroke="#fff" stroke-width="23.8"/>
<path d="M1095 2567h0m-139 152h0m-157 118h0m-123 107h0m-54 19h0" class="r"/>
<path d="M705 2764h0m-19 40h0m19-3h0m50-13h0m19 9h0m-68 50h0m-72 35h0m-39 30h0m2 12h0m8-8h0m-58 48h0m42-3h0m-77 57h0m-23 22h0m-10 18h0" class="k"/>
<path d="M687 2713h0m-55 44h0m-148 226h0m26 9h0m-20 17h0" class="b"/>
<path d="M864 2496h0m-47 145h0m-167 64h0m64 82h0m7 12h0m17 8h0m93 21h0m-180 12h0m42 15h0m31-20h0m0 12h0m-65 14h0m201-3h0m-220 30h0m28 6h0m-46 28h0m-55 10h0m19 15h0m-43 20h0m50-12h0m-105 73h0m12 10h0m8-2h0m-55 35h0m7-7h0" stroke="#fff" stroke-width="23.8"/>
<path d="M831 2828h0m29 30h0" class="r"/>
<path d="M817 2641h0m-103 146h0m7 12h0m17 8h0m-87 33h0m42 15h0m31-20h0m0 12h0m-65 14h0m-19 27h0m28 6h0m-46 28h0m-55 10h0m19 15h0m-43 20h0m50-12h0m-105 73h0m12 10h0m8-2h0m-55 35h0m7-7h0" class="k"/>
<path d="M864 2496h0m-214 209h0" class="b"/>
<path d="M741 2768h0m100 9h0m-249 12h0m176 15h0m-108 28h0m12 71h0m11-20h0m13 1h0m-78 43h0m38-17h0m-105 29h0m28 4h0m0 24h0m52-10h0m-157 25h0m4 21h0m20 14h0m7-2h0m7-15h0m12 14h0m2-10h0m-35 26h0m12 4h0m17-8h0m-50 39h0" stroke="#fff" stroke-width="23.8"/>
<path d="M841 2777h0m-210 180h0" class="r"/>
<path d="M741 2768h0m27 36h0m-108 28h0m12 71h0m11-20h0m13 1h0m-78 43h0m38-17h0m-77 33h0m0 24h0m-81 50h0m7-2h0m7-15h0m12 14h0m2-10h0m-35 26h0m12 4h0m17-8h0m-50 39h0" class="k"/>
<path d="M592 2789h0m-41 150h0m-77 43h0m4 21h0" class="b"/>
<path d="M855 2609h0m-142 72h0m-79 45h0m116 2h0m46 52h0m-203 6h0m81 17h0m84-11h0m-153 39h0m162-16h0m-95 87h0m9-18h0m118 7h0m-151 33h0m12-19h0m-174 53h0m42 14h0m24-8h0m47-4h0m66 0h0m-139 26h0m37 3h0m-38 18h0m-37 28h0m-7 16h0" stroke="#fff" stroke-width="23.8"/>
<path d="M799 2891h0m-151 33h0m17 36h0" class="r"/>
<path d="M855 2609h0m-105 119h0m46 52h0m-122 23h0m84-11h0m9 23h0m-95 87h0m9-18h0m-21 21h0m-108 59h0m47-4h0m-73 26h0m37 3h0m-38 18h0m-37 28h0m-7 16h0" class="k"/>
<path d="M713 2681h0m-79 45h0m-41 60h0m12 45h0m-119 127h0m42 14h0" class="b"/>
<path d="M922 2592h0m-178 148h0m-102 26h0m-67 47h0m9 30h0m152 4h0m-106 30h0m-86 20h0m72 14h0m2 3h0m-77 25h0m17 8h0m61-10h0m9-2h0m36 9h0m-129 30h0m74-16h0m-107 36h0m3 23h0m12 2h0m-69 26h0m50-5h0m-37 25h0m19-12h0m1-4h0" stroke="#fff" stroke-width="23.8"/>
<path d="M664 2944h0m-55 14h0" class="r"/>
<path d="M922 2592h0m-178 148h0m-8 107h0m-106 30h0m-14 34h0m2 3h0m-60 33h0m61-10h0m9-2h0m-93 39h0m-30 43h0m12 2h0m-19 21h0m-37 25h0m19-12h0m1-4h0" class="k"/>
<path d="M642 2766h0m-67 47h0m9 30h0m-40 54h0m-3 42h0m-39 55h0m-54 51h0" class="b"/>
<path d="M896 2607h0m-21 67h0m-36 54h0m-64 23h0m46 32h0m-132 13h0m-9 39h0m3 16h0m-114 7h0m70 5h0m21-5h0m13 5h0m78-7h0m-135 25h0m16 3h0m2 14h0m37 5h0m-156 23h0m89-13h0m-95 31h0m123 28h0m-130 27h0m46-13h0m-3 29h0m-39 9h0" stroke="#fff" stroke-width="23.8"/>
<path d="M751 2856h0m-119 116h0m-87 43h0" class="r"/>
<path d="M896 2607h0m-21 67h0m-36 54h0m-64 23h0m46 32h0m-132 13h0m-9 39h0m3 16h0m-44 12h0m21-5h0m13 5h0m-57 18h0m16 3h0m2 14h0m37 5h0m-67 10h0m-56 73h0m-42 38h0" class="k"/>
<path d="M569 2858h0m-54 68h0m-6 18h0m-7 55h0" class="b"/>
<path d="M1177 2412h0m-171 108h0m-96 43h0m-66 52h0m169 33h0m-153 48h0m-146 23h0m45-3h0m50 18h0m39 28h0m-184 60h0m132-13h0m-77 29h0m-78 27h0m31 36h0m142-8h0m-214 16h0m63-3h0m-141 40h0m38 4h0m31-9h0m19-3h0m-57 34h0m-66 39h0m27 1h0" stroke="#fff" stroke-width="23.8"/>
<path d="M1013 2648h0m-165 114h0m-52 47h0m18 84h0" class="r"/>
<path d="M1177 2412h0m-171 108h0m-96 43h0m-66 52h0m16 81h0m-101 20h0m50 18h0m-145 88h0m55 16h0m-78 27h0m31 36h0m-72 8h0m63-3h0m-103 44h0m31-9h0m19-3h0m-57 34h0m-39 40h0" class="k"/>
<path d="M714 2719h0m-192 227h0m-35 65h0" class="b"/>
<path d="M1073 2455h0m-198 91h0m-71 135h0m326 12h0m-233 66h0m-173 4h0m44 11h0m198-10h0m-347 117h0m-34 36h0m-40 16h0m24 16h0m6-7h0m23-4h0m-116 29h0m40-6h0m33 6h0m45-9h0m-44 32h0m-55 11h0m62 13h0m-80 20h0m70-7h0m-88 37h0m1-8h0" stroke="#fff" stroke-width="23.8"/>
<path d="M1130 2693h0m-233 66h0m69 5h0m-403 250h0m-10 13h0" class="r"/>
<path d="M1073 2455h0m-269 226h0m-80 82h0m44 11h0m-149 107h0m-34 36h0m-16 32h0m6-7h0m23-4h0m-43 29h0m45-9h0m-44 32h0m-73 44h0m-18 30h0m1-8h0" class="k"/>
<path d="M875 2546h0m-330 387h0m-63 34h0m40-6h0m-21 40h0" class="b"/>
<path d="M835 2708h0m-180 76h0m109 37h0m-154 17h0m42 28h0m-109 38h0m49-24h0m89 47h0m30-18h0m-194 43h0m80-18h0m-39 19h0m25 5h0m-103 22h0m87 3h0m4-1h0m-56 36h0m-39 30h0m7-9h0m8 0h0m4-5h0m14 1h0m35-9h0m-82 33h0m-9 21h0" stroke="#fff" stroke-width="23.8"/>
<path d="M681 2927h0m30-18h0m-167 117h0" class="r"/>
<path d="M835 2708h0m-71 113h0m-112 45h0m-55 68h0m-39 19h0m25 5h0m-16 25h0m4-1h0m-56 36h0m-39 30h0m7-9h0m8 0h0m4-5h0m14 1h0m-47 24h0m-9 21h0" class="k"/>
<path d="M655 2784h0m-45 54h0m-67 66h0m49-24h0m-75 72h0m-37 28h0" class="b"/>
<path d="M830 2649h0m33 7h0m0 11h0m89 41h0m-156 87h0m181 9h0m-414 22h0m119 7h0m9 0h0m-56 35h0m-113 29h0m95-2h0m-36 25h0m65-15h0m-69 34h0m40-3h0m66-7h0m-134 27h0m52-3h0m27 1h0m-95 36h0m-75 39h0m41-1h0m-24 33h0m6-9h0" stroke="#fff" stroke-width="23.8"/>
<path d="M952 2708h0m25 96h0m-294 125h0m-55 25h0" class="r"/>
<path d="M830 2649h0m33 7h0m0 11h0m-67 128h0m-114 38h0m9 0h0m-56 35h0m-18 27h0m-36 25h0m65-15h0m-69 34h0m40-3h0m-68 20h0m52-3h0m-68 37h0m-34 38h0m-24 33h0m6-9h0" class="k"/>
<path d="M563 2826h0m-41 71h0m-64 132h0" class="b"/>
<path d="M805 2516h0m36 15h0m173 37h0m-213 15h0m54 18h0m64 41h0m-87 44h0m67-11h0m-182 62h0m51 23h0m19 40h0m-209 14h0m89 9h0m-133 74h0m121 4h0m80-20h0m-161 37h0m3 9h0m42-5h0m-49 17h0m5 5h0m-22 47h0m13-3h0m-103 55h0m26-7h0" stroke="#fff" stroke-width="23.8"/>
<path d="M735 2881h0" class="r"/>
<path d="M1014 2568h0m-159 33h0m64 41h0m-87 44h0m67-11h0m-131 85h0m19 40h0m-120 23h0m-12 78h0m-78 26h0m42-5h0m-49 17h0m5 5h0m-22 47h0m13-3h0m-77 48h0" class="k"/>
<path d="M805 2516h0m36 15h0m-40 52h0m-84 154h0m-139 77h0m-44 83h0m40 21h0m-111 125h0" class="b"/>
<path d="M901 2582h0m21-2h0m35 24h0m90 41h0m-275 33h0m3 29h0m24 26h0m-31 23h0m266-17h0m-162 92h0m-222 35h0m52-2h0m-167 39h0m30-19h0m49 33h0m99 4h0m-152 20h0m42-12h0m-9 24h0m-89 59h0m3-5h0m-17 27h0m22-4h0m15 10h0m40-10h0" stroke="#fff" stroke-width="23.8"/>
<path d="M1047 2645h0m-13 94h0m-162 92h0m-159 90h0m-185 119h0m40-10h0" class="r"/>
<path d="M901 2582h0m21-2h0m35 24h0m-182 103h0m24 26h0m-31 23h0m-118 110h0m52-2h0m-88 53h0m-53 24h0m42-12h0m-9 24h0m-89 59h0m3-5h0m-17 27h0m22-4h0" class="k"/>
<path d="M772 2678h0m-237 225h0m30-19h0" class="b"/>
<path d="M873 2628h0m72-7h0m3 42h0m51 26h0m-106 30h0m-128 22h0m46 34h0m-114 16h0m14 12h0m-86 10h0m-59 66h0m84-21h0m54 37h0m160-2h0m-267 29h0m4-1h0m31 4h0m-38 23h0m31-17h0m-119 25h0m66 15h0m-41 17h0m-21 15h0m14 20h0m-8 5h0" stroke="#fff" stroke-width="23.8"/>
<path d="M999 2689h0m-295 206h0m160-2h0" class="r"/>
<path d="M873 2628h0m72-7h0m3 42h0m-55 56h0m-128 22h0m46 34h0m-114 16h0m14 12h0m-61 55h0m-53 64h0m4-1h0m31 4h0m-38 23h0m31-17h0m-53 40h0m-41 17h0m-21 15h0m14 20h0m-8 5h0" class="k"/>
<path d="M625 2813h0m-59 66h0m-60 77h0" class="b"/>
<path d="M819 2626h0m126 1h0m-281 109h0m66 3h0m23 5h0m-129 31h0m234-6h0m-171 23h0m-28 35h0m110-11h0m-123 36h0m-72 5h0m28 42h0m86-11h0m-109 42h0m5 4h0m-40 41h0m2-18h0m-56 33h0m40 6h0m5 4h0m28-21h0m-37 42h0m-44 23h0m33-18h0" stroke="#fff" stroke-width="23.8"/>
<path d="M858 2769h0" class="r"/>
<path d="M819 2626h0m126 1h0m-215 112h0m23 5h0m-66 48h0m-28 35h0m110-11h0m-123 36h0m-44 47h0m86-11h0m-109 42h0m5 4h0m-40 41h0m2-18h0m-16 39h0m5 4h0m28-21h0m-37 42h0m-44 23h0m33-18h0" class="k"/>
<path d="M664 2736h0m-40 39h0m-50 82h0m-84 133h0" class="b"/>
<path d="M1001 2359h0m-266 263h0m-37 54h0m84 82h0m-69 20h0m48 0h0m34-15h0m6 26h0m-159 26h0m76 9h0m-171 48h0m83-13h0m2 14h0m-55 21h0m40-10h0m56 35h0m-151 13h0m94 2h0m-76 31h0m11-4h0m89-8h0m-125 48h0m6 13h0m-29 14h0m-15 26h0" stroke="#fff" stroke-width="23.8"/>
<path d="M673 2919h0m-33 34h0" class="r"/>
<path d="M782 2758h0m-69 20h0m48 0h0m34-15h0m6 26h0m-83 35h0m-88 35h0m2 14h0m-15 11h0m-1 50h0m-76 31h0m11-4h0m-36 40h0m6 13h0m-29 14h0m-15 26h0" class="k"/>
<path d="M1001 2359h0m-266 263h0m-37 54h0m-56 139h0m-95 57h0m30 22h0m-55 38h0" class="b"/>
<path d="M829 2531h0m-88 75h0m-39 56h0m204-15h0m-152 79h0m71-6h0m-115 40h0m81 11h0m2 16h0m-29 42h0m-53 18h0m-173 27h0m104 30h0m-73 19h0m18 2h0m-17 21h0m5-12h0m-4 33h0m-92 49h0m15-15h0m9 17h0m45-5h0m-87 15h0m-4 37h0m15-11h0" stroke="#fff" stroke-width="23.8"/>
<path d="M548 3013h0" class="r"/>
<path d="M906 2647h0m-152 79h0m71-6h0m-115 40h0m81 11h0m2 16h0m-29 42h0m-53 18h0m-69 57h0m-55 21h0m-17 21h0m5-12h0m-4 33h0m-68 51h0m-46 47h0m15-11h0" class="k"/>
<path d="M829 2531h0m-88 75h0m-39 56h0m-164 212h0m31 49h0m-90 93h0m15-15h0m-33 27h0" class="b"/>
<path d="M959 2441h0m-68 194h0m9 61h0m-145 40h0m-167 35h0m139-9h0m38 5h0m-112 64h0m45-7h0m193-16h0m-294 27h0m45 17h0m62-2h0m-149 17h0m158 28h0m-128 21h0m-53 15h0m90 14h0m-113 28h0m38-8h0m-9 19h0m42 16h0m-77 36h0m-49 29h0m16-9h0" stroke="#fff" stroke-width="23.8"/>
<path d="M891 2808h0m-178 87h0m-133 105h0" class="r"/>
<path d="M891 2635h0m9 61h0m-145 40h0m-28 26h0m38 5h0m-112 64h0m45-7h0m-56 28h0m62-2h0m-119 66h0m37 29h0m-75 20h0m-9 19h0m-35 52h0m-33 20h0" class="k"/>
<path d="M959 2441h0m-371 330h0m9 64h0m-42 32h0m-23 64h0m-23 42h0m-55 92h0" class="b"/>
<path d="M1246 2432h0m-323 231h0m67 9h0m-320 139h0m164 9h0m-155 14h0m28 13h0m-22 20h0m83 0h0m-162 29h0m52 6h0m17-7h0m-96 24h0m20 8h0m4-21h0m35 11h0m-130 35h0m122-23h0m-133 41h0m56-1h0m-57 24h0m28 3h0m0-4h0m-62 15h0m48-7h0" stroke="#fff" stroke-width="23.8"/>
<path d="M990 2672h0m-156 148h0m-66 47h0" class="r"/>
<path d="M1246 2432h0m-323 231h0m-253 148h0m9 23h0m28 13h0m-22 20h0m-79 29h0m52 6h0m17-7h0m-96 24h0m20 8h0m4-21h0m35 11h0m-8 12h0m-77 40h0m-29 27h0m0-4h0m-14 8h0" class="k"/>
<path d="M508 2952h0m-11 18h0m-1 23h0m-34 14h0" class="b"/>
<path d="M1000 2441h0m-144 168h0m-106 34h0m7 32h0m217-1h0m-245 26h0m180 11h0m-173 40h0m-9 51h0m-8 14h0m-118 20h0m-53 48h0m85 36h0m4-12h0m-64 29h0m8 5h0m50-10h0m-65 36h0m-51 27h0m9 1h0m22-14h0m45 1h0m-76 32h0m15 11h0m4 21h0" stroke="#fff" stroke-width="23.8"/>
<path d="M974 2674h0m-383 309h0m-61 43h0m4 21h0" class="r"/>
<path d="M1000 2441h0m-144 168h0m53 102h0m-173 40h0m-9 51h0m-8 14h0m-86 104h0m4-12h0m-64 29h0m8 5h0m50-10h0m-65 36h0m-51 27h0m9 1h0m22-14h0m-31 33h0" class="k"/>
<path d="M750 2643h0m7 32h0m-28 25h0m-128 136h0m-53 48h0" class="b"/>
<path d="M745 2591h0m357-8h0m-178 34h0m249 13h0m-470 85h0m21 36h0m152 21h0m-214 50h0m35-8h0m-130 33h0m72 7h0m-7 7h0m29 0h0m-59 36h0m3 29h0m96 5h0m-171 41h0m12-1h0m6 2h0m53-15h0m-29 36h0m-53 15h0m-28 15h0m17 10h0m-33 18h0" stroke="#fff" stroke-width="23.8"/>
<path d="M1102 2583h0m71 47h0m-297 142h0m-175 159h0m-129 63h0" class="r"/>
<path d="M924 2617h0m-200 134h0m-62 71h0m35-8h0m-58 40h0m-7 7h0m29 0h0m-59 36h0m3 29h0m-63 45h0m6 2h0m53-15h0m-82 51h0m-28 15h0m17 10h0m-33 18h0" class="k"/>
<path d="M745 2591h0m-42 124h0m-136 132h0m-37 125h0" class="b"/>
<path d="M869 2391h0m239 64h0m-131 195h0m-162 24h0m-86 94h0m-42 57h0m-93 26h0m34 16h0m15 3h0m4 26h0m-60 31h0m15-5h0m-12 12h0m11 8h0m-64 15h0m12 18h0m18 1h0m14-21h0m16 20h0m-60 24h0m22-10h0m27-2h0m-62 32h0m2 2h0m-40 18h0" stroke="#fff" stroke-width="23.8"/>
<path d="M597 2975h0m-11 12h0" class="r"/>
<path d="M1108 2455h0m-131 195h0m-162 24h0m-86 94h0m-42 57h0m-59 42h0m15 3h0m4 26h0m-60 31h0m15-5h0m-12 12h0m11 8h0m-52 33h0m18 1h0m14-21h0m-44 44h0m22-10h0m-35 30h0m2 2h0m-40 18h0" class="k"/>
<path d="M869 2391h0m-275 460h0m-57 106h0" class="b"/>
<path d="M952 2544h0m37-22h0m-160 41h0m-54 49h0m79-12h0m-62 39h0m-89 33h0m160 24h0m94 65h0m-385 67h0m11-3h0m87 21h0m48 11h0m-90 35h0m-23 27h0m-31 22h0m18-1h0m2 11h0m-60 21h0m-51 8h0m85 9h0m-106 19h0m10-4h0m17 0h0m-5 38h0" stroke="#fff" stroke-width="23.8"/>
<path d="M957 2761h0m-389 228h0" class="r"/>
<path d="M952 2544h0m37-22h0m-135 78h0m9 96h0m-193 150h0m48 11h0m-90 35h0m-23 27h0m-31 22h0m18-1h0m2 11h0m-60 21h0m-50 70h0" class="k"/>
<path d="M829 2563h0m-54 49h0m17 27h0m-89 33h0m-131 156h0m11-3h0m-100 155h0m-21 28h0m10-4h0m17 0h0" class="b"/>
<path d="M817 2581h0m174 6h0m-79 100h0m-164 66h0m155-2h0m-155 30h0m232-6h0m-271 56h0m-57 10h0m40-1h0m-126 23h0m148 20h0m13 27h0m-166 35h0m27 3h0m5 10h0m-112 35h0m59-15h0m-71 33h0m61-8h0m-31 41h0m8-14h0m-47 30h0m15-6h0m-7 22h0" stroke="#fff" stroke-width="23.8"/>
<path d="M903 2751h0m77 24h0m-266 108h0m13 27h0m-259 166h0" class="r"/>
<path d="M991 2587h0m-79 100h0m-164 66h0m0 28h0m-39 50h0m-57 10h0m40-1h0m-131 105h0m27 3h0m5 10h0m-53 20h0m-10 25h0m-31 41h0m8-14h0m-47 30h0m15-6h0" class="k"/>
<path d="M817 2581h0m-251 282h0m-85 130h0m-12 18h0" class="b"/>
<path d="M1158 2485h0m-381 142h0m107 37h0m2 44h0m-186 70h0m59-10h0m-103 55h0m119 24h0m-136 26h0m-30 31h0m-30 19h0m8-9h0m-54 27h0m27 10h0m12 0h0m-31 19h0m9 2h0m10 0h0m0-15h0m1 8h0m6 34h0m-68 18h0m6 10h0m-54 25h0m20 16h0" stroke="#fff" stroke-width="23.8"/>
<path d="M775 2847h0m-208 152h0m-96 69h0" class="r"/>
<path d="M1158 2485h0m-274 179h0m2 44h0m-186 70h0m59-10h0m-103 55h0m-17 50h0m-30 31h0m-30 19h0m8-9h0m-27 37h0m12 0h0m-31 19h0m9 2h0m10 0h0m0-15h0m1 8h0m-62 52h0m6 10h0" class="k"/>
<path d="M777 2627h0m-244 314h0m-82 111h0" class="b"/>
<path d="M973 2567h0m-63 21h0m33 54h0m-134 63h0m-47 25h0m92 67h0m3 14h0m53 17h0m-266 17h0m25-10h0m230 18h0m-341 15h0m62 3h0m-74 23h0m68 0h0m11 0h0m9 6h0m-66 45h0m54 1h0m-81 27h0m-28 13h0m71 20h0m-97 31h0m12-4h0m-26 27h0" stroke="#fff" stroke-width="23.8"/>
<path d="M854 2797h0m3 14h0m53 17h0m-11 25h0m-277 93h0m-38 60h0" class="r"/>
<path d="M973 2567h0m-63 21h0m33 54h0m-134 63h0m-47 25h0m-118 115h0m25-10h0m-49 36h0m-6 23h0m11 0h0m9 6h0m-66 45h0m-27 28h0m-54 64h0m12-4h0m-26 27h0" class="k"/>
<path d="M558 2868h0m-12 26h0m-33 92h0" class="b"/>
<path d="M850 2595h0m57 42h0m-127 50h0m516 2h0m-505 26h0m-41 33h0m100 22h0m26-8h0m-115 88h0m-90 15h0m157 1h0m-249 23h0m46 11h0m29-14h0m24 7h0m-85 29h0m2-1h0m-3 13h0m114 1h0m-170 36h0m28-1h0m10 4h0m-47 13h0m-20 31h0m-52 32h0" stroke="#fff" stroke-width="23.8"/>
<path d="M1296 2689h0m-446 81h0m26-8h0m-115 88h0m67 16h0m-122 69h0" class="r"/>
<path d="M850 2595h0m57 42h0m-127 50h0m11 28h0m-41 33h0m-79 117h0m-46 35h0m29-14h0m24 7h0m-85 29h0m2-1h0m-3 13h0m-56 37h0m28-1h0m10 4h0m-47 13h0m-20 31h0" class="k"/>
<path d="M579 2889h0m-124 161h0" class="b"/>
<path d="M873 2615h0m-72 51h0m50 5h0m-105 57h0m97-13h0m-74 22h0m21 13h0m22 3h0m26 1h0m-222 81h0m88 18h0m19-14h0m-48 27h0m3-8h0m-44 45h0m-32 21h0m-13 9h0m-75 86h0m15-7h0m5-12h0m69 9h0m-127 38h0m-2 3h0m13-1h0m13 12h0" stroke="#fff" stroke-width="23.8"/>
<path d="M603 3009h0m-103 52h0" class="r"/>
<path d="M873 2615h0m-72 51h0m50 5h0m-105 57h0m97-13h0m-74 22h0m21 13h0m22 3h0m26 1h0m-134 99h0m19-14h0m-48 27h0m3-8h0m-44 45h0m-32 21h0m-13 9h0m-75 86h0m15-7h0m5-12h0m-58 47h0m-2 3h0m13-1h0" class="k"/>
<path d="M616 2835h0" class="b"/>
<path d="M976 2581h0m-219 37h0m24 150h0m-14 33h0m-91 26h0m-70 9h0m47 19h0m46-5h0m-16 22h0m-65 15h0m54-4h0m-98 31h0m31 4h0m73 5h0m-112 19h0m-61 26h0m42-5h0m2 0h0m34-8h0m5 16h0m-52 15h0m-59 56h0m8-8h0m-14 30h0m9-7h0" stroke="#fff" stroke-width="23.8"/>
<path d="M678 2923h0" class="r"/>
<path d="M976 2581h0m-195 187h0m-14 33h0m-91 26h0m-23 28h0m46-5h0m-16 22h0m-65 15h0m54-4h0m-67 35h0m-39 24h0m-19 21h0m2 0h0m34-8h0m5 16h0m-52 15h0m-59 56h0m8-8h0m-14 30h0m9-7h0" class="k"/>
<path d="M757 2618h0m-151 218h0m-32 78h0m-69 54h0" class="b"/>
<path d="M1041 2637h0m-142 79h0m-159 27h0m49 3h0m69-5h0m-208 25h0m104-3h0m5 10h0m60 53h0m-87 22h0m-183 9h0m12 18h0m73 2h0m-105 6h0m93 18h0m-171 10h0m91 0h0m74 30h0m-51 28h0m-63 9h0m35 5h0m4 3h0m33-6h0m-67 49h0m-38 39h0" stroke="#fff" stroke-width="23.8"/>
<path d="M1041 2637h0m-222 189h0" class="r"/>
<path d="M899 2716h0m-159 27h0m49 3h0m69-5h0m-104 22h0m5 10h0m-27 75h0m-98 29h0m-12 24h0m-6 40h0m-51 28h0m-28 14h0m4 3h0m33-6h0m-67 49h0m-38 39h0" class="k"/>
<path d="M650 2766h0m-101 91h0m12 18h0m-32 8h0m-78 28h0m91 0h0m-40 67h0" class="b"/>
<path d="M1215 2404h0m-450 236h0m134-1h0m-67 10h0m42 61h0m86-15h0m-81 31h0m126 11h0m-228 30h0m45 32h0m-179 12h0m-7 42h0m111-18h0m-153 67h0m59-7h0m23 5h0m7 6h0m-128 35h0m5 5h0m74 2h0m-59 18h0m-61 31h0m61-5h0m-42 19h0m-82 19h0" stroke="#fff" stroke-width="23.8"/>
<path d="M960 2695h0m45 42h0m-183 62h0m-139 107h0m-49 42h0m-59 44h0" class="r"/>
<path d="M1215 2404h0m-316 235h0m-67 10h0m42 61h0m5 16h0m-102 41h0m-141 86h0m111-18h0m-153 67h0m59-7h0m23 5h0m-116 46h0m15 20h0m-61 31h0m19 14h0" class="k"/>
<path d="M765 2640h0m-122 171h0m-88 130h0m-104 89h0" class="b"/>
<path d="M966 2516h0m-21 100h0m-153 60h0m-5 107h0m-38 41h0m-100 17h0m39 1h0m0-1h0m-118 34h0m85-13h0m42 19h0m4 5h0m-151 34h0m20 2h0m4 21h0m14-8h0m38-7h0m-143 47h0m64-1h0m9 0h0m24-9h0m-45 21h0m-69 54h0m4 13h0m3 1h0" stroke="#fff" stroke-width="23.8"/>
<path d="M701 2886h0" class="r"/>
<path d="M966 2516h0m-21 100h0m-153 60h0m-5 107h0m-38 41h0m-100 17h0m39 1h0m0-1h0m-33 21h0m42 19h0m-123 62h0m14-8h0m38-7h0m-79 46h0m9 0h0m24-9h0m-45 21h0m-65 67h0m3 1h0" class="k"/>
<path d="M570 2875h0m-20 45h0m20 2h0m-87 53h0m-17 65h0" class="b"/>
<path d="M1146 2550h0m-361 144h0m-142 158h0m6-17h0m46 5h0m107 36h0m-191 24h0m22-17h0m17 14h0m1-13h0m-135 32h0m23-9h0m125 0h0m-84 25h0m14 9h0m-37 32h0m-33 16h0m9 11h0m23-21h0m-61 44h0m12-13h0m1-4h0m24 12h0m-82 29h0m6 21h0" stroke="#fff" stroke-width="23.8"/>
<path d="M1146 2550h0m-344 326h0" class="r"/>
<path d="M785 2694h0m-142 158h0m6-17h0m46 5h0m-84 60h0m22-17h0m17 14h0m1-13h0m13 23h0m-84 25h0m14 9h0m-37 32h0m-33 16h0m9 11h0m23-21h0m-61 44h0m12-13h0m1-4h0m24 12h0m-76 50h0" class="k"/>
<path d="M516 2916h0m23-9h0m-89 140h0" class="b"/>
<path d="M960 2602h0m-62 119h0m-278 62h0m5-12h0m84 37h0m6-3h0m-70 40h0m35 3h0m80 10h0m-195 39h0m44-2h0m53-12h0m-74 34h0m48-11h0m3 12h0m-38 11h0m42 0h0m-115 60h0m19 2h0m44 5h0m-126 25h0m44-14h0m-9 18h0m-17 31h0m-26 22h0" stroke="#fff" stroke-width="23.8"/>
<path d="M760 2858h0m-117 71h0m-52 67h0" class="r"/>
<path d="M960 2602h0m-62 119h0m-189 87h0m6-3h0m-70 40h0m35 3h0m-71 47h0m53-12h0m-74 34h0m48-11h0m3 12h0m-38 11h0m-73 60h0m19 2h0m-38 16h0m-9 18h0m-17 31h0m-26 22h0" class="k"/>
<path d="M620 2783h0m5-12h0m-60 126h0m-100 124h0" class="b"/>
<path d="M1124 2663h0m-378 33h0m-113 47h0m114 87h0m74-20h0m-78 43h0m-93 9h0m50 16h0m-100 13h0m180 7h0m-170 23h0m24 5h0m-67 23h0m4 0h0m-37 22h0m32 0h0m20-6h0m-62 22h0m25-4h0m-54 36h0m6 1h0m7-4h0m-25 22h0m8-2h0m-33 34h0" stroke="#fff" stroke-width="23.8"/>
<path d="M1124 2663h0m-303 147h0m-78 43h0m37 45h0" class="r"/>
<path d="M747 2830h0m-97 32h0m50 16h0m-100 13h0m10 30h0m24 5h0m-67 23h0m4 0h0m-37 22h0m32 0h0m20-6h0m-62 22h0m25-4h0m-54 36h0m6 1h0m7-4h0m-25 22h0m8-2h0m-33 34h0" class="k"/>
<path d="M746 2696h0m-113 47h0" class="b"/>
<path d="M717 2723h0m231-10h0m-264 45h0m47-10h0m73-11h0m-25 51h0m-48 26h0m-73 31h0m61-10h0m-62 32h0m-46 24h0m12 3h0m53-14h0m-95 44h0m49-1h0m50-8h0m-161 17h0m104 0h0m-135 35h0m3 47h0m-33 26h0m7-2h0m25-6h0m11 8h0m-33 22h0" stroke="#fff" stroke-width="23.8"/>
<path d="M948 2713h0m-268 202h0" class="r"/>
<path d="M731 2748h0m73-11h0m-25 51h0m-48 26h0m-73 31h0m61-10h0m-62 32h0m-46 24h0m12 3h0m53-14h0m-95 44h0m49-1h0m-7 9h0m-133 100h0m11 8h0m-33 22h0" class="k"/>
<path d="M717 2723h0m-33 35h0m-165 174h0m-31 35h0m3 47h0m-33 26h0m7-2h0" class="b"/>
<path d="M1091 2496h0m-212 88h0m94 24h0m-139 40h0m19-3h0m50 46h0m-146 60h0m206 11h0m-224 49h0m-70 58h0m28-12h0m-82 39h0m9 0h0m180-7h0m-244 60h0m1-8h0m20 6h0m-6 26h0m65 1h0m-108 23h0m4-10h0m66-5h0m-124 59h0m27-7h0m-24 14h0" stroke="#fff" stroke-width="23.8"/>
<path d="M963 2762h0m-159 127h0m-164 85h0m-38 8h0" class="r"/>
<path d="M1091 2496h0m-212 88h0m94 24h0m-139 40h0m19-3h0m50 46h0m-146 60h0m-18 60h0m-70 58h0m28-12h0m-82 39h0m9 0h0m-64 53h0m1-8h0m20 6h0m-6 26h0m-43 24h0m4-10h0m-58 54h0m27-7h0m-24 14h0" class="k"/>
<path d="M838 2594h0m-39 48h0m244 36h0m-102 39h0m-142 23h0m1 7h0m104 19h0m-167 19h0m20 13h0m57-4h0m-75 25h0m29 11h0m-64 13h0m90-4h0m-140 31h0m-127 57h0m62 5h0m41 3h0m72 6h0m-144 18h0m28 0h0m-54 17h0m-7 43h0m-17 21h0m-24 14h0" stroke="#fff" stroke-width="23.8"/>
<path d="M1043 2678h0m-102 39h0m-37 49h0m-90 28h0m-46 36h0m26 9h0m-92 102h0m-194 99h0" class="r"/>
<path d="M799 2740h0m1 7h0m-63 38h0m20 13h0m-18 21h0m-35 24h0m-50 27h0m-65 62h0m41 3h0m-72 24h0m28 0h0m-54 17h0m-7 43h0m-41 35h0" class="k"/>
<path d="M838 2594h0m-39 48h0m-272 285h0" class="b"/>
<path d="M915 2644h0m-256 79h0m-33 28h0m17 23h0m-66 29h0m234 3h0m-93 6h0m-85 67h0m62-10h0m2-3h0m0-1h0m-49 21h0m-103 33h0m50 6h0m19-20h0m-35 38h0m0-12h0m60 6h0m-128 22h0m11 27h0m4 5h0m22-10h0m-26 49h0m-70 41h0m18 9h0" stroke="#fff" stroke-width="23.8"/>
<path d="M811 2806h0m-172 131h0m-117 93h0m-52 50h0" class="r"/>
<path d="M915 2644h0m-197 168h0m-85 67h0m62-10h0m2-3h0m0-1h0m-49 21h0m-53 39h0m19-20h0m-35 38h0m0-12h0m-57 55h0m4 5h0m22-10h0" class="k"/>
<path d="M659 2723h0m-33 28h0m17 23h0m-66 29h0m-32 116h0m-34 40h0m-59 112h0" class="b"/>
<path d="M1049 2481h0m-124 80h0m-107 109h0m-205 97h0m114 10h0m-155 34h0m125 17h0m138-2h0m-186 20h0m24 9h0m27 15h0m-86 34h0m20-8h0m69-8h0m-39 73h0m-178 19h0m43-3h0m56 9h0m-64 25h0m1 0h0m-26 18h0m2 3h0m-37 34h0m17-16h0m17 13h0" stroke="#fff" stroke-width="23.8"/>
<path d="M835 2826h0m-132 62h0m-39 73h0m-79 25h0m-90 77h0" class="r"/>
<path d="M1049 2481h0m-124 80h0m-107 109h0m-91 107h0m-30 51h0m-48 18h0m24 9h0m27 15h0m-86 34h0m20-8h0m-113 115h0m1 0h0m-26 18h0m2 3h0m-37 34h0m17-16h0" class="k"/>
<path d="M613 2767h0m-41 44h0m-86 169h0m43-3h0" class="b"/>
<path d="M1058 2502h0m37 20h0m-199 153h0m144-1h0m-331 120h0m142-2h0m-119 23h0m-117 87h0m22-5h0m36-6h0m61-7h0m-128 35h0m79 5h0m-188 39h0m57-3h0m2 8h0m33-1h0m-82 31h0m48-11h0m-74 37h0m14-20h0m-35 44h0m17-4h0m31-19h0m-46 39h0" stroke="#fff" stroke-width="23.8"/>
<path d="M1040 2674h0m-189 118h0m-117 92h0m-49 40h0" class="r"/>
<path d="M1058 2502h0m37 20h0m-199 153h0m-187 119h0m23 21h0m-117 87h0m22-5h0m36-6h0m-67 28h0m-52 41h0m2 8h0m33-1h0m-34 20h0m-78 57h0m31-19h0m-46 39h0" class="k"/>
<path d="M497 2963h0m10 35h0m-26 26h0m14-20h0m-35 44h0" class="b"/>
<path d="M926 2597h0m93 36h0m-117 93h0m-284 36h0m83 12h0m90 8h0m54-2h0m91-13h0m-137 59h0m59 1h0m-64 24h0m-158 27h0m-39 47h0m25-20h0m4 48h0m21 18h0m-115 7h0m23 22h0m10-21h0m-103 44h0m68-6h0m4-8h0m27-4h0m-101 63h0m4 9h0" stroke="#fff" stroke-width="23.8"/>
<path d="M1019 2633h0m-117 93h0m-57 54h0m91-13h0m-137 59h0m59 1h0m-64 24h0m-168 102h0m21 18h0m-92 29h0m6 5h0m-97 72h0" class="r"/>
<path d="M926 2597h0m-225 177h0m90 8h0m-155 96h0m-39 47h0m25-20h0m-90 73h0m33 1h0m-35 38h0m4-8h0m-74 59h0" class="k"/>
<path d="M618 2762h0m-156 261h0" class="b"/>
<path d="M932 2602h0m-29 98h0m-222 47h0m3 46h0m-88 20h0m86 40h0m8-6h0m-69 28h0m17-15h0m26 0h0m158 7h0m28-6h0m-213 48h0m-61 26h0m4-1h0m21 15h0m19-21h0m-140 48h0m101-13h0m4-3h0m-32 35h0m21 1h0m-103 34h0m31-5h0m-32 27h0" stroke="#fff" stroke-width="23.8"/>
<path d="M822 2867h0m28-6h0m-276 135h0" class="r"/>
<path d="M932 2602h0m-29 98h0m-219 93h0m-2 60h0m8-6h0m-69 28h0m17-15h0m26 0h0m-27 49h0m-61 26h0m4-1h0m21 15h0m19-21h0m-39 35h0m4-3h0m-32 35h0m-51 30h0m-32 27h0" class="k"/>
<path d="M681 2747h0m-85 66h0m-116 163h0m-9 54h0" class="b"/>
<path d="M870 2520h0m-178 107h0m205-9h0m-95 30h0m158 33h0m-319 62h0m268 15h0m-116 25h0m-65 10h0m532 1h0m-489 15h0m168 21h0m-367 7h0m64 15h0m104-15h0m-157 23h0m86 19h0m112-9h0m-88 21h0m-95 24h0m-71 54h0m62-9h0m-18 25h0m3 3h0m2 2h0" stroke="#fff" stroke-width="23.8"/>
<path d="M960 2681h0m-51 77h0m351 36h0m-321 36h0m-158 40h0m-88 21h0m-119 97h0m2 2h0" class="r"/>
<path d="M897 2618h0m-95 30h0m-9 135h0m-65 10h0m43 16h0m-135 43h0m104-15h0m-71 42h0m-71 36h0m-9 45h0m-18 25h0" class="k"/>
<path d="M870 2520h0m-178 107h0m-51 116h0m-69 94h0m11 23h0m-56 109h0" class="b"/>
<path d="M1057 2208h0m43 125h0m-353 241h0m53 109h0m235-18h0m-118 44h0m-344 7h0m294 81h0m-258 25h0m54-7h0m8 10h0m29-12h0m2 0h0m6 21h0m178 3h0m-244 83h0m-109 11h0m52 13h0m40-14h0m-118 33h0m49-4h0m-15 32h0m36-9h0m-123 59h0m27 1h0" stroke="#fff" stroke-width="23.8"/>
<path d="M1035 2665h0m-118 44h0m-50 88h0m19 40h0" class="r"/>
<path d="M1100 2333h0m-300 350h0m-137 132h0m8 10h0m29-12h0m2 0h0m6 21h0m-66 86h0m-57 24h0m40-14h0m-69 29h0m-15 32h0m36-9h0m-96 60h0" class="k"/>
<path d="M1057 2208h0m-310 366h0m-174 142h0m36 106h0m-76 109h0m-26 32h0m-53 78h0" class="b"/>
<path d="M740 2609h0m255 10h0m-207 57h0m-131 60h0m278-17h0m-139 49h0m67 24h0m-212 18h0m33 13h0m59 25h0m102 0h0m23-8h0m2 6h0m-190 14h0m73 0h0m-188 67h0m-24 40h0m84-4h0m-37 20h0m67-3h0m-92 24h0m-62 28h0m30-2h0m-73 31h0m7 17h0" stroke="#fff" stroke-width="23.8"/>
<path d="M935 2719h0m-72 73h0m-120 56h0m102 0h0m23-8h0m2 6h0m-117 14h0m-128 103h0m-37 20h0m67-3h0m-92 24h0m-32 26h0m-66 48h0" class="r"/>
<path d="M995 2619h0m-207 57h0m8 92h0m-112 55h0m-4 37h0m-139 107h0m-40 65h0" class="k"/>
<path d="M740 2609h0m-83 127h0m-6 74h0m-86 117h0m-107 134h0" class="b"/>
<path d="M1421 2300h0m-436 110h0m-172 293h0m-50 27h0m8 3h0m-95 26h0m283-19h0m-312 66h0m37 2h0m22-3h0m22-13h0m-36 36h0m90-16h0m-1 21h0m-74 40h0m-15 22h0m-107 30h0m-31 8h0m0 15h0m9 3h0m54-5h0m-113 17h0m141-2h0m-122 27h0m65-7h0" stroke="#fff" stroke-width="23.8"/>
<path d="M1421 2300h0m-462 440h0m-178 93h0m-89 62h0m-47 66h0m-57 20h0" class="r"/>
<path d="M813 2703h0m-50 27h0m8 3h0m-87 75h0m22-3h0m22-13h0m-36 36h0m90-16h0m-75 61h0m-122 52h0m-31 23h0m9 3h0m54-5h0m-94 42h0" class="k"/>
<path d="M985 2410h0m-309 349h0m-29 47h0m-93 127h0m-50 30h0" class="b"/>
<path d="M799 2611h0m-2 18h0m148 20h0m36 39h0m-159 56h0m129 34h0m-235 17h0m132 25h0m-173 30h0m60-15h0m5 10h0m4-9h0m54 38h0m-239 21h0m33 6h0m107 10h0m-143 40h0m35 3h0m9 8h0m-101 29h0m32 7h0m-39 17h0m78-11h0m-105 68h0m5-12h0" stroke="#fff" stroke-width="23.8"/>
<path d="M981 2688h0m-30 90h0m-103 42h0m-50 54h0m-99 37h0m-129 93h0" class="r"/>
<path d="M945 2649h0m-123 95h0m-106 51h0m-41 55h0m60-15h0m5 10h0m4-9h0m-152 65h0m-36 50h0m35 3h0m9 8h0m-69 36h0m-66 74h0m5-12h0" class="k"/>
<path d="M799 2611h0m-2 18h0m-238 266h0m-60 96h0m-7 24h0" class="b"/>
<path d="M668 2691h0m146 26h0m114 34h0m64-6h0m-330 61h0m210-18h0m-142 34h0m49 9h0m-204 19h0m-103 29h0m179-8h0m3 0h0m23 0h0m144-9h0m-219 28h0m-23 34h0m73-7h0m-65 34h0m118-7h0m-190 30h0m39-12h0m-79 23h0m48 1h0m21 3h0m-65 50h0" stroke="#fff" stroke-width="23.8"/>
<path d="M928 2751h0m64-6h0m-120 43h0m-93 43h0m42 31h0m-116 82h0" class="r"/>
<path d="M814 2717h0m-84 105h0m-79 49h0m3 0h0m23 0h0m-75 19h0m-23 34h0m73-7h0m-65 34h0m-33 11h0m-31 24h0m21 3h0m-65 50h0" class="k"/>
<path d="M668 2691h0m-6 115h0m-87 44h0m-103 29h0m43 95h0m-40 11h0" class="b"/>
<path d="M915 2612h0m-1 53h0m20 3h0m41 36h0m-263 70h0m3 9h0m-12 22h0m34 19h0m203-7h0m-344 19h0m89 33h0m-124 54h0m23 5h0m1-3h0m16 0h0m12-11h0m72 6h0m-126 28h0m39 0h0m20-3h0m-73 15h0m-31 53h0m4 4h0m-33 21h0m-18 17h0" stroke="#fff" stroke-width="23.8"/>
<path d="M975 2704h0m-35 113h0m-255 103h0" class="r"/>
<path d="M915 2612h0m-1 53h0m20 3h0m-222 106h0m3 9h0m-12 22h0m34 19h0m-52 45h0m-101 59h0m1-3h0m16 0h0m12-11h0m-54 34h0m39 0h0m20-3h0m-73 15h0m-31 53h0m4 4h0m-33 21h0m-18 17h0" class="k"/>
<path d="M596 2836h0m-35 87h0" class="b"/>
<path d="M861 2620h0m-139 141h0m25 19h0m-116 27h0m-62 40h0m88-13h0m-11 24h0m27 16h0m5-14h0m-118 39h0m128-10h0m-175 31h0m89 7h0m-11 14h0m-58 33h0m-41 20h0m41-1h0m10-9h0m20-6h0m-55 35h0m5 0h0m-16 30h0m5-16h0m-33 25h0m4-1h0" stroke="#fff" stroke-width="23.8"/>
<path d="M861 2620h0m-139 141h0m25 19h0m-90 54h0m-11 24h0m27 16h0m5-14h0m10 29h0m-86 38h0m-11 14h0m-58 33h0m0 19h0m10-9h0m20-6h0m-55 35h0m5 0h0m-16 30h0m5-16h0m-33 25h0m4-1h0" class="k"/>
<path d="M631 2807h0m-62 40h0m-9 52h0m-47 21h0m-21 74h0" class="b"/>
<path d="M964 2589h0m-73 78h0m-255 61h0m321-8h0m5 31h0m3 22h0m-253 24h0m100 2h0m-137 28h0m2-14h0m104 17h0m76-4h0m-158 38h0m-127 35h0m23 4h0m-28 33h0m101 16h0m-151 42h0m13-7h0m5-9h0m9 20h0m-20 21h0m-69 50h0m-4 13h0m2-2h0" stroke="#fff" stroke-width="23.8"/>
<path d="M957 2720h0m5 31h0m3 22h0m-153 26h0m-31 31h0m76-4h0m-189 126h0" class="r"/>
<path d="M964 2589h0m-73 78h0m-179 130h0m-37 30h0m2-14h0m22 51h0m-104 39h0m-28 33h0m-50 58h0m13-7h0m5-9h0m9 20h0m-20 21h0m-69 50h0m-4 13h0m2-2h0" class="k"/>
<path d="M636 2728h0m-64 171h0" class="b"/>
<path d="M1161 2530h0m-366 72h0m-54 23h0m-149 18h0m304 4h0m-184 47h0m-85 48h0m179 84h0m-266 39h0m6 6h0m74 9h0m29-18h0m107 15h0m-83 7h0m-88 25h0m45 6h0m-69 24h0m19 8h0m12-13h0m-102 26h0m38 15h0m13 13h0m0-4h0m8-5h0m-54 40h0" stroke="#fff" stroke-width="23.8"/>
<path d="M1161 2530h0m-355 296h0m-50 51h0" class="r"/>
<path d="M896 2647h0m-276 233h0m29-18h0m24 22h0m-88 25h0m45 6h0m-69 24h0m19 8h0m12-13h0m-51 54h0m0-4h0m8-5h0m-54 40h0" class="k"/>
<path d="M795 2602h0m-54 23h0m-149 18h0m120 51h0m-85 48h0m-87 123h0m6 6h0m-56 89h0m38 15h0" class="b"/>
<path d="M842 2655h0m58 52h0m77-18h0m-400 116h0m236-15h0m-198 22h0m49 6h0m-7 24h0m-37 35h0m60-11h0m-157 28h0m440 15h0m-394 43h0m38-23h0m30 5h0m-148 37h0m60 4h0m18-10h0m35 2h0m-103 29h0m31-11h0m-56 16h0m38 6h0m-57 33h0m62-14h0" stroke="#fff" stroke-width="23.8"/>
<path d="M977 2689h0m-14 220h0m-326 25h0m-35 33h0" class="r"/>
<path d="M842 2655h0m58 52h0m-87 83h0m-149 28h0m-7 24h0m-37 35h0m60-11h0m-111 86h0m38-23h0m-58 46h0m18-10h0m-37 20h0m-18 22h0m5 19h0" class="k"/>
<path d="M577 2805h0m38 7h0m-92 82h0m-34 77h0m10 25h0m-25 5h0m-19 39h0" class="b"/>
<path d="M832 2585h0m16 45h0m132 62h0m-327 22h0m90 17h0m-122 18h0m66 40h0m-10 33h0m-131 33h0m-118 11h0m185-7h0m6 20h0m10 10h0m15-3h0m-85 19h0m13 21h0m29-20h0m26 15h0m-85 45h0m-64 17h0m0 17h0m46 17h0m-50 15h0m21 12h0m-32 12h0" stroke="#fff" stroke-width="23.8"/>
<path d="M980 2692h0" class="r"/>
<path d="M848 2630h0m-105 101h0m-56 58h0m-10 33h0m-58 57h0m10 10h0m15-3h0m-72 40h0m29-20h0m26 15h0m-85 45h0m-18 51h0m-29 27h0" class="k"/>
<path d="M832 2585h0m-179 129h0m-32 35h0m-75 106h0m-118 11h0m185-7h0m-54 46h0m-81 78h0m0 17h0m-4 32h0m-11 24h0" class="b"/>
<path d="M1094 2353h0m-282 206h0m-24 114h0m-144 126h0m141 13h0m-126 42h0m-21 24h0m42-10h0m17 1h0m143 4h0m-263 15h0m66-7h0m81 14h0m-210 18h0m74 36h0m-15 25h0m11-1h0m-56 8h0m39 7h0m-46 28h0m24-9h0m26 6h0m-83 34h0m4-19h0m-24 34h0" stroke="#fff" stroke-width="23.8"/>
<path d="M840 2873h0m-116 22h0m-179 112h0m26 6h0" class="r"/>
<path d="M1094 2353h0m-306 320h0m-3 139h0m-126 42h0m-21 24h0m42-10h0m17 1h0m-54 12h0m-55 68h0m-15 25h0m11-1h0m-56 8h0m39 7h0m-46 28h0m-33 31h0m4-19h0m-24 34h0" class="k"/>
<path d="M812 2559h0m-168 240h0m-67 89h0m-63 25h0" class="b"/>
<path d="M840 2561h0m-32 26h0m-138 111h0m102 0h0m63 11h0m-66 10h0m196 30h0m-321 33h0m96-3h0m62 19h0m-102 29h0m-17 11h0m72-4h0m-170 56h0m12 9h0m-16 41h0m-73 18h0m34 14h0m7 1h0m-34 3h0m5 12h0m26-10h0m-20 23h0m-33 27h0m-26 28h0" stroke="#fff" stroke-width="23.8"/>
<path d="M965 2749h0" class="r"/>
<path d="M772 2698h0m63 11h0m-66 10h0m-29 60h0m62 19h0m-102 29h0m-17 11h0m72-4h0m-158 65h0m-16 41h0m-39 32h0m7 1h0m-29 15h0m26-10h0m-20 23h0m-33 27h0m-26 28h0" class="k"/>
<path d="M840 2561h0m-32 26h0m-138 111h0m-26 84h0m-59 108h0m-77 68h0m7 18h0" class="b"/>
<path d="M975 2572h0m-137 76h0m-125 127h0m114 5h0m-15 6h0m-99 40h0m-100 36h0m90 17h0m-84 6h0m71 8h0m2-6h0m-101 32h0m-14 29h0m2 0h0m35 2h0m-81 23h0m27-12h0m9 10h0m9-5h0m67-8h0m-172 37h0m2-1h0m42 2h0m54-13h0m-82 50h0" stroke="#fff" stroke-width="23.8"/>
<path d="M827 2780h0m-137 113h0m-45 65h0" class="r"/>
<path d="M975 2572h0m-137 76h0m-125 127h0m99 11h0m-99 40h0m-10 53h0m-84 6h0m73 2h0m-101 32h0m-14 29h0m2 0h0m35 2h0m-81 23h0m27-12h0m9 10h0m9-5h0m-61 30h0m54-13h0m-82 50h0" class="k"/>
<path d="M613 2862h0m-140 133h0m2-1h0" class="b"/>
<path d="M888 2613h0m44 61h0m-113 37h0m-249 133h0m84 2h0m61 9h0m-89 11h0m36 2h0m82-4h0m-130 33h0m15-16h0m-116 52h0m70-4h0m17 2h0m-44 35h0m22 7h0m-39 10h0m-36 38h0m5-6h0m-30 26h0m18 1h0m-39 16h0m14 2h0m-22 18h0m1 6h0" stroke="#fff" stroke-width="23.8"/>
<path d="M744 2864h0" class="r"/>
<path d="M888 2613h0m44 61h0m-113 37h0m-165 135h0m61 9h0m-89 11h0m36 2h0m-48 29h0m15-16h0m-46 48h0m17 2h0m-44 35h0m22 7h0m-39 10h0m-36 38h0m5-6h0m-30 26h0m18 1h0m-25 18h0m-22 18h0m1 6h0" class="k"/>
<path d="M570 2844h0m-57 89h0m-56 125h0" class="b"/>
<path d="M1004 2490h0m-161 150h0m164 33h0m-173 31h0m63 9h0m21 0h0m-175 38h0m267-1h0m-301 20h0m-49 15h0m-125 83h0m31 10h0m-13 16h0m97 7h0m10 15h0m-80 31h0m-57 23h0m23-17h0m-26 40h0m110-7h0m-127 26h0m28-7h0m-41 23h0m6 12h0m10-2h0" stroke="#fff" stroke-width="23.8"/>
<path d="M1007 2673h0m-89 40h0m92 37h0m-350 166h0m-30 70h0" class="r"/>
<path d="M1004 2490h0m-161 150h0m-9 64h0m63 9h0m-154 38h0m-34 19h0m-59 131h0m-70 46h0m-60 46h0m-17 19h0m28-7h0m-41 23h0m6 12h0m10-2h0" class="k"/>
<path d="M660 2785h0m-125 83h0m31 10h0m-13 16h0m-30 76h0m23-17h0" class="b"/>
<path d="M724 2606h0m162 154h0m-187 6h0m79 24h0m-106 52h0m168 2h0m-173 18h0m0 6h0m96-3h0m-155 23h0m18 7h0m7 2h0m36 0h0m-85 20h0m77-12h0m-101 44h0m9-6h0m-47 57h0m-63 23h0m58-18h0m-58 29h0m16 9h0m23-3h0m16 7h0m6-21h0" stroke="#fff" stroke-width="23.8"/>
<path d="M886 2760h0m-46 84h0m-77 21h0m-249 182h0" class="r"/>
<path d="M778 2790h0m-106 52h0m-5 20h0m0 6h0m-59 20h0m18 7h0m7 2h0m36 0h0m-85 20h0m77-12h0m-101 44h0m9-6h0m-47 57h0m-5 5h0m-42 38h0m23-3h0m22-14h0" class="k"/>
<path d="M724 2606h0m-25 160h0m-240 257h0m0 11h0" class="b"/>
<path d="M863 2532h0m200 108h0m-294 21h0m78-20h0m200 23h0m-17 2h0m-64 50h0m-372 106h0m112 23h0m-83 39h0m8 8h0m76 3h0m-92 28h0m-62 27h0m19-7h0m29-5h0m-29 27h0m15 7h0m18-2h0m-54 28h0m1-5h0m51 4h0m-87 13h0m-60 17h0m21 13h0" stroke="#fff" stroke-width="23.8"/>
<path d="M1063 2640h0m-16 24h0m-17 2h0m-64 50h0m-259 179h0m-102 75h0m-2 27h0" class="r"/>
<path d="M847 2641h0m-141 204h0m-83 39h0m8 8h0m-16 31h0m-62 27h0m19-7h0m29-5h0m-29 27h0m15 7h0m-36 26h0m1-5h0m-36 17h0m-39 30h0" class="k"/>
<path d="M863 2532h0m-94 129h0m-175 161h0m-138 205h0" class="b"/>
<path d="M1192 2356h0m-214 134h0m-37 101h0m-27 22h0m46-19h0m-111 60h0m359 31h0m-518 72h0m-58 14h0m200 66h0m-191 27h0m163 11h0m-182 20h0m-99 27h0m-12 28h0m6 17h0m63-4h0m2 3h0m9 7h0m6-9h0m1-11h0m-83 54h0m34-6h0m-90 62h0m38-14h0" stroke="#fff" stroke-width="23.8"/>
<path d="M1208 2685h0m-376 152h0m-28 38h0m-213 98h0m-94 76h0" class="r"/>
<path d="M1192 2356h0m-214 134h0m-37 101h0m-27 22h0m46-19h0m-111 60h0m-208 210h0m-19 31h0m-42 68h0m2 3h0m15-2h0m1-11h0m-83 54h0m34-6h0m-90 62h0" class="k"/>
<path d="M690 2757h0m-58 14h0m-109 151h0m-12 28h0m6 17h0" class="b"/>
<path d="M897 2631h0m29 55h0m-39 33h0m-27 24h0m-176 56h0m74 9h0m247-1h0m-368 7h0m67 18h0m135 16h0m-92 31h0m-98 26h0m-92 45h0m1-8h0m57-14h0m-114 38h0m19 6h0m56-14h0m8 7h0m-110 31h0m81-3h0m4-11h0m-90 33h0m60-4h0m-74 44h0" stroke="#fff" stroke-width="23.8"/>
<path d="M1005 2807h0m-166 41h0m-92 31h0" class="r"/>
<path d="M897 2631h0m29 55h0m-39 33h0m-27 24h0m-176 56h0m74 9h0m-54 24h0m-55 73h0m-92 45h0m1-8h0m57-14h0m-39 30h0m8 7h0m-29 28h0m4-11h0m-30 29h0" class="k"/>
<path d="M637 2814h0m-136 152h0m19 6h0m-46 24h0m-5 19h0m-14 40h0" class="b"/>
<path d="M998 2470h0m49 67h0m-138 69h0m31 14h0m15 18h0m-150 103h0m-204 62h0m83-9h0m-25 29h0m206-13h0m-219 25h0m-49 41h0m42-2h0m-3 21h0m-61 32h0m7-13h0m0 18h0m18 2h0m-15 31h0m-59 25h0m35-12h0m-50 26h0m6 7h0m22-8h0m-19 47h0" stroke="#fff" stroke-width="23.8"/>
<path d="M865 2810h0m-345 240h0" class="r"/>
<path d="M998 2470h0m49 67h0m-138 69h0m31 14h0m15 18h0m-150 103h0m-121 53h0m-25 29h0m-13 12h0m-7 39h0m-3 21h0m-61 32h0m7-13h0m0 18h0m18 2h0m-15 31h0m-59 25h0m35-12h0m-50 26h0m6 7h0m22-8h0" class="k"/>
<path d="M601 2803h0m-4 73h0" class="b"/>
<path d="M1290 2550h0m-166 38h0m-229 64h0m-237 97h0m191 5h0m-143 21h0m77 28h0m-77 24h0m263-14h0m-187 21h0m81 10h0m-253 18h0m158 22h0m-193 66h0m93-11h0m17 10h0m-118 25h0m20-1h0m-50 7h0m3 16h0m32-20h0m-84 48h0m28-22h0m-53 33h0m29 7h0" stroke="#fff" stroke-width="23.8"/>
<path d="M1290 2550h0m-166 38h0m-155 225h0m-187 21h0m81 10h0m-95 40h0m-100 55h0m17 10h0" class="r"/>
<path d="M895 2652h0m-46 102h0m-143 21h0m77 28h0m-77 24h0m-131 123h0m-8 24h0m20-1h0m-50 7h0m3 16h0m32-20h0m-56 26h0m-24 40h0" class="k"/>
<path d="M658 2749h0m-48 113h0m-122 162h0m-25 11h0" class="b"/>
<path d="M1104 2640h0m-390 23h0m220 13h0m-197 52h0m-20 23h0m-3 12h0m122 44h0m156-16h0m-249 39h0m198-16h0m-303 29h0m12 5h0m5-11h0m41 17h0m-37 8h0m39 28h0m-63 25h0m-89 36h0m53-7h0m-103 33h0m-29 31h0m6 4h0m92-3h0m-66 33h0m6-18h0" stroke="#fff" stroke-width="23.8"/>
<path d="M1104 2640h0m-268 167h0m156-16h0m-51 23h0m-243 76h0m-133 119h0" class="r"/>
<path d="M934 2676h0m-197 52h0m-20 23h0m-3 12h0m29 67h0m-93 18h0m5-11h0m41 17h0m-37 8h0m-24 53h0m-36 29h0m-100 98h0m6-18h0" class="k"/>
<path d="M714 2663h0m-76 180h0m-92 108h0m-50 26h0m-29 31h0m6 4h0" class="b"/>
<path d="M1127 2521h0m-260 142h0m19 7h0m-132 44h0m-33 30h0m-96 36h0m169-18h0m-142 69h0m22-2h0m87-13h0m20 0h0m38-2h0m-288 57h0m185-4h0m-110 36h0m8-12h0m22-6h0m-85 35h0m51-3h0m-58 37h0m15 14h0m-28 24h0m-29 18h0m43-5h0m-88 65h0" stroke="#fff" stroke-width="23.8"/>
<path d="M819 2814h0" class="r"/>
<path d="M1127 2521h0m-260 142h0m19 7h0m-132 44h0m-33 30h0m73 18h0m-142 69h0m22-2h0m87-13h0m20 0h0m-65 51h0m-110 36h0m8-12h0m22-6h0m-34 32h0m-43 51h0m-28 24h0m-29 18h0m43-5h0m-88 65h0" class="k"/>
<path d="M625 2780h0m-94 91h0m20 49h0m-7 34h0" class="b"/>
<path d="M722 2641h0m97 41h0m-40 13h0m131 32h0m-132 31h0m28 13h0m-113 36h0m-114 3h0m41 40h0m4-17h0m66 26h0m88 13h0m-157 31h0m88-2h0m30-3h0m-156 21h0m76-3h0m83 7h0m-220 33h0m48 7h0m-27 27h0m34-5h0m-91 54h0m13-12h0m2 15h0" stroke="#fff" stroke-width="23.8"/>
<path d="M910 2727h0m-132 145h0m-69 29h0m30-3h0m-80 18h0m83 7h0m-165 62h0" class="r"/>
<path d="M819 2682h0m-40 13h0m-1 63h0m28 13h0m-113 36h0m-3 52h0m-69 44h0m-38 16h0m-13 44h0m-27 27h0m-57 49h0m13-12h0m2 15h0" class="k"/>
<path d="M722 2641h0m-143 169h0m41 40h0m4-17h0m-102 123h0" class="b"/>
<path d="M916 2615h0m257 15h0m-536 18h0m192-7h0m-103 36h0m254-10h0m13 20h0m-228 21h0m92 13h0m-14 72h0m-108 34h0m14-3h0m-69 32h0m-50 7h0m10-5h0m45 17h0m32-11h0m-161 39h0m-31 14h0m97-3h0m8-7h0m33 44h0m-180 19h0m43 42h0m-58 40h0" stroke="#fff" stroke-width="23.8"/>
<path d="M1173 2630h0m-193 37h0m13 20h0m-150 106h0m-180 158h0" class="r"/>
<path d="M916 2615h0m-87 26h0m-64 67h0m92 13h0m-122 106h0m14-3h0m-69 32h0m-50 7h0m10-5h0m45 17h0m32-11h0m-95 50h0m8-7h0m-104 105h0m-58 40h0" class="k"/>
<path d="M637 2648h0m89 29h0m-170 226h0m-31 14h0m-42 53h0" class="b"/>
<path d="M908 2615h0m-95 15h0m-56 21h0m29 8h0m44 9h0m-132 37h0m264 13h0m-260 69h0m205 13h0m-217 14h0m130 5h0m-243 37h0m62-11h0m80 21h0m-191 23h0m142-8h0m27 9h0m-86 27h0m-43 29h0m45-16h0m20 12h0m-67 17h0m49-5h0m-35 29h0m-88 58h0" stroke="#fff" stroke-width="23.8"/>
<path d="M962 2718h0m-55 82h0m-87 19h0m-123 71h0m-64 52h0m-18 12h0m-35 29h0" class="r"/>
<path d="M908 2615h0m-78 53h0m-128 119h0m-12 27h0m-51 31h0m80 21h0m-49 15h0m-59 36h0m-43 29h0m45-16h0m-47 29h0m-74 82h0" class="k"/>
<path d="M813 2630h0m-56 21h0m29 8h0m-88 46h0m-121 151h0m-49 33h0" class="b"/>
<path d="M860 2684h0m-197 40h0m14 30h0m96 28h0m-79 25h0m-68 6h0m-77 31h0m95-6h0m120 0h0m-134 30h0m8-3h0m1-7h0m5 27h0m-65 42h0m10 0h0m8-10h0m49-13h0m-58 25h0m119 1h0m-191 39h0m50-17h0m19 6h0m-48 59h0m-41 19h0m-19 19h0" stroke="#fff" stroke-width="23.8"/>
<path d="M764 2838h0m-57 92h0m-170 87h0" class="r"/>
<path d="M860 2684h0m-87 98h0m-79 25h0m-50 31h0m-14 30h0m8-3h0m1-7h0m5 27h0m-65 42h0m10 0h0m8-10h0m49-13h0m-58 25h0m-22 23h0m19 6h0m-89 78h0m-19 19h0" class="k"/>
<path d="M663 2724h0m14 30h0m-51 59h0m-77 31h0m-33 125h0" class="b"/>
<path d="M1036 2580h0m-249 86h0m72 5h0m-62 68h0m186 5h0m-180 39h0m-53 7h0m-133 45h0m28 5h0m189 27h0m-214 20h0m34 5h0m18 7h0m21-9h0m-97 14h0m158 3h0m-180 29h0m49-6h0m-123 40h0m95-13h0m-115 89h0m13-4h0m13-14h0m-42 40h0m12-12h0" stroke="#fff" stroke-width="23.8"/>
<path d="M983 2744h0m-149 123h0m-141 23h0m61 17h0" class="r"/>
<path d="M1036 2580h0m-249 86h0m72 5h0m-62 68h0m6 44h0m-53 7h0m-105 50h0m-25 47h0m34 5h0m18 7h0m-76 5h0m-22 32h0m49-6h0m-28 27h0m-115 89h0m13-4h0m13-14h0m-42 40h0m12-12h0" class="k"/>
<path d="M617 2835h0m-117 135h0" class="b"/>
<path d="M869 2590h0m46 14h0m82 31h0m-111 31h0m72 25h0m-199 112h0m155-18h0m144 7h0m-347 28h0m112-10h0m6-1h0m-174 39h0m3 7h0m-62 9h0m67 21h0m-23 24h0m5 0h0m-34 39h0m-13 10h0m33 11h0m-83 18h0m-80 32h0m38-5h0m-29 19h0m-9 33h0" stroke="#fff" stroke-width="23.8"/>
<path d="M958 2691h0m-44 94h0m144 7h0m-235 18h0m6-1h0m-198 160h0" class="r"/>
<path d="M869 2590h0m46 14h0m82 31h0m-111 31h0m-127 137h0m-48 17h0m-56 28h0m3 7h0m5 30h0m-23 24h0m5 0h0m-34 39h0m-13 10h0m-50 29h0m-42 27h0m-38 52h0" class="k"/>
<path d="M596 2864h0m-128 155h0m9 14h0" class="b"/>
<path d="M1232 2605h0m-569 35h0m221 37h0m-151 22h0m36 69h0m113 3h0m-52 14h0m-172 66h0m31 20h0m60 14h0m-214 30h0m6 2h0m152-5h0m9 11h0m-141 23h0m3-3h0m25-7h0m84 7h0m9-5h0m-93 34h0m-71 24h0m12-14h0m51 10h0m20-12h0m-69 32h0" stroke="#fff" stroke-width="23.8"/>
<path d="M1232 2605h0m-350 166h0m-52 14h0m-81 100h0m-56 27h0m9 11h0m-29 20h0m9-5h0m-93 34h0m-8 20h0m20-12h0" class="r"/>
<path d="M884 2677h0m-115 91h0m-111 83h0m31 20h0m-128 75h0m3-3h0m25-7h0m-71 60h0m12-14h0m2 30h0" class="k"/>
<path d="M663 2640h0m70 59h0m-198 216h0m6 2h0" class="b"/>
<path d="M926 2706h0m63 5h0m-315 20h0m56-9h0m33 57h0m24 21h0m130 3h0m-100 19h0m15 9h0m-138 11h0m-129 72h0m13 7h0m-14 23h0m-27 30h0m12-19h0m41 1h0m48-3h0m-146 33h0m35-4h0m10 8h0m4-9h0m39-3h0m-112 56h0m7 14h0m9-13h0" stroke="#fff" stroke-width="23.8"/>
<path d="M926 2706h0m63 5h0m-72 92h0m-100 19h0m15 9h0m-194 122h0" class="r"/>
<path d="M763 2779h0m24 21h0m-93 42h0m-116 79h0m-14 23h0m-27 30h0m12-19h0m41 1h0m-63 26h0m10 8h0m4-9h0m39-3h0m-105 70h0m9-13h0" class="k"/>
<path d="M674 2731h0m56-9h0m-165 192h0m-73 72h0m-24 48h0" class="b"/>
<path d="M781 2629h0m36 62h0m-126 49h0m42-2h0m37 8h0m-161 99h0m204-7h0m-132 54h0m-160 30h0m26-5h0m58 6h0m-102 24h0m97 3h0m-117 25h0m16-13h0m44 8h0m7-12h0m13 17h0m28-10h0m-73 31h0m-58 43h0m14 8h0m14-16h0m23-3h0m-14 23h0" stroke="#fff" stroke-width="23.8"/>
<path d="M813 2838h0m-316 213h0" class="r"/>
<path d="M817 2691h0m-84 47h0m37 8h0m-89 146h0m-76 31h0m-5 27h0m-57 20h0m7-12h0m13 17h0m28-10h0m-73 31h0m-44 51h0m14-16h0m23-3h0" class="k"/>
<path d="M781 2629h0m-90 111h0m-82 105h0m-88 77h0m26-5h0m-44 30h0m-20 28h0m16-13h0m-39 77h0" class="b"/>
<path d="M1073 2561h0m-270 93h0m214-9h0m-180 37h0m-69 21h0m31 78h0m30 14h0m-122 14h0m29 48h0m-90 33h0m-81 53h0m12 3h0m15-16h0m-104 36h0m51-1h0m56-5h0m1 3h0m0-5h0m-44 63h0m-72 17h0m6-7h0m5-2h0m-21 25h0m3 12h0m-21 10h0" stroke="#fff" stroke-width="23.8"/>
<path d="M1017 2645h0m-188 150h0m-93 62h0m-184 164h0" class="r"/>
<path d="M1073 2561h0m-270 93h0m34 28h0m-69 21h0m31 78h0m-92 28h0m-61 81h0m-81 53h0m12 3h0m15-16h0m-53 35h0m56-5h0m1 3h0m0-5h0m-116 80h0m6-7h0m5-2h0m-21 25h0m3 12h0m-21 10h0" class="k"/>
<path d="M488 2966h0" class="b"/>
<path d="M957 2647h0m-186 19h0m123 66h0m-188 19h0m54 7h0m132-3h0m-315 45h0m43-9h0m151-6h0m-120 47h0m41-16h0m60 51h0m2 16h0m-86 22h0m-84 35h0m51-12h0m-132 63h0m27 0h0m-65 19h0m42 12h0m4-2h0m10-12h0m-41 28h0m10 8h0m-1 7h0" stroke="#fff" stroke-width="23.8"/>
<path d="M894 2732h0m-2 23h0m-140 112h0m2 16h0" class="r"/>
<path d="M957 2647h0m-197 111h0m11 27h0m-120 47h0m41-16h0m-24 89h0m-84 35h0m51-12h0m-105 63h0m-23 31h0m4-2h0m10-12h0m-31 36h0m-1 7h0" class="k"/>
<path d="M771 2666h0m-65 85h0m-129 49h0m43-9h0m-117 200h0m-38 19h0m15 26h0" class="b"/>
<path d="M1219 2505h0m-272 64h0m-87 79h0m-120 103h0m-67 54h0m-4 36h0m-146 62h0m100-16h0m8-1h0m11-3h0m45 5h0m-97 21h0m35 1h0m21 12h0m43-7h0m-168 36h0m7 13h0m1-2h0m6 10h0m17-3h0m5 1h0m44-5h0m-113 71h0m26 1h0m35-8h0" stroke="#fff" stroke-width="23.8"/>
<path d="M1219 2505h0m-530 410h0m-88 50h0m-87 72h0m35-8h0" class="r"/>
<path d="M947 2569h0m-87 79h0m-120 103h0m-67 54h0m-4 36h0m-46 46h0m8-1h0m11-3h0m45 5h0m-97 21h0m35 1h0m21 12h0m-111 50h0m17-3h0m5 1h0m-69 66h0" class="k"/>
<path d="M523 2903h0m-2 48h0m7 13h0m1-2h0" class="b"/>
<path d="M957 2608h0m-10 10h0m-191 94h0m-90 36h0m-12 19h0m32 84h0m58-5h0m-149 28h0m163 20h0m-159 31h0m28-11h0m-46 31h0m24 4h0m16-20h0m28 13h0m-93 27h0m-19 14h0m3-6h0m20 2h0m-51 44h0m2-9h0m2-13h0m-18 28h0m3-1h0m-50 29h0" stroke="#fff" stroke-width="23.8"/>
<path d="M758 2894h0m-109 48h0" class="r"/>
<path d="M957 2608h0m-10 10h0m-191 94h0m-70 139h0m58-5h0m-145 79h0m28-11h0m-46 31h0m24 4h0m16-20h0m-65 40h0m-19 14h0m3-6h0m20 2h0m-51 44h0m2-9h0m2-13h0m-18 28h0m3-1h0" class="k"/>
<path d="M666 2748h0m-12 19h0m-59 107h0m-147 183h0" class="b"/>
<path d="M925 2584h0m-112 180h0m17-4h0m-28 43h0m-174 13h0m55 9h0m16-6h0m61 9h0m59-17h0m-83 34h0m-114 24h0m5 34h0m40-7h0m0 30h0m-78 26h0m0-9h0m12-14h0m0 20h0m-101 5h0m34 39h0m-22 17h0m4-5h0m-30 34h0m3 6h0m-25 23h0" stroke="#fff" stroke-width="23.8"/>
<path d="M802 2803h0m17 8h0m-152 115h0" class="r"/>
<path d="M925 2584h0m-112 180h0m17-4h0m-147 65h0m16-6h0m61 9h0m-24 17h0m-114 24h0m5 34h0m40-7h0m-78 56h0m0-9h0m12-14h0m0 20h0m-67 44h0m-22 17h0m4-5h0m-30 34h0m3 6h0m-25 23h0" class="k"/>
<path d="M628 2816h0m-128 138h0" class="b"/>
<path d="M891 2690h0m-205 65h0m62 20h0m8-2h0m94 19h0m-207 29h0m-69 16h0m314 5h0m-319 38h0m42 9h0m1 9h0m-15 9h0m-34 38h0m-20 16h0m382 11h0m-418 24h0m13-5h0m1-5h0m33-8h0m20 0h0m-91 26h0m25 14h0m7-4h0m-63 22h0m23-6h0" stroke="#fff" stroke-width="23.8"/>
<path d="M850 2792h0m38 50h0m37 130h0" class="r"/>
<path d="M891 2690h0m-143 85h0m8-2h0m-145 116h0m1 9h0m-15 9h0m-34 38h0m-20 16h0m-23 30h0m34-13h0m20 0h0m-66 40h0m7-4h0" class="k"/>
<path d="M686 2755h0m-43 66h0m-69 16h0m-5 43h0m-62 116h0m14-10h0m-38 18h0m-31 32h0m23-6h0" class="b"/>
<path d="M1176 2391h0m-317 218h0m-50 50h0m-54 121h0m16 24h0m-137 51h0m60-19h0m-15 24h0m14 16h0m-160 22h0m94 5h0m3-22h0m4 8h0m-50 44h0m5-2h0m11 9h0m-23 27h0m94-13h0m-189 37h0m35 4h0m98-12h0m-144 29h0m59-3h0m-40 31h0m-12 19h0" stroke="#fff" stroke-width="23.8"/>
<path d="M671 2954h0m-56 29h0" class="r"/>
<path d="M1176 2391h0m-317 218h0m-50 50h0m-54 121h0m16 24h0m-137 51h0m60-19h0m-15 24h0m14 16h0m-66 27h0m3-22h0m4 8h0m-50 44h0m5-2h0m11 9h0m-23 27h0m-60 28h0m13 14h0m-40 31h0m-12 19h0" class="k"/>
<path d="M533 2898h0m-51 93h0m-11 21h0" class="b"/>
<path d="M879 2587h0m32 91h0m-120 58h0m40-22h0m-125 100h0m146 5h0m-185 36h0m-139 21h0m73-8h0m36 33h0m-117 4h0m82 22h0m9-22h0m3 20h0m11-16h0m-107 47h0m56 10h0m-16 27h0m-72 30h0m26-5h0m22-1h0m-55 23h0m16-15h0m18 3h0m1 6h0" stroke="#fff" stroke-width="23.8"/>
<path d="M852 2819h0m-318 198h0m-20 17h0" class="r"/>
<path d="M879 2587h0m32 91h0m-120 58h0m40-22h0m-125 100h0m-39 41h0m-30 46h0m-35 26h0m9-22h0m3 20h0m11-16h0m-51 57h0m-16 27h0m-46 25h0m-33 22h0m16-15h0m18 3h0" class="k"/>
<path d="M528 2876h0m73-8h0m-81 37h0m-2 51h0m-32 67h0" class="b"/>
<path d="M1019 2449h0m-275 160h0m-9 18h0m149 99h0m62 5h0m26-18h0m-162 42h0m-49 24h0m-188 58h0m9-3h0m62 5h0m25 7h0m37 7h0m10 10h0m-108 65h0m57-16h0m-155 20h0m9 15h0m43-2h0m57-5h0m-34 14h0m23-1h0m-76 69h0m-73 42h0m11-11h0" stroke="#fff" stroke-width="23.8"/>
<path d="M946 2731h0m26-18h0m-307 199h0m-133 110h0" class="r"/>
<path d="M1019 2449h0m-135 277h0m-74 29h0m-49 24h0m-117 60h0m25 7h0m37 7h0m10 10h0m-108 65h0m-46 17h0m57-5h0m-34 14h0m23-1h0m-149 111h0m11-11h0" class="k"/>
<path d="M744 2609h0m-9 18h0m-162 210h0m9-3h0m-72 98h0m9 15h0" class="b"/>
<path d="M792 2564h0m207 26h0m-155 110h0m-117 80h0m68 23h0m-107 30h0m3 2h0m37 6h0m-155 39h0m54-12h0m13-7h0m42 11h0m121 4h0m-268 10h0m165 37h0m44-2h0m-142 24h0m11 0h0m-64 25h0m-25 28h0m44-18h0m-90 61h0m9-9h0m9-1h0m-4 19h0" stroke="#fff" stroke-width="23.8"/>
<path d="M803 2876h0m-103 47h0m44-2h0" class="r"/>
<path d="M999 2590h0m-155 110h0m-117 80h0m68 23h0m-107 30h0m3 2h0m37 6h0m-101 27h0m13-7h0m42 11h0m-80 73h0m11 0h0m-64 25h0m-25 28h0m44-18h0m-90 61h0m9-9h0m9-1h0m-4 19h0" class="k"/>
<path d="M792 2564h0m-219 316h0m-38 6h0" class="b"/>
<path d="M1039 2660h0m-336 124h0m170 22h0m-21 6h0m-351 24h0m124 22h0m14 11h0m42 0h0m-58 27h0m-10 13h0m108-5h0m-152 25h0m21 20h0m14-11h0m-1 20h0m-118 31h0m42-2h0m1-2h0m45-9h0m-66 47h0m0-19h0m-33 41h0m5-3h0m49-5h0m-38 25h0" stroke="#fff" stroke-width="23.8"/>
<path d="M1039 2660h0m-166 146h0m-21 6h0m-131 92h0m-193 133h0m-38 25h0" class="r"/>
<path d="M703 2784h0m-64 85h0m42 0h0m-58 27h0m-10 13h0m-44 20h0m21 20h0m14-11h0m-1 20h0m-76 29h0m1-2h0m45-9h0m-66 47h0m0-19h0m-33 41h0m5-3h0" class="k"/>
<path d="M501 2836h0m124 22h0m-140 131h0" class="b"/>
<path d="M1082 2640h0m-246 29h0m-141 108h0m125-5h0m-112 22h0m42 12h0m-84 8h0m-102 63h0m1 17h0m27 8h0m-18 9h0m62 15h0m91-19h0m-158 27h0m3 5h0m-85 55h0m46-15h0m5 10h0m1 5h0m12-7h0m2 13h0m-88 4h0m7 2h0m31 17h0m25-15h0" stroke="#fff" stroke-width="23.8"/>
<path d="M1082 2640h0m-355 267h0" class="r"/>
<path d="M836 2669h0m-141 108h0m125-5h0m-112 22h0m42 12h0m-84 8h0m-74 88h0m44 24h0m-67 8h0m3 5h0m-39 40h0m5 10h0m1 5h0m12-7h0m2 13h0m-50 23h0m25-15h0" class="k"/>
<path d="M564 2877h0m1 17h0m9 17h0m-87 83h0m-22 10h0m7 2h0" class="b"/>
<path d="M805 2648h0m-81 47h0m-89 39h0m245-12h0m-228 32h0m121 5h0m-79 33h0m61-5h0m39-2h0m-79 45h0m-165 25h0m121 14h0m266-10h0m-340 51h0m83 10h0m-115 13h0m7 4h0m14-6h0m-27 35h0m-21 28h0m59-17h0m20-1h0m-82 28h0m-79 29h0m33 16h0" stroke="#fff" stroke-width="23.8"/>
<path d="M937 2859h0m-257 61h0m-83 57h0m20-1h0" class="r"/>
<path d="M805 2648h0m75 74h0m-107 37h0m-79 33h0m61-5h0m39-2h0m-79 45h0m-44 39h0m-74 41h0m-32 23h0m7 4h0m14-6h0m-27 35h0m-21 28h0m-3 10h0m-46 45h0" class="k"/>
<path d="M724 2695h0m-89 39h0m17 20h0m-102 101h0m-94 178h0" class="b"/>
<path d="M702 2657h0m233 0h0m-226 62h0m-97 47h0m80 24h0m63-3h0m101 39h0m-119 26h0m-115 25h0m158-10h0m9 0h0m-168 20h0m51 6h0m-140 28h0m14-13h0m55 20h0m12-18h0m-93 33h0m-24 37h0m32 8h0m8 3h0m3-9h0m-7 19h0m-33 36h0m10-11h0" stroke="#fff" stroke-width="23.8"/>
<path d="M856 2826h0m-76 41h0m9 0h0" class="r"/>
<path d="M935 2657h0m-243 133h0m63-3h0m-18 65h0m-115 25h0m-1 10h0m51 6h0m-71 35h0m12-18h0m-85 78h0m8 3h0m3-9h0m-7 19h0m-33 36h0m10-11h0" class="k"/>
<path d="M702 2657h0m7 62h0m-97 47h0m-80 155h0m14-13h0m-26 35h0m-24 37h0" class="b"/>
<path d="M1232 2604h0m-481 20h0m68 99h0m-228 80h0m83 11h0m-104 53h0m15 45h0m21 7h0m6 9h0m32-3h0m18-6h0m-65 14h0m-55 40h0m8-18h0m11 20h0m16-16h0m-61 39h0m12-18h0m11-2h0m5 0h0m3 9h0m-48 24h0m-22 14h0m4 20h0m3 9h0" stroke="#fff" stroke-width="23.8"/>
<path d="M1232 2604h0m-570 315h0" class="r"/>
<path d="M819 2723h0m-145 91h0m-89 98h0m21 7h0m6 9h0m32-3h0m-47 8h0m-55 40h0m8-18h0m11 20h0m16-16h0m-61 39h0m12-18h0m11-2h0m5 0h0m3 9h0m-66 58h0m3 9h0" class="k"/>
<path d="M751 2624h0m-160 179h0m-21 64h0m-71 144h0m-22 14h0" class="b"/>
<path d="M1053 2519h0m-302 116h0m240 19h0m-293 15h0m274 19h0m34 24h0m-252 46h0m26-7h0m27 3h0m-93 34h0m-78 68h0m62-8h0m-108 16h0m23 40h0m44-20h0m-127 28h0m43 7h0m16-12h0m45 13h0m-107 30h0m38 7h0m-12 40h0m31-11h0m-128 62h0m15 1h0" stroke="#fff" stroke-width="23.8"/>
<path d="M991 2654h0m-19 34h0m34 24h0m-422 274h0" class="r"/>
<path d="M1053 2519h0m-299 239h0m26-7h0m27 3h0m-93 34h0m-78 68h0m62-8h0m-85 56h0m44-20h0m-68 23h0m45 13h0m-69 37h0m-12 40h0m-82 52h0" class="k"/>
<path d="M751 2635h0m-53 34h0m-108 195h0m-60 48h0m43 7h0m-46 31h0m-71 98h0" class="b"/>
<path d="M911 2608h0m143 50h0m-221 9h0m-74 68h0m30 45h0m152-15h0m-199 26h0m-79 51h0m71 18h0m-112 27h0m212 13h0m-232 4h0m1 23h0m12-15h0m11 7h0m-26 22h0m-50 19h0m8 7h0m6 6h0m-44 19h0m45-6h0m-17 18h0m-45 42h0m-28 12h0m1-6h0" stroke="#fff" stroke-width="23.8"/>
<path d="M1054 2658h0m-113 107h0m-207 95h0m100 40h0m-331 146h0" class="r"/>
<path d="M911 2608h0m-78 59h0m-74 68h0m30 45h0m-47 11h0m-79 51h0m-41 45h0m-20 17h0m1 23h0m12-15h0m11 7h0m-26 22h0m-50 19h0m8 7h0m6 6h0m-44 19h0m45-6h0m-17 18h0m-73 54h0m1-6h0" class="k"/>
<path d="M1290 2550h0m-588 128h0m171 32h0m50 36h0m-74 46h0m-210 28h0m52 3h0m57 8h0m145-12h0m-174 23h0m-121 54h0m52-3h0m2 1h0m7 2h0m45 27h0m-153 13h0m26 4h0m20 10h0m-63 16h0m26 10h0m51-12h0m-149 58h0m24-1h0m20 17h0m-54 19h0" stroke="#fff" stroke-width="23.8"/>
<path d="M1290 2550h0m-367 196h0m-74 46h0m44 27h0m-189 104h0m-93 41h0" class="r"/>
<path d="M873 2710h0m-182 113h0m57 8h0m-29 11h0m-121 54h0m52-3h0m2 1h0m7 2h0m-82 44h0m20 10h0m-37 26h0m-54 62h0" class="k"/>
<path d="M702 2678h0m-63 142h0m-88 116h0m-17 30h0m-72 56h0m24-1h0m-34 36h0" class="b"/>
<path d="M869 2599h0m123 87h0m-282 33h0m101 16h0m-176 46h0m98-6h0m-147 32h0m126-19h0m42 15h0m47-8h0m-195 37h0m58-20h0m33 9h0m181 7h0m-219 15h0m22 7h0m69-15h0m86 11h0m-207 10h0m24 46h0m144-20h0m-234 64h0m-6 23h0m1 20h0m-34 27h0" stroke="#fff" stroke-width="23.8"/>
<path d="M992 2686h0m-114 142h0m-42 18h0m-39 36h0" class="r"/>
<path d="M869 2599h0m-58 136h0m-78 40h0m-21 13h0m42 15h0m47-8h0m-104 26h0m-38 22h0m22 7h0m69-15h0m-121 21h0m24 46h0m-90 44h0m-6 23h0m1 20h0m-34 27h0" class="k"/>
<path d="M710 2719h0m-75 62h0m-49 26h0m20 25h0m58-20h0" class="b"/>
<path d="M784 2589h0m205 89h0m-325 50h0m95 7h0m382-16h0m-308 24h0m-145 52h0m6-9h0m-76 42h0m-50 26h0m350 1h0m-200 21h0m1-14h0m-71 36h0m-74 24h0m11 4h0m87 0h0m-75 7h0m36 7h0m-93 30h0m-35 7h0m14 16h0m-21 26h0m24-3h0m-39 33h0" stroke="#fff" stroke-width="23.8"/>
<path d="M989 2678h0m152 41h0m-223 136h0m-200 21h0m-46 50h0m-39 14h0" class="r"/>
<path d="M759 2735h0m74 8h0m-145 52h0m6-9h0m25 76h0m-71 36h0m-74 24h0m11 4h0m12 7h0m-57 37h0m-21 23h0m-21 26h0m24-3h0m-39 33h0" class="k"/>
<path d="M784 2589h0m-120 139h0m-46 100h0m-50 26h0m-63 123h0" class="b"/>
<path d="M881 2627h0m-196 34h0m219 45h0m-143 9h0m1 20h0m4-8h0m-126 74h0m-61 23h0m233-9h0m-151 35h0m63 22h0m56-14h0m-135 31h0m-49 34h0m62-18h0m102 8h0m-227 25h0m32-4h0m1 6h0m44-12h0m31 11h0m-48 16h0m20 15h0m-45 16h0m-75 49h0" stroke="#fff" stroke-width="23.8"/>
<path d="M812 2815h0m-88 57h0m56-14h0m-20 55h0m-119 26h0m-28 31h0" class="r"/>
<path d="M881 2627h0m23 79h0m-143 9h0m1 20h0m4-8h0m-105 123h0m-16 39h0m-49 34h0m62-18h0m-93 29h0m1 6h0m44-12h0m-17 27h0m-25 31h0m-75 49h0" class="k"/>
<path d="M685 2661h0m-45 140h0m-61 23h0m-46 114h0" class="b"/>
<path d="M1004 2388h0m-200 192h0m11 105h0m151 46h0m148 42h0m-476 17h0m74 17h0m85-11h0m-214 25h0m180-2h0m-121 35h0m87-9h0m122 6h0m-307 11h0m119 12h0m50-1h0m19-14h0m-110 25h0m114 26h0m-194 72h0m5-6h0m-68 64h0m1 5h0m2-8h0m-14 23h0" stroke="#fff" stroke-width="23.8"/>
<path d="M966 2731h0m148 42h0m-263 78h0m-138 22h0m19-14h0m4 51h0" class="r"/>
<path d="M815 2685h0m-103 122h0m85-11h0m-34 23h0m-121 35h0m87-9h0m-66 29h0m-41 10h0m-80 98h0m5-6h0m-68 64h0m1 5h0m2-8h0m-14 23h0" class="k"/>
<path d="M1004 2388h0m-200 192h0m-166 210h0m-55 31h0m-39 41h0" class="b"/>
<path d="M1256 2315h0m-261 242h0m-35 15h0m-278 108h0m126 30h0m50 36h0m75 28h0m-185 31h0m130 0h0m45-18h0m21 8h0m-260 52h0m58-10h0m77 5h0m-224 59h0m20-13h0m10 20h0m20 13h0m3-6h0m-93 35h0m57-3h0m22-10h0m-82 27h0m-9 40h0m-93 78h0" stroke="#fff" stroke-width="23.8"/>
<path d="M933 2774h0m-55 31h0m45-18h0m21 8h0m-125 47h0m-185 95h0" class="r"/>
<path d="M1256 2315h0m-261 242h0m-35 15h0m-152 138h0m50 36h0m-110 59h0m-64 42h0m58-10h0m-147 64h0m20-13h0m10 20h0m20 13h0m3-6h0m-93 35h0m57-3h0m-60 17h0m-9 40h0m-93 78h0" class="k"/>
<path d="M682 2680h0" class="b"/>
<path d="M1021 2492h0m-127 116h0m-231 131h0m270 8h0m-212 30h0m19 9h0m41 20h0m-65 39h0m62-11h0m-83 27h0m-99 40h0m30-16h0m-106 39h0m170-14h0m-103 21h0m7 20h0m-102 22h0m44 0h0m19 22h0m-74 28h0m49-4h0m2-8h0m32-9h0m3 10h0m-91 57h0" stroke="#fff" stroke-width="23.8"/>
<path d="M933 2747h0m-155 87h0m-88 76h0m-126 92h0m3 10h0m-91 57h0" class="r"/>
<path d="M1021 2492h0m-127 116h0m-173 169h0m19 9h0m41 20h0m-65 39h0m-21 16h0m-99 40h0m30-16h0m-39 46h0m7 20h0m-58 22h0m19 22h0m-25 24h0m2-8h0" class="k"/>
<path d="M663 2739h0m-143 185h0m-28 49h0m-11 50h0" class="b"/>
<path d="M870 2707h0m-101 22h0m52-5h0m-171 17h0m258 4h0m-201 16h0m-13 38h0m30 6h0m29 1h0m-110 42h0m-58 45h0m73 7h0m21-18h0m205 5h0m-282 38h0m15-14h0m-44 23h0m-40 40h0m67-13h0m-133 36h0m35 2h0m88-18h0m59-2h0m-160 65h0m16-16h0" stroke="#fff" stroke-width="23.8"/>
<path d="M908 2745h0m-24 142h0m-294 94h0m59-2h0" class="r"/>
<path d="M870 2707h0m-101 22h0m52-5h0m-114 37h0m-13 38h0m30 6h0m29 1h0m-110 42h0m15 52h0m21-18h0m-77 43h0m15-14h0m-44 23h0m-40 40h0m67-13h0m-111 83h0m16-16h0" class="k"/>
<path d="M650 2741h0m-65 152h0m-118 104h0m35 2h0" class="b"/>
<path d="M874 2603h0m16 36h0m-111 20h0m-48 62h0m16 31h0m138 5h0m-173 40h0m52-7h0m-179 26h0m104 24h0m-149 71h0m40 9h0m18 3h0m70-15h0m67 8h0m-206 30h0m21 1h0m-43 21h0m19 4h0m71-8h0m-68 23h0m24 1h0m-36 33h0m3-7h0m-52 35h0" stroke="#fff" stroke-width="23.8"/>
<path d="M885 2757h0m-150 159h0" class="r"/>
<path d="M874 2603h0m16 36h0m-143 113h0m-35 45h0m52-7h0m-75 50h0m-109 80h0m18 3h0m70-15h0m-71 56h0m-68 23h0m24 1h0m-36 33h0m3-7h0" class="k"/>
<path d="M779 2659h0m-48 62h0m-146 95h0m-45 95h0m-11 35h0m21 1h0m-43 21h0m19 4h0m-58 77h0" class="b"/>
<path d="M965 2632h0m-309 102h0m53 35h0m19 2h0m33 0h0m101 11h0m-258 19h0m39-7h0m224 28h0m-254 29h0m-48 20h0m128-2h0m-58 32h0m-105 21h0m62-16h0m8 9h0m-84 25h0m66 36h0m7 10h0m-71 25h0m-38 31h0m6 5h0m20-11h0m-36 13h0m-12 27h0" stroke="#fff" stroke-width="23.8"/>
<path d="M862 2782h0m5 40h0m-278 164h0" class="r"/>
<path d="M965 2632h0m-256 137h0m19 2h0m33 0h0m-68 98h0m-58 32h0m-43 5h0m8 9h0m-18 61h0m-64 35h0m-38 31h0m6 5h0m20-11h0m-36 13h0m-12 27h0" class="k"/>
<path d="M656 2734h0m-52 67h0m39-7h0m-30 57h0m-48 20h0m-35 51h0m-14 18h0" class="b"/>
<path d="M1180 2475h0m-277 162h0m-22 87h0m71 8h0m-251 90h0m-66 34h0m-92 23h0m96-17h0m11 15h0m-2 9h0m-117 29h0m43-5h0m14 16h0m-22 23h0m-83 9h0m106-2h0m-25 23h0m-50 45h0m73-15h0" stroke="#fff" stroke-width="23.8"/>
<path d="M952 2732h0m-365 277h0" class="r"/>
<path d="M1180 2475h0m-277 162h0m-22 87h0m-180 98h0m-66 34h0m4 6h0m11 15h0m-2 9h0m-60 40h0m-22 23h0m23 7h0m-25 23h0m-50 45h0" class="k"/>
<path d="M543 2879h0m-12 36h0m43-5h0m-91 48h0" class="b"/></g>
<line x1="211.00" y1="1024.00" x2="211.00" y2="1554.30" stroke="#5f5f5f" stroke-width="1.6"/>
<line x1="210.20" y1="1553.50" x2="733.80" y2="1553.50" stroke="#5f5f5f" stroke-width="1.6"/>
<line x1="211.00" y1="1553.50" x2="211.00" y2="1559.50" stroke="#5f5f5f" stroke-width="1.6"/>
<line x1="205.00" y1="1553.50" x2="211.00" y2="1553.50" stroke="#5f5f5f" stroke-width="1.6"/>
<text x="212.00" y="1612.80" text-anchor="middle" class="tk">0</text>
<text x="191.50" y="1571.80" text-anchor="end" class="tk">0</text>
<line x1="315.40" y1="1553.50" x2="315.40" y2="1559.50" stroke="#5f5f5f" stroke-width="1.6"/>
<line x1="205.00" y1="1447.76" x2="211.00" y2="1447.76" stroke="#5f5f5f" stroke-width="1.6"/>
<text x="316.40" y="1612.80" text-anchor="middle" class="tk">200</text>
<text x="191.50" y="1466.06" text-anchor="end" class="tk">200</text>
<line x1="419.80" y1="1553.50" x2="419.80" y2="1559.50" stroke="#5f5f5f" stroke-width="1.6"/>
<line x1="205.00" y1="1342.02" x2="211.00" y2="1342.02" stroke="#5f5f5f" stroke-width="1.6"/>
<text x="420.80" y="1612.80" text-anchor="middle" class="tk">400</text>
<text x="191.50" y="1360.32" text-anchor="end" class="tk">400</text>
<line x1="524.20" y1="1553.50" x2="524.20" y2="1559.50" stroke="#5f5f5f" stroke-width="1.6"/>
<line x1="205.00" y1="1236.28" x2="211.00" y2="1236.28" stroke="#5f5f5f" stroke-width="1.6"/>
<text x="525.20" y="1612.80" text-anchor="middle" class="tk">600</text>
<text x="191.50" y="1254.58" text-anchor="end" class="tk">600</text>
<line x1="628.60" y1="1553.50" x2="628.60" y2="1559.50" stroke="#5f5f5f" stroke-width="1.6"/>
<line x1="205.00" y1="1130.54" x2="211.00" y2="1130.54" stroke="#5f5f5f" stroke-width="1.6"/>
<text x="629.60" y="1612.80" text-anchor="middle" class="tk">800</text>
<text x="191.50" y="1148.84" text-anchor="end" class="tk">800</text>
<line x1="733.00" y1="1553.50" x2="733.00" y2="1559.50" stroke="#5f5f5f" stroke-width="1.6"/>
<line x1="205.00" y1="1024.80" x2="211.00" y2="1024.80" stroke="#5f5f5f" stroke-width="1.6"/>
<text x="734.00" y="1612.80" text-anchor="middle" class="tk">1000</text>
<text x="191.50" y="1043.10" text-anchor="end" class="tk">1000</text>
<text x="470.50" y="1677.20" text-anchor="middle" class="lb" style="font-size:42.90px">Actual case time (min)</text>
<text transform="translate(80.00,1296.40) rotate(-90)" x="0" y="0" text-anchor="middle" class="lb" style="font-size:43.10px">CPT-model-predicted case time (min)</text>
<rect x="1109.60" y="1302.83" width="89.60" height="261.47" fill="#ff0000" stroke="#fff" stroke-width="1.4"/>
<rect x="1109.60" y="1076.85" width="89.60" height="225.98" fill="#000000" stroke="#fff" stroke-width="1.4"/>
<rect x="1109.60" y="1042.40" width="89.60" height="34.45" fill="#0000ff" stroke="#fff" stroke-width="1.4"/>
<text x="1154.40" y="1440.10" text-anchor="middle" class="bl" textLength="67.1" lengthAdjust="spacingAndGlyphs">50.1%</text>
<text x="1154.10" y="1197.20" text-anchor="middle" class="bl" textLength="68.8" lengthAdjust="spacingAndGlyphs">43.2%</text>
<text x="1155.00" y="1067.20" text-anchor="middle" class="bl" textLength="53.5" lengthAdjust="spacingAndGlyphs">6.6%</text>
<rect x="1290.60" y="1480.27" width="89.60" height="84.03" fill="#ff0000" stroke="#fff" stroke-width="1.4"/>
<rect x="1290.60" y="1140.00" width="89.60" height="340.28" fill="#000000" stroke="#fff" stroke-width="1.4"/>
<rect x="1290.60" y="1042.40" width="89.60" height="97.60" fill="#0000ff" stroke="#fff" stroke-width="1.4"/>
<text x="1335.90" y="1529.10" text-anchor="middle" class="bl" textLength="64.1" lengthAdjust="spacingAndGlyphs">16.1%</text>
<text x="1334.70" y="1317.20" text-anchor="middle" class="bl" textLength="66.5" lengthAdjust="spacingAndGlyphs">65.2%</text>
<text x="1335.90" y="1098.60" text-anchor="middle" class="bl" textLength="64.1" lengthAdjust="spacingAndGlyphs">18.7%</text>
<rect x="1470.80" y="1486.54" width="89.60" height="77.76" fill="#ff0000" stroke="#fff" stroke-width="1.4"/>
<rect x="1470.80" y="1146.78" width="89.60" height="339.76" fill="#000000" stroke="#fff" stroke-width="1.4"/>
<rect x="1470.80" y="1042.40" width="89.60" height="104.38" fill="#0000ff" stroke="#fff" stroke-width="1.4"/>
<text x="1516.90" y="1532.80" text-anchor="middle" class="bl" textLength="64.3" lengthAdjust="spacingAndGlyphs">14.9%</text>
<text x="1515.80" y="1324.10" text-anchor="middle" class="bl" textLength="66.5" lengthAdjust="spacingAndGlyphs">65.0%</text>
<text x="1515.60" y="1102.20" text-anchor="middle" class="bl" textLength="66.8" lengthAdjust="spacingAndGlyphs">20.0%</text>
<rect x="1064.50" y="1016.50" width="541.50" height="547.80" fill="none" stroke="#5f5f5f" stroke-width="1.6"/>
<line x1="1058.50" y1="1564.30" x2="1064.50" y2="1564.30" stroke="#5f5f5f" stroke-width="1.6"/>
<text x="1050.00" y="1573.45" text-anchor="end" class="tk">0</text>
<line x1="1058.50" y1="1459.92" x2="1064.50" y2="1459.92" stroke="#5f5f5f" stroke-width="1.6"/>
<text x="1050.00" y="1470.47" text-anchor="end" class="tk">20</text>
<line x1="1058.50" y1="1355.54" x2="1064.50" y2="1355.54" stroke="#5f5f5f" stroke-width="1.6"/>
<text x="1050.00" y="1367.49" text-anchor="end" class="tk">40</text>
<line x1="1058.50" y1="1251.16" x2="1064.50" y2="1251.16" stroke="#5f5f5f" stroke-width="1.6"/>
<text x="1050.00" y="1264.51" text-anchor="end" class="tk">60</text>
<line x1="1058.50" y1="1146.78" x2="1064.50" y2="1146.78" stroke="#5f5f5f" stroke-width="1.6"/>
<text x="1050.00" y="1161.53" text-anchor="end" class="tk">80</text>
<line x1="1058.50" y1="1042.40" x2="1064.50" y2="1042.40" stroke="#5f5f5f" stroke-width="1.6"/>
<text x="1050.00" y="1058.55" text-anchor="end" class="tk">100</text>
<line x1="1154.40" y1="1564.30" x2="1154.40" y2="1570.30" stroke="#5f5f5f" stroke-width="1.6"/>
<line x1="1335.40" y1="1564.30" x2="1335.40" y2="1570.30" stroke="#5f5f5f" stroke-width="1.6"/>
<line x1="1515.60" y1="1564.30" x2="1515.60" y2="1570.30" stroke="#5f5f5f" stroke-width="1.6"/>
<text x="1159.80" y="1622.40" text-anchor="middle" class="lb" style="font-size:43.3px">Scheduler</text>
<text x="1338.60" y="1622.40" text-anchor="middle" class="lb" letter-spacing="1.6">RVU</text>
<text x="1337.50" y="1677.40" text-anchor="middle" class="lb">model</text>
<text x="1517.00" y="1622.40" text-anchor="middle" class="lb">CPT</text>
<text x="1517.00" y="1677.40" text-anchor="middle" class="lb">model</text>
<text transform="translate(960.00,1306.80) rotate(-90)" x="0" y="0" text-anchor="middle" class="lb" style="font-size:42.75px">% Scheduler-predicted cases</text>
</svg>
</body></html>
